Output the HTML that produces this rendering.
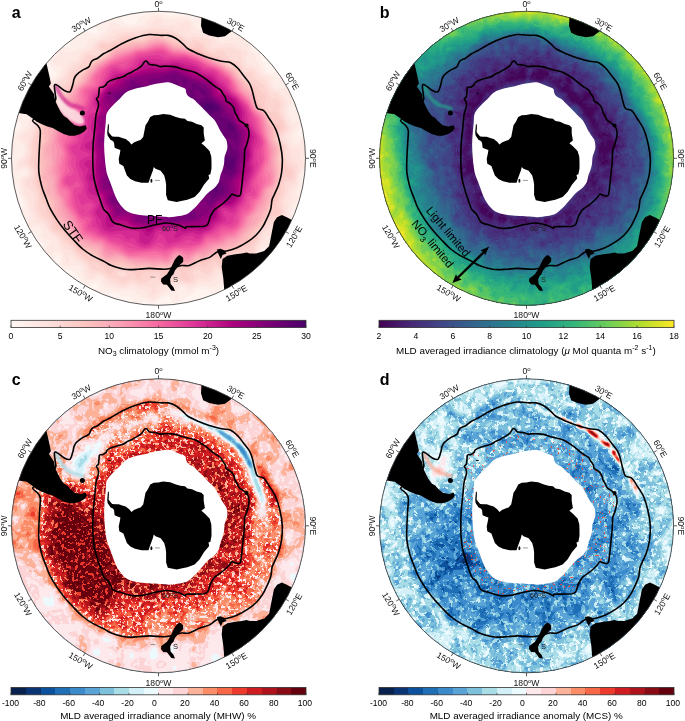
<!DOCTYPE html>
<html><head><meta charset="utf-8"><style>
html,body{margin:0;padding:0;background:#fff;}
svg{display:block;font-family:"Liberation Sans",sans-serif;will-change:transform;}
</style></head><body>
<svg width="685" height="721" viewBox="0 0 685 721">
<defs>
<clipPath id="cc"><circle r="147"/></clipPath>
<clipPath id="cstf"><path d="M-9.5 -123.8C-5.1 -124.2 -0.4 -123.1 2.8 -122.9C6 -122.8 7.5 -123.3 9.8 -122.9C12.1 -122.5 14.5 -121.6 16.8 -120.3C19.1 -119 21.8 -116.8 23.8 -115C25.9 -113.3 26.5 -111.6 29.1 -109.8C31.7 -108.1 36.1 -106.1 39.6 -104.5C43.1 -103 46.2 -101.8 50.1 -100.5C54 -99.3 59.4 -97.8 63 -97C66.6 -96.2 69.2 -96.8 71.8 -95.7C74.4 -94.6 76.5 -92.8 78.8 -90.5C81.1 -88.2 83.8 -84.3 85.8 -81.7C87.9 -79.1 89.8 -77 91.1 -74.7C92.4 -72.4 92.8 -70.6 93.7 -67.7C94.6 -64.8 95.4 -60.2 96.3 -57.2C97.2 -54.2 97.5 -51.4 99 -49.8C100.5 -48.2 103.5 -49.3 105.5 -47.5C107.5 -45.8 109 -42.4 111 -39.3C113 -36.2 115.4 -33.2 117.2 -29.1C119 -25 120.5 -19.4 121.6 -14.5C122.7 -9.6 123.6 -4.8 123.8 0.1C124 5 123.6 10.3 123 14.7C122.4 19.1 121.3 22.7 120.1 26.4C118.9 30 116.8 34 115.7 36.6C114.6 39.1 114.1 39.3 113.5 41.7C112.9 44.1 113 48.1 112.2 51C111.4 53.9 110.2 56.1 108.9 59C107.5 61.9 106 65.6 104.1 68.6C102.2 71.5 100.1 74.3 97.7 76.7C95.3 79.1 92.9 81 89.7 83.1C86.5 85.2 82 87.9 78.4 89.5C74.8 91.1 71.2 92 68 92.7C64.8 93.4 62 92.4 59.2 93.5C56.4 94.6 54 97.6 51.1 99.1C48.1 100.5 44.9 100.8 41.5 102.2C38.1 103.5 33.8 106.4 30.7 107.2C27.6 108 26 106.8 23.1 107.2C20.2 107.6 16.3 109.1 13.5 109.7C10.7 110.3 9.8 110.9 6 111C2.2 111.1 -4.8 110.1 -9.2 110.1C-13.6 110.1 -16.4 110.8 -20.5 111C-24.6 111.2 -29.4 111.6 -33.8 111C-38.2 110.4 -43.8 108.4 -47.1 107.2C-50.4 106 -50.6 105.2 -53.6 103.6C-56.6 102 -61.6 100 -65.3 97.8C-69 95.7 -72.5 93.4 -75.8 90.7C-79.1 88 -82 84.7 -85.1 81.4C-88.2 78.1 -91.8 74.2 -94.5 70.9C-97.2 67.6 -99.2 65.1 -101.5 61.6C-103.8 58.1 -106.6 53.6 -108.5 49.9C-110.4 46.2 -111.3 42.8 -112.7 39.2C-114.1 35.6 -115.7 32.3 -116.8 28.1C-117.9 23.9 -119.1 18.8 -119.6 14.2C-120.1 9.6 -119.7 4.9 -119.6 0.3C-119.5 -4.3 -119.1 -9 -118.9 -13.6C-118.7 -18.2 -117.9 -24.3 -118.2 -27.5C-118.5 -30.7 -119.7 -31.3 -121 -33C-122.3 -34.7 -126.3 -36.4 -125.9 -37.9C-125.5 -39.5 -121.4 -40.2 -118.5 -42.3C-115.6 -44.4 -111.1 -47.6 -108.5 -50.3C-105.9 -53 -103.9 -56.1 -103 -58.3C-102.1 -60.5 -103 -61.1 -103.2 -63.6C-103.4 -66.1 -104.5 -71.6 -104 -73.1C-103.5 -74.6 -101.9 -73.2 -100.3 -72.4C-98.7 -71.6 -96.5 -69 -94.5 -68C-92.5 -67 -90.1 -65.5 -88.6 -66.5C-87.1 -67.5 -86.4 -71.6 -85.7 -73.8C-85 -76 -85 -78 -84.3 -79.7C-83.6 -81.4 -82.8 -82.7 -81.3 -84.1C-79.8 -85.6 -77.4 -87.2 -75.5 -88.4C-73.6 -89.6 -71.2 -89.9 -69.7 -91.4C-68.2 -92.9 -68.2 -95.8 -66.7 -97.2C-65.2 -98.7 -62.8 -98.9 -60.9 -100.1C-59 -101.3 -57.2 -103.2 -55.1 -104.5C-52.9 -105.8 -51.2 -106.3 -48 -108C-44.8 -109.8 -39.8 -113 -35.7 -115C-31.6 -117.1 -27.9 -118.8 -23.5 -120.3C-19.1 -121.8 -13.9 -123.4 -9.5 -123.8Z"/></clipPath>
<clipPath id="cpf"><path d="M-14 -96.6C-13.3 -97.3 -12.8 -97.4 -12.2 -97.2C-11.6 -97 -11 -96 -10.5 -95.5C-10 -95 -10.1 -94.4 -9.3 -94C-8.5 -93.7 -7 -93.6 -5.8 -93.4C-4.6 -93.2 -3.5 -93.4 -2.3 -93.1C-1.1 -92.8 -0.2 -91.9 1.5 -91.7C3.2 -91.6 5.5 -92.3 8.1 -92.2C10.6 -92.2 13.9 -92 16.8 -91.4C19.7 -90.8 22.4 -89.6 25.6 -88.7C28.8 -87.8 32.9 -87.4 36.1 -86.1C39.3 -84.8 42.3 -82.6 44.9 -80.9C47.5 -79.2 49.6 -77.3 51.5 -75.8C53.4 -74.3 54.8 -73.1 56.5 -71.9C58.2 -70.7 60.7 -69.6 62 -68.4C63.3 -67.2 63.3 -66.3 64.1 -65C64.9 -63.7 66.3 -62.1 66.9 -60.8C67.5 -59.5 66.8 -58.3 67.6 -57.3C68.4 -56.3 70.5 -55.8 71.8 -54.6C73.1 -53.5 74.4 -51.9 75.2 -50.4C76 -48.9 76 -47 76.6 -45.6C77.2 -44.2 78 -43.4 78.7 -42.1C79.4 -40.8 79.8 -39.1 80.8 -37.9C81.8 -36.8 83.8 -36.1 84.9 -35.2C86 -34.3 86.9 -33.3 87.7 -32.4C88.5 -31.5 89.3 -31.1 89.8 -29.6C90.3 -28.1 90.7 -25.8 90.5 -23.3C90.3 -20.8 89.2 -17 88.5 -14.5C87.8 -12 86.8 -11.3 86.3 -8.3C85.8 -5.3 86 -0.4 85.7 3.5C85.4 7.4 84.9 11.4 84.5 15.3C84.1 19.2 83.8 23.5 83.3 27.1C82.8 30.7 82.7 35.4 81.6 37.1C80.5 38.8 78.3 37.3 76.9 37.1C75.5 36.9 74.3 35.6 73.3 35.9C72.3 36.2 72.4 37.4 71 38.9C69.6 40.4 67.1 43 65.1 44.7C63.1 46.4 60.5 48 59 49.2C57.5 50.4 56.9 50.3 55.8 51.7C54.7 53.1 53 55.9 52.2 57.6C51.3 59.3 51.2 60.6 50.7 62C50.2 63.4 49.9 65.2 49 66.2C48.1 67.2 47.7 67.5 45.5 67.9C43.3 68.2 38.6 68.2 35.6 68.3C32.6 68.4 29 68.2 27.5 68.5C26 68.8 27.8 70.2 26.8 70C25.8 69.8 24.5 68.3 21.6 67.4C18.7 66.5 13.4 64.8 9.3 64.7C5.2 64.5 0.8 65.8 -3 66.5C-6.8 67.2 -9.7 68.5 -13.5 69.1C-17.3 69.7 -21.6 70.4 -25.7 70C-29.8 69.6 -34.7 67.5 -38 66.5C-41.3 65.5 -43.5 65.7 -45.5 63.9C-47.5 62.1 -48.5 57.8 -50.1 55.7C-51.6 53.5 -53.4 53.3 -54.8 51C-56.2 48.7 -57.3 44.6 -58.3 41.7C-59.3 38.8 -60 37.3 -61 33.7C-62 30 -63.7 24.8 -64.5 19.8C-65.3 14.8 -65.6 9.2 -65.7 3.5C-65.8 -2.2 -65.6 -9.1 -65.3 -14.5C-65 -19.9 -64.3 -24.2 -63.8 -29.1C-63.3 -34 -63 -39.8 -62.4 -43.7C-61.8 -47.6 -60.3 -50.1 -60 -52.3C-59.7 -54.5 -60.4 -55.9 -60.7 -57.1C-61.1 -58.3 -62.2 -58.6 -62.1 -59.4C-62 -60.2 -60.5 -60.5 -60.1 -61.8C-59.7 -63.1 -59.7 -65.5 -59.5 -67C-59.3 -68.5 -59.5 -70.1 -58.9 -70.8C-58.3 -71.5 -57.1 -70.7 -56 -71.1C-54.9 -71.5 -53.3 -72.6 -52.5 -73.4C-51.7 -74.2 -52.2 -75 -51.3 -75.8C-50.4 -76.6 -48.7 -77.5 -47.2 -78.1C-45.7 -78.7 -44 -79.2 -42.5 -79.6C-41 -80 -39.8 -80.4 -38.5 -80.7C-37.2 -81.1 -36.3 -81.1 -35 -81.7C-33.7 -82.3 -32.3 -83.7 -30.9 -84.4C-29.5 -85.1 -28 -85.5 -26.8 -86.1C-25.6 -86.7 -25.1 -87.2 -23.9 -87.9C-22.7 -88.6 -21.1 -89.3 -19.8 -90.2C-18.5 -91.1 -17.3 -92 -16.3 -93.1C-15.3 -94.2 -14.7 -95.9 -14 -96.6Z"/></clipPath>
<filter id="bl1" x="-20%" y="-20%" width="140%" height="140%"><feGaussianBlur stdDeviation="0.9"/></filter>
<filter id="n1" x="-150" y="-150" width="300" height="300" filterUnits="userSpaceOnUse" color-interpolation-filters="sRGB"><feTurbulence type="fractalNoise" baseFrequency="0.22" numOctaves="2" seed="3"/><feColorMatrix type="matrix" values="0 0 0 0 1  0 0 0 0 1  0 0 0 0 1  1 0 0 0 0"/><feComponentTransfer><feFuncA type="discrete" tableValues="0 0 0 0 0 0 0 0 0 0 0 0 0 0 0 0 0 0 0 0 0 0 0 0 0 0 0 0 0 1 1 1 1 1 1 1 1 1 1 1 1 1 1 1 1 1 1 1 1 1"/></feComponentTransfer></filter><mask id="mn1" maskUnits="userSpaceOnUse" x="-150" y="-150" width="300" height="300"><rect x="-150" y="-150" width="300" height="300" fill="#fff" filter="url(#n1)"/></mask><filter id="n2" x="-150" y="-150" width="300" height="300" filterUnits="userSpaceOnUse" color-interpolation-filters="sRGB"><feTurbulence type="fractalNoise" baseFrequency="0.22" numOctaves="2" seed="7"/><feColorMatrix type="matrix" values="0 0 0 0 1  0 0 0 0 1  0 0 0 0 1  1 0 0 0 0"/><feComponentTransfer><feFuncA type="discrete" tableValues="0 0 0 0 0 0 0 0 0 0 0 0 0 0 0 0 0 0 0 0 0 0 0 0 0 0 0 0 0 0 1 1 1 1 1 1 1 1 1 1 1 1 1 1 1 1 1 1 1 1"/></feComponentTransfer></filter><mask id="mn2" maskUnits="userSpaceOnUse" x="-150" y="-150" width="300" height="300"><rect x="-150" y="-150" width="300" height="300" fill="#fff" filter="url(#n2)"/></mask><filter id="n6" x="-150" y="-150" width="300" height="300" filterUnits="userSpaceOnUse" color-interpolation-filters="sRGB"><feTurbulence type="fractalNoise" baseFrequency="0.45" numOctaves="1" seed="23"/><feColorMatrix type="matrix" values="0 0 0 0 1  0 0 0 0 1  0 0 0 0 1  1 0 0 0 0"/><feComponentTransfer><feFuncA type="discrete" tableValues="0 0 0 0 0 0 0 0 0 0 0 0 0 0 0 0 0 0 0 0 0 0 0 0 0 0 0 0 0 0 0 0 0 0 0 1 1 1 1 1 1 1 1 1 1 1 1 1 1 1"/></feComponentTransfer></filter><mask id="mn6" maskUnits="userSpaceOnUse" x="-150" y="-150" width="300" height="300"><rect x="-150" y="-150" width="300" height="300" fill="#fff" filter="url(#n6)"/></mask><filter id="n5" x="-150" y="-150" width="300" height="300" filterUnits="userSpaceOnUse" color-interpolation-filters="sRGB"><feTurbulence type="fractalNoise" baseFrequency="0.3" numOctaves="2" seed="17"/><feColorMatrix type="matrix" values="0 0 0 0 1  0 0 0 0 1  0 0 0 0 1  1 0 0 0 0"/><feComponentTransfer><feFuncA type="discrete" tableValues="0 0 0 0 0 0 0 0 0 0 0 0 0 0 0 0 0 0 0 0 0 0 0 0 0 0 0 0 0 1 1 1 1 1 1 1 1 1 1 1 1 1 1 1 1 1 1 1 1 1"/></feComponentTransfer></filter><mask id="mn5" maskUnits="userSpaceOnUse" x="-150" y="-150" width="300" height="300"><rect x="-150" y="-150" width="300" height="300" fill="#fff" filter="url(#n5)"/></mask><filter id="n3" x="-150" y="-150" width="300" height="300" filterUnits="userSpaceOnUse" color-interpolation-filters="sRGB"><feTurbulence type="fractalNoise" baseFrequency="0.15" numOctaves="2" seed="11"/><feColorMatrix type="matrix" values="0 0 0 0 1  0 0 0 0 1  0 0 0 0 1  1 0 0 0 0"/><feComponentTransfer><feFuncA type="discrete" tableValues="0 0 0 0 0 0 0 0 0 0 0 0 0 0 0 0 0 0 0 0 0 0 0 0 0 0 0 0 0 0 1 1 1 1 1 1 1 1 1 1 1 1 1 1 1 1 1 1 1 1"/></feComponentTransfer></filter><mask id="mn3" maskUnits="userSpaceOnUse" x="-150" y="-150" width="300" height="300"><rect x="-150" y="-150" width="300" height="300" fill="#fff" filter="url(#n3)"/></mask><filter id="n4" x="-150" y="-150" width="300" height="300" filterUnits="userSpaceOnUse" color-interpolation-filters="sRGB"><feTurbulence type="fractalNoise" baseFrequency="0.15" numOctaves="2" seed="13"/><feColorMatrix type="matrix" values="0 0 0 0 1  0 0 0 0 1  0 0 0 0 1  1 0 0 0 0"/><feComponentTransfer><feFuncA type="discrete" tableValues="0 0 0 0 0 0 0 0 0 0 0 0 0 0 0 0 0 0 0 0 0 0 0 0 0 0 0 0 0 0 1 1 1 1 1 1 1 1 1 1 1 1 1 1 1 1 1 1 1 1"/></feComponentTransfer></filter><mask id="mn4" maskUnits="userSpaceOnUse" x="-150" y="-150" width="300" height="300"><rect x="-150" y="-150" width="300" height="300" fill="#fff" filter="url(#n4)"/></mask><path id="va1" d="M-5.3 -146L-1 -146.2L12 -142.1L20 -143.4L28 -142.4L36 -139.8L42 -142L43.9 -141L45 -139L44.7 -137L42.9 -133L44.4 -131L46.8 -130L52 -128.6L54 -128.6L59 -131.7L62 -132.3L64 -131.6L69 -127.2L76 -127L92 -120.9L98 -120.8L102 -122L105 -121.2L107.4 -119L107.7 -117L106.1 -116L103 -115.2L97 -114.1L95.2 -113L94.3 -111L95.5 -108L100.9 -104L102 -102.6L103.2 -98L105.9 -93L107 -87.4L110 -85.5L114 -85.4L117 -86.9L119 -90.2L120 -90.9L122 -90.5L123.7 -88L127 -77.5L134 -72.1L135.6 -69L137.5 -62L138.7 -61L142 -60.6L142.9 -60L144 -57L143.9 -52L141.4 -46L144.2 -34L143 -31.2L139.6 -27L138.8 -24L140 -22.5L145 -21.8L150 -18.5L150 -2.9L149.3 0L150 3.1L150 12.7L146 14.6L144 17.1L143.7 20L144.7 26L142 32L142.4 34L144.5 38L144.4 40L143 42L138.5 46L137 49L135.2 56L135 62.8L133.4 68L133.9 73L133.2 76L131 77.5L124 78.2L121 79.9L119.8 82L117.5 90L116 93.3L109 103.3L104 109L103 109.3L91 107.8L88 108.5L86.3 111L86.2 121L85.3 123L82 123.7L70 123L67 123.9L65.1 126L61.7 132L59.8 139L58 140.3L52 141.5L48 145.3L46 146.4L37 146.3L35 145.2L34.5 144L35 141.7L37 140.2L47 139.8L51 138.5L52.9 137L53.3 135L52 133.4L48.8 132L44 130.9L41 130.8L39 131.5L34 136.9L27 139L21 145L17 146.3L14.1 145L11.4 139L9 137.5L7 137.9L-3 143.7L-6 144.9L-8 144.9L-14 143.5L-21 144.4L-24.8 143L-27.5 139L-29 138.1L-35 138.6L-39.7 136L-44 134.4L-47 134.5L-50 135.9L-56 135L-62 136.3L-64.5 135L-67 132.3L-73 132.5L-73.6 131L-73.3 128L-73.9 126L-84.3 114L-88 111.9L-96 111.1L-98.1 110L-100.1 108L-100.5 107L-98.8 104L-98.1 101L-98.5 99L-100 97.3L-102 97.4L-103.3 99L-103.9 102L-103.5 106L-105 106.7L-109 106L-115 101L-116.7 98L-117.3 95L-117 93L-114.7 88L-114.8 86L-119.4 82L-123 75L-125 74L-130 73.3L-132 71.9L-133.4 70L-135.3 63L-137.9 59L-138.4 57L-138.1 54L-135.7 50L-135.1 48L-135.3 43L-138.6 37L-142 28.3L-144 26.5L-147 27.1L-148 26.9L-148.5 26L-148 24.5L-145.3 22L-144.9 21L-145.4 19L-150 11.4L-150 6.8L-147 4L-146.2 1L-147 -2L-150 -5.2L-150 -17.7L-146.7 -20L-143 -25.6L-138.6 -29L-137.1 -31L-136.9 -34L-137.5 -35L-141 -35.7L-143 -37.2L-143.6 -39L-143 -41.6L-141 -43.6L-133.3 -47L-131.2 -49L-130.6 -51L-131 -53L-132.3 -55L-139.1 -59L-140.1 -61L-140.1 -63L-130 -75.8L-126 -78.9L-114 -82L-106 -80.5L-103 -82.1L-101.9 -84L-102 -85L-107.9 -92L-108.8 -96L-108 -99L-103.8 -105L-102.2 -110L-101 -111.8L-98 -112.9L-92 -110.9L-89 -111.3L-87.9 -113L-87.7 -116L-87 -118L-85 -120.2L-79.7 -123L-79.3 -126L-78 -127.6L-76 -127.6L-64 -123.6L-61.5 -124L-60.5 -125L-60 -127L-62.8 -131L-62.8 -133L-61.1 -135L-55 -138.4L-48 -139.3L-42 -141.6L-40 -141.6L-38 -140.6L-35.9 -137L-33.8 -135L-30 -133.8L-26 -133.9L-21.6 -136L-19 -140.1L-17 -142.2L-15 -143.2L-10 -143.8ZM134 -50.1L133.6 -49L134 -48.4L135 -48.2L135.9 -49L135.5 -50ZM-64 125L-67 125.6L-68.7 127L-68.6 129L-67 131.4L-65 131.6L-61 130.6L-59.5 129L-60.3 126L-62 125.1ZM-98.7 -145L-97 -145.1L-95 -142.7L-91 -141.8L-89.7 -141L-88.6 -139L-88 -136L-88.1 -134L-89 -132.7L-90 -132.4L-92 -133L-95.2 -136L-99 -142L-99.2 -144ZM136 81L137 80.4L139 80.7L142.8 83L143 86.3L142 88.5L141 89.3L139 89.5L136.8 88L135.4 84ZM-150 118L-143.9 124L-142.6 126L-142.6 128L-144 130.9L-146 132.6L-148 133.3L-150 132.7ZM148.9 118L150 117.7L150 131.3L149.2 126L147.4 121L147.7 119ZM-77.2 137L-75 136.3L-74 139L-75 141.2L-82 146L-84 145.8L-85.2 145L-86.2 143L-85.1 141L-80 139.3ZM-36.3 142L-34 141.6L-32 142.8L-31 144L-31.4 146L-34 147L-36.8 146L-37.8 144ZM131.2 148L133 147.4L133.7 148L132 148.7Z"/><path id="va2" d="M-4.7 -143L-2 -143.8L0 -143.5L9 -139.7L12 -139L21 -140.3L31 -139L33.8 -137L37 -130.8L39.3 -129L54 -125.2L56 -125.3L60 -127L61 -126.8L62.4 -125L61.2 -119L62 -117.5L63 -117.1L66.7 -118L72 -121.5L74 -122.1L83 -120.9L86.6 -119L89.4 -116L92.1 -108L97 -102.7L97.9 -97L102 -92.7L104.5 -86L107 -84.2L114.4 -82L115.5 -81L114.1 -76L114.3 -74L115 -72.5L117 -71.1L122 -70.3L125 -69.2L126.2 -71L128 -71.6L130 -71.4L132 -69.8L133 -67L132.5 -61L133.5 -56L130.1 -51L129.8 -47L132.6 -39L134 -36.9L136 -35.7L139 -36.5L140 -36.2L140.5 -35L140.1 -33L136.3 -28L134.3 -24L133.6 -20L133.9 -17L135 -15.1L137 -14.5L139 -15.1L143 -18.1L146 -17.7L150 -15.4L150 -8.6L147 -6.3L145.6 -2L146 1L148.1 7L147.9 9L144 13L142.1 16L141.5 19L141.3 26L136.8 34L137.3 36L140 38.2L140.2 40L135.2 45L133.7 48L132 55L132.3 61L130.5 68L131 72L130.7 74L129 75.4L123 76L120 77.8L117.2 82L114.8 90L113 93.1L110 94.7L108.9 94L106.6 89L105 88.5L103.3 90L102.5 92L102 95L102.7 100L101 102L96 104.4L87 104.3L82.9 106L79 108.6L77 111.1L76.5 115L77 116.4L78 117.2L81 117.4L81.6 118L81 119.4L77 119.1L73 120.2L65 121.1L63.5 122L59 126.8L55 128.8L51 128.7L43 127.2L40 127.4L37 128.9L33 133L31 133.8L28.5 133L25.9 129L24 128.3L22 128.4L19.4 130L17 133.7L13 133L7 134L5 135.1L-1 140.4L-6 142.6L-8.9 142L-17 138.3L-22.9 134L-27 132L-30 131.9L-37 132.9L-46 130.6L-52 130.2L-54 128.5L-57 123L-59 121.2L-68 122.5L-71 122.4L-73 121.6L-74.9 120L-76.1 118L-76.9 115L-77.2 110L-78 108.3L-81 107.3L-91 108L-94.6 107L-95.7 105L-96.3 98L-98 95.4L-101 92.9L-103 92.6L-104 93.3L-107 97.9L-109 99.3L-111 99.2L-113.1 98L-114.4 96L-114.2 93L-108.8 85L-108.4 83L-109.4 82L-115 80.2L-116.6 79L-117.5 76L-116.4 71L-118 69.1L-122 68.4L-129 69.5L-130.1 69L-131.3 67L-131 62.2L-129 58.6L-128.8 57L-131.2 51L-132.7 42L-137.2 34L-139.4 23L-139 20.7L-138 19.1L-133 17.5L-131.1 16L-130.9 13L-132.6 11L-134 10.7L-140 13.3L-142 13.3L-143.1 12L-143.3 10L-142.8 6L-141.7 3L-135.4 -3L-134 -5.3L-133.5 -8L-134.4 -12L-141.7 -19L-141.6 -22L-140.2 -24L-133.7 -29L-130 -34.5L-129 -42L-126 -45.5L-124.7 -49L-125 -51.7L-126.7 -54L-130 -57.4L-136 -61.7L-136.3 -63L-135.8 -65L-132.9 -70L-130 -73.4L-128 -74.9L-125 -75.7L-123 -75.3L-121.5 -74L-120.7 -67L-119 -65.8L-116 -65.4L-113.9 -68L-115 -74L-114 -76.5L-112 -77.6L-107 -77.9L-104 -78.7L-99.6 -82L-97.7 -85L-97.2 -90L-98 -91.4L-99 -91.8L-102 -92L-104 -92.9L-105.7 -95L-106 -97L-105 -99.3L-101.5 -103L-99 -108.1L-97 -108.4L-93 -106.2L-90 -106L-84 -107.3L-79 -109.8L-73.1 -111L-72 -112.1L-71 -117L-70 -119.2L-68 -120.3L-62 -120.4L-58.4 -122L-55 -125.2L-50.9 -128L-49.8 -130L-49.5 -134L-48.8 -135L-47 -135.9L-43 -135.6L-37.9 -133L-34 -131.7L-30 -130.9L-26.8 -131L-18 -133.5L-13.2 -134L-13.3 -137L-12.8 -138ZM-149 -15L-147 -15.5L-145 -14.9L-144 -11L-145.1 -8L-147 -7.8L-150 -9.9L-150 -14.3ZM16.7 136L17 135.1L18 135.3L19.5 138L20 140L19 141.8L18 142L16.4 140L16.2 138Z"/><path id="va3" d="M-2.2 -140L0 -140.2L2.4 -139L3.5 -137L3.9 -134L5 -133.3L7 -132.9L13 -133.9L15 -133.7L18 -130.8L20 -130.1L20.9 -131L18.3 -134L19.4 -135L27 -136.4L30 -136.3L32.3 -134L32.8 -130L31 -126.7L28.6 -125L29 -124.6L34 -125.3L42 -124L47 -124.1L50 -123.5L55.7 -121L58.2 -116L60 -114.2L63 -113.8L72 -115.3L74 -115.2L81 -110.5L86 -109.2L87.9 -108L89.3 -105L86.8 -99L88 -95.4L90 -93.8L97 -91.8L98.9 -90L102 -84.3L110.2 -80L111.6 -74L113 -70.9L115 -69.1L121 -66.5L128 -57L128.5 -55L127 -49L127 -46L129 -38.9L133.3 -31L132.1 -27L128.5 -22L128.5 -20L133 -12.3L135 -10.8L139.4 -10L141 -8.8L141.5 -6L141.1 -1L144.3 5L144.6 7L140.1 16L138.9 26L137.6 28L134.2 31L132.8 34L131.9 40L130 44.4L129.7 49L128.2 56L128.7 62L126.3 71L125 72L121 72.2L117 77.4L114 79.7L112 79.2L109.1 77L108 77.2L105.6 82L100.9 88L99.3 97L97.5 100L94 101.5L86 101.6L80 103.8L76 107.2L72.3 116L70 117.7L66 117.7L60 115.2L59 115.5L55.5 121L52 123.4L49 124.2L41 123.8L32 129.1L30 128.7L25 126.3L19 125.8L16 126.1L10 129.5L4 131.4L-1.3 138L-4 139.8L-6 140.2L-8 139.4L-9 138.4L-10.7 134L-12 132.4L-19 130.7L-25 127.4L-27 127.2L-34 129.6L-39 129.9L-51 125.3L-55.7 119L-58 117.5L-61 117.3L-64 119.3L-66 119.9L-70 119.2L-71.6 118L-72.6 116L-73.2 110L-74.6 107L-77 105.2L-83.4 102L-88 97.1L-90.3 97L-90.2 99L-89 102L-89.2 103L-91 103.9L-92 103.5L-93.5 97L-98 91L-100.4 84L-102.7 80L-109.4 75L-115 66.2L-117 65.2L-122 64.2L-123.7 63L-124.9 56L-128.9 48L-130.1 40L-134.3 34L-136.6 24L-135.6 21L-132 19.1L-129.4 17L-128.6 15L-128.9 13L-130 11L-132 9.2L-134 8.6L-138 9L-139 8.6L-139.8 7L-138.9 4L-133.2 -2L-131.4 -8L-131.6 -11L-133 -16.6L-136 -19.2L-136.9 -21L-136.8 -22L-135.1 -24L-132 -25.4L-131 -26.4L-125.6 -34L-124.9 -36L-124.7 -41L-122.2 -51L-122.4 -56L-124.5 -58L-126.3 -61L-131 -62.7L-132.4 -64L-132.6 -67L-130.1 -71L-127 -72.9L-124.6 -72L-124.1 -70L-125.1 -64L-124.9 -63L-124 -62.3L-119 -60.6L-114 -61L-112 -62.7L-110.7 -65L-111.3 -72L-110.8 -74L-109 -75.2L-102 -77.5L-98.4 -80L-94.8 -84L-92.7 -91L-90 -94.9L-88 -96.6L-83 -97.8L-81 -99L-77.4 -106L-70 -109.1L-68 -111L-64.8 -116L-50 -122.8L-46 -127.5L-44 -128.9L-39 -128.5L-28 -128.7L-19 -130.6L-14 -130.4L-11 -130.9L-8.1 -133L-5.2 -137Z"/><path id="va4" d="M-6.5 -130L-3 -130.7L4 -129.3L12 -129.4L29 -120.4L36 -121.8L43 -120.2L49 -120L51.5 -119L53 -117L52.9 -116L51 -113L51.8 -111L53 -110.2L55 -110L65 -111.4L70 -110.7L74 -110.8L82.7 -106L83.5 -104L83.3 -99L86.7 -91L88 -90.2L93 -90.2L95.6 -89L99.4 -82L107 -77.9L112 -67.7L114 -66.1L118 -65.1L120 -63.8L124.3 -57L125.2 -54L123.9 -48L123.9 -46L130.3 -31L129.5 -28L125.1 -23L124 -20L125 -18.1L128.2 -15L129.8 -12L131 -5.4L133.4 -2L133.2 2L133.9 4L139 6L140.3 8L138.3 16L137 24L135 25.9L130.5 27L129.1 35L125.3 43L126.5 50L124.7 62L124 63.2L122 64.6L113 66.2L110.5 70L104.8 74L103.8 76L102.9 81L98.6 88L97.5 95L96 97.9L94 98.9L87 98.6L79 100.4L77 101.8L74.4 105L71 112.8L69 114.8L66 114.9L60 111.2L58 111L56.8 112L53.6 117L51 119.2L47 120.3L41 119.4L36 124.1L33 126L31 126.3L16 122.6L14 123.2L10 125.9L8 126.6L1 126.3L-1 126.8L-3 129L-2.6 132L-3 134.3L-4 135.7L-5 136.1L-6 135L-7.2 130L-9 128.6L-18 127.4L-26 124.2L-28 124.5L-34 127L-39 127L-50 121.6L-57 115.6L-61 114.7L-67 115.7L-68.8 114L-71.3 108L-73 105.5L-81 100L-88 91.8L-94.1 90L-100.4 79L-108 73L-112.9 65L-119 60L-120.5 58L-124.2 50L-124.6 48L-123.3 39L-123.8 36L-132 28.1L-133.4 25L-133 22.5L-127.1 18L-126.4 16L-126.5 14L-127.2 12L-129 9.4L-134.5 5L-134.4 4L-130.8 -2L-129.8 -5L-129.3 -9L-129.7 -16L-126.4 -26L-122.1 -35L-121.7 -43L-119.3 -53L-118 -55.4L-116 -56.2L-111 -56.9L-109.2 -58L-107.7 -60L-106 -65L-108.2 -71L-107.5 -73L-100 -75.8L-95 -79.8L-92.4 -83L-90 -88.3L-88.1 -91L-79.3 -97L-75 -104.4L-66 -108.2L-64.6 -110L-62.8 -114L-60 -116.4L-56 -118L-48.3 -119L-46 -120.2L-41.4 -124L-37 -125.5L-12 -128.4Z"/><path id="va5" d="M-8.9 -127L-3 -127.1L14 -125.4L21.7 -122L30 -116.3L31 -116.2L36 -118.6L42.6 -117L45.6 -115L48.1 -110L51 -107.1L55 -105.9L62 -108L65 -107.4L68 -103L71.8 -99L75 -97.5L79 -97L81 -95.8L86 -85.8L88 -85.3L92 -86.7L93.4 -86L95.2 -80L101.7 -76L105.3 -73L113 -59.4L114 -59.1L118 -59.7L120 -58L121.1 -56L121.6 -53L120.6 -49L120.8 -46L126.9 -34L127.7 -31L126.5 -28L121.3 -22L120.8 -19L122.3 -17L125.9 -14L127.1 -12L127.3 -9L126 -4L126.6 -1L130.5 6L135.2 9L136.5 11L136 18L135 21.1L133 22.3L128 22.9L126.2 25L126.3 33L122.4 42L121.6 45L124 52L122.5 59L120 61.3L113 62L111 62.9L106.6 69L103 72.5L101.7 75L100.5 81L96.1 88L95 93.7L94.3 95L92 95.6L86 94.7L76 96.9L71.5 99L70 101L70.7 105L70.4 108L69.6 110L68 111.7L65 111.6L60 107.9L57 107L55 108.5L52 114.2L49 116.2L47 116L41 111.8L39 111.5L36.9 112L34.1 114L34 115L35.8 119L35.5 121L33.9 123L31.5 124L28 123.8L22 122.3L20 121L17 117.8L15 118.6L9 123.1L5 123.5L2 122.5L-0.2 121L-1.9 117L-3 116.5L-5 117L-6.2 120L-7.9 122L-12.8 124L-16 124.6L-19 124.4L-26 120.6L-28 120.3L-32 123.6L-35 124.4L-37 123.8L-41 120.9L-47 120.2L-49 119.5L-56 113.6L-64 111.6L-66 110.6L-70.5 105L-79 98.7L-87 88.7L-94 83.3L-98.9 77L-106.2 72L-108.3 69L-110 63.4L-115 59.4L-117 57L-121 48.7L-120.2 40L-120.7 35L-125.9 25L-125.9 23L-124.1 17L-124.2 13L-125.5 10L-129 6L-130 4L-127.2 -2L-126.6 -7L-127.2 -14L-123.1 -27L-119.8 -35L-119.1 -44L-117.8 -49L-116 -52.2L-109 -54.6L-105.8 -57L-102.6 -64L-102.6 -69L-102 -70.6L-97 -71.9L-91.2 -76L-90.6 -77L-89.8 -82L-88 -85.6L-86 -87.5L-80 -91.2L-75.7 -97L-72.8 -102L-70.8 -103L-67 -103.5L-60 -102.3L-57 -104L-56.6 -105L-56.9 -106L-60 -108.3L-60.9 -110L-60.6 -113L-58.7 -115L-56 -116L-50 -115.9L-45.7 -117L-42 -118.6L-37 -122.2L-33 -123.4L-26 -123.7L-20 -122L-18 -122L-14 -125.7ZM-40 112.6L-41 113.6L-41.3 115L-40.6 117L-39 118.7L-34 118.5L-31.5 117L-31.9 115L-33 114L-37 112.4Z"/><path id="va6" d="M-11.3 -124L-8 -124.9L0 -124.8L4.2 -124L10 -121.6L15 -122L17 -121.6L21.8 -119L26.6 -114L31 -111.7L34 -111.9L36 -113.8L38 -114.8L41 -114.4L43.1 -113L47.2 -107L50 -105L55 -103.3L61 -102.3L68 -96.8L72.1 -95L78 -93.7L80 -92.4L81.8 -89L83 -82.8L89.8 -77L97 -73.7L99.4 -71L102.5 -66L107 -62.3L107.6 -60L105.7 -54L106.2 -52L108 -49.3L111 -46.6L113 -46.5L115 -47.3L116 -46.8L122.3 -39L124.6 -34L125.1 -31L123.6 -28L118.9 -23L118.4 -20L120 -16.3L123.8 -13L124.8 -11L124.8 -9L123 -2.5L123.3 1L128 7.6L133 12L133.8 14L133.8 16L133 18L131 18.9L128 19L126 19.7L124.3 22L123 25L121.7 37L118 47L118.5 49L121 52.3L121.1 54L120.4 56L119 57.2L118 57.4L114 56.9L110 59.7L105.3 67L100.1 73L98.5 80L92 89L90 90.2L85 91.1L80 93.2L74 94.7L68 97.6L66.6 99L65.9 101L67 106L67 107L66 108.1L64 107.5L59 104L55 103.3L53 104.2L48 108.6L45 108.9L41 107.8L39 107.8L31.8 111L30 112L28.4 114L28.5 116L30.7 120L30.2 121L29 121.4L25 121.2L23.1 120L22.5 118L22.6 114L20.9 112L18 110.8L15.1 112L10.4 119L7 120.9L4 120L3 118.9L1 114.4L0 113.6L-2 113.2L-14 113.6L-16 115L-18 119.4L-20 120.2L-22.1 119L-25 114L-27 112.2L-38 108.9L-40.2 109L-43 110.2L-44.9 112L-47 115.8L-48 115.9L-57 108.5L-61 103.9L-63 103.2L-67 103.6L-74 99.8L-81 93.8L-86 86.4L-92.1 81L-95.8 76L-102.9 72L-105.1 70L-106 68L-106 63L-107 61L-111.2 57L-112.3 55L-112.7 47L-113.5 46L-116 44.5L-117 43L-118.9 34L-122.3 25L-121.7 11L-124.3 6L-124.8 4L-123.4 -1L-122.6 -7L-123.4 -15L-121 -26L-116 -39.9L-114 -43.8L-112.5 -49L-104.4 -55L-99 -63.5L-95 -67.1L-91.7 -71L-86 -76L-84.9 -80L-86.1 -82L-85 -83.9L-83 -84.5L-81 -84L-79 -85.1L-72 -92L-68 -97.4L-58.4 -101L-52.1 -106L-51.6 -107L-52 -108L-57.4 -111L-57.6 -112L-57 -113L-55 -113.6L-51 -113.1L-49 -113.6L-41 -116.1L-35 -119.6L-31 -120.6L-28 -120.8L-22 -119.4L-17 -119.3L-13.4 -121Z"/><path id="va7" d="M-8.3 -122L-3 -122.8L2 -122.5L10.2 -119L22 -114.9L31 -110.5L35 -109.8L40 -110.6L44.7 -106L48.1 -104L59 -99.4L72 -92L78.1 -90L79.4 -88L79.9 -85L81.7 -82L90 -73.1L94 -71.3L96 -69.4L100.7 -55L112.8 -40L114 -34.8L116 -33.7L119 -34.6L120 -34.4L121.1 -33L121.3 -30L117.4 -25L116.9 -21L118 -17L122.4 -11L122.6 -9L121.3 -3L121.2 1L124.5 11L123 15L121.6 22L118.8 31L118.9 38L118 40.9L114 46L111.7 52L104.3 65L96.4 74L95.2 80L91 85.9L89 87.1L84 88.2L79 91L73 92.8L66 95.8L64.1 97L62 99.8L61 100.3L56 99.3L52.6 100L48 104.1L46 105.1L44 105.2L41 103.9L39 103.9L34 108L26 110.4L19 108.3L15 108.7L11.3 111L8.4 116L7 116.9L5.8 116L4.4 112L3 111L-6 111.4L-14 110.3L-21 111.2L-38 106.7L-42.5 107L-47 108.2L-49 107.9L-56 104.1L-62 99L-68.5 95L-74 95.3L-79 92.9L-81 90.8L-84.5 85L-89.3 80L-93.4 74L-96 72.3L-100 70.8L-102.3 69L-103.9 62L-108.7 54L-109.5 45L-111 42.5L-114.6 40L-116 38L-119.7 26L-120.4 22L-120.3 18L-118.9 11L-119 8.9L-120.9 3L-118.4 -17L-119 -23L-117.1 -30L-111.3 -42L-109.9 -47L-108.7 -49L-102.6 -54L-97.9 -61L-93 -65.7L-89.6 -70L-81.2 -78L-76.8 -84L-67 -94.7L-64.1 -97L-57.7 -100L-51.8 -104L-50 -106L-47 -111.5L-45 -112.6L-40 -113.5L-28 -117.3L-16 -117.8Z"/><path id="va8" d="M-2.4 -121L4 -120.2L16 -114.7L23 -112.9L31 -109.5L40 -107.4L47 -103.5L61 -97L74.8 -89L77 -87.1L80 -82L94 -66.6L96.9 -61L99.2 -54L105 -47.5L108.3 -43L112.2 -34L115.4 -29L115.7 -19L120.7 -10L119.5 1L121.1 10L120 22L118.6 27L116.5 32L116.1 38L115.5 40L112 45.3L109.3 52L103.6 63L100 67.5L91.9 75L90.7 77L88.9 83L84 84.5L78 88.7L53 97.8L47 101.7L45 102.3L40 101.6L38.1 102L34 105.7L31 107.3L25 107.8L17 106.3L9 109.4L2 108.8L-5 109.9L-13 108.4L-22 108.9L-37 104L-45 104.8L-52 103.6L-57 101.1L-63 94.5L-65.5 93L-69 91.8L-76 91.4L-78 90.6L-91.5 73L-95 69.7L-99 67.2L-100 66L-105.9 54L-106.6 46L-107.4 43L-109 40.7L-113.7 37L-114.8 35L-118.5 20L-116 9L-117.9 0L-117.1 -10L-116.3 -13L-114 -17L-113.5 -19L-114.8 -25L-114.6 -29L-112.8 -34L-109.7 -40L-107.8 -46L-106.5 -48L-101.3 -53L-97 -59L-91 -65L-87.1 -70L-78 -78L-73.8 -85L-65.7 -94L-63.2 -96L-57 -99.1L-51 -103L-45 -109.9L-35 -113.3L-25 -116L-15 -116.4L-8 -120.1Z"/><path id="va9" d="M-5.9 -119L-1 -119.7L4 -118.9L8.6 -117L16 -112.8L23 -111.4L32 -108.1L39 -106.6L60 -96.4L75 -87.2L79.1 -81L83.7 -76L86.2 -72L93 -65.2L95.8 -60L98 -52.7L105 -46L107.8 -42L113.7 -28L113.8 -22L114.5 -18L118.7 -11L119.3 -9L117.8 1L119.1 11L119 20L118.3 24L117 27.6L113.7 33L113.2 39L110.3 44L108 50.3L104.4 56L102 62L100.7 64L98 67L90.1 73L87.6 76L85 80.5L77 87L67 90.8L60 92.5L52 96.4L46 100.3L44 100.5L40 99.5L38 99.9L33 104.6L29 106.2L24 106.1L17 104.2L9 107.7L2 107L-5 108.4L-12 106.8L-22 106.9L-38 101.1L-40 101.1L-46 102.3L-51 102.1L-54 101.2L-57 99.1L-60.7 93L-62 91.7L-69 89.5L-74 88.9L-76.6 88L-83 81L-91.8 70L-94.4 66L-99 61.8L-102 57L-103.7 52L-104.2 43L-107 38.3L-112 34L-112.2 31L-110.7 28L-110.5 26L-111.4 24L-114.9 21L-115.6 19L-111.6 5L-112.2 3L-114.7 -1L-115 -10L-114.4 -12L-111.7 -16L-110.5 -19L-110.1 -32L-106.6 -43L-104.3 -47L-95.4 -58L-89 -64.5L-85 -70L-76.6 -77L-72 -85L-64 -93.7L-50 -102.2L-44 -108.5L-24 -114.2L-15 -114.9Z"/><path id="va10" d="M-2.7 -118L1 -118.2L4 -117.6L8.1 -116L15 -111.5L24 -109.9L32 -107.1L39 -105.5L61 -94.7L73.3 -87L81.8 -76L85.1 -70L91 -65L93 -62.4L94.7 -59L96.1 -54L97.5 -51L104 -45.5L106.6 -42L111.8 -28L112.1 -22L113 -18L117.4 -9L117.4 -6L116 1L117.7 15L117.1 24L115 28.3L110.4 33L109.5 40L107 47L105 50.7L100 57L99 62L97.8 64L89 71.4L81.8 80L77 84.1L71 86.1L66 88.6L60 90.1L51 95L46 98.4L44 98.6L40 97.7L38 98L36 99.2L32 103.5L29 104.7L24 104.3L18 101.2L16 101.8L12 104.9L9.5 106L2 105.3L-5 106.6L-11 105.2L-22 104.9L-31 102.3L-39 98.9L-42 98.9L-49 100.5L-52 100.3L-54 99.5L-56.5 97L-58.6 92L-60 89.9L-74 85.8L-77 84.3L-81 80.7L-85 74.6L-89.6 70L-92.1 64L-96.8 59L-100.1 53L-100.8 50L-101 43L-104.6 36L-105.4 33L-106.5 22L-107.5 20L-110 17L-110.7 15L-110.5 12L-108 6.5L-107.5 4L-108.2 1L-112 -5.5L-112.5 -10L-108.6 -17L-106.9 -22L-105.3 -31L-105.6 -37L-105 -41.1L-98.3 -52L-88 -62.7L-83 -70.1L-75 -76.6L-70.8 -84L-62.9 -93L-48.3 -102L-43.1 -107L-23 -112.7L-14 -113.7L-7 -117Z"/><path id="va11" d="M-4.7 -116L0 -116.6L4 -116.3L8 -114.7L15 -110L25 -108.5L39 -104.5L61 -93.6L72.5 -86L80 -76L84 -68.3L90 -63.4L92.1 -61L96.8 -50L103 -44.9L105.4 -42L106.7 -39L109.6 -29L110.9 -20L115.5 -8L114.2 1L116.3 16L115.7 24L114 27.2L109.2 31L108 32.6L107.2 35L106.5 41L105 44.9L101.6 50L94.4 59L93.5 63L92.5 65L80 78.9L77 81.3L71 82.6L65 86.6L57.2 89L46 96L40 95.8L38 96.3L35 98.1L31 102.1L29 103L25 102.4L21 98.6L19 97.6L16.8 98L12 103L10 104.3L8 104.7L2 103.6L-5 104.6L-11 103.4L-20 103.1L-30 101.3L-37 97.9L-41 96.9L-44 97.1L-50 98.6L-53 98L-54.9 96L-57.1 90L-58.6 88L-60.5 87L-66 86L-78 81.1L-80.9 78L-84 72.2L-88 68.4L-89.4 63L-93.1 58L-96.9 50L-98.6 42L-102.6 35L-104 28L-104 20L-107.1 13L-104.9 4L-107.5 -11L-102.4 -30L-103.2 -39L-102.1 -42L-97 -50.9L-89 -58L-85.1 -63L-82.1 -69L-73.5 -76L-69 -84L-60 -93.7L-47.6 -101L-42 -105.4L-22 -111.3L-14 -112.3Z"/><path id="va12" d="M-0.3 -115L3 -115L6 -114.3L15 -108.6L26 -107.2L40 -103L61.7 -92L70 -86.5L72.7 -84L78.9 -75L82.2 -68L91 -59.9L96 -49.3L103 -43.2L105 -40L107.5 -30L108.5 -23L113.2 -8L112.4 8L114.6 17L114 24.2L113 26L108 29.9L106.4 32L103.7 42L96.9 53L91.1 59L87.9 67L78 78.2L75 79.7L70 80.4L64 85L53 88.2L45 93.2L38 94.6L29 100.5L27 100.2L21.3 96L18 95.3L15 96.7L10.7 102L8 103.1L1 101.7L-5 102.4L-11 101.4L-29 100.2L-38 96.1L-43 94.9L-51 95.9L-53 94.2L-55.8 88L-58 85.7L-65 84.3L-71 81.4L-76 80.1L-78 78.8L-80 76L-82.1 70L-84.9 66L-87 60.2L-91 54.8L-94.3 49L-96.7 41L-100.9 34L-102.3 28L-101.8 18L-103.9 12L-102.5 5L-101.2 -7L-103.6 -16L-102.2 -23L-100 -30L-100.8 -39L-95 -49.7L-88.8 -54L-84 -59.4L-80.1 -69L-71.3 -76L-67.8 -83L-60 -92L-42 -103.3L-22 -109.9L-14 -110.9L-6 -114Z"/><path id="va13" d="M-3.4 -113L2 -113.5L5 -113.2L15 -107.3L26 -106.1L39 -102.3L61 -91.2L71 -84L76.7 -76L81 -67.3L90 -58.9L92 -56L95 -48.9L103 -41L104.1 -38L106.7 -24L109.4 -16L111.3 -6L110.7 3L108.6 11L111.9 17L112.2 22L111.7 24L107 28.6L105.3 31L102.5 40L98.3 46L95.7 52L88.6 59L85.5 67L79 74.6L76 77.1L68 79L63 83.3L51 85.9L45 90.2L39 92.4L30 97L28 97L20 93.8L16 94.1L13.4 96L10 100.3L8 101.2L0 99.4L-5 99.9L-12 99.1L-30 98.7L-39 94.2L-50 91.3L-52 89.7L-55.8 85L-58 83.6L-65 82.4L-70 79.7L-76 77.8L-78.4 75L-80.2 68L-85 58.5L-90.1 52L-92.5 48L-95 39L-99 32.9L-100.4 28L-99.5 17L-100.5 9L-96.4 -4L-97 -7.6L-100.7 -17L-100 -22.5L-97.4 -30L-97.9 -37L-97 -38.6L-94 -40.3L-93.6 -45L-92 -48L-83.9 -54L-81.4 -57L-80 -60.2L-79.4 -66L-78.7 -68L-77 -70L-69 -75.7L-66.6 -82L-60 -90L-50 -96.9L-40 -102.1L-28 -106.1L-22 -108.6L-13 -109.9Z"/><path id="va14" d="M2 -112L6 -111.3L12 -107.2L15 -106L27 -104.8L39.4 -101L47 -96.6L60.9 -90L69 -84L72 -81.1L75.2 -76L79.1 -68L90 -56.9L94.4 -48L100.2 -42L102.1 -39L105.1 -25L108.1 -16L109.5 -5L109.2 2L106.4 9L105.8 12L106 15L108.1 21L108.3 23L104 30.3L101.2 39L96.7 45L94.4 51L92.9 53L87.1 58L84.4 65L82.7 68L80 71.3L76 74.6L67 77.1L61 81.9L50 83.8L44 88.5L31 94.3L28 94.3L20 92.3L17 92.4L13.2 94L9 98.3L7 98.8L1 96.8L-2 96.4L-29 97.6L-39 92.3L-50 87.9L-56 82.7L-65 80.3L-69 78L-74.8 76L-76.6 74L-78.6 66L-84 56.7L-89.2 50L-91 46.7L-92.1 41L-91.8 34L-93 32.7L-97 30.6L-98.3 28L-98.6 23L-97 15L-97.1 9L-94.1 -3L-94.4 -6L-97 -15L-97.1 -19L-94.8 -26L-93.7 -32L-89.1 -37L-88.1 -39L-88.5 -46L-85.8 -49L-83 -50.4L-79.7 -51L-77.8 -53L-76.8 -59L-77.1 -66L-76.3 -68L-73 -71L-67 -74L-66 -75.5L-65.8 -79L-64.6 -82L-57.7 -90L-48 -96.6L-38 -101L-28 -104.5L-22 -107.4L-13 -108.6L-4 -111.3Z"/><path id="va15" d="M-2.5 -110L2 -110.5L5 -110.1L12 -105.8L15 -104.8L27 -103.7L38 -100.4L48 -94.6L60 -89.3L70 -81.4L73.2 -77L77.5 -68L89.2 -56L93.9 -47L100.1 -39L102.5 -29L106.8 -16L106.9 -9L107.8 -3L107.6 1L104.7 9L103.3 16L103.1 19L104.1 25L100.1 38L98.8 40L94.8 44L92.3 51L85 57.5L82 66L80 69L77 71.7L74 73.1L66 75L59.8 80L50 81.3L48 82.5L43 87.2L32 91.8L29 92.1L20 90.9L17 91L13.9 92L9 95.2L7 95.9L-3 93.4L-28.8 96L-31.3 95L-38.9 90L-49 86L-55 81.4L-64 78.5L-68 76.1L-73 74.3L-75 72.2L-76.3 65L-80 60.5L-89 46L-89.6 42L-89 36L-89.3 33L-90.7 31L-95.6 28L-97 25L-96.6 20L-93.6 13L-93.5 5L-92.1 -2L-92.4 -5L-94.2 -11L-94.4 -14L-93.3 -17L-91 -20L-91.2 -28L-90.3 -32L-84 -38L-83.8 -40L-85.1 -44L-84.6 -46L-83 -47.2L-77.6 -49L-76 -50.7L-75 -52.9L-73.4 -59L-74.6 -65L-74.3 -67L-72 -69.5L-66 -71.7L-63.9 -73L-62.8 -75L-63.1 -81L-57 -88.2L-48 -95.1L-28 -102.8L-22 -106.1L-19 -106.9L-13 -107.3Z"/><path id="va16" d="M-4.3 -108L1 -108.9L4 -108.8L6.1 -108L11 -104.5L13 -103.7L18 -102.7L26 -102.8L37 -99.4L48 -93.1L59 -88.5L70 -79.5L72.3 -76L75.7 -68L89 -54.4L92.7 -47L98.1 -39L100.5 -30L105.3 -17L105 -8L105.8 1L99 20L98.7 24L100 27L100.2 29L99 36.6L98 38.4L96 40.3L91.8 42L90.8 49L89.2 51L86 52.8L83.7 55L82.6 57L80.7 65L79 67.6L77 69.5L73 71.2L64 72.3L62 73.9L59.9 77L58 78.2L49 78.9L47 80.3L44.6 84L42.2 86L32 89.3L28 89.7L18 89.4L7 93.1L-3 91.1L-10 92.5L-28 93.8L-31 92.8L-38 88L-48 84.6L-54 80.3L-62 77.3L-66 74.5L-71 72.5L-72.7 71L-73.3 69L-72.6 63L-73.3 62L-77 60.4L-79 58.8L-85.8 47L-86.8 42L-87.3 33L-87.9 31L-90 29L-94 26.6L-95.4 24L-95.3 21L-94.5 19L-92 16.1L-89.1 14L-88.7 13L-90.8 6L-90 -3L-92.4 -12L-91.8 -14L-88 -17.3L-86.8 -19L-88.2 -27L-87.5 -31L-85 -33.5L-79.8 -36L-79.1 -38L-80.9 -44L-80.2 -45L-75.4 -48L-72.8 -53L-70.9 -59L-70.8 -66L-69.1 -68L-62.3 -71L-60.2 -73L-59.4 -75L-58.5 -80L-55.2 -87L-53.6 -89L-50 -92.2L-47.1 -94L-36 -96.7L-27 -101.1L-21 -105.1L-12 -106Z"/><path id="va17" d="M-0.1 -107L4 -106.9L8 -103.4L10 -102.5L19 -101.1L27 -101.5L37 -98.1L41.1 -96L47 -91.7L58 -87.7L64 -82L69 -78.5L70.2 -77L72.1 -71L73.8 -68L88.6 -53L96.3 -38L98.3 -30L101.7 -23L104 -16.6L104 -13.8L102.2 -7L103.5 2L101 10.2L94.8 25L94.8 28L97.4 33L97.1 36L95 37.7L91 37.6L89 38.9L87.7 46L82 52.3L79.8 57L79 64L76 67.7L71 69.3L66 68.8L63 69.3L56 75.2L49 76.9L47 77.8L42.5 84L39 85.6L31 86.9L19 87.7L8 90.6L5 90.5L-2 88.5L-10 91L-20 91.1L-31 89.3L-37 85.4L-47 82.6L-53 78.7L-60 76.4L-64 73L-69.6 70L-70.2 69L-70.3 67L-68.4 62L-68.8 60L-71 58.4L-76 58.2L-78.9 56L-81.9 50L-84.5 40L-85 35L-84.6 31L-84 29.8L-80 28.7L-79 28L-78.7 27L-79.1 25L-80 23.9L-82 23.3L-83.5 24L-86 27.1L-89 27.2L-92.8 25L-93.7 22L-92 19L-87 17.2L-85.8 16L-84.9 14L-85.2 11L-87.6 6L-86.7 -1L-89.9 -9L-90.2 -11L-89 -13.5L-85.2 -16L-83.7 -18L-83.7 -20L-85.3 -25L-85.2 -29L-83 -31.4L-78 -32.5L-76.4 -34L-76 -36L-76.4 -43L-72.9 -48L-70 -55L-67.7 -65L-65.8 -67L-60 -69.9L-58.1 -72L-50.6 -89L-48 -91.5L-45 -92.7L-41 -92.7L-36 -91.3L-33 -91.9L-28.6 -97L-20 -103.4L-11 -104.2Z"/><path id="va18" d="M-3.9 -103L1 -103.1L5 -100.7L8 -99.8L14 -100.1L20 -99.6L25 -99.9L28 -99.5L38 -95.9L46 -89.6L55 -87.7L58 -86L62 -80.1L67.9 -76L70 -71L72.9 -67L79.6 -61L87.5 -52L91.4 -43L92.6 -38L95 -33.5L96.6 -29L100.4 -22L101.9 -17L102 -15L98.2 -7L98 0L99.8 4L99.9 6L98.6 11L92.6 25L92.2 28L92.5 32L92 33.1L89 34.8L87.1 37L85.9 43L85.1 45L81.2 49L78 54.9L75 59L75 63L74.1 65L71.9 66L65 66.4L62 67.3L54 73.6L46 76.6L42 81.8L40 83.3L36 83.5L31 81.8L29 81.7L23 84.5L10 88.5L6.7 88L3 84.4L1 84.2L-3 85.6L-9 89.2L-15 89.7L-20 88.7L-27 84.8L-34 83.7L-40 79.8L-47 79.6L-52.1 77L-57 75.5L-59.4 74L-62 70.5L-66.6 68L-66.9 67L-65.6 62L-65.6 60L-70.2 54L-66.4 50L-65.7 47L-67 45.4L-70 44.6L-72.3 45L-76 47.1L-77 46.6L-80.9 38L-81 35.4L-80 34.9L-78 35.4L-77 34.8L-75.6 27L-76.4 24L-79.5 18L-80.1 14L-83.1 7L-81.7 -1L-86 -6.1L-87.6 -10L-86.7 -12L-81 -15L-79.8 -17L-79.8 -19L-81.9 -25L-81.4 -27L-80 -28L-75 -28.6L-73.5 -30L-73.1 -32L-73.8 -39L-73.6 -42L-69.7 -49L-65.5 -63L-64 -65L-59 -68.5L-56.9 -71L-48 -88.1L-46 -89.7L-44 -90.2L-36 -88.5L-33 -88.9L-27.3 -92L-22.9 -98L-19 -101ZM-76.5 52L-75.1 52L-74.2 53L-75 54L-76 53.8L-76.7 53Z"/><path id="va19" d="M-15.7 -99L-12 -99.6L-2 -99.5L7 -97.2L15 -98.2L26 -97.4L37 -93.9L39.9 -92L44 -88.3L46 -87.2L55 -85L57 -83.1L60 -78.4L65 -75L72 -66L79 -60.1L86 -51L88.9 -44L89.4 -37L93 -32.1L98.5 -22L98.8 -17L95.8 -9L94.8 2L95 4.9L96.2 8L96.2 11L94 17.5L90.6 25L89.2 30L85.8 35L83.8 43L79.4 48L77 52.1L75 53.9L72 54.1L67 52.1L65 52.8L65 55.5L67.9 60L68 62.1L67.1 63L59 66.8L53 72.1L45 75.5L40 80.3L39 80.6L37 80L34 77.2L31 77.1L26 78.8L21 82.4L11 85.5L9.5 85L8.5 84L6.4 79L5 77.2L3 75.7L1 75.2L-0.4 76L-1.5 80L-3.9 83L-9 87.1L-11 87.8L-14 88L-17 87.4L-19.8 86L-21.9 84L-25 79.3L-30 80.8L-32 80.7L-33.3 80L-35.4 77L-37 75.8L-40 75.5L-47 76.5L-55 73.9L-57.6 72L-61.8 66L-62.3 65L-62.7 60L-65.6 55L-65.5 53L-62.8 48L-63.1 45L-65 42.9L-70.3 40L-72.6 35L-73.2 32L-73.1 27L-74.8 20L-75 15L-75.8 13L-79 8.5L-79.6 6L-78.6 3L-77 0.9L-68.4 -3L-68.6 -4L-70 -5L-77 -8.3L-78.6 -10L-75.2 -18L-74.4 -22L-71 -26.7L-70.5 -32L-71.1 -39L-70.4 -42L-68 -44.2L-64 -45.2L-63 -45.8L-62.6 -47L-62.7 -49L-65 -52L-65.6 -54L-64.2 -60L-62.5 -63L-55.9 -70L-46 -86.2L-43 -87.5L-37 -86.5L-34 -86.7L-25 -90L-22.6 -92L-19.4 -97Z"/><path id="va20" d="M-12.6 -97L-9 -96.9L1 -94.5L10 -94.7L16 -96.2L19 -96L28 -93.2L35.2 -92L38 -90.5L43.2 -86L53 -82.9L55 -81.2L59.3 -76L64 -72.2L71.1 -65L77 -60.5L79 -58.2L83.7 -51L85.6 -47L86.4 -44L86 -39L86.5 -37L91.4 -31L95.8 -23L96.3 -21L93.8 -11L93.8 -2L92.4 4L93.8 10L93.3 14L85 31.5L82.2 42L75.1 50L73 50.9L66 49.4L63 50L62 52L63.3 60L62.4 62L56.4 66L51.8 71L41 75.8L39 76L35 74.2L32 74.3L23 76.5L19.9 79L18 79.6L16.3 79L15.9 78L17.4 74L17.1 73L16 72.3L14 72.1L9 73.7L0 71.7L-3 73.4L-5.8 80L-9 84L-11 85.5L-13 86L-17 85L-18.8 83L-19.2 81L-18.6 76L-19.5 74L-21 73L-30 71.6L-48 73.1L-53 72L-55.5 70L-56.6 67L-57.4 62L-62.1 56L-62.9 54L-59 46L-58.3 43L-58.9 40L-61 38L-68 35.3L-69.9 33L-70.3 31L-69.9 27L-72.2 20L-71.6 16L-69.7 11L-69.9 10L-73.7 7L-74.2 6L-73.6 4L-72 2.7L-70 2.1L-66 2L-64.9 -1L-64.8 -4L-66 -7.6L-72 -9.6L-73.7 -12L-73 -14L-72 -15.1L-67.3 -17L-66.2 -18L-65.2 -21L-65 -24.5L-67.4 -28L-67.9 -31L-65.9 -40L-63 -42.6L-60.9 -47L-61 -50L-63.1 -56L-61.3 -61L-55 -69.2L-51 -75.5L-44 -83.9L-41 -84.8L-35 -84.7L-24 -88.2L-21 -90L-17 -95Z"/><path id="va21" d="M16.1 -94L19 -93.8L27 -90.5L34 -89L42.1 -84L52 -80.6L55 -78L63 -68.7L76.7 -59L81.6 -51L83.5 -45L83.5 -38L90.1 -30L93.5 -21L91.8 -13L92.3 -2L90.1 5L91.2 11L91 12.9L84 25.8L80.9 40L79.1 43L74 47.6L71 48.3L64 47.5L62 48L61 48.8L60.1 51L60.2 59L59.2 61L54 65L50.3 70L43 72.6L40 72.7L35 71.6L25 73.2L23 72.7L18.9 70L16 69.2L7 69.9L0 69.4L-3.5 71L-8 76.2L-10 77.3L-12 77.6L-13 77.2L-15.8 73L-18.2 71L-25 69.6L-33 66.4L-39 64.9L-41 65.1L-47 69.1L-49 69.4L-50.9 69L-52.4 67L-52.7 62L-52.3 58L-50.8 55L-51 52.7L-54.6 48L-57.4 38L-63.1 33L-64.6 31L-63.7 26L-64 22.8L-68 21.9L-69.3 20L-68.6 17L-65 14.4L-64.7 13L-64.5 5L-63.2 -2L-65.3 -12L-63.6 -24L-64.1 -30L-62.8 -40L-59.4 -47L-59.4 -50L-60.7 -56L-59.7 -60L-57.4 -64L-50 -73.9L-45.1 -78L-42.7 -81L-41 -82L-35 -82.9L-22.6 -87L-19.1 -89L-14 -93L-12 -93.8L-9 -93.7L-3 -92L1 -91.4L11 -92.5Z"/><path id="va22" d="M12.5 -91L16 -91.9L19 -91.7L42 -81.9L51 -78.8L54 -76.5L57 -73L60 -65L62 -63.8L68 -62.8L72.7 -60L76 -57.1L79.1 -52L80.8 -46L81.1 -38L82.2 -36L88.2 -30L89.9 -26L90.3 -22L89.5 -13L90.9 -3L90.2 0L87.8 5L87.5 13L81.3 24L80.6 33L78.9 39L76.5 43L73 45.7L70 46.4L63 46L60 47.4L58.6 50L58.3 56L57.4 59L52 63.5L49 68.4L45 70.1L42 70.1L36 68.7L27 70.5L25 70.2L20 68L17 67.6L12 67L1 67.1L-3 68.1L-8 72.6L-10 73.1L-12 72.3L-16 69L-26 67.5L-28.5 66L-32 62.9L-34 62.1L-42 62.2L-48 63.3L-49.3 61L-48.4 54L-48.9 51L-53.4 45L-55.6 37L-60.7 32L-61.7 29L-61.5 23L-62.5 18L-62.8 8L-61.8 -3L-63.3 -10L-63.4 -14L-62.1 -25L-62.4 -31L-61.9 -38L-61 -41L-58.2 -46L-57.8 -48L-58.8 -56L-57.9 -60L-55.2 -65L-51 -70.4L-48 -72.9L-44 -74.5L-41 -78.3L-39 -79.8L-29 -83.7L-22 -85.6L-14 -88.9L-7 -90L2 -89.3Z"/><path id="va23" d="M15 -90L18 -90.1L20 -89.5L33 -83.5L50.5 -77L53.2 -75L55.5 -72L57 -65L58.4 -63L62 -60.7L68 -59.8L70 -58.9L73 -56.2L77.2 -51L78.4 -47L78.4 -41L79.1 -38L81 -34.9L86.2 -30L87.8 -27L88.1 -24L87.1 -13L89.2 -3L88.8 -1L85.7 5L84.4 14L78.5 23L78.2 25L78.9 30L78 34.6L75.1 41L72 43.9L69 44.7L62 44.6L59 46.2L57.3 49L56.1 56L55 58L49.4 62L46.5 66L45 66.9L37 66.1L27 67.4L12 66L0 65.9L-4 66.8L-9 69.5L-15 67.5L-25 66.1L-31 60.5L-33 59.8L-45 59.8L-46.6 58L-46.9 51L-52.1 44L-53.9 36L-58.3 32L-59.9 29L-59.6 21L-61.1 9L-60.4 -3L-61.8 -11L-62 -18L-60.4 -26L-60.6 -38L-59.6 -41L-56 -47L-56.6 -56L-55.8 -61L-53.6 -65L-50 -69.1L-48 -70.3L-42.3 -72L-37 -77.9L-29 -82.2L-15 -86.3L-5 -87.7L4 -87.8Z"/><path id="va24" d="M12.9 -88L16 -88.6L19 -88.1L33 -81.4L47 -76.7L50 -75.1L52.5 -73L53.8 -71L55 -65L56.8 -62L61 -58.9L66.3 -56L70 -51.2L74.7 -49L75.5 -47L76.2 -41L77.5 -38L81 -32.7L85.2 -28L86 -26L84.9 -11L86.8 -5L86.9 -2L83.8 5L82.2 14L80.4 17L75.9 22L75 24L75.1 26L76.4 30L76.3 32L72.2 40L71 41.4L69 42.4L62 42.9L59 44.3L56 48L53.1 56L50.9 58L42.3 63L29 65.3L19 65.4L0 64.4L-3 64.9L-9 67.1L-16 65.5L-22.5 65L-26 63L-26.9 62L-27.6 59L-30 57.2L-33 56.9L-41 58L-43.9 57L-45.5 50L-50 44.7L-51.3 42L-51.6 39L-51 34.8L-56.6 31L-57.9 29L-57.7 15L-59.2 9L-57.5 3L-57.5 -7L-58 -8.4L-60 -10.5L-60.8 -18L-60 -22.2L-59 -23.6L-56 -25.5L-55.2 -28L-56 -29.6L-59 -30.6L-59.2 -38L-58 -41.2L-54 -43.6L-52.4 -46L-52.3 -50L-53 -52.4L-54.1 -54L-54 -60L-52.4 -64L-49 -67.5L-41 -70.4L-33.2 -78L-28 -81L-15 -84.3L-4 -85.8L5 -86.3Z"/><path id="va25" d="M11.2 -86L15 -86.9L18 -86.6L27 -82.7L32 -79.8L46.2 -75L51 -71.5L52.4 -69L53.4 -64L54.5 -62L64.6 -54L67.9 -48L72 -44.5L83.4 -26L84.1 -21L82.5 -10L84.4 -4L84.3 -2L82.1 4L80.1 14L72.2 24L71.8 27L72.7 32L70.2 37L68 39.4L62 40.9L58 43.4L48 56L43 58.3L38 61.6L30 63.3L16 64.2L4 63.3L-2 62.1L-3 63L-8 64.8L-10 65.1L-21 63.3L-22.2 63L-23.1 62L-23.7 58L-24.7 56L-27 54.6L-32 54.5L-39 55.8L-41.4 55L-42.1 54L-43.3 49L-48 45L-50 41.4L-49.5 39L-45.8 35L-45.7 34L-50 31L-55 29.6L-56 28L-56.3 25L-54.9 20L-53.6 12L-55 0L-54.9 -3L-54 -5.1L-49.5 -10L-48.4 -13L-49 -15.4L-51 -17.2L-52 -17.3L-55 -15.5L-56 -15.6L-58.3 -17L-58.4 -19L-53 -22.5L-49.3 -28L-47 -29.8L-45 -29.8L-41.2 -28L-39 -27.6L-36 -28.9L-35 -31L-36 -35.6L-38 -38.6L-40 -38.8L-45 -37.4L-47 -38L-49.9 -40L-50.4 -41L-49.1 -45L-48.6 -55L-49.2 -57L-51.4 -59L-51.3 -61L-50 -63.8L-48 -65.6L-40.5 -68L-35.6 -71L-32.4 -76L-28 -79.2L-14 -82.3L-3 -84.1L6 -84.9ZM-39 -15.4L-40.9 -14L-41.2 -13L-40.1 -8L-39.7 -3L-39 -1.8L-38 -1.5L-31.7 -4L-30.5 -5L-29.9 -7L-30.9 -9L-34.6 -12L-37 -14.8ZM-25 34.7L-27 36L-28.6 38L-29 39L-28.8 41L-27 42.8L-23.8 44L-22 50.1L-21 51.3L-19 51.3L-17.3 50L-16.9 48L-19 45.1L-22.4 43L-23.1 36L-24 34.8ZM-19 19.8L-20 20L-21 22L-21.1 25L-20.1 28L-18 30.1L-13.5 32L-12.2 37L-11 38.7L-7 42L-4 43.6L0 43.4L4.6 40L6.2 38L8.2 33L12 29L12.4 28L11.4 27L10 26.7L4 26.5L0 27.8L-5 31L-8 31.5L-11 31.3L-11.7 30L-11.3 25L-12.1 23L-15 20.9ZM-6 -58.3L-9 -55.5L-10.8 -52L-11.3 -50L-10.1 -48L-6 -46.3L-4 -46.9L-3.3 -49L-3.8 -57L-4.4 -58ZM-36 26.8L-42.3 34L-40.2 36L-37 37.2L-36 37L-35.2 36L-32.9 28L-34 26.2ZM-4 -4.1L-5.3 -3L-1.9 4L-2.3 14L-1 15.8L0 16L3.1 13L3.9 10L0.8 4L0 -0.4L-2 -4L-3 -4.4Z"/><path id="va26" d="M14.4 -85L18 -84.6L27 -80.7L32 -77.7L38 -76L45 -73.1L48 -71L50 -68.6L51.7 -63L53 -61L63 -53L66.2 -46L77 -34.1L81.4 -24L82.1 -21L80 -10L81.5 -2L78.8 12L77.5 15L75.8 17L73 19.9L68.4 23L67.9 25L69.2 28L69.1 31L67.4 35L65.1 37L59 40.6L53 46.4L51 47.7L50 47.9L48.4 45L47 43.6L45 43.3L40 44.3L38 46.6L36 51L36 53.1L38.7 58L36.7 60L34 61.1L31 61.4L24 60.4L19 62.7L17 63L8 61.1L5 59.3L-0.6 53L-0.7 49L0.6 47L5 43.6L8 42.2L10 42.1L12.7 44L15 49L23 52.1L24 52.4L25 51.9L26 49.9L27.8 43L31.7 39L32 38L31.1 35L26.9 29L26.2 27L30.5 22L31.5 19L30.8 18L29 17.4L27 17.9L25.9 19L24.9 21L23.8 26L22 29L21.4 36L20 38.8L17 39.6L14.1 38L13.1 36L13.5 34L15.1 32L20.2 28L18.8 26L15 24.2L5 23.3L1.9 22L1.9 20L3.7 17L6 14.6L10.9 11L5 5.8L0.7 0L0.3 -1L2.9 -13L1.8 -15L-1 -16.9L-3 -16.6L-4 -15.8L-5.1 -14L-5.8 -11L-7 -9.6L-9 -9.6L-12 -11.6L-14 -12L-16 -11.5L-17.8 -10L-17.6 -6L-15 -0.4L-13 1.7L-8 3.3L-6.6 5L-6.1 8L-7 10.4L-8 11.1L-12 11L-15 13.6L-17 14.1L-19 13.2L-22 10.8L-27.2 9L-29.9 7L-30.6 6L-30.6 3L-26.4 -2L-25.7 -5L-25.8 -10L-26.4 -13L-30 -13.8L-32 -15L-32.9 -17L-32.4 -20L-30.3 -22L-28 -21.5L-26.6 -19L-26 -14.7L-24 -14.3L-21 -15.8L-19.3 -18L-18.8 -21L-19.1 -25L-20 -27.3L-21.7 -29L-25 -30.4L-30 -31.3L-32 -32.8L-33 -35L-33 -38L-29.8 -43L-29.4 -45L-29.7 -46L-32.7 -48L-41.2 -51L-43.5 -55L-45.2 -61L-44.8 -63L-43.7 -64L-31 -70L-29.8 -72L-28.7 -76L-28 -77L-26 -77.8L-24 -77.5L-19.7 -75L-13 -72.4L-9 -68.4L-7 -67.4L-6 -67.5L-5 -68.4L-4.4 -70L-5 -71.2L-8.2 -73L-8.9 -74L-9.2 -77L-8 -79L-6 -79.7L0 -80.1L10.1 -84ZM21 -67.1L15.9 -64L15.1 -60L13.6 -57L14 -55L17 -51.2L18 -51.7L18.9 -53L19.3 -59L24 -64L24.1 -66L23.4 -67ZM36 -13.3L33 -11.6L31.6 -9L32.7 -6L35 -4.5L36 -4.5L38 -5.9L41.1 -10L41.8 -12L41.2 -13L40 -13.5ZM2 -64.1L-5 -63.5L-7 -62.5L-9 -60.1L-13 -53.3L-17.7 -48L-18.6 -46L-18 -44L-17 -43.2L-16 -43L-11 -44.2L-9 -43.5L-7.1 -42L-6.3 -40L-6.8 -34L-5.4 -27L-4 -23.5L-2 -21.8L0 -22.2L1 -23.6L2.1 -30L3.5 -33L5 -33.9L9 -33.3L11 -33.6L12.5 -35L16 -40.7L17 -40.9L18 -40.2L19.5 -38L21.7 -36L25 -35.1L28 -36.2L29.4 -38L30 -40L29.8 -42L28.3 -45L27 -46.6L25 -47.7L23 -47.4L19 -45.6L16 -48.7L11 -46.8L9 -47.4L7.3 -50L6.4 -53L8.5 -56L8.4 -57L5.5 -60L5 -64L4 -64.7ZM17 8L14.3 9L12.2 11L15 11.8L18 11L18.4 9ZM2.8 -57L4 -56.9L4.9 -54L4.3 -53L2 -51.9L1 -52.3L0.5 -54L1 -55.5ZM-44.4 -23L-42 -23.5L-40.8 -23L-40.1 -22L-41 -20.7L-43 -20.2L-44.2 -21ZM-47.5 -7L-46 -7.8L-45 -7.8L-44 -7.1L-42.5 0L-40 4L-38 4.6L-34 4.1L-32.4 5L-32.2 7L-33.8 9L-36 9.6L-41 8.6L-46 9.9L-48 9.1L-50 7.3L-51.7 4L-52.4 -1L-51 -4ZM-48.4 13L-47 12.4L-45 12.8L-42.7 16L-42.4 21L-41 26L-41.9 28L-44 29.4L-47 29.4L-49.1 28L-50.6 26L-51.6 17L-51 15ZM-46 39L-43 38.5L-41 39.7L-37.4 45L-32.3 49L-32.1 51L-34 51.7L-36 51.5L-37.5 50L-39 46.7L-46 43.7L-47.4 42L-47.5 41ZM-13.5 53L-11 53.5L-8.8 56L-8.5 58L-10 60.7L-11 61.4L-16 60.1L-18.2 58L-18.4 57L-17.1 55Z"/><path id="va27" d="M14.9 -82L16 -82.3L18.1 -82L17 -80.6L16 -80.4ZM24.6 -79L26 -79L28 -77.1L28.6 -75L28 -74L26 -73.9L24.5 -75L23.6 -77ZM13.8 -78L16 -78.6L19.9 -75L20.4 -72L18 -69.6L16 -69.1L14 -69.4L11.6 -71L10.1 -73L9.4 -75ZM33.4 -74L35 -74.2L38 -73.1L46 -68L48.3 -65L49.1 -63L48.8 -61L56 -57L61 -52.9L62.4 -51L63.5 -47L62.3 -43L62.9 -41L65 -39.5L68 -40L75 -34.6L77.1 -31L79 -22L79 -19L78 -15.2L76 -18.6L74 -20.1L70 -20.7L68.5 -20L68.2 -19L75 -8.9L78 -6.8L78.8 -3L78.8 0L76.4 13L74 16.6L72 17.5L69 17.1L65 14.1L63 14.4L61.1 16L60 18L60.1 20L63.5 25L66 32L63.9 35L58 38.2L54 41.2L53.1 40L52.6 37L51 35.5L49 35.3L44 36.3L36 35.3L33.1 32L31.5 28L32.5 25L36 21.8L41 21.7L51 18.1L51.6 17L51.2 15L49 12.4L43 8.6L41 9.9L39.2 15L38 16.4L36 16.5L31 14.6L27 14.7L23.7 16L21.8 20L20 21.7L8 20.4L7.2 20L6.9 19L9 17.1L15 16.2L21.4 14L22.3 12L22 8L21 5.8L19 4.5L17 4.3L11 5.8L8 5.1L3 0.2L0.9 -1L3.4 -5L7.5 -14L7.8 -16L7.2 -21L8 -25L9 -26.6L13.8 -29L17 -33L18 -33.5L25.3 -32L31 -29.7L32.1 -30L34 -40L33.7 -42L29.2 -50L25 -54.7L24.1 -57L24.6 -59L29 -67L31 -68.8L33.7 -70ZM35 -69.2L34.4 -69L35.5 -65L37.1 -61L38.6 -59L42 -58.8L47 -61L46.7 -62L41 -67.6L38 -68.9ZM63 -21L61 -20.5L60 -19.6L53.5 -11L54.8 -6L56 -4.3L59 -5.6L60.9 -8L62.3 -14L65.1 -19L64.9 -20ZM40 -25L39 -24.3L37.5 -19L36 -17.1L29 -11.7L24.2 -9L23.9 -8L28 -5.4L33 -0.8L38 1.2L40 0.5L42.3 -5L48.4 -10L49.4 -12L45.7 -18L44 -23L42 -24.7ZM-24.1 -72L-22 -72.5L-18 -71.7L-15 -70L-13 -67.8L-11.3 -65L-10.9 -63L-11.5 -60L-13 -56.8L-17 -52.6L-22 -50.6L-26 -51.6L-32 -51.3L-36.5 -53L-40.8 -58L-41.4 -60L-40.9 -62L-38.1 -64L-34 -65.2L-31 -65.3L-27 -64.5L-26.4 -69L-25.3 -71ZM-25 -43L-24 -43.4L-22 -42.7L-17.3 -38L-16.4 -36L-17 -34L-19 -32.9L-22 -32.7L-28 -33.6L-30 -35L-30.4 -36L-30 -38.1L-28 -40.6ZM-14.3 -29L-13 -29.8L-12 -29.5L-10.3 -27L-9.7 -23L-10 -21.8L-11 -21L-13 -21.2L-14.5 -23L-15 -26ZM-48.6 -1L-48 -1.7L-47 -1.7L-46 -0.2L-45.4 3L-46 4.4L-47 4.5L-48.6 3L-49.1 1ZM30.7 45L32 44.2L33.5 45L33.5 47L32 49.2L31 49.3L30.1 48ZM4.9 47L7 46.2L8 46.3L9.3 48L8.3 51L6 52.4L4 52L3 50.1L3.8 48Z"/><path id="va28" d="M-21.2 -69L-19 -69.2L-17 -68.1L-15 -66.1L-13.9 -64L-13.6 -62L-14 -59.7L-15 -57.8L-17 -56.2L-19 -56.1L-20.1 -57L-21.1 -59L-22 -67ZM31.8 -62L33.1 -61L33.3 -58L32 -56L30 -55.9L28.6 -57L28.6 -59L30 -61.1ZM43.2 -56L48 -56.8L55 -55.6L58.9 -53L61 -50L61 -48.9L59.4 -47L54 -45L52.1 -43L52.3 -41L54.2 -37L54 -32L55.5 -22L55 -18.7L53 -16.6L51 -16.6L49.5 -18L48.8 -20L49.2 -24L48.8 -25L45.4 -28L44.1 -30L44.8 -32L47.6 -35L48.3 -39L47.5 -43L39.3 -51L39 -52L39.8 -54ZM-25.4 -38L-24 -38.3L-23.5 -37L-25.6 -37ZM69.7 -35L71 -35.5L72 -35L74.9 -32L75.5 -29L75 -26.5L72 -27L69.5 -29L68.5 -32L69 -34ZM19 -29L21 -29.8L23.7 -29L25.2 -27L27 -23.3L28 -23L32 -23.6L33.9 -23L34.5 -21L33.7 -19L30 -15.9L27 -14.3L20 -13.1L18 -13.2L16 -16L15.1 -23L15.9 -25ZM66 -12L67 -12.4L68 -12.2L68.8 -11L69 -10L68 -8L67 -7.8L65.7 -9L65.5 -11ZM16.7 -4L19 -3.7L26 -1L32.8 3L36 6L36.4 8L35.7 10L33 11.4L29 11.6L27 11.2L25.7 10L23.7 4L22 1.6L18 0.9L10 2.4L8.8 2L7 0L8 -1.4L13 -2.3ZM63 -1L67 -1.9L72 -1.8L74 -1.5L76 -0.3L76 5.7L75 8.8L73 11.4L71 11.1L66 7L62.8 1ZM52.9 24L56 23.4L59 25.2L60 27L60.6 30L60.2 32L59.2 33L58 33.4L56 33.1L53.4 31L51.3 26ZM45.4 26L47.4 26L47.5 27L46 28.6L45 28.6L44.6 28L44.6 27Z"/><path id="va29" d="M47.2 -54L51 -54.1L54 -53.2L55.7 -52L56.3 -50L55 -48.9L52 -48.1L48 -48.5L46 -50L44.9 -52L45.3 -53Z"/><path id="vb1" d="M-150 -150L150 -150L150 150L-150 150ZM-57 -39.4L-58.8 -37L-58 -34L-57 -32.9L-56.5 -37ZM-51 -64.6L-52.2 -63L-53 -58.7L-54.9 -54L-55 -48.2L-54 -48.5L-46.1 -57L-44.3 -60L-43.1 -64L-44 -64.7ZM-39 -72L-40.3 -70L-40.5 -67L-40 -66.8L-35.1 -69L-33 -71L-33.7 -72L-36 -72.5ZM-27 59L-28.2 60L-26 61.4L-23 61L-22.4 60L-24 58.7ZM-6 -85.6L-9 -83.9L-13 -84.4L-14 -84L-16 -81.2L-21.1 -79L-22.2 -77L-21 -76.5L-19 -76.6L-12 -79L-0.7 -81L-0.5 -82L-3 -85.4L-5 -86ZM14 -88L11.8 -87L5.5 -82L5.2 -81L8 -79.5L12 -78.8L16 -79L18 -79.9L19.8 -84L19.9 -86L19 -87.1L17.1 -88ZM41 -74.3L38 -71.6L34 -72.4L32 -72L34 -68.9L40 -65.2L45 -57.5L51 -54.3L56.5 -50L60 -43.4L64.5 -39L65 -36L66.4 -33L70 -29.8L70 -36L69 -37.3L64.8 -40L64.6 -41L67.5 -47L67.9 -49L67.3 -50L66 -50.6L60.8 -51L59.6 -52L59.3 -53L60 -56.8L63 -57.8L64.2 -59L64.8 -61L64.2 -63L62 -65L59 -65.1L58 -64L57 -59.7L54 -59.8L49 -64.2L43.7 -67ZM81 -18.6L80.2 -18L80.6 -14L80 -12.6L79 -12.2L77 -13L75 -15.5L72.9 -10L73.4 2L75 5L77 5.9L79.2 5L80.1 3L78.5 -1L78.8 -3L82 -6.9L86.3 -10L87.8 -13L87 -16L86 -17.2L83 -18.7ZM-58 -29.5L-60 -25L-60.2 -23L-59.3 -21L-58 -19.8L-55.1 -24L-54.7 -26L-57 -30ZM68 21.9L67 22.9L66.2 25L66.4 26L67 26.3L68.1 25ZM-58 1L-60.1 10L-59.1 13L-56 16.8L-52 11.6L-47 13.3L-45 13.1L-43.6 12L-44 10L-48 5.2L-50 4.8L-53 5.6L-54 5.2ZM-46 43.9L-47 45.4L-47.1 47L-45 50.8L-42 53.7L-40 54.4L-38.6 54L-38.4 53L-40.1 50L-43.5 46Z"/><path id="vb2" d="M-150 -150L150 -150L150 150L-150 150ZM-39 -74.1L-41 -72.9L-43.6 -69L-45 -68L-51 -68.8L-53 -68.3L-54 -67.4L-54.5 -66L-54.7 -60L-57.5 -56L-57.6 -52L-59.4 -44L-61.5 -39L-61.1 -35L-59.5 -30L-62 -23L-60.1 -18L-60.1 -16L-61 -12.9L-63.6 -9L-64 -7L-63.5 -5L-60.7 -1L-62.2 11L-61.1 14L-55.9 21L-54 25.7L-53 26.9L-49 25.7L-47.4 23L-45.8 18L-43 15.2L-40 14.6L-35 16.8L-32 17.2L-29 15.5L-28.2 13L-28.7 10L-31 8.1L-33 7.8L-37 9.4L-39 9.6L-42 8.2L-44.8 5L-45.9 3L-46 1.6L-45.7 1L-40 -1.9L-39 -2.9L-39 -5L-40 -5.9L-42 -6.4L-45 -5.8L-47.1 -4L-49 -0.5L-51 0.9L-53 0.7L-56 -1.1L-57 -2L-57.7 -4L-56.8 -19L-54 -23.1L-52.1 -24L-51.5 -25L-52 -26.9L-54 -28.1L-55.8 -32L-55.1 -42L-54 -46L-52 -49.5L-45.4 -56L-40 -65L-32.2 -69L-30.9 -71L-30.7 -72L-31.2 -73L-37 -74.3ZM-27 -5.7L-27.4 -5L-27 -3.8L-26 -3.3L-25 -3.8L-25 -5L-26 -5.8ZM-5 -92.3L-6 -92L-8 -88.6L-10 -87.6L-17 -88.9L-18 -88.7L-18.6 -88L-18.4 -84L-18.8 -83L-20.3 -82L-25.2 -81L-25.9 -80L-25.8 -77L-26.6 -75L-26 -74.6L-18 -75.5L-13 -77.4L2 -80.4L9 -78L15 -77.6L20.3 -79L20.9 -81L23.6 -85L22.6 -87L20 -89L14 -90.9L11 -89.6L5.6 -84L4 -83.1L2.2 -83L-2.3 -88L-4 -91.5ZM39 -80.2L37 -76.7L36 -76.2L33 -78.2L31 -78.8L24.4 -77L29.6 -73L33 -67.8L39 -64.2L43.9 -57L51.1 -53L56 -48.5L59 -42.7L62.3 -39L64.9 -32L69.6 -26L72.2 -20L73 -15L71.7 -11L72.1 -5L71.5 0L72.8 7L77 8.1L81 7.6L83 6.3L84.2 4L83.7 2L81.6 -1L82 -3L85.4 -6L89.8 -12L88.7 -18L81 -23.3L75 -26.5L72.8 -29L72.3 -31L72.8 -35L72.4 -37L68 -40.9L67.5 -42L69.9 -48L70.1 -50L69 -52.1L65.3 -54L65.2 -55L67.5 -60L67.2 -62L65.9 -64L63 -66.3L59 -67.4L57 -66.3L55 -63.1L53 -62.8L45.4 -69L44.6 -72L45.4 -78L45 -79.2L42 -80.8L40 -80.8ZM77 -43.4L77 -41.5L79 -38.1L79.5 -39L78.7 -43L78 -43.6ZM-49 34.8L-50 35L-50.8 37L-49.2 41L-50.3 45L-50.1 47L-47.4 51L-43 55.6L-37 60.6L-32 61.5L-28 63.4L-25 63.1L-19 61L-22 57L-24 56.7L-31 57.2L-34 56.5L-35.4 55L-38.5 49L-46 41L-46.6 39L-46 36L-46.3 35L-47 34.5ZM-43 30L-43.5 32L-42.6 33L-40 33.3L-39 32.5L-39 30.1L-40 29.2L-41 29ZM-30 19.4L-31.4 21L-31 22.6L-29 22.2L-28.1 21L-28.3 20ZM-20 -2.3L-21 -2L-21.7 0L-15 1.5L-13.4 3L-12 6L-10 8.3L-8 9L-7 8.3L-5.2 0L-13 -2.2ZM-5 60.8L-7 61.5L-13.4 62L-9 63.5L-6 62.9L-2 63.1L0.8 62L0.4 61L-1 60.5ZM20 60.9L16.4 62L19 64.6L20.9 64L22 62L21 61ZM44 50.9L40 53.1L37.6 56L38 56.6L41 57.6L42 56.8L44.7 53ZM58 35.9L56.3 38L57 39.1L58 39.2L59.4 38L59.7 36L59 35.5ZM67 17.6L65.2 19L62.5 24L64.1 29L65 29.7L69 29.1L70.2 28L70.3 18L70 17.2ZM-30 44.6L-31 45.4L-31.1 47L-30 48.2L-28 48L-27 47L-26.7 45L-28 44.3ZM-18 17.8L-20.4 19L-20.8 20L-20 21L-18.8 21L-17 19.5L-17 18.1ZM-8 25L-8.5 26L-8 27.7L-7 28L-6 27.5L-5.5 26L-6 24.8L-7 24.4ZM-52.1 16L-51 15.6L-49.8 18L-50.2 20L-52 20.7L-53 20.5L-53.4 19Z"/><path id="vb3" d="M-150 -150L150 -150L150 150L-150 150ZM10 -98.3L4 -95.6L-2 -95.9L-6 -95L-7.6 -94L-9.6 -91L-11 -90L-13 -90.1L-17 -91.4L-20 -91.2L-21.3 -90L-22.3 -85L-27 -84.1L-28.4 -83L-28.9 -81L-28.6 -77L-29.7 -75L-32 -74.6L-37 -76.6L-41 -75.2L-46 -71.7L-50 -73.1L-52 -72.6L-57.6 -68L-56.5 -63L-57 -60.8L-59 -59.4L-64 -58.7L-65.9 -57L-66 -56L-65.2 -55L-61 -53.9L-59.9 -52L-63.4 -40L-62.8 -34L-61.3 -30L-61.6 -28L-63.6 -23L-62.1 -17L-63 -15.1L-65.9 -12L-66.4 -9L-66 -6L-63.6 -1L-63.5 2L-65 7.4L-66 8.4L-68.5 9L-68.5 11L-65 16L-58 22.2L-55.2 28L-51.2 31L-52 33.7L-54.5 36L-54.8 37L-53 41L-52.2 47L-49.5 52L-42.2 61L-38 63.2L-32 64.4L-28 66.4L-23 64L-20 63.5L-8 67.5L-5 67.6L5 62.7L8 64.9L14 64.3L19 67.3L20 67.4L26 64.2L30 66.2L33 66.5L37 62.9L38 63.2L42 66.9L43.4 67L44.2 66L46.5 58L51.1 53L51.7 47L53.1 44L54 43.3L58 43L64 37.2L71 35.8L73 34.6L73.9 30L71.7 25L71.4 23L72 20.2L73.5 18L72 14L73 11L75 10.2L77.7 11L78.1 12L77.8 13L74.2 17L74.2 18L77.2 20L84 22.6L86 22.8L88.7 21L89.8 19L86.1 16L88.5 3L86.5 0L86 -2L89 -7.4L93.4 -12L92.3 -16L95 -19.6L95.7 -22L95 -23.4L94 -23.7L90 -21.5L88 -21.3L86 -22.1L84.3 -24L83.1 -28L83.5 -33L84.7 -37L85 -40L82.5 -45L81 -46.3L78 -47L73 -46.2L72.2 -52L69.7 -62L68.2 -64L64 -67.6L57 -70.8L56 -70.3L54 -66L53 -65.6L51 -66.4L47.6 -69L46.7 -71L46.7 -73L49.2 -79L48.5 -81L47.4 -82L38 -84.6L33 -81.9L30 -81.5L28 -81.9L27 -83L27 -86L26 -88.2L23 -90.3L18 -92.5L12 -97.7ZM1.6 -91L5 -90.9L6.8 -90L6.4 -88L5 -86.4L3 -86L1.9 -87L0.6 -90ZM1.3 -79L13 -76.3L19 -77.5L22 -76.8L28.7 -72L32 -67L37.2 -64L40.1 -59L41.9 -57L50 -52.4L53 -50L55.7 -47L58.6 -41L61 -37.8L64 -30.4L68.5 -23L70.9 -15L70.2 -11L71 -5L69.6 0L70.6 11L69.9 13L62 18.3L60 16.8L57.3 13L56 12.2L49.6 13L48.5 14L52 16.4L53.4 18L55.5 25L57.6 27L59.3 30L59.3 31L55.2 36L52.3 41L46 47.4L38 52L35 55.6L33 56.9L25 59.1L15 60.7L10 60.5L5 61.6L-2 58.6L-9 60L-16 59.8L-18 59L-21 55.4L-22 54.8L-27 55.2L-32 53.8L-32.8 53L-33.3 51L-30 51.7L-28 51.2L-24.4 47L-23.5 45L-23.2 43L-24 42L-30 42L-32.1 41L-35.5 35L-37.2 28L-39 26.7L-44 26.3L-45 24L-44.7 21L-43.4 18L-42 16.8L-40 16.5L-35.9 19L-35 20.2L-33.9 24L-32 25.3L-30 25.1L-26 23.3L-24 23.3L-20.3 25L-18 27.2L-17 27.2L-15.3 23L-14 21.8L-12 21.2L-10.7 22L-11.7 27L-10.9 29L-8 30.9L-4 30.8L-3 30.1L-2.6 29L-3.2 23L-3.9 21L-6.8 18L-7.2 15L-4 10L-3.4 4L-0.3 0L-5 -1.4L-12 -4.5L-19 -5.2L-27 -11.4L-29.1 -11L-30.6 -7L-30.4 -4L-23 3.3L-17 3.5L-15 5L-10.7 12L-11 14L-12 14.8L-14 15L-19 12.8L-22 13.8L-24 13.5L-27 8L-33 5L-36 4.4L-39 5.9L-41.4 5L-42.2 4L-42 2.5L-37.7 0L-36.2 -2L-35.5 -4L-37 -6.8L-41.2 -10L-41.7 -11L-42 -16L-44 -17.9L-46 -18.5L-48 -18.3L-52.4 -13L-52.3 -12L-49.9 -8L-50.4 -6L-52 -3.9L-54 -2.7L-54.7 -3L-55.8 -4L-56.3 -6L-56.1 -9L-54.8 -13L-55.7 -17L-55.4 -19L-54 -20.9L-49.9 -22L-49 -23L-48.1 -26L-48.7 -28L-53.2 -30L-54.5 -32L-53.7 -43L-51.7 -48L-46 -53.4L-38 -64.7L-31 -67.8L-27 -71.8L-22 -73.6ZM9 16.8L8.3 18L10.3 19L10.8 18L10 16.9ZM13 22.7L12.3 24L12.3 26L13 26.9L14 26.9L15.2 26L15.8 24L14.8 23ZM16 0L15 3.8L15 7L16 8.8L18 9.1L21.7 7L22.6 5L19.4 2L18 -0.6ZM19 -16.6L17.8 -15L18 -13.9L19 -12.9L20 -13.1L20.8 -15L20 -16.6ZM41 -4L38.1 -2L37.8 -1L38.3 0L42 1.6L44 1.9L46.7 0L47.9 -3L47.5 -4L44 -4.6ZM50 -7.1L48.8 -6L48.2 -4L51.3 0L54 0.9L54.9 0L54.8 -1L53.5 -6L52 -7.1ZM60 -17.3L58.8 -16L59.4 -13L61 -12.2L63.2 -13L64.1 -14L64 -16.1L62 -17.5ZM40 25.8L39.2 27L39.5 28L40.7 29L42 29L42.5 28L42.2 27ZM75.1 -32L76 -33L77 -32.8L78 -32L78.3 -30L77 -29.2L76 -29.6L75 -30.9ZM-42.2 37L-39 37.5L-36.9 40L-36.5 43L-38 45.8L-41 43.9L-43.2 41L-43.4 38Z"/><path id="vb4" d="M-150 -150L150 -150L150 150L-150 150ZM-75 -22.8L-75.8 -21L-75.6 -20L-75 -19.2L-73.8 -19L-72.7 -20L-72.7 -21L-74 -23ZM-72 -31.5L-73.9 -29L-73.8 -27L-73 -26.4L-70.1 -28L-68.6 -30L-68.7 -31L-70 -31.9ZM10 -101.4L5 -98.6L-1 -99.8L-9.7 -95L-12 -93.1L-13 -93.3L-15 -94.9L-25 -92.4L-26.2 -95L-27.8 -96L-30 -96.3L-33 -96L-33.9 -95L-33.8 -90L-35 -87.8L-41 -85.7L-47 -85.3L-52 -79.1L-56 -73L-59 -71.7L-63 -72.5L-64 -71.8L-64.5 -70L-64 -67.7L-60.2 -63L-67 -59.6L-68.8 -57L-68.5 -54L-67 -53L-63.2 -52L-62.2 -51L-62.2 -50L-63 -48L-65 -46.3L-69 -47.9L-70 -47.3L-70.6 -46L-70.2 -43L-67.1 -40L-66 -38L-65.1 -33L-63.5 -29L-65.3 -23L-64.4 -17L-65 -16L-68.3 -14L-69.4 -8L-69.1 -5L-66.3 -1L-66.2 1L-67.9 4L-71 7L-71.2 9L-67 17.9L-63.3 21L-61.9 23L-62.9 28L-62 29.9L-59.6 32L-58.6 34L-58.5 39L-61.1 43L-61.4 45L-61 46.1L-60 46.8L-57 45.9L-55 46.5L-53.5 50L-53.8 55L-50 57.7L-45 64.6L-39 65.2L-34 66.2L-32.2 67L-31.2 69L-32.8 74L-32.5 75L-32 75.2L-23 72L-22.1 71L-23.1 67L-22 65.9L-20 66.5L-18 68.8L-12 68.5L-10.9 69L-9 71.6L-7 72.1L-2 71.5L2 67.1L3.2 67L6 68.7L8 69L10.7 67L13 66.3L15.5 67L18 69.9L19 70.2L24 68.3L28 69.7L37 68L38 68.1L42 70.3L45 70.4L47 69L47.4 68L47.4 63L49 59L57 51L59 50.8L60.3 52L60.6 53L59.5 58L60 59.6L62 60L63.5 59L64.2 56L63.4 52L65.3 48L65 46.9L61.6 44L62 42L63 40.7L64 40.1L66 39.9L70 42L72 42.3L76 40.5L80.7 40L81.5 39L80.6 37L77 33L75.9 28L73.3 24L73.7 22L75 21.7L83 24.3L86 24.7L94.5 21L95.5 20L94 17.4L90 15L89.1 13L89.2 11L90 7.5L93.3 4L94.3 2L93.8 0L91.6 -2L91.2 -5L92.2 -7L96.1 -10L97.6 -12L97.8 -14L97.2 -17L98 -23L97 -26L93 -31.7L89 -33.6L87.6 -35L87 -37L87.1 -43L85.3 -48L83 -49.5L77.7 -50L76 -50.8L73 -57.6L71 -64.4L59.4 -73L58.8 -75L60 -79.3L59 -80.1L55 -79.5L53 -80.4L49.9 -86L48 -88.1L47 -88.1L43 -86.2L38 -86.9L31 -84.8L28.3 -91L27.8 -95L27 -96.2L25 -97.2L24 -97L21 -95.2L19 -95.2L12 -100.9ZM-3.4 -77L2 -77.8L13 -75.4L19 -76.2L21 -75.8L24 -72.8L28 -70.3L31.3 -66L36.2 -63L39 -56.7L48.4 -52L55 -46L58 -39.2L60.6 -35L63.5 -28L65.9 -24L66.7 -20L66 -19L59 -21.1L57.9 -22L58 -25L57.1 -27L53 -30L51 -30.3L50 -30L49.4 -28L51.4 -24L51.4 -23L50.5 -22L45 -19.1L44.6 -18L45.5 -16L47 -15L49 -15.2L53 -16.8L55 -16.3L58 -9.1L62 -9.5L68 -12.1L69.7 -6L69.2 -4L66.2 1L66.7 10L66.1 12L64.4 14L63 14.9L62 14.1L56.7 6L58.1 1L56.6 -8L49 -10.2L38.1 -5L32 0.5L30 1.5L27.8 1L23 -5L20 -7.1L19 -7.1L14.2 -3L12.1 0L12.7 7L11.6 11L10 11.7L7 11.5L5.2 12L3 17L0 18.7L-2 18.3L-3.8 17L-4.3 15L-1.6 10L-1.2 5L0 3L4 1.9L5.4 1L6 -0.2L4 -1.5L0 -0.3L-8 -4.9L-17.6 -8L-25 -14.8L-30 -14.9L-34 -11.1L-35 -10.5L-36 -10.9L-40.2 -18L-44.9 -22L-44.4 -24L-42.3 -26L-42.1 -27L-43 -29L-46 -30.7L-53 -32.4L-53.4 -35L-52 -44.4L-50.8 -47L-48 -49.5L-47 -49L-46.8 -47L-51 -40L-51.2 -39L-50.3 -38L-47 -38.6L-42 -42.2L-40 -42.5L-35 -41.9L-34 -42.6L-34.5 -44L-38 -45.1L-40 -46.4L-41.8 -49L-42.9 -52L-43 -55L-42.1 -57L-37 -63.4L-35 -64.8L-30 -66.5L-26 -69.7L-21 -72.2L-13 -73.8L-9 -73.6ZM10 -22.5L9.3 -22L9.3 -21L11 -19L11.6 -20L11.4 -21L11 -22ZM19 -19.1L15.8 -18L15.2 -17L16.8 -12L19 -10L20 -10.2L22 -12.6L22.8 -17L22 -19.1ZM36 -55.4L35 -54.8L34 -53L34 -51.9L35 -50.8L36 -51L37.7 -53L37.4 -55ZM65 0L63.2 1L62.9 2L64 3.1L65.3 2L65.6 1ZM-32 -33.4L-33 -33L-33.5 -32L-33.2 -29L-36 -24L-35 -20.8L-34 -19.5L-32 -18.6L-28 -20.6L-24 -17.4L-22 -17.8L-19.7 -21L-19.3 -23L-19.8 -24L-22 -24.3L-27 -23.1L-28 -23.7ZM-29 -64.2L-31.8 -61L-27 -60.4L-24 -56.5L-19 -56.9L-17.4 -58L-18 -60.3L-22.5 -64L-25 -64.6ZM-9 -72.4L-10.3 -71L-10.1 -70L-9 -69.5L-7 -69.9L-6.4 -71L-6.7 -72L-8 -72.6ZM49.9 -72L51 -72.6L51.5 -72L51.5 -70L51 -69.8L50 -70.5ZM88.5 -26L89.3 -26L89.5 -25L89 -24.6L87.9 -25ZM-32.3 0L-31 -0.4L-29 0.8L-28 2L-28 3.2L-29 3.8L-31.4 3L-32.9 1ZM36.8 4L38 4.2L38.7 5L41.1 9L40 12.6L38 10.9L36 6.7L35.8 5ZM49.3 5L52 4.5L54.2 6L54.3 7L52 9.1L50 9.4L48 9L46.9 8L47.2 7ZM24.6 9L26 8.6L28 9.6L30.3 15L35.5 19L36.2 21L35.6 25L36.1 29L35.8 30L35 30.2L29 29.3L25 31.7L23.8 33L23 35L23 39.9L24 40.6L25 40.5L30 36.9L32 37.2L36 38.7L39 38.6L40.8 37L39.3 33L40 32.7L43.1 33L47 35.1L51 33.6L51.7 34L49.5 40L43.6 47L36.3 51L32.6 54L30 54.7L29.1 54L30.1 52L29.8 50L27 46.6L26 46.1L22 49.2L17 48.6L15.3 50L15.2 52L20.2 57L19.7 58L14 59.6L5 60L2.3 59L1.2 58L0.2 53L2.1 49L2.1 48L-3 41.4L-4 41.3L-5.2 43L-4.6 47L-5 48.6L-10 48.6L-12.3 50L-12.1 52L-7.4 57L-7.6 58L-12 58.4L-16 58.1L-17.8 57L-20 52.9L-23.2 52L-24 51.2L-17 38.8L-12 36.7L-8 35.7L-6 35.4L-3 35.9L-1 35.1L0 33L0.2 26L1 24.8L4 24.5L7 22.9L8 22.9L9 24L9.2 27L10 28.9L12 31.1L13 31.3L17 27.7L21.1 25L21.8 24L21.2 22L20 20.8L16 19.4L15.1 18L14.7 15L15 14.1L16 13.8L19 15.1L20 14.9L22.1 11ZM12 34.3L8 38.9L8 40L9 41.2L12 41L14.4 39L14 35.6L13 34.1ZM41.2 17L42 16.5L47 17.2L49.4 18L51 19.4L51.7 22L51.2 26L50.3 28L49 29.3L47 29.5L45.1 26L41.1 22L40.5 20ZM-41.1 19L-39.7 19L-38.1 21L-38.7 23L-40 23.5L-42 23.3L-42.5 22L-42.1 20ZM-28.1 26L-25 25.6L-23.3 27L-23.2 28L-25.5 32L-24.5 36L-24.7 38L-26 39.2L-28 40L-30 39.5L-31 38.3L-33.6 33L-34.1 30L-33.1 28Z"/><path id="vb5" d="M-150 -150L150 -150L150 150L-150 150ZM-4 -105.5L-5 -104L-5.6 -100L-8 -98.4L-9.7 -99L-11.3 -102L-13 -102.6L-16.2 -101L-19 -97.3L-21 -96.7L-31 -98.6L-35 -100.9L-43 -99L-45 -97L-46 -93L-49 -90.8L-51.4 -86L-55.2 -84L-58 -80L-61 -82.5L-62 -82.7L-63.8 -82L-65 -80.4L-67.6 -73L-69.2 -63L-71.6 -56L-71.4 -50L-73 -45.8L-74 -44.3L-79 -44.1L-80.1 -43L-80.6 -41L-79.7 -39L-76.7 -36L-75.6 -34L-78.5 -27L-78 -19L-76 -16.5L-72.2 -15L-71.4 -13L-71.5 -10L-72.9 -4L-71.6 2L-73.6 6L-73.6 7L-68.6 19L-66.7 22L-66 24.8L-65.5 32L-66.4 33L-70 34.6L-71 36L-70.9 37L-70 38.1L-67 39L-64.8 39L-63 38L-64.6 44L-63.9 47L-56 57.7L-49.3 64L-48.8 66L-50 69L-49.8 70L-49 70.1L-47 68.8L-44 67.9L-41 67.7L-39 68.2L-37.9 69L-37.8 70L-39.2 72L-39.4 74L-35 78.3L-32 78.8L-23 76.1L-19 76.8L-14 75.4L-10 76.1L-5 74.8L-3.3 76L-2 79.7L-0.7 80L1 79.3L2 78.1L2.5 74L4 72L10 71.9L13 69.6L14 69.8L15.6 72L18 73.7L22 73.1L23 73.4L28 79L30 79.3L31.5 78L31 74L32 72.5L34 71.8L37 71.6L42 73.6L44 73.5L49.2 70L53 64.7L59 63.7L62 64.4L65 66.6L67 66.8L68.7 66L70.3 64L70.6 61L66.9 52L69 47.3L70.7 47L72 48L74 52.7L75 53L75.7 51L74.1 47L74.2 46L75.8 44L79 42.9L83 43.5L85 43.3L89.4 41L89.5 40L88.8 39L85 37.7L83 36L80 31.6L79.6 29L80 27.6L81 26.8L88 26.8L98 22.3L99.1 21L98.4 19L92 13.4L91.3 12L92 9.4L94 8.2L95 8.2L97 10L99 10.5L101 9.7L102.3 8L102.2 7L101 5.8L97.3 5L97.7 0L94.3 -4L94.6 -6L98.5 -10L100 -14L99.5 -18L99.6 -24L97.3 -32L97.4 -37L97 -38.1L96 -38.3L92 -36L90 -36.2L89 -38L89.4 -43L88.7 -50L87.7 -51L83 -52.6L80 -55.4L76 -56.8L74.6 -59L73.9 -64L75.6 -69L74.6 -71L72 -72.9L68 -72.1L62.7 -74L62.2 -75L62.4 -76L64.7 -79L64.2 -81L62 -82.7L55 -83.3L49 -92.3L48 -93L47 -92.8L44.6 -90L43 -89L38 -89.5L33 -88.3L31.3 -90L31 -93L32 -94.5L34.8 -96L35 -97L34 -98.1L29 -98.8L27 -99.7L24 -104.9L23 -105.5L20 -104.9L17 -102.1L16 -102L11 -104.8L9 -104.3L5 -101.7ZM-2.4 -76L2 -76.7L12 -74.3L20 -74.3L23 -71L27 -68.5L30.6 -65L34.1 -63L35.7 -61L36 -58.8L33.2 -56L31.9 -53L31.9 -50L33 -48.2L35 -47.9L37 -48.9L41 -53.2L42 -53.3L47 -51.4L54.1 -45L57 -38L59.9 -33L60.6 -30L60 -29.7L58 -30L53 -32.5L49 -33.1L47 -32.8L46.2 -32L45 -28.8L39 -28.7L38 -27L37.7 -21L37 -20L33 -19.2L32.7 -18L33.1 -17L34.5 -16L39 -16.2L41 -15.6L42.7 -14L43.4 -12L41 -9L31 -2.5L29 -3L27 -5.2L23.8 -7L22.4 -9L25.2 -18L29.6 -22L29 -24L27 -24.9L24 -24.7L20 -22L18 -21.8L16 -22.2L13 -25.7L11 -26.5L4 -25L0 -22.4L-1 -22.3L-5 -25.4L-7 -25.3L-8 -24L-7.8 -23L-6 -21.4L-2.8 -20L-2.2 -19L-1.7 -15L0.6 -13L1.1 -11L0 -9.7L-6 -6.3L-12 -8.2L-14 -10L-15 -13.3L-17.7 -16L-18.3 -18L-16.8 -22L-13.8 -26L-13.6 -30L-11 -33L-11.1 -35L-12 -36.8L-14 -38.2L-21 -36.7L-21.5 -36L-20.8 -32L-21 -29L-22 -28L-24 -28.1L-26.9 -31L-27.4 -33L-26.5 -35L-23.5 -37L-23.4 -38L-25 -39.4L-28.6 -41L-29.6 -44L-31 -45.8L-36.5 -48L-38.1 -50L-39 -54L-38 -56.6L-30 -56.5L-29 -56.2L-26 -53.3L-23 -52.2L-19 -53.4L-13.9 -56L-12.5 -58L-13.5 -61L-13 -62L-11.5 -61L-9 -57.7L-7 -57.4L-3 -59L-1.9 -60L-2.2 -61L-5.7 -65L-5.9 -66L-3.6 -71L-5.1 -74ZM2 -60.2L0.1 -59L0.8 -57L3 -55.1L5 -54.9L6.1 -56L7.9 -60L6 -60.8ZM12 -46.1L11.8 -45L13 -44.4L13.4 -45L13 -45.8ZM25 -40.2L23 -38.3L21.5 -34L20 -32.2L18 -32.5L15 -36.2L14 -36.1L13 -35.1L12.5 -33L13 -30.7L17 -26.8L19 -26.5L19.8 -27L21.9 -31L27 -34.3L28.4 -36L28.8 -38L28 -39.9L27 -40.4ZM-8 -51.1L-11 -47.3L-14 -47.1L-20 -48.8L-21.1 -48L-21.2 -47L-13 -42.2L-9 -44L-2 -45.8L-0.3 -47L-0.3 -49L-2 -50.5L-6 -51.5ZM-19.3 -71L-17.5 -71L-20 -69.4L-21.6 -70ZM-42.7 -39L-40 -39.7L-37.5 -39L-36.4 -38L-36.6 -36L-39 -31.8L-40 -31.3L-42 -31.7L-46.3 -34L-46.4 -35ZM45.6 -25L46 -25.8L47 -25.2L47.1 -24L46 -23.8ZM9.7 -14L13.2 -14L14.7 -12L15.7 -9L15 -7.3L10 -2.5L9 -2.2L7 -3L5.1 -5L7.4 -12ZM65.6 -7L67 -7.5L67.6 -7L67.8 -6L67 -4.6L65.2 -5L64 -6ZM4.5 4L7 3.2L9 3.6L10 5L9.9 7L8 8.3L2.3 8L1.7 7L1.9 6ZM-0.4 13L0 12.6L0.8 13L1.3 14L1.1 15L0 16L-1.5 15ZM3.5 29L6 28.7L7.5 30L8.2 32L7.1 34L5 34.5L3 33.1L2.6 31ZM-30.1 30L-29 29.4L-28.3 30L-29 33.6L-30 33.2L-30.5 32ZM17.9 30L20 29.5L21.2 30L21.5 31L20.2 36L19 37.1L18 36.7L16.8 34L16.7 32ZM-11.5 40L-9.9 40L-9 41L-8.9 42L-9.4 44L-11 44.7L-13 44.1L-13.5 43L-13 41ZM1.5 41L2 40.4L3 40.5L4 41.2L4.8 43L4.2 44L3 44.1L2 43.4ZM43.8 41L44.1 41L43.7 43L42 46L38.9 48L36 49L34 48L31.8 46L30.1 43L30.7 42L32 41.7ZM12.6 44L14.9 44L15.4 45L14 46.5L12 46.5L11.6 45ZM6.1 52L10 52.4L11.3 54L11.7 56L7 58.5L4.7 58L4.6 54L5 52.8Z"/><path id="vb6" d="M-150 -150L150 -150L150 150L-150 150ZM-15 -116.5L-15.8 -115L-15 -113.7L-14 -113.1L-13 -114L-13.1 -115L-14 -116.3ZM-4 -112L-8 -107.8L-12 -106.8L-15 -104.6L-23 -100.4L-27 -99.9L-30 -100.2L-32 -101.8L-34 -104.6L-35 -105.2L-36 -105L-39 -102.2L-45.7 -100L-51.2 -96L-52.4 -91L-54 -88.6L-59 -86.3L-66 -84.5L-68 -83.2L-68.6 -78L-69.6 -75L-71 -72L-74.2 -68L-74.3 -67L-73 -65.1L-72.6 -63L-73.3 -59L-74 -57.9L-76 -57.4L-77.1 -58L-80 -61.5L-81 -61.1L-82.6 -56L-82.1 -53L-81 -51.8L-79 -50.9L-75 -51.5L-74 -50.3L-74 -48.9L-75.4 -47L-79 -46.4L-80 -45.6L-81.8 -43L-82.1 -40L-79.7 -35L-80.6 -32L-82 -30.5L-87 -28.5L-88.6 -26L-88.4 -25L-87 -23.9L-83 -23.6L-81.7 -23L-79 -16.6L-74.7 -12L-74.8 -10L-76.7 -4L-81 0.9L-81.2 4L-80.9 6L-80 7.2L-76 8.7L-74 10.6L-71.2 16L-70.8 19L-71.5 23L-69 26.2L-68.2 29L-68.9 31L-72.4 34L-73 37.5L-72.1 39L-67.8 42L-66.7 46L-63.9 53L-58 58.3L-53.1 65L-53.7 69L-51 73.6L-49 73.9L-46 72.3L-44 72.1L-41 75.8L-37 79L-35 80.2L-29.1 82L-26 86.6L-24 87.3L-21.9 86L-20.8 81L-16 78.7L-14 78.5L-11 79.2L-7 79.1L-6.2 80L-5 83.5L-4 83.9L4 80L7 76.4L12 74.7L14 74.7L18 76.9L22.2 78L22.1 79L18.2 82L13.1 84L12.4 85L13.8 87L15.6 88L17 88.1L23 85.3L34 81.9L39 78.1L41 78.4L44 80.1L46 80L47.3 79L47.7 75L48.9 73L54.6 70L58 66.8L60 66.9L64 68.9L67 68.7L69 67.8L75.4 62L76 58L79 53L79.3 49L80 47.5L84 49.5L86.8 45L91.8 43L92.9 42L92.8 40L90.3 36L90.3 35L94.1 30L96 26L101 23.2L101.8 22L101.7 20L98.2 16L97.8 14L104.6 10L106.2 8L106.9 6L106.9 3L104.7 -1L103 -2.2L99 -3.4L97.5 -5L97.7 -6L102 -11.8L105 -13.7L105.6 -15L104.8 -16L103 -16.8L101.7 -19L101.8 -25L99.1 -33L99.6 -38L99.1 -40L97 -40.7L93 -41L92.2 -42L91.3 -46L91.4 -51L90.7 -53L89 -53.9L85 -54.2L82 -57.9L77.5 -60L76.9 -62L79 -66L78.4 -69L74 -74.7L69.9 -78L66 -83L63 -84.9L57 -86.4L53 -90.1L50.7 -94L49 -95.6L47 -95.8L45.3 -95L43 -92.7L42 -92.3L41 -92.7L38.6 -97L36 -99.8L34 -100.8L30 -101.2L28.3 -102L26.7 -106L25 -107.7L22 -107.7L16 -105.6L9 -108.3L3 -106.7L0.2 -108L-0.8 -111L-1.7 -112ZM60 75.8L59.2 76L58.8 77L61 77.7L62 77.4L62.3 77L61.4 76ZM85 51.3L83.6 53L82.7 56L82.6 59L83 60L84 60.4L88 59.5L89.4 58L90.1 56L90 54L89 52.6L88 51.8ZM-1.3 -75L1 -75.5L4.3 -75L5.3 -72L8.6 -67L8.2 -65L6 -63.6L4 -63.2L2 -63.5L-0.3 -65L-1.5 -67L-0.7 -71L-1.8 -74ZM16.9 -73L18.7 -73L20.2 -72L20.4 -69L21.6 -65L26 -59.4L30 -63.2L32 -62.8L34 -61L34 -59.7L30.4 -56L29.9 -52L30 -49L31 -45.7L32 -45L36.2 -45L37.2 -44L36.5 -39L34.4 -34L34.3 -28L33 -26.2L27 -27.2L25.6 -28L25.2 -29L26.3 -31L30 -34L31.2 -36L31.2 -38L30 -42L28 -42.6L23 -41.4L19 -38.1L18 -39.1L17.9 -41L18.6 -44L17.7 -49L19.8 -52L20.3 -60L15.1 -65L13.7 -67L14.5 -70ZM10 -56L11 -56.1L11.6 -55L11 -53.2L10 -52.9L9.2 -54ZM-33.3 -53L-31 -53.6L-29.4 -53L-26.8 -50L-27 -48.3L-29 -48L-33.1 -50L-33.9 -52ZM42.9 -51L44 -51.2L46.5 -50L49.7 -46L53.7 -43L55.2 -39L54 -36.6L52 -35.7L50 -36.1L48.5 -38L47.9 -42L47 -43.4L39.5 -46L39.3 -47L40 -48ZM3.4 -50L4 -50.5L5.2 -50L6.4 -47L11.4 -39L9.6 -31L8 -29.1L6.9 -29L5.5 -30L4 -36L1 -39.5L-0.2 -42L0 -43L2.4 -45L3.7 -47ZM-14.1 -20L-13 -20.5L-10.2 -20L-6.4 -18L-5.9 -17L-6.5 -14L-6.1 -11L-7.9 -9L-10 -9.2L-11.8 -11L-12 -12L-11.2 -15L-12 -16.8L-14.3 -19ZM26.9 -15L28 -15.6L28.6 -15L28.7 -13L28 -10.9L27 -10L26 -10L25.9 -12ZM37.2 45L38 44.7L39.4 45L38 45.7Z"/><path id="vb7" d="M-150 -150L150 -150L150 150L-150 150ZM-93 -44.3L-94.6 -42L-95 -40L-93.3 -37L-91 -35.8L-89.1 -37L-88.7 -40L-91 -43.9ZM-15 -119.1L-17 -118.1L-18.1 -116L-17.8 -114L-15.1 -109L-16.5 -107L-20 -106.5L-25 -107.4L-25.9 -106L-26.5 -103L-28 -102L-29 -102.1L-30.5 -103L-34 -107.8L-36 -108.2L-41 -103.5L-54.1 -99L-55.3 -98L-56.3 -96L-56 -91L-61 -87.8L-69 -86.1L-70.9 -85L-72.3 -83L-70.8 -78L-72.2 -74L-75 -71.5L-80 -70.6L-84.2 -64L-84.7 -55L-81.2 -48L-83.9 -41L-82.7 -35L-84 -32.7L-88.6 -30L-92 -26.6L-96 -24.1L-97 -22.1L-97.2 -20L-96.6 -18L-94 -17L-93 -17.2L-90 -21.1L-84 -20.8L-82.9 -20L-81.4 -16L-79.1 -12L-78.8 -10L-79.4 -6L-81 -4.5L-83 -4.3L-84 -3.6L-84.5 2L-83.6 7L-81.2 11L-82 15L-81.8 17L-80 18.3L-79 18L-76 13.2L-74 14.2L-73.1 16L-73.2 18L-76.6 22L-77.1 24L-76 27.1L-74 28L-73.2 29L-75.2 32L-74.9 39L-74 40.4L-70 43L-68.3 48L-68.2 51L-70.3 56L-70.6 59L-70 60.1L-66 60.7L-64 62L-64 65L-63 67.4L-61 68.9L-57 69.4L-55 70.6L-52 76.4L-50 76.8L-46 75L-44 75.5L-36 81.6L-30.4 84L-27 88.7L-26 89.3L-24 89.3L-21.1 88L-16 82L-14 81.2L-11 81.6L-8.8 83L-8.4 86L-9.7 90L-8 90.6L-6 89.9L0 83.9L4 82.3L6 82.3L7 83L7.8 87L9 88L16 89.8L24 88L30 89.9L31.9 89L34 86.5L39 83.6L45 84.2L49 83L56 79.8L64 80.9L65.3 80L66.1 78L65.9 76L64.6 73L64.8 72L74 66.5L87 64L89 62.7L91 60.3L92.6 56L92.8 54L89.7 48L89.7 47L94 45L96.5 41L96.2 39L93.9 36L94 34.3L95 32.7L98 29.4L99 28.9L100.4 34L102 35.4L105 34.2L107 31.6L107.3 29L104.5 26L105.1 21L102.7 16L103 15.1L107 13.5L113 14.7L114 14.3L114.7 13L114.6 6L113.8 2L112 -1.6L106.4 -9L111.4 -21L111.2 -23L108 -28.3L107 -28.9L104 -28.9L103 -29.5L101.2 -32L100.6 -35L102.5 -40L102 -41.9L100 -42.8L96 -42.8L94.2 -44L93.1 -47L93.1 -53L92.1 -55L89 -57.7L83.8 -61L80.7 -69L67 -85.5L65 -86.5L58.7 -88L50 -97.2L47 -97.8L42 -96.9L37.5 -101L30.7 -104L28.9 -108L27 -109.6L22.9 -110L16 -107.7L13.4 -109L10 -112.7L9 -112.9L6 -111.2L4 -110.9L-1 -114.3L-3 -114.8L-5 -114.3L-8 -111.2L-9 -110.9L-9.9 -112L-10.5 -115L-11.6 -117L-13 -118.4ZM-94 1.8L-95.7 3L-96 5L-94.4 7L-92 7.7L-90.6 6L-91 4L-92.7 2ZM23.9 -50L26 -51L27 -50.6L27.7 -49L28 -46L26 -44.1L23 -43.8L21.7 -45L21.9 -48Z"/><path id="vb8" d="M-150 -150L150 -150L150 150L-150 150ZM-93 -66.3L-95 -64.3L-97.5 -59L-97.2 -57L-95 -54.7L-94 -54.7L-93 -56.6L-90.7 -64L-91.5 -66ZM-17 -120.1L-18.5 -119L-20.6 -116L-20.5 -114L-19.2 -111L-19.7 -110L-21 -109.8L-22.9 -111L-23.3 -112L-23.4 -115L-25 -116.3L-28.2 -116L-31.2 -114L-29 -111.9L-28 -110L-29 -107.2L-30 -107L-31.9 -109L-33.2 -113L-34.4 -114L-38 -114.5L-40 -114L-42 -112.5L-42.9 -111L-40.8 -109L-40.9 -107L-41.8 -106L-46 -104.7L-56.3 -100L-58.6 -98L-61.7 -94L-61.4 -92L-62.6 -90L-64.5 -89L-71 -87.2L-75.9 -83L-75.8 -81L-73.4 -78L-74 -75.5L-76 -73.9L-79 -74.2L-81 -73.6L-86.9 -65L-87.2 -57L-83.9 -49L-84.1 -46L-86 -43.7L-87 -43.8L-94 -50.6L-95.8 -49L-96.9 -47L-98.2 -41L-98 -40L-91.8 -32L-93 -29.3L-97 -26.5L-98.2 -25L-98.9 -22L-99.1 -17L-98 -15.5L-93.9 -14L-91 -11.8L-87.6 -1L-88 0.7L-89 0.9L-93 -1.3L-95 -0.6L-97 0.8L-97.7 2L-97.8 5L-96 7.7L-93 9.6L-90 10.3L-87 8.5L-85 9.6L-84.1 11L-84.2 13L-86 16.7L-87 18.3L-89 18.8L-90 19.9L-90 21.3L-89 22.9L-88 23.4L-87 23L-86 20.2L-85 20.3L-83 22.4L-82.4 25L-84.4 28L-84.2 31L-83 32.5L-78.6 35L-77.7 37L-77.8 41L-77.3 42L-72.7 45L-71 48L-71 51L-73 59L-72.3 62L-70 65.1L-63 70.5L-58 71.1L-55.8 72L-55 73L-54.5 75L-55.8 80L-55 81.1L-52.6 81L-49 79.7L-46.5 78L-45 77.8L-36 83.9L-31 86L-28.6 90L-27 91.3L-16 88.6L-13 92.7L-6 93.5L-5 94.1L-3.1 97L-1 97.8L0.7 97L0.9 96L-2 93L-2.2 91L0.3 86L3 84.5L4.3 85L5.7 88L7 89.3L15 91.2L18 91.1L23 90L29 91.6L32 91.8L33.8 91L36.5 88L38 87.4L40 87.4L41.8 89L43.1 92L44 92.9L45 92.8L47.8 87L54 82.2L58 81.4L63 83.1L66 82.2L67.7 79L68.1 73L69.7 71L73 68.8L76 68L82 68.5L89 67.6L92.7 62L94.6 57L95 54L94.1 50L95 48.1L97 47L99.5 50L101 50.6L102.5 50L104.1 48L104.9 46L104.1 42L104.6 40L108.9 34L110.3 30L110.3 28L109.1 24L110.3 19L111.3 18L115 16.7L116 15.9L116.8 14L116.7 7L115.6 -1L113.3 -6L109.6 -10L110 -12L114.6 -20L114.9 -23L111.3 -27L109.4 -32L107.5 -35L106.8 -39L103.8 -43L101 -45.4L97 -44.9L95.6 -46L95 -53L92.8 -58L93.6 -63L93 -63.9L91 -64.3L87 -62.8L85 -63.9L82.7 -70L78 -74L75 -79.5L72.8 -82L71.5 -85L69.6 -87L67 -88.2L62 -88.7L60 -89.5L57 -94.7L51 -99L45 -100.3L42 -101.9L35.1 -104L32.8 -106L30 -110.2L27 -112.2L22 -112L18 -110.6L16 -110.5L15 -111.1L12 -115.3L9 -117.3L7 -117.3L5 -115L3 -114.5L-1 -117.3L-8 -117.5L-11.6 -120L-14 -120.8ZM-14.1 85L-13 84.5L-12 85L-12.3 86L-14 87.2L-14.6 86Z"/><path id="vb9" d="M-150 -150L150 -150L150 150L-150 150ZM-16 -121.1L-20 -120L-21 -119.2L-24 -119.1L-34 -115.8L-41 -114.6L-45 -111L-49 -109.1L-51.1 -107L-51.5 -105L-52.8 -104L-63 -97.8L-65 -95.7L-68.1 -91L-78.3 -84L-79.6 -82L-80.2 -79L-87 -70.6L-89 -69.6L-93 -69.1L-95 -68L-100.5 -58L-100 -56L-98.1 -53L-98.2 -51L-102 -48.1L-102.6 -46L-102 -39L-97 -35L-95.5 -32L-96.5 -30L-99.7 -28L-100.3 -27L-101.2 -19L-104.4 -14L-104.7 -11L-99.4 -4L-99.7 2L-98.8 6L-97 8.4L-92.4 12L-91.2 14L-91.3 16L-92.9 20L-91.4 26L-87.3 31L-81.9 43L-77.2 46L-74 51.3L-73.4 54L-74.7 60L-74.1 62L-71 66.7L-64 72.6L-63 73L-58 72.9L-57 73.5L-56.5 75L-56.7 76L-58.7 80L-58.1 82L-57 83.2L-55 84.3L-53 84.4L-47 83.4L-44 82.3L-42 82.3L-40 83.4L-37 86.3L-32.5 88L-29.9 92L-28 93.7L-26 93.7L-22.6 92L-20 91.6L-18 92.7L-16.4 96L-15 97.3L-9 95.8L-4 99.4L-1 100.4L2 99.7L3.8 98L3.7 95L1.5 91L2 89.4L3 89.2L7 91.4L13 92.5L26 92.4L35 95.2L36 94.8L38 92.4L39 92L43 95.5L45 96.2L46.6 95L49.3 90L52.9 85L55 83.3L58 83L63 85.2L65 85.1L67 84.1L68.7 81L70.6 73L73 70.6L76 70L80 72.4L82 73L87 71.3L92 73.2L93.7 73L95.1 72L95.1 70L93.5 67L93.7 65L96.8 59L98 55L99 54.1L102 53.8L103 53.1L109.3 44L112.7 29L111.9 24L112.2 22L113.3 20L117 17.3L118.4 15L118.7 12L118.2 2L119 0.7L122 -1.7L122.1 -5L121 -5.7L117.9 -6L116.1 -10L113.9 -11L113.4 -12L116 -15.9L118 -20.2L118.3 -23L117 -26.3L114 -27.5L112.7 -29L111 -39L110 -40.6L105 -43.9L98 -52.3L95.5 -58L96.9 -63L96 -64.8L94 -66.4L88 -66.3L86.7 -67L85 -71.6L84 -73L80 -74.5L78.4 -76L77.4 -79L77.2 -85L75.2 -87L69 -90.5L62 -91L61.2 -92L60.9 -95L60.2 -96L52.8 -101L47 -104L44 -104.8L39 -104.5L36.9 -105L30.8 -112L27 -114.2L24 -114.9L19 -113.4L17 -113.4L9 -119.9L2 -121.6ZM-98.2 -11L-97 -11.9L-96 -11.9L-93.2 -10L-92.5 -7L-94 -4.9L-96 -4.1L-97.4 -5Z"/><path id="vb10" d="M-150 -150L150 -150L150 150L-150 150ZM-12 -122L-17 -121.5L-35 -116.4L-40.5 -116L-45 -112.4L-49 -110.9L-55 -104.4L-63 -99.7L-66 -97.2L-73.8 -89L-81.8 -84L-84.5 -81L-86.5 -77L-90.5 -73L-96.2 -69L-99 -63.1L-102 -60.4L-102.8 -59L-103.3 -53L-105.3 -47L-104.8 -31L-103.2 -22L-104 -19L-106.5 -14L-106.3 -10L-103.4 -5L-101.9 1L-99.7 7L-98 9.2L-94.4 12L-93.2 14L-93.3 16L-94.9 20L-94.3 27L-90.5 30L-89 32L-87.3 38L-82 49.7L-77 52.4L-75.6 54L-76.4 60L-73 66.7L-67.9 71L-65 74.9L-61.7 77L-61.2 81L-58.1 86L-58.3 89L-57.3 90L-55.9 90L-53.3 88L-49 86.1L-43 85.6L-42 86L-39 88.4L-34 90.5L-29 97L-27.4 98L-22 99.7L-20 101.3L-18 104.2L-17 104.5L-13 100.7L-10 99.2L-8 99.7L-2 103L3 102.2L7 104.1L10.9 104L12.9 103L13.5 102L13.2 97L13.4 96L15 95.1L17 95.3L18 95.9L18.9 99L20 99.6L23 98.5L25.7 95L28.8 95L30.6 97L30.3 100L30.7 101L32 101.7L36 98.3L39 96.6L41 96.8L44 98.4L46 98.8L47.2 98L50 93.2L53 90.7L54.3 87L56 85L57.2 85L62 87.1L68 86.8L69.4 85L72 77.4L74 74.7L82 75.3L87 74.3L93 75.4L96 74.1L97.9 72L97.9 70L96.4 67L96.7 64L99 60.9L103 57.5L107 50.2L111.8 46L114.7 32L118 28.8L119.5 26L119 24L116.5 23L116 22L120.3 15L120.8 11L120.1 4L120.9 2L122 0.9L123 -3L122.6 -6L119.4 -14L119.5 -20L118.8 -24L117.4 -27L114.5 -31L110.7 -41L108 -44L105 -45.9L103.6 -48L102 -53L99.5 -57L96.8 -65L94 -68.2L89.4 -70L87 -74L85 -75.9L80.3 -77L79.6 -79L80 -84L79.1 -86L77 -88.2L63.6 -97L47 -105.4L42 -107L39 -107.4L37.5 -109L27 -115L22 -116.1L18 -115.7L12.8 -119L2 -122.4Z"/><path id="vb11" d="M-150 -150L150 -150L150 150L-150 150ZM-3 -123L-16 -122.4L-34 -117.4L-40 -117.2L-42 -116.5L-46 -113.3L-50 -112L-54.3 -106L-58.8 -103L-64.9 -100L-75 -89.9L-83 -85.4L-92.7 -74L-97.2 -70L-100 -64.2L-103 -61.9L-104.3 -60L-105.4 -53L-107.4 -47L-107.4 -33L-108 -31L-109.4 -29L-107.4 -23L-108 -12L-107.3 -8L-100.7 8L-99 10.5L-95.2 14L-95.4 16L-96.9 19L-97.7 28L-97 29.1L-93 30.7L-91 32.7L-89.6 38L-86.8 43L-86 49L-85 51.6L-83 54.4L-79.4 56L-79.5 59L-76 64L-74 68L-68.6 73L-67.6 77L-64 80.5L-61.4 85L-61.2 90L-59 91.7L-56 92.5L-53 92.4L-49 90.2L-45 91.9L-41 92.2L-38.7 93L-37.7 94L-37.1 96L-37.5 97L-39 98.1L-39.9 100L-39 102L-38 102.6L-36 102L-35 99.2L-34 98.7L-25 101.1L-22 102.8L-19.4 107L-18 108.1L-16 107.3L-12 103.4L-10 102.7L-7.5 104L-3 108.9L0.2 106L2 105.1L15 106.6L17 106.4L22 102L25 100.9L27 101.4L31 104.5L33 105L34 104.5L36.9 100L39 98.8L41 98.9L45 101.2L47 101.2L48.6 100L51 96.2L52 95.7L57 97.4L59.5 97L60.3 96L59 91L59.6 90L61 89.5L64.3 90L65.3 91L66.5 94L69.5 94L71 93L72.1 91L71.8 87L72.8 84L79 78.2L87 77L92 78.2L93 78L97 74.7L99.5 72L100.3 70L99.4 66L99.7 65L101 64.1L104 63.2L105 62.2L107.4 53L109 51.1L112 50.2L114 46L116.3 36L119.1 31L120.6 26L120.9 19L122.4 14L122.4 3L123.8 -3L123.3 -6L120.8 -14L119.7 -24L118.4 -27L115.1 -32L112.3 -40L111 -42L106.2 -47L103.6 -53L100.2 -59L97.8 -65L88.5 -76L86 -81L75 -90.6L65 -97.3L48 -106L41 -108.3L33 -112.3L28 -115.6L18 -117.5L10 -120.7L2 -123.2Z"/><path id="vb12" d="M-150 -150L150 -150L150 150L-150 150ZM-2 -124.1L-17 -122.9L-26 -120.9L-34 -118.4L-41 -118.1L-46 -114.8L-51 -112.7L-54.6 -107L-58.8 -104L-62 -102.7L-67 -103L-68 -102.6L-69 -101.2L-69.7 -98L-74 -92.9L-76 -91.4L-80 -90.6L-82 -89.1L-88 -82.3L-92.1 -79L-96.7 -73L-100.7 -70L-100.4 -67L-101 -65.5L-102 -64.8L-103.6 -65L-103.6 -67L-102.4 -70L-103 -70.9L-104 -71.2L-105.6 -70L-106.2 -68L-105.2 -65L-105.1 -63L-107 -53.2L-109.4 -48L-109.2 -42L-110 -40.2L-111 -39.3L-115 -39.8L-116.5 -38L-117 -35L-116.1 -29L-112 -25L-111 -23L-109.5 -15L-109.3 -8L-106.6 0L-103.7 5L-99.2 15L-100.4 20L-99.2 24L-99.7 30L-98.7 31L-95 32.4L-94 33.5L-93.9 37L-91.6 41L-91.1 44L-87.3 53L-87.3 55L-88.2 58L-87.6 60L-85 61.6L-80 62.4L-77.9 64L-76.9 66L-76.7 69L-71.6 73L-71.2 74L-71.9 78L-71 79.2L-67 80.8L-65 82.6L-63.8 85L-63.3 90L-61.3 92L-51 95.4L-46 95.1L-44 95.6L-43 97L-42 101.7L-39 105.1L-35.1 105L-30 102.4L-26 102.6L-23 104.5L-20.5 109L-19 110.6L-17 110.7L-13 107.2L-11 106.3L-9 107L-6.8 111L-4 111.8L0 111L1.9 108L3 107.4L17 108.6L19 107.6L23 103.6L25 103L27 103.6L31 106.5L33 106.9L36 105.3L37.5 102L39 100.9L41 101L44 102.7L46 102.9L49 101.8L53 98.9L60 98.6L64 96L70 96.1L71.6 95L72.9 93L73.7 91L74.1 87L75 85.5L78 84.3L82 85.7L84 85.1L87 81.9L92 80.1L94 78.6L100.7 72L103 67.5L106.8 62L109.2 56L113.9 49L117.7 36L120 31L121.7 25L121.9 19L123.2 13L123.3 3L124.6 -3L124.3 -6L122 -12L121.3 -16L121.4 -21L120 -26L116.1 -32L112.9 -41L107 -47.5L101.2 -59L98.8 -65L89.7 -76L88 -81.6L87 -83.1L82 -85.5L75 -91.8L65 -98.8L60 -100.7L48 -107.3L43 -108.6L38 -111.5L33.7 -113L28 -116.7L19 -118L2 -124.1ZM-82 69.8L-82.8 71L-82 72.1L-80 72.6L-78.7 72L-78.3 71L-79 70.2Z"/><path id="vb13" d="M-150 -150L150 -150L150 150L-150 150ZM-1 -125.1L-18 -123.6L-34 -119.6L-41 -119.5L-47 -115.6L-52 -113.2L-55.3 -108L-59 -105L-62 -104.1L-67 -105.1L-70.1 -104L-71.7 -102L-73.4 -98L-77 -96.8L-79 -95.5L-89 -84.1L-91 -83.3L-94 -84.2L-96 -83.5L-96.9 -78L-98.8 -75L-100 -74.7L-105 -76.1L-107 -75.8L-107.9 -75L-108.5 -70L-107.2 -61L-107.6 -56L-111.3 -49L-112 -43.2L-114 -42.4L-116.8 -40L-118 -37L-118.2 -27L-113.6 -22L-111 -13L-111.3 -7L-109.5 -3L-108.6 1L-105 6.2L-102.8 14L-102.9 17L-104.2 21L-101.3 25L-101.9 32L-99 34.6L-98.3 36L-97.3 40L-97.9 44L-97.4 45L-92.8 47L-90.3 51L-89.8 54L-91 60L-90.5 61L-85.9 65L-87.3 69L-86.3 72L-82.8 75L-76 76.9L-72 81.1L-67 83.7L-65.9 86L-65.2 90L-63.7 92L-55 95.2L-51 97.5L-46 98.6L-40 106.7L-38 107.2L-35.9 107L-33 106.4L-29 104.7L-27 104.7L-24 106.6L-21.3 111L-18 112.7L-16 112.5L-12 109.9L-8 112.2L-4 113L1 112.2L5 109.4L13 110.4L17 110.1L20 109.1L23 105.9L25 104.9L27 105.5L32 108.6L34 108.7L36 107.7L40 103.5L45 104.7L47 104.6L50 103.3L54 100.5L62 100L71 97.5L74 95L75.3 91L77 87.9L79 88.1L83 87.1L88 83.3L94 80.6L102 72.4L104.2 68L107.7 63L110.3 57L114.4 51L118.3 37L121.2 31L122.7 25L123 19L124.2 14L124.2 3L125.4 -2L125.2 -6L122.5 -14L122.7 -21L120.6 -27L117 -32.8L113.6 -42L107.9 -48L99.1 -66L90.5 -77L89.5 -82L88 -84.4L82.3 -87L66 -99.9L61 -101.6L49 -108.2L44 -109.5L39 -112.5L34 -114L28 -117.7L19 -119L3 -124.8Z"/><path id="vb14" d="M-150 -150L150 -150L150 150L-150 150ZM0 -126L-11 -125.5L-19 -124.5L-34 -121.1L-39 -121.3L-42 -120.6L-47 -116.9L-52.6 -114L-57.3 -108L-60 -106L-62 -105.6L-68 -106.4L-71.3 -105L-75 -101L-79 -98.6L-88 -88.3L-90 -87.5L-92 -88.1L-94 -87.9L-97.3 -86L-98.9 -84L-99.9 -80L-101 -78.7L-110 -77.6L-110.7 -77L-110.9 -74L-111.9 -71L-110 -66.6L-108.9 -60L-108.9 -56L-112 -50.5L-114 -44.5L-118.9 -40L-119.6 -38L-119 -33L-119.8 -24L-118.6 -19L-119.6 -16L-119.4 -14L-114.8 -12L-114 -8L-111.6 -3L-110.8 2L-106.6 7L-104.8 15L-104.9 17L-107 21L-107 22L-103.9 25L-103.1 27L-104.4 30L-107.7 33L-107.5 34L-103 35.4L-100.6 38L-100.1 41L-101.2 45L-100.5 47L-99 47.7L-95 47.8L-92.5 50L-91.8 54L-94.3 60L-94.5 62L-88 73.4L-86.6 75L-83 77.1L-76 79.7L-73 83L-68.6 86L-66.4 91L-65 92.8L-55 96.3L-45 103.2L-41 108L-39 108.5L-34 108.6L-30 109.8L-26 109.1L-19 114.2L-17 115.1L-12 112.7L-7 113.9L0 114.1L2 113.8L6 111.6L12 112.3L18 111.6L20 111.1L25 107.4L26 107.3L28.1 108L32 111.4L34 111.6L38.9 109L41 107.2L46 107L52.6 106L54.7 103L56.1 102L59 101.7L65 102.3L76 96.7L82 95.5L83.2 94L83.7 90L86 87L89 84.4L95 81.6L98.8 77L103 73.6L105.7 68L108.8 64L112 58.5L115 55L119.6 37L122.4 31L125.8 14L125.2 4L126.3 -3L125.8 -7L123.7 -13L124.3 -19L123.7 -22L121.1 -28L118.3 -33L115 -42L108 -49.8L100.1 -66L91.7 -78L90.5 -83L89.3 -85L88 -86.2L83 -88.6L67 -101L61 -103.1L49 -109.7L44 -110.9L39 -113.9L34 -115.4L28 -118.7L15 -121.2L4 -125.6Z"/><path id="vb15" d="M-150 -150L150 -150L150 150L-150 150ZM-14 -126.1L-21 -125.4L-30 -123.3L-33 -123L-38 -123.4L-41 -122.5L-58.3 -111L-61 -107.8L-63 -107.3L-68 -107.7L-72 -106.2L-79.1 -101L-83 -96.1L-88 -91.7L-94.2 -90L-98.7 -87L-100.5 -85L-102 -81L-103 -80.2L-108 -79.5L-110 -80.1L-113 -82.3L-114 -81.4L-114.3 -80L-113.2 -75L-116 -71.5L-116.4 -70L-115.8 -68L-112.2 -64L-111.1 -56L-113.4 -52L-115 -45.8L-116.4 -44L-120 -41L-121.2 -38L-120.2 -33L-121.2 -26L-120.7 -12L-120 -9.3L-117 -7.8L-114.3 -4L-113.6 -2L-114 0L-115 0.9L-118.5 2L-118.6 3L-116 6.2L-112 5.5L-110 6.3L-108.5 8L-106.9 16L-107.9 18L-109.8 20L-109.9 21L-109 23L-105.5 27L-106.3 29L-110.5 32L-111 35L-110 36.4L-105 37.3L-103 38.8L-102.7 40L-103.7 44L-102.8 49L-102 50.4L-96 49.6L-94.1 51L-93.8 54L-96.2 58L-96.7 60L-96.8 64L-96 66.6L-92 70.9L-88.6 76L-78 82L-75 85.5L-70 87.5L-66 93.9L-63 95.3L-55.8 97L-53.4 99L-49 104.5L-45 105.7L-41 109L-35 109.9L-30 111.7L-25 111.8L-18 116.9L-15.9 117L-11 114.7L-2 115.2L4 116.8L7 114.9L10 115.5L17 114.1L21.7 114L26 110.2L28 111.4L31 115.5L35 118L37 118.4L38.9 117L41.3 113L45 110L49 109.6L53.9 112L55 111.6L56 109.7L57.1 105L58 103.9L60 103.7L64 105.2L67 105.3L73 100.5L80 99.1L83 97.7L85.3 95L87.8 88L90 86L96 82.5L100 77.8L104.5 75L107 68.6L116 57.5L117.2 55L118.9 45L121.2 40L121.5 37L128.1 15L126.3 8L126.3 4L127.3 -1L126.7 -7L125.1 -13L125.8 -19L115.8 -43L108.6 -51L106.1 -57L100.5 -67L97.7 -71L96 -75.2L92.9 -79L90.8 -85L83 -91.6L77 -94.6L67.9 -102L61 -104.7L55 -109.2L50 -111L44 -112.3L39 -115.3L28 -119.7L14 -122.8L9 -125.2L4 -126.8ZM6 117.8L6 120L7 121.3L8 121.5L8.8 120L8.5 119L7 117.7Z"/><path id="vb16" d="M-150 -150L150 -150L150 150L-150 150ZM-139 -97.5L-138 -95.7L-137 -95.3L-136 -96L-136 -97.3L-138 -97.9ZM2 -128L-18 -127L-29 -124.6L-32 -124.5L-36 -125.4L-39 -124.9L-44 -122.1L-50 -117.4L-56 -114.3L-60.5 -113L-63 -109.4L-70 -108.9L-72 -108L-76 -104.8L-80 -102.7L-84 -97.6L-89 -93.7L-97 -90.6L-103.1 -86L-104 -85L-104.1 -83L-105 -81.9L-108.1 -82L-108.5 -83L-106.7 -86L-107.9 -87L-112 -88.1L-115.5 -87L-116.9 -85L-117.3 -83L-115.1 -76L-118.1 -71L-116.4 -64L-115.5 -55L-117.1 -46L-121.8 -41L-122.6 -39L-121.5 -32L-122.8 -26L-121.6 -19L-121.7 -11L-119.9 -4L-120.8 2L-119.2 8L-119 15L-118 18.1L-113 20.9L-108.8 27L-109.3 28L-112.4 30L-113.5 32L-114 35L-113.1 39L-111 43.3L-107 44.6L-105.4 46L-104.9 48L-105.3 52L-104.4 54L-103 54.6L-100 54.5L-99 55L-99 65L-97.3 68L-90.7 76L-83.8 81L-77 88.8L-72 88.9L-71 89.4L-68.4 94L-67 95.3L-63 96.9L-58 97.3L-56 98.2L-54.4 100L-53.8 103L-51.5 106L-50 109.4L-49 109.3L-47 107.6L-45 107.7L-41 110.5L-36 111.1L-32 113.5L-25 114.2L-20 118L-18 118.7L-15 118.6L-10 116.3L-2 116.6L2 119.3L6 123.6L8 124.2L10.4 123L13 118.2L15 117.5L19 117.6L25 119L30 118.5L36 120.4L38 120.2L47 112.8L49 112.8L54 114.7L56 114.3L57.2 113L59 108L60 106.9L62 106.9L67 108.2L68.8 108L74 103.2L80 102.4L83 100.7L89.3 93L91.3 89L93.8 86L99 82.3L101 80.2L105 79.2L106 78.3L108.5 70L117.3 59L120 50L121 48.3L125 44.5L126 42.7L126.1 40L124.4 37L124.3 34L125.6 27L129.6 20L130.3 15L129.9 13L127.7 9L127.4 7L128.4 0L126.7 -12L127.5 -17L127.2 -19L121.1 -32L119.5 -38L117 -43L109.3 -52L106.9 -58L99.1 -71L97.4 -77L94.2 -80L92.7 -84L91 -86.6L84 -93.4L77 -96.1L69 -102.7L61.8 -106L58 -110L56 -111.4L45 -113.4L39 -117.1L32 -119.1L20 -123.7L14 -124.5L6 -128.1Z"/><path id="vb17" d="M-150 -150L150 -150L150 150L-150 150L-150 -100.4L-146.8 -103L-149.1 -108L-146.3 -112L-145.8 -114L-147 -118.7L-150 -120ZM-141 -102.1L-142.8 -101L-143 -100L-141 -95.2L-138 -91.8L-136 -91.3L-130.8 -98L-130.9 -100L-133 -101.5L-137 -101.1ZM2 -129.2L-17 -128.6L-28 -125.8L-31 -125.8L-35 -126.9L-38 -126.6L-44.6 -123L-51 -117.9L-56 -115.7L-60.5 -115L-62 -114.3L-65 -110.8L-71 -110.7L-73 -109.6L-77 -105.9L-81 -104.9L-84 -103.2L-89 -103L-92 -102.1L-92.9 -101L-92.6 -100L-90 -98.3L-89.5 -97L-90.7 -95L-92.2 -94L-95 -93.3L-97 -94L-97.2 -96L-96.4 -99L-97 -100L-100 -101L-101.6 -100L-102.5 -98L-101.6 -91L-103 -89.4L-105 -89.2L-111 -90L-115 -89.7L-117 -89.2L-120 -87.2L-121 -87.2L-126 -88.7L-126.8 -88L-126.9 -87L-125.9 -79L-125 -77.1L-123 -75.9L-120 -80.3L-119 -80.2L-118 -79.2L-117.3 -77L-118 -75.2L-120.1 -73L-120.2 -72L-118.5 -65L-118.3 -57L-119.2 -52L-119 -47L-120 -45L-123 -41.5L-124 -39L-124.2 -37L-123.1 -32L-124.5 -27L-122.7 -19L-122.9 -11L-121.5 -4L-121.9 1L-120.1 9L-119.6 17L-118 20.6L-115 22L-112.8 25L-113 26.3L-115.1 29L-115.3 31L-114.7 36L-113.2 41L-110 45.8L-107.5 47L-107.1 48L-107.2 52L-106.4 54L-104 57.4L-101.5 59L-101 62L-98.4 68L-91.2 77L-85 81.8L-78 89.4L-72 92.5L-69 95.6L-63 99.1L-61 99.9L-58 99L-57 99.5L-53.6 109L-51.2 112L-49 112.2L-45 110.5L-44 110.8L-38 113.5L-34 116.9L-26 117.6L-21 119.7L-18 120.3L-14 120.5L-9 117.9L-4 118.4L2 121.8L5 125.6L7 126.5L10.6 125L15 121.2L17 120.5L20 120.2L25 121.4L31 121.2L37 122.1L39 121.4L43 118.4L48 115.9L56 116.4L58.2 115L61 109.7L63 109.3L68 110.8L70 110.3L76 105.7L81 104.4L83 103.3L90 96.5L94 97.1L96 96.5L96.8 95L95.8 91L96 87.8L97 86.7L98 86.6L100 89.5L101 89.9L102 89.6L103 88.2L104.5 84L108.8 80L110 74.4L115 64.7L116 63.6L119 62.9L120 62.1L119.5 58L120.3 53L122 50.3L126 47.2L127.9 43L127.8 40L126.1 36L126 33L127.2 27L131.3 22L132 18L131.4 13L129 8.2L128.6 6L129.6 1L128.6 -5L128.2 -12L128.9 -18L122.1 -32L120.6 -39L117 -44.7L110.2 -53L108.1 -59L105 -63.3L100.7 -71L100.3 -76L99.6 -78L95.7 -81L92.9 -86L88 -91L86 -94L84.4 -95L77.8 -97L70.8 -103L64 -106.3L59.2 -111L56 -112.8L45.9 -115L41 -118.3L32 -120.2L19 -126L14 -126.3L6 -129.6Z"/><path id="vb18" d="M-149.2 -150L150 -150L150 150L-150 150L-150 -96.8L-147 -98.3L-145 -98.1L-144.1 -97L-142 -93L-136 -85L-135.2 -82L-134 -81.6L-131 -82.3L-130 -82L-126 -72.8L-122 -70L-120.4 -67L-121.4 -62L-121.2 -58L-123.3 -55L-123.7 -53L-121.4 -47L-125.4 -39L-125.7 -37L-124.9 -32L-126.4 -27L-123.7 -18L-124.2 -10L-123 -4.1L-123 1L-120.9 9L-120.6 18L-116.3 25L-116.5 29L-115.7 36L-113.7 42L-109 49L-106.6 56L-103 60.3L-99.3 69L-94.7 75L-91.8 78L-86 82.1L-78 91L-74 93L-71 96.1L-65.7 99L-63 102.2L-59 103.2L-54 112.2L-52 114L-44 113.3L-33 120.4L-27 120.8L-22 122.4L-17 122.5L-15 123.3L-11 126L-7 124.7L1 124.2L2 125L2.7 129L4 130.7L6 130.1L12 126.3L16 125.7L18.3 123L20 122.3L27 123.5L37 123.6L39 123.1L43 120.7L45 120.6L46 121.5L46.5 123L46.6 130L48 131.1L50 130.8L53.5 125L53 123.1L50 120L50.6 119L55 118.8L58 118L60 116.6L63 113L68 113.9L71.7 113L76.6 110L78.6 108L83 105.5L89 100.8L98.5 98L99.7 97L104 90.8L106.6 85L111.7 82L112.6 80L113 76L116 67.8L117 66.6L121 65.9L122.5 64L122.6 62L120.9 57L121.7 53L123 51.6L127 50.1L128.1 49L129.6 42L127.8 36L127.7 33L129 28L132.1 24L133.5 20L132.6 13L130.1 6L131 1L129.5 -6L130.2 -18L123.1 -32L122.4 -38L121.6 -40L112 -53L111 -55.1L109.7 -61L103.5 -69L102 -76.8L101 -79L96.6 -83L89.7 -91L87 -95.2L78.8 -98L73 -103.4L65 -107.4L60 -112L47.7 -117L43 -119.7L32 -121.5L24 -125L19 -127.8L13 -128.2L6 -131L0 -129.9L-10 -129.7L-17 -130.2L-28 -127L-36 -128.3L-41 -126.6L-48.1 -122L-51.6 -119L-54 -117.8L-57 -116.8L-63 -116L-67 -113.1L-71 -114L-73 -113.5L-74 -112.9L-75.9 -109L-77 -108L-79 -107.7L-83 -108.5L-87 -106L-96 -102.9L-101 -103.6L-102 -103L-104.7 -99L-106 -92.9L-113 -92.3L-120 -94.2L-123 -95.7L-124 -95.5L-127.1 -92L-130 -91.2L-131 -91.4L-131.2 -94L-128.3 -98L-128.5 -100L-130 -102.1L-132 -103.5L-136 -104L-137.5 -105L-139 -112.7L-140 -113.5L-142 -113.8L-143.5 -116L-143.4 -123L-148 -126L-150 -128.3L-150 -146.1L-148.3 -147L-147.8 -148L-147.9 -149ZM18 127.8L17 128.1L16.3 131L17 132.6L18 132.7L19.3 132L20 130ZM-143.7 -110L-143 -110.5L-142 -110.2L-141.4 -109L-142.4 -107L-144 -106.4L-144.9 -107L-145 -108Z"/><path id="vb19" d="M-146 -150L150 -150L150 150L-150 150L-150 -93.6L-147 -93.9L-146 -93.5L-142 -88.7L-138 -80L-136 -78.9L-131 -77.8L-129.6 -75L-130 -69.2L-128.6 -65L-128.2 -59L-124.2 -46L-127.1 -38L-127 -32L-128.2 -27L-125.7 -22L-124.7 -18L-125.6 -9L-124.2 1L-121.8 9L-122 19L-118 24.6L-116.1 38L-114 43.5L-110.6 49L-107.4 58L-104 62L-100.2 71L-96.4 76L-86.7 83L-79 92.5L-75.4 95L-73 97.7L-67.9 100L-67.1 101L-66 105L-64 106L-61 106.3L-59 107.5L-57 110L-54.7 115L-53 116.5L-45 115.4L-43 116.2L-40 118.9L-32 123.8L-27 124.1L-23 125.4L-17 125.2L-15 127L-14 130.3L-12 131.4L-9.6 131L-7.3 128L-6 127.2L-3 127.2L-1.5 128L0.7 132L4 134.8L6 134.4L10 130.2L12 129.5L12.7 130L13.2 133L14 134.2L16 135.2L19 135L21 133.8L22.6 132L23 130L21.8 126L23 125L29 125.7L37 125.3L42 123.7L43 123.7L44.1 125L44.3 127L43.4 131L43.9 132L48 133.3L51 133.1L53.8 128L57 124.2L59 123.3L63 123.4L65 122.4L65.6 119L67 117.3L72 116.3L76 114.6L80.9 114L82.3 109L84.1 107L92.9 102L100.4 99L102.3 97L108 87.3L112 85.3L115.4 81L117.1 78L118.7 71L122 68.5L124.1 65L124.3 62L122.3 56L122.9 54L125 52.7L128 52.7L129 52.2L130 50.7L131.4 43L129.3 36L129.3 34L133.7 25L134.7 20L132.3 7L132.6 1L130.6 -5L131.5 -18L124.2 -32L123.7 -38L123 -40L115.4 -50L112.4 -58L111 -65.4L107 -68.8L106 -70.3L103 -78.1L101.3 -81L91.3 -91L88.7 -96L87 -97.2L82.3 -98L80.1 -99L78.1 -101L75 -105.6L67 -108L62 -112.3L44 -121.6L32 -123L25 -125.9L19 -129.3L13 -129.6L6 -132.1L0 -131.2L-4 -131.8L-10 -130.9L-17 -131.6L-28 -128.5L-35 -129.6L-40 -128.6L-46 -124.9L-51.9 -122L-55.2 -119L-58 -118.2L-65 -118.2L-74 -115.9L-79 -112.7L-84 -111.5L-88.4 -108L-93 -106L-96 -105.7L-99 -106.8L-102 -106.4L-106 -102.1L-111 -101.4L-112.9 -100L-114.9 -97L-118 -96.9L-119.3 -98L-120.7 -101L-127 -102.8L-131 -107.8L-135.1 -111L-135.4 -114L-134 -115.6L-130 -117.1L-127 -116.3L-125.4 -118L-125.8 -119L-129 -120.5L-130 -122L-131 -127L-131.7 -128L-133 -128.7L-135 -128.8L-140 -126.8L-142 -126.7L-145 -128.1L-148 -131.4L-150 -132.3L-150 -144L-148 -144.1L-146.7 -145L-145.6 -148Z"/><path id="vb20" d="M-143.9 -150L150 -150L150 150L-150 150L-150 -80.6L-146 -83.6L-143 -83.4L-138.2 -78L-133 -76L-132.2 -75L-131.8 -69L-130.2 -64L-129.7 -56L-126.9 -45L-127.2 -42L-128.7 -37L-128.9 -32L-129.8 -27L-129.1 -25L-127 -21.9L-125.8 -18L-125.9 -15L-127.4 -9L-125.9 -1L-122.8 9L-123.5 20L-122.7 22L-119.5 26L-117.4 37L-111 53.1L-109.6 59L-105.7 64L-102.7 74L-99 78L-94 79.9L-87.9 84L-82.2 91L-80 95L-76.1 98L-74 102L-69.3 107L-66 108.4L-62 108.4L-60.2 109L-58.4 111L-56.4 116L-54.8 118L-53 118.8L-48 117.4L-45 117.7L-41 121.3L-36 123.8L-32 128.1L-26 127.5L-21 128.3L-19.5 129L-17 132.7L-14 133.8L-7 134.3L-3 132.3L-1 133.2L3 136.8L5 137.8L10 135.1L15 137.1L20 137L24.2 134L27 128.5L34 127.4L40 127.7L40.5 128L40 129.4L35 132.7L35 134.6L36 135.2L45 134.8L51 135.9L53.1 135L54 130.6L56 127.8L58 126.7L63 126.4L66 125.1L67.3 124L69 120.5L70 119.5L74 118.7L79 119.1L83.8 117L85.2 115L85 111L86 109L88 108.4L91 109.4L92 108.6L95 103.7L102 99.9L103.6 98L107 91.6L109 90.1L112.3 89L115.1 84L119.4 79L121.1 74L125.8 65L125.1 56L129 54.8L130.6 53L131.4 51L133.3 42L131 37L130.9 35L134.6 28L135.9 21L134.3 10L134.6 3L131.9 -5L132.8 -18L129.9 -23L128.1 -28L125.5 -32L124.4 -40L116.7 -50L116.1 -55L113.8 -60L113.1 -68L112 -69.5L106.2 -74L103.5 -80L100 -85.5L96 -88.1L93 -91L90 -97.9L88 -99L84 -99.1L81.7 -100L76 -107.9L70 -109L68 -109.9L65 -113.2L59 -115.2L51 -120.5L45.8 -123L41 -127.7L40 -127.8L36 -125.8L33 -125.5L26 -126.9L19 -130.6L13 -130.9L6 -133.2L0 -132.7L-4 -133.9L-10 -132.2L-16 -132.9L-25 -132.9L-29 -130.8L-41 -130.1L-48 -125.5L-55 -124.7L-58.4 -121L-65 -120.8L-70 -118.7L-84 -114.3L-86.8 -113L-91 -109.1L-93 -108.3L-95 -108.5L-98 -109.9L-103 -108.6L-108 -104.1L-112 -103.8L-117 -107L-118.5 -109L-117.7 -112L-114 -117L-114.3 -118L-120 -120L-123 -121.8L-127 -123.2L-128 -124.5L-129 -128.1L-131 -130.7L-133 -131.7L-137 -132.3L-138 -134L-138.8 -139L-142 -139.4L-143.9 -141L-144.3 -143ZM-117 -135.1L-118 -134.7L-118.2 -133L-116 -130.5L-115 -130.3L-114.5 -131L-114.5 -133L-115 -134ZM-150 -141L-150 -141.9L-148.6 -141L-147.3 -138L-147.8 -136L-150 -134.6Z"/><path id="vb21" d="M-141.1 -150L150 -150L150 149.8L-150 150L-150 -78L-147 -79.8L-145 -80.5L-143 -80L-135 -73.7L-134 -72.4L-131.9 -65L-132 -56L-130.3 -47L-128.9 -43L-131.4 -27L-130.6 -24L-128 -20.7L-127.1 -18L-127.3 -15L-129.1 -11L-129.2 -9L-127.2 -1L-124 8L-125 20L-124 23.3L-119.9 31L-118.9 36L-116.1 43L-114.4 50L-112.6 54L-111.6 60L-107.6 65L-105.2 74L-104 76.3L-100.9 80L-99 80.8L-94 81.7L-91 84L-88.7 89L-84 92.3L-82 96L-78.3 99L-76 104L-72 108.9L-69.6 110L-61 111.7L-57.3 118L-55 120.1L-53 120.7L-48 119.6L-46 120L-42 124.3L-37 126.8L-33 132.2L-32 132.6L-28 130.4L-25 130.3L-23 131.6L-21.4 135L-20 136L-17 136.4L-11 136L-6 137.2L-2 135.3L-0.4 136L2.2 139L4 140.1L8 140.4L10 138.8L11 138.8L16 141L16.2 143L15 144.4L13.1 144L11 142.6L9 142.3L6.6 146L6.5 147L7.8 148L14 148.8L21 144.9L23.2 143L24.2 138L27 135.1L29 133.9L30 134.2L33 139L38 142.9L39.3 142L40.9 139L43 137.5L46 137.2L52 137.9L55 137.3L56.7 135L56.1 132L57 130.2L58 130.6L58.6 134L59.5 135L63 136.7L66 136.5L71.3 133L71.7 132L71 131L67.5 130L66.5 129L67.6 127L72 122.8L79 122.2L86 119.1L89 119.1L93 120.2L93.8 120L94 119L92.7 114L94.2 110L97 106.3L102 102.9L104 101L106.4 95L108 92.7L110 91.8L113 91.7L114.4 91L116.1 85L122.4 79L123.6 74L127.1 66L128 60L132.1 53L133.4 47L134.8 44L135 42L132.7 37L132.6 35L136.2 29L137.4 21L135.6 12L136.4 4L133.8 -4L133.9 -6L135.1 -9L134.1 -13L134.1 -18L130.8 -24L129.6 -29L126.8 -33L126.3 -38L125.3 -41L118.4 -50L117.9 -55L115.4 -61L115.4 -67L114.9 -69L113.2 -71L107 -75.7L102 -87.1L101 -88L97 -89.5L95 -91.1L93.9 -93L92.8 -97L91 -100.1L89 -101.5L83.6 -102L81 -104.6L78.8 -108L77 -109.5L70 -111.7L65 -116.4L59.7 -117L55.9 -121L47 -124.5L41.9 -130L40 -130.4L34 -128.7L27 -128.3L19 -131.9L13 -132.2L6 -134.4L0 -134.1L-4 -135.6L-11 -133.7L-20 -134.2L-25 -135.3L-26.5 -135L-30 -132.7L-32 -132.1L-37 -131.6L-42 -132.3L-43 -132L-46 -128.4L-48 -127.2L-50 -126.7L-55 -127.1L-57 -126.8L-60 -124.6L-65 -123.7L-71 -119.8L-83 -117.2L-88 -115.5L-93 -112L-95.4 -114L-97 -114.3L-104 -112L-104.5 -113L-104 -114L-100.7 -118L-100.7 -121L-102 -122.1L-108 -121.7L-114.6 -123L-115 -124L-113 -126.5L-112.1 -130L-112.6 -133L-114 -135.2L-116 -136.7L-118 -137.1L-120.9 -136L-121 -134L-118.4 -129L-118 -126L-118.4 -125L-120 -124.6L-125 -125.5L-126 -126.6L-130 -134.7L-134.4 -138L-136 -143.4L-137 -144.5L-140.5 -145ZM-2 143L-2.9 145L-2 146.5L0 147.6L2.4 147L1 142.7L0 142.2ZM-113.5 -114L-112 -114.7L-110 -114.7L-107.5 -113L-106.7 -110L-108 -107.1L-109 -106.2L-111 -105.9L-115.7 -109L-115.9 -111Z"/><path id="vb22" d="M-129.1 -149L-128 -148.6L-127 -146L-126 -145.6L-122.9 -150L150 -150L150 120L147.8 122L146.7 124L146.9 125L148 125.6L150 125.3L150 147.9L146 148.7L144.4 150L136.2 150L136.3 146L134.2 141L132 139.4L129 139.1L128.4 140L128.9 141L131.4 144L131.1 146L127.8 150L120.9 150L117.1 144L116.8 139L116 138.3L115 138.3L112.8 140L108.5 147L108.2 148L110.4 150L106.2 150L106.6 149L104 146L101.2 141L100.8 136L99.2 134L97 133.2L95 133.7L94 134.9L93.4 140L91 142.6L88 143.8L82 143.7L79.9 146L81 146.5L86 146L90 148.4L96.6 150L74.9 150L73 148.5L70 148.1L68 148.4L66.2 150L57 150L56.2 148L55 147.6L52.9 148L50.9 150L16.5 150L20 147.7L25 145.9L27 146.4L31 149L33 149.4L40 145.4L44 141.6L47 140L52 139.7L57 141.3L61 139.3L67 138.2L75 134.6L78.9 132L85 130.5L85.3 129L83.2 125L83.3 124L84 122.9L86 121.8L89.1 122L94 125.2L100 126.4L99 121L96.4 118L94.7 115L95 112L98 108.9L101 108.1L105 110.7L106 114.4L108 115.1L108 112L108.8 111L112 109.2L113.8 107L114.4 104L114 103.3L112 102.8L108.9 101L107.7 99L107.8 96L109 94.2L110 93.8L112 94L115 95.6L116 95.8L117.2 95L117.7 93L117 88L117.3 86L118.7 84L123.2 81L124.7 79L125.7 74L129.9 61L133.7 53L134.6 48L136.7 44L136.3 41L134.4 36L135 34L137.8 30L138.2 26L139.3 22L137 15L137 12L138.1 5L135.7 -3L136 -5L138.3 -9L138.3 -11L132.7 -23L132.1 -29L128.9 -34L126.8 -41L121.3 -50L117.8 -60L117 -68L116.3 -70L109 -76L105.5 -83L103.8 -89L102 -90.5L97.4 -93L91.2 -103L84 -106.6L78.7 -111L71 -113.5L66.4 -118L64 -122.2L62 -124.1L60 -124.6L56 -124.4L49 -125.6L47 -126.7L44.3 -130L42 -131.5L39 -131.8L34 -130.6L27 -130.1L19 -133.2L13 -133.6L7 -135.5L1 -135.1L-4 -137L-12 -135.1L-26 -136.5L-28 -135.9L-32 -133.5L-36 -132.7L-43 -134.1L-49 -128.9L-51 -128.6L-58 -129.1L-65 -127.3L-66.7 -126L-69.8 -122L-72 -120.9L-78 -119.4L-84 -119.2L-90 -117.6L-96.9 -118L-100 -124.1L-102 -124.6L-107 -124.2L-109.1 -125L-109.7 -126L-110.4 -131L-111.5 -134L-113 -136L-116 -138.4L-124 -140.5L-128 -137.7L-131.6 -139L-132.8 -141L-133 -145L-132 -146.8ZM114 128.9L113.4 129L113 130L114.5 132L116 132.8L118 132.2L118.3 131L117.6 130ZM-124.8 -132L-124 -132.2L-123 -131.3L-122 -130L-122 -128.8L-123 -128.6L-124 -129.4ZM-113.1 -111L-112 -111.5L-111.4 -111L-111.5 -110L-112.8 -110ZM-146.1 -78L-143 -77.6L-139.7 -75L-135.8 -70L-133.9 -65L-133.6 -63L-134.5 -59L-134.5 -56L-133 -52L-132.6 -47L-130.9 -42L-133.4 -31L-133.1 -24L-132.3 -22L-129.2 -19L-128.6 -17L-131.2 -10L-128 1L-125.5 7L-125.3 10L-126.5 17L-126.4 20L-124 28L-121.5 32L-120.4 36L-117.4 42L-116.7 45L-116.7 50L-114.4 54L-113.5 60L-109 66.2L-106.8 74L-105 77.6L-101 81.7L-95.4 83L-93.7 84L-90.7 90L-85 94.7L-80.4 100L-78 104.6L-73 110.6L-65.1 114L-60 118.3L-57 121.7L-54 122.4L-48 122.1L-46 123.4L-43.5 127L-38 129.4L-36 132L-33.2 139L-32 140.3L-30 140.4L-26 138.2L-19 139.7L-16 139.6L-12 138.4L-10 138.7L-7.1 141L-5.4 147L-4 148.9L-2.2 150L-150 150L-150 -75.6Z"/><path id="vb23" d="M-118 -150L-113.5 -150L-113.7 -148L-118 -144.6L-120 -143.9L-121 -145L-120.8 -146ZM-110.3 -149L-109.8 -150L150 -150L150 113.1L148 114.7L146.9 118L145 120.6L143 121.3L139 120.4L137.5 119L136.6 116L135 113.8L133 113.1L130.2 114L129.3 115L129.1 117L131 119.5L135.3 122L135.8 124L135.3 126L129 128.4L126 131.9L124 132.7L123 132L122.5 130L122.9 129L125.2 127L124.5 125L123 124.2L122 124.4L120 126.6L118 127.2L115 126.1L113.6 124L114.1 122L117 119.5L117.7 118L117.3 116L114.6 113L113.9 111L117 105.3L119 103.6L123 105.5L125 105.5L127.2 104L127.8 103L122 98L120 93L118.9 87L119.8 85L124.3 82L126 80L131 63.6L135 56.8L137.3 54L137 49.5L139.1 46L139 44L136.7 36L139.2 32L139.8 26L142 22L141.4 20L139 17L138.3 14L139.8 7L137.4 -3L139.8 -8L140 -11L138.6 -15L134.2 -23L134 -25L135 -29L131.7 -34L128.6 -45L120.7 -57L117.6 -71L111 -77.5L107.5 -84L105 -90.4L96 -98.4L92.8 -104L85 -108.3L80 -112.8L71 -115.4L68 -118.2L64.5 -124L60 -127L55 -126.7L49 -127.4L44 -131.8L41 -133L28 -132L20 -134.3L13 -135.1L7 -136.9L1 -136.3L-4 -138.1L-12 -136.4L-27 -137.5L-33 -134.5L-36 -133.8L-38 -134.2L-41 -135.7L-43 -135.8L-50 -131.8L-60.7 -131L-66 -129.9L-68 -128.6L-71 -123.2L-73.3 -122L-79 -120.8L-85 -121.2L-90 -119.6L-95 -119.4L-96.7 -121L-99 -127.1L-101 -128.2L-104 -128.2L-106 -129.2L-108 -131.3L-113.1 -139L-113.1 -140L-111 -143L-111.2 -147ZM129 91.8L127.6 93L129 99L129 103L130 102.9L132 101.3L134.1 98L133 95L131 92.8ZM137 89.9L136.4 91L138 94L140 95.7L141 95.3L141.4 94L141 92.8L139 90.7ZM-147 -75L-144 -75.5L-141 -73.2L-139.8 -71L-139 -67L-137.2 -64L-137.2 -56L-134.6 -51L-134.7 -45L-133.4 -40L-133.8 -37L-136.2 -33L-136.5 -30L-134.9 -22L-130.7 -17L-133 -10L-130.6 -4L-129.5 2L-127.2 7L-127.8 20L-125 30.7L-122.5 36L-118.5 42L-118.1 45L-119 50L-116 54.4L-115.2 60L-110.4 67L-107.9 75L-106.4 78L-104.9 80L-102 82.5L-96 84.8L-95 85.7L-92.9 90L-86 96.3L-82.2 101L-80 106L-76.5 111L-69.5 114L-67 115.8L-62.8 121L-61 126.1L-59 126.5L-56 124.9L-54 124.4L-49.4 125L-48.5 126L-47 132.9L-45 135L-44 134.7L-42 131L-40 130.8L-38 132.4L-35.2 139L-33 142.1L-31 142.7L-26 141.3L-21 143.9L-18 143.5L-11 144.1L-8.6 147L-8.2 150L-150 150L-150 -66.9L-148 -66.5L-146.8 -67L-146.7 -69L-148.6 -72L-148.1 -74ZM97.5 112L99 111.3L101 112L102.2 114L102.1 117L102.6 118L106 119L108.5 121L108.5 123L107 125.1L105 125.5L103 124L102.1 122L101.8 119L101 118.1L98 116.9L96.7 115L96.7 113ZM149.1 129L150 128.7L150 139.8L149 139.6L148 140.2L147.4 143L146.3 145L141 147.5L137.6 142L136.1 137L140 133.4L143 133.3L146.9 130ZM81.2 135L83 134.1L84.7 135L84.8 136L83 137L81.4 136ZM71 140L73 139.2L75 139.4L76 140L76.5 142L74.1 144L70 145.3L64 145.4L62.2 144L62.5 142L64 141.1ZM106.6 140L107.2 140L107.6 141L107 141.8L105.8 141ZM121.7 140L124 140.8L127 144L127.2 146L125 148.2L124 148.2L122 147L120 144L120 142ZM48.5 142L50 141.5L52 141.7L53.6 143L53.9 144L53.5 145L49 148L48 150L36.6 150ZM22.7 149L25 148.9L28 150L19.5 150Z"/><path id="vb24" d="M-107.4 -150L150 -150L150 74.4L148 73.9L146 68.8L145 68.3L144 68.8L140 74.6L135 75.2L133 76L131.1 80L129.8 86L128.4 88L124 90.8L123 90.9L122 90.3L121.3 88L121.6 86L126.3 82L128.7 79L131.5 73L131.2 69L132 65.8L134 63.4L138 61L140.5 54L141.4 45L139 37.9L140.7 33L141.1 27L143.5 23L143.9 21L140.1 15L141.8 7L139 -2L141.2 -8L141.3 -11L139.6 -17L136.6 -21L135.8 -23L137.4 -29L134.5 -33L133.7 -35L134 -40L133.4 -43L123.1 -57L121.9 -62L120.2 -66L118.9 -72L114.2 -79L110.3 -83L106 -91.7L96.6 -100L94 -105L86 -109.3L80 -115.3L78 -116.1L73 -116.5L70 -117.9L66 -124.1L60 -129.1L54 -128.4L51 -128.6L49 -129.3L45 -132.5L41 -134L34 -133.5L28 -134.2L18 -136.4L12 -137L7 -138.6L2 -137.4L-4 -139.3L-12 -137.6L-27 -138.5L-29.4 -138L-34 -135.5L-36 -135.1L-41 -137.3L-43 -137.3L-55 -133.2L-62 -132.8L-69 -131L-70.9 -129L-72.5 -125L-76.8 -123L-80 -122.6L-86 -123.2L-91.8 -121L-94 -120.9L-95.2 -122L-95.9 -124L-95.3 -130L-100 -132.4L-101.6 -135L-100.9 -137L-96.5 -139L-97 -143.2L-99 -145.3L-100 -145.2L-104 -142.7L-107 -143.6L-108.3 -146ZM-93 -132.6L-95 -130L-93.5 -129L-92 -128.9L-91 -129.7L-90.8 -131L-92 -132.7ZM-150 -63L-150 -63.7L-146 -63.2L-140 -60.9L-139.4 -59L-139.8 -55L-136.4 -50L-137 -47.2L-140.8 -43L-141 -41L-140 -39.6L-137.3 -38L-138.5 -32L-138.1 -28L-136.3 -21L-132.9 -17L-133 -15L-134.7 -12L-135.2 -10L-131.6 -3L-131.7 3L-129.9 7L-130.2 11L-129.7 20L-128 24L-126.7 31L-125 35.7L-120 42L-119.8 44L-121.1 48L-121 50.1L-117.5 55L-116.6 60L-112.1 67L-109.4 75L-107.5 79L-104.7 82L-98.7 86L-97 90L-92 92.7L-85 100L-83.4 103L-80 114.2L-79 115.7L-74 114.7L-71 116L-63 127.3L-61 129.2L-59 129.3L-54 126.7L-52 127.3L-51 128.7L-48.2 136L-45 139.5L-43 140L-39 138L-37 139.6L-33 145.2L-32 145.4L-27 143.9L-25.6 145L-24 148.4L-18 147.4L-16 148.2L-14.1 150L-150 150ZM143.2 76L146 76.2L149.8 84L149.9 89L149 90.9L148 91.6L144.5 89L143.3 87L143.4 85L144.8 80L144.5 79L142.8 77ZM147.5 94L148 93.6L149 94.1L150 95.4L150 106.5L147 104.2L144 103.8L144.1 111L142 116.6L141 116.5L136.7 112L134 110.7L128 111.3L123 115.7L121 114.9L117 111.2L117.2 109L119 107.6L125 109.8L127 109.7L132.7 106L135.4 102L137 100.7L139 100.9L143 102.8L145 97ZM140 139L141 138.3L143 138.4L144.3 140L144 142.1L143 142.8L141 142.4L139.9 141ZM43.9 147L46.1 147L45 150L39.9 150Z"/><path id="vb25" d="M-96.4 -150L150 -150L150 54.4L148 54.1L144 54.7L143 53.5L142.3 51L143.1 45L141.7 39L142.3 35L142.1 29L142.5 27L144.9 23L145.2 21L142.2 14L143 11.1L145.8 7L145.7 6L143 2.7L141.2 -1L141.1 -3L142.5 -8L142.4 -12L141.2 -18L138 -21.7L137.5 -23L137.9 -25L139.6 -28L139.5 -29L136.2 -33L135.3 -35L135 -43L126.2 -56L124.6 -61L121.5 -66L120 -73.8L117 -79.2L111.6 -84L106.9 -93L97.6 -101L95.8 -105L94.2 -107L86 -111L84 -113L81 -117.7L79 -119.2L77 -119.5L73 -118.5L71 -119.1L66.9 -125L62 -130L60 -131.3L58 -131.3L54 -130L52 -130.1L46.8 -133L42 -134.9L40 -135.2L34 -134.8L27 -136.4L22 -138.3L18 -139.1L13 -138.8L8 -140.5L2 -138.8L-3 -140.5L-12 -138.7L-28 -139.6L-36 -136.7L-40 -138.9L-42 -139L-55 -135.5L-60 -136L-67 -133.7L-71 -133.2L-79.6 -125L-82 -124.7L-87 -125.5L-88 -127L-89.3 -138L-90.5 -140L-93 -141.7L-94 -143ZM-150 -59L-150 -59.6L-149 -56.7L-148 -56.3L-146 -57.3L-145 -57.1L-142 -54.1L-139.3 -50L-139.6 -48L-143.3 -44L-143.6 -41L-143 -38.7L-140.4 -34L-139.8 -28L-138 -21L-134.9 -16L-137.9 -10L-136.8 -8L-134 -5.2L-133 -3L-132.9 -1L-134.2 3L-132.3 7L-132.4 12L-131.6 16L-131.9 21L-129 25.8L-126.5 37L-122.7 42L-123.2 47L-122.7 50L-119 55.8L-118 60L-114.2 66L-112 73L-109 79L-107 81.9L-102.1 86L-101.6 87L-102.1 90L-101 92L-93 93.9L-86.4 101L-85 104L-81.6 118L-80.5 120L-78 120.5L-75 118.8L-74 118.9L-72.2 123L-67 125.2L-63 129.7L-61 131.2L-59 131.5L-55 129.7L-53.6 130L-52.8 131L-50.9 137L-47.4 141L-43 143.1L-39 142.5L-37.8 143L-37.3 144L-38.9 150L-150 150ZM143.4 56L144 55.2L145 55.2L147 56.1L150 55.5L150 69.4L146.9 65L142.5 61L142.1 58ZM136.7 64L138 63.3L141 63.8L141.8 65L141.7 67L141 68.4L139 70.2L137 71.2L135 71.2L134 70.6L133.5 68L134.4 66Z"/><path id="vb26" d="M-85.1 -150L150 -150L150 37L146 45L145 42L145.7 37L144 32.9L143.5 29L146.3 22L146.3 20L144.6 15L144.7 13L147.7 9L148.4 7L143.5 -3L143.9 -10L143.2 -17L142.6 -19L139.8 -23L140.2 -25L142.7 -28L142.5 -29L137 -34L136.4 -36L136.5 -42L136 -44L132.9 -49L131.7 -52L128.1 -56L126.2 -62L123 -66L122.3 -68L122 -74L118 -80.7L112.1 -86L108 -94L99 -101.4L96 -108.5L89 -111L86 -112.8L82.7 -119L79 -123.9L77 -124.3L76 -123.9L74 -121.6L72 -121.2L69.6 -125L65.5 -128L62.2 -133L61 -133.6L56 -134.1L54 -133L52 -132.9L41 -136.2L34 -136.1L27 -138.3L20 -141.8L13 -141.2L9 -142.3L2 -140.4L-3 -141.9L-11 -139.8L-18 -140.7L-22 -140.4L-27 -140.9L-35 -139.6L-37.9 -142L-39 -142L-46 -139.5L-52 -138.5L-55 -138.7L-58 -140.1L-60 -140L-66 -136.3L-68 -135.7L-70.1 -136L-71 -138.7L-72 -139.5L-73 -139.3L-74.2 -138L-75 -136L-75.2 -133L-75.9 -132L-81 -127.5L-84 -126.8L-85.1 -127L-86 -129L-86.2 -139L-88.5 -145ZM-144.4 -51L-143 -51.1L-142.7 -50L-142.8 -49L-144 -47.7L-144.8 -49ZM-150 -45L-150 -45.9L-146 -43.9L-145 -38.4L-142.5 -32L-139.4 -19L-138 -16L-140 -11L-139.8 -9L-134.9 -3L-135 -1.4L-135.9 0L-138.8 2L-138.4 3L-136 4.6L-134.2 7L-134.5 12L-133.6 16L-134.2 22L-133.2 24L-130.4 27L-129.5 30L-129.2 36L-130 42L-126.2 46L-123.9 51L-120.6 56L-119.4 60L-115.4 67L-114.3 73L-108.9 82L-105.3 86L-105.1 90L-104.5 92L-103 93.4L-97.6 96L-97.1 97L-97 100L-96 101.1L-95 101.2L-92 99.7L-89 101L-87.3 103L-86.6 105L-86.3 110L-82 121.4L-80 122.8L-76 124L-73 126.3L-68 126.9L-66 128.4L-62 133L-56.9 135L-55.7 140L-53.7 143L-56 145.3L-56.8 147L-56.5 150L-150 150ZM145.4 46L146 45L148.9 48L149.4 49L149 50.4L146.7 51L144.6 50L144.5 48ZM147.6 60L149.4 60L150 61.1L149 61.7L148 61.3ZM-53.2 144L-49 143.9L-43 146.5L-41.6 148L-41.6 150L-49.8 150L-49.6 148L-50.4 146L-52 144.2Z"/><path id="vb27" d="M-82 -150L150 -150L150 5.6L145.4 -4L144.8 -17L142.6 -23L142.9 -24L145 -26.4L145.3 -29L144 -30.7L139.5 -33L137.8 -35L137.4 -37L137.7 -43L134.8 -49L134.7 -53L131 -55.2L129.2 -57L127.8 -63L124.5 -67L124 -69L124.9 -73L124.4 -75L121 -78.7L118 -83.5L113 -87.7L109 -95L100 -102.7L99.4 -105L99.6 -108L98.8 -110L95.6 -112L89 -113.3L87 -114.3L85.9 -116L84.7 -121L79 -127.9L75 -129.6L72 -129.5L69 -128.5L67.1 -129L65.6 -131L64.8 -135L60 -136.1L56 -138L54 -138.1L51 -136.4L49 -135.9L41 -137.4L35 -137.1L28 -139.5L22.2 -143L20 -143.5L14 -143.2L8 -143.8L2 -142.1L-4 -143.5L-9 -141.3L-12 -140.9L-18 -142.2L-26 -142.6L-32 -142.1L-37 -144.6L-39.9 -144L-46 -141.3L-52 -140.4L-55 -140.9L-59 -142.9L-63 -143.1L-65.8 -145L-67 -145.2L-72 -143.9L-77 -144.1L-77.1 -139L-78.6 -137L-80 -136.7L-82 -138.4L-83.9 -143L-83.4 -145L-81.7 -147ZM71 -147.3L71 -145.8L72.3 -146L72.2 -147ZM-150 -42L-150 -42.5L-147.1 -38L-146 -32L-141.6 -23L-141.8 -19L-141 -15L-141.8 -10L-139 -4L-139.1 -3L-142 1L-142.4 3L-141.3 5L-137 6.6L-136.1 8L-137.6 14L-136.4 18L-135.8 23L-135 25.5L-131.4 29L-130.9 31L-131 33L-133.1 37L-132.2 43L-122.8 55L-120.6 61L-117.4 66L-116.4 73L-112 79.5L-109.9 84L-109.7 90L-105.8 94L-101.4 97L-99.5 102L-97 105.2L-93.6 108L-89 115L-86 117.5L-82.8 123L-81 124.3L-77 125.7L-73 128.3L-68 129.2L-66.2 131L-64 134.5L-59.4 138L-57.4 142L-59.3 150L-150 150ZM149.7 10L150 9.6L150 31.9L148 33.8L146 32L145.3 29L147.5 21L146.8 14ZM-91.1 104L-90 104.2L-89.7 105L-90 106L-91 106.3L-91.6 105Z"/><path id="vb28" d="M-78.4 -150L-59.5 -150L-59.1 -147L-61 -146.2L-66 -147.6L-72 -146.6L-74 -147.2ZM-52.9 -149L-51.5 -150L68.3 -150L67.5 -147L67.6 -144L69 -142.7L72 -142.3L75.6 -143L77 -144L76.2 -147L73.7 -150L99 -150L101 -148.8L102 -148.9L103.2 -150L129.8 -150L129 -148L129.2 -147L132 -145L134 -144.7L135 -146L133.9 -150L147 -150L146.3 -148L146.9 -147L150 -146L150 2.1L147 -5L147 -14L145.2 -22L147 -26.8L146.9 -30L145.5 -32L141 -33.7L139 -35.6L138.6 -38L140 -44L137.7 -49L137.6 -54L136.9 -55L132 -56.5L130.4 -58L129.9 -60L130.7 -65L129 -68L126.8 -75L122 -80L119.8 -84L113 -90.9L110 -96L102.9 -103L102.4 -104L101.8 -109L100.8 -111L98 -113.1L90.2 -116L89 -116.9L88.2 -122L83.6 -126L79 -133.4L71 -133.5L66 -137.4L60 -137.9L55 -140L53 -139.8L48 -137.9L41 -138.9L35 -138.5L28 -141.1L23 -144.1L20 -144.8L9 -145L2 -144L-4 -145.4L-6 -145L-10 -142.7L-12 -142.5L-17 -143.9L-22 -144.4L-25 -145.4L-31 -143.9L-35 -146L-37 -146.4L-46 -143.3L-53 -142.2L-55 -143L-56.4 -146ZM79 -143.2L79 -142L81 -140.1L82.6 -141L82.9 -142L82 -143.4ZM95 -131.1L93.7 -130L94.1 -129L96 -128.3L97 -128.9L97.1 -130L96.3 -131ZM103 -139.4L102.8 -138L104 -137.8L104.2 -139ZM112 -131.2L111.2 -130L111 -128L112.1 -126L114 -125.2L115 -125.7L115.6 -127L115.2 -129L114 -131L113 -131.5ZM-150 -30L-150 -30.7L-149 -30.9L-144.4 -25L-143.5 -23L-143.4 -10L-141.8 -4L-143.9 2L-144 4L-143 6.3L-140.2 9L-141.7 13L-141.7 15L-138.1 20L-136.3 27L-133.2 30L-132.8 31L-133 32.2L-134.8 35L-135.1 37L-133.9 43L-131 48L-130.6 50L-133.1 54L-133 55.8L-132 55.9L-130 53.4L-128 52.6L-126 53.5L-125 54.7L-124.1 57L-123.5 61L-120 64.8L-118.8 67L-117.9 74L-112.8 82L-112.2 85L-112.7 89L-112 91L-104.3 98L-102.3 102L-96 110.4L-91 118.6L-87 120.1L-84 124.3L-82 125.9L-78 127.1L-73 130L-69 131.5L-65.1 137L-60 140.5L-59.5 142L-59.6 144L-61.3 150L-150 150ZM-83 134L-84 134.3L-84.3 135L-84 137.2L-83 136.6ZM149.9 15L150 28.4L149 29.3L148.4 28L148.3 25Z"/><path id="vb29" d="M-46.4 -150L-39.5 -150L-39.5 -148L-40.3 -147L-44.4 -146L-45.4 -147ZM-34.4 -149L-33.8 -150L52.7 -150L54 -149L55.4 -150L65.3 -150L64.8 -148L63.2 -145L63.4 -140L62 -139.6L53 -141.9L48 -140.3L40 -141.3L35 -140.3L28 -142.7L23 -145.5L20 -145.9L3 -146L-5 -147.3L-12 -145.5L-20 -146L-26 -147.8L-31 -146L-34.5 -148ZM80.8 -150L81 -150L85 -150L84 -148.8L82 -148.2L80.6 -149ZM89.2 -149L91 -150L94 -150L96.6 -148L97.1 -146L95.9 -141L97 -137L95 -135.2L90 -133L88.5 -130L88.5 -126L87 -126L84.8 -128L84 -134L85 -135.8L86.9 -137L87.4 -138L87.1 -142ZM136.5 -150L143.9 -150L143.4 -148L144 -146L146 -144.9L150 -144.3L150 -1.9L148.8 -5L148.9 -13L147.2 -21L148.4 -27L148.4 -32L147 -34L144 -35.6L142 -35.9L141.1 -37L142 -37.6L144 -37.7L145 -39.2L145.3 -42L144.3 -45L140.8 -50L138.4 -56L137 -57L133.1 -58L132.1 -59L132 -60.2L133.8 -63L134.2 -65L131.3 -69L128.1 -76L123.8 -81L122.5 -84L114 -92.9L107.8 -102L105 -105.2L102 -112.3L99 -114.7L94 -116.8L92.3 -118L89.2 -125L90 -125.7L92 -125.8L99 -123.9L101 -123.9L102.4 -126L103 -131L105 -132.4L107 -133L108.3 -127L109.5 -125L113 -122.3L115 -122.7L118.3 -126L118.8 -128L114 -134.6L112 -135.6L109 -135.4L108.5 -140L104.3 -144L104.6 -146L107 -148.1L109 -148.4L113 -145.7L124 -146.2L129 -143.5L134 -142L136.7 -143L138 -145ZM70.8 -139L72.1 -139L73.1 -138L72.2 -137L71 -137L70.3 -138ZM-150 -27L-150 -28L-149 -27.6L-145.9 -24L-145.2 -22L-145.2 -10L-143.7 -4L-145.6 4L-144.4 10L-144.5 15L-143.9 17L-139.4 21L-138.7 23L-138.4 28L-136 31L-137.1 36L-135.7 43L-133 49L-135.5 54L-135 57.8L-133 60.6L-130 62.9L-126 64.9L-122.1 66L-121 67L-120.2 69L-119.2 81L-116 83.2L-114.7 89L-113.3 92L-107 98L-102.7 105L-101.1 109L-98 111.7L-96.6 114L-95.9 116L-96 119L-98 119.5L-100 121.8L-100.7 125L-100 126.8L-97.7 127L-93 125L-91 122.7L-89 122.6L-87 123.8L-85 127L-87.5 132L-88.2 135L-88.2 137L-86.6 142L-86.9 143L-91.3 147L-92 150L-96.5 150L-99 147.3L-102 146.7L-104.4 147L-102 150L-108.3 150L-107.1 148L-107.3 147L-109 146.8L-112 147.6L-112.9 150L-147 150L-150 149.6ZM-123 140.9L-124.3 142L-124.7 143L-124.2 145L-123 145.9L-120.4 142L-120.6 141ZM-81 130L-79 129.2L-76 130.1L-71.4 133L-68.9 136L-68.4 137L-69 138L-72.9 140L-74.1 142L-74.3 145L-73 146.3L-71 146.8L-69 146.2L-66.3 142L-65 141L-63 140.9L-62 141.6L-61.3 143L-61.5 145L-64 150L-82.3 150L-83.4 145L-81.4 141L-80.2 136L-80 133Z"/><path id="vb30" d="M-29.5 -150L49.2 -150L49.3 -148L50.9 -145L49 -143.4L46 -142.9L42 -144.4L38 -145.2L34 -147.4L32.5 -147L30.7 -145L29 -144.6L24 -146.6L15 -147.7L8 -147.3L-6 -148.9L-19 -147.7L-26 -149.7ZM91.8 -145L93 -145.3L93 -143.8L92 -142L91 -141.9L90.7 -143ZM117.8 -144L122 -144.1L124.7 -143L126.4 -141L126.9 -135L128 -134.1L130 -133.7L132.5 -135L134 -139L140 -142.9L142 -143.3L150 -142.8L150 -131.3L147 -131.1L145.4 -130L145.9 -125L145.6 -121L144.7 -119L142.8 -117L141.9 -114L142.9 -111L145 -109.6L147 -109.9L150 -111.7L150 -51.2L148.5 -49L148.7 -48L150 -46.6L150 -37.6L148 -36.9L146.4 -46L141.9 -52L139.4 -57L135.8 -60L136 -66L132.9 -70L131.5 -74L127 -80L124.9 -85L120.7 -88L117.7 -93L114.7 -96L112.1 -102L106 -106.7L103.9 -112L104 -114L104.8 -115L114 -117.7L118.4 -123L120 -123.9L123 -124.5L124.6 -126L125 -128L124 -131.2L123 -132.2L120 -132.5L118 -133.5L115.2 -137L113.6 -140L114 -142.4ZM93.4 -121L94 -121.9L96 -121.3L97.1 -120L97 -118.3L94.9 -119ZM149.8 -27L150 -27.6L150 -16.1L148.8 -21ZM-150 -25L-150 -25.5L-148.2 -24L-147.1 -22L-146.6 -15L-147.2 -10L-145.3 -4L-148.1 8L-146.9 12L-146 18.2L-145 19.3L-141.8 21L-140.3 23L-140.4 25L-143.4 29L-143.7 31L-139 36.8L-138 40L-138.4 44L-135.6 48L-135.6 50L-137 54.2L-136.5 58L-134.9 61L-132 64.1L-127 67.7L-122.9 69L-122.2 72L-123.6 80L-122.6 83L-117 88.9L-113.8 94L-109 98.3L-104.4 106L-103.5 111L-100 113.2L-98.7 115L-98.8 117L-101.4 120L-103.9 125L-103.6 127L-100 133.8L-97.4 131L-95 130L-93 130.4L-92.2 132L-94 135.6L-95.4 137L-98 137L-100 135.5L-104 138.7L-106 139.3L-109 139.2L-111 141L-112 140.7L-116.6 136L-112.9 134L-105.8 126L-107 122.9L-108 122L-109 122.1L-111.7 124L-115 128.3L-119.4 130L-120 131L-119.7 132L-117.5 135L-117.5 136L-125 139.2L-131 143L-131.8 145L-131.5 148L-131 149.4L-129.6 150L-143.6 150L-146 148.6L-150 147.8ZM-149 121.8L-149 122.3L-147.8 123L-145.6 123L-145.4 122L-147 121ZM-77.5 133L-77 132.2L-76 132.4L-74 134L-74.7 136L-77 138.2L-78 137Z"/><path id="vb31" d="M-21.8 -150L-21 -150L-8.9 -150L-18 -149.3ZM5.6 -150L6 -150L11.8 -150L9 -149ZM16.2 -150L17 -150L31 -150L30 -148.7L28 -147.7L19 -148.4ZM36.2 -150L37 -150L46.3 -150L43.3 -147L41 -146.8L37.3 -148L36.3 -149ZM119.5 -141L121 -141.7L123.2 -141L124 -139L123 -136.8L121 -136.4L119.6 -137L118.8 -139ZM140.9 -141L150 -141L150 -134L144 -133.7L140 -131.5L134.6 -131L132 -128.5L131 -128.3L130.3 -129L130.6 -130L134 -132L136.2 -138L138.6 -140ZM133.6 -118L136 -118.7L138.1 -118L140.8 -111L144 -107.7L148.3 -105L147.9 -100L149 -98.4L150 -98.3L150 -84L147.9 -84L145.7 -83L145.2 -82L144.6 -76L140.1 -70L140.8 -69L142 -68.7L145 -68.8L147.3 -74L150 -77.9L150 -56.2L147 -54.1L144 -53L143 -53.5L138.1 -61L137.6 -67L134.9 -71L133.8 -75L129.4 -80L127.4 -85L122 -90L121.4 -92L122 -93.3L126 -92.6L134 -96.6L137 -96.6L137.6 -97L137.4 -98L134 -97.5L130.7 -103L129 -104.5L128 -104.6L127 -104.1L126.3 -103L125.8 -99L125 -97.6L123 -96.8L119 -96.3L117 -97.9L116.5 -99L117.5 -104L117 -105.9L116 -107.2L114 -107.6L111 -105.7L110 -105.7L107 -107.9L106 -110L106.6 -112L108 -113.1L129 -116.1ZM135 -85.5L133.3 -84L133 -83L134 -80.6L136 -80.5L140.4 -83L140.7 -84L139 -85.4L137 -85.9ZM-150 -21L-150 -21.9L-149.1 -15L-149.3 -11L-146.9 -4L-147.7 0L-150 5.9ZM-150 9L-148.4 13L-147.4 19L-146 21L-143.3 23L-143 24L-146 29L-146.4 31L-146 33.8L-144.5 37L-141.5 39L-140.9 40L-142 42.2L-146 43.5L-148 43.6L-148.6 45L-148.3 46L-146 48.8L-141 48.7L-138.7 50L-138.2 57L-136 62.3L-127.3 73L-128.6 77L-128 80.5L-126 83L-118.4 90L-115 95.5L-110.2 100L-106.6 106L-106.7 109L-109 109.7L-116 107.7L-119 105L-121 104.1L-124 104.2L-125.4 106L-125.2 109L-121 113.7L-119 114.4L-115 112.6L-113 112.3L-111 113.3L-109.7 115L-109.6 117L-110.6 119L-115.4 126L-117 127L-118.5 127L-119.9 126L-121 121.6L-122 120.9L-124 122L-129 127.4L-131 128.6L-133 128.2L-136.7 126L-138 125L-138.2 124L-136.8 121L-136.7 119L-137.6 115L-139 113.9L-141 114.5L-142.2 117L-143 117.5L-148 117.3L-150 117.8ZM-133 101.7L-134 102.8L-134.1 104L-133 106.4L-132 106.9L-130 105.3L-128.7 103L-130 101.6ZM-104.4 115L-103 114.8L-102 115.4L-102 116.5L-103 117.7L-104 118L-105.2 117L-105.4 116ZM-150 127L-147.8 127L-145 131L-142 131.5L-140.5 133L-140.1 135L-143 138L-143.1 140L-142.1 142L-140 143.9L-136 144.4L-135.6 146L-137 147.9L-139 148.2L-145 147L-149.3 145L-150 142.4ZM-107.2 131L-106 130.5L-105 130.9L-104.6 132L-105 134L-106 134.7L-108 133.9L-108.1 132ZM-130.1 133L-124 133L-122.7 134L-122.5 135L-124 136.5L-128 138.1L-135 139L-134.9 138L-132.8 135Z"/><path id="vc1" d="M-150 -150L150 -150L150 150L-150 150Z"/><path id="vc2" d="M-150 -150L150 -150L150 150L-150 150Z"/><path id="vc3" d="M-150 -150L150 -150L150 150L-150 150Z"/><path id="vc4" d="M-150 -150L150 -150L150 150L-150 150Z"/><path id="vc5" d="M-150 -150L150 -150L150 150L-150 150ZM70 -88.8L69.6 -88L72 -86.7L71.3 -88ZM80 -80.8L79.1 -80L80 -78L87.2 -69L90 -62.2L91 -60.9L92 -60.8L91.7 -63L88.4 -68L86 -75L83 -78.6Z"/><path id="vc6" d="M-150 -150L150 -150L150 150L-150 150ZM61 -94.5L60.3 -94L62.1 -92L70.3 -86L76 -82.6L81 -75.2L85.3 -70L90 -60.5L92 -58.4L93 -58.5L93.2 -61L92.2 -64L89.3 -69L87 -74.7L84 -78.6L81 -81.4L76 -84.6L71.9 -89L64 -93.7Z"/><path id="vc7" d="M-150 -150L150 -150L150 150L-150 150ZM58 -96.2L57.2 -96L57.6 -95L59.6 -93L76 -81.2L84.6 -70L90 -59.3L93 -55.8L93.9 -56L94.1 -60L93.4 -63L89.6 -70L88 -74.2L85 -78.3L82 -81.4L71.6 -90L63.3 -95Z"/><path id="vc8" d="M-150 -150L150 -150L150 150L-150 150ZM-74 -70.3L-77.1 -68L-80.1 -64L-80.6 -61L-79 -57.6L-71.5 -67L-71.4 -70L-72 -70.6ZM44 -102.1L47.8 -99L55 -95.6L74 -82.1L76.3 -80L83.9 -70L88.3 -61L92.6 -54L99 -35.4L101 -31.7L103 -29.9L102.1 -37L99.3 -43L97.1 -51L95.3 -55L94 -63L88.2 -75L86 -78L82 -82.2L73 -89.7L65 -94.8L55 -98.4L47.6 -102L45 -102.5Z"/><path id="vc9" d="M-150 -150L150 -150L150 150L-150 150ZM-67 -77.2L-76 -71.4L-81.3 -67L-82.9 -65L-83.7 -62L-83.6 -59L-81.4 -54L-80 -52.7L-77 -53L-74.9 -55L-74.1 -60L-69.7 -66L-68 -72.4L-65.3 -75L-65.2 -76L-65.7 -77ZM25 -110.3L24.9 -109L25.7 -108L28 -106.5L31.3 -106L33.2 -107L29.4 -110L27 -110.6ZM40 -104.3L39.5 -104L42.9 -101L55 -94.6L74 -81.3L76.4 -79L83.9 -69L91.6 -54L96 -40.4L101.5 -28L103 -23.4L104 -22.9L105 -24.2L105.4 -27L103 -36.9L96.2 -55L94.6 -63L87.5 -77L83 -82.1L74 -89.6L65 -95.5L55 -99.3L47 -103.2L43 -104.2Z"/><path id="vc10" d="M-150 -150L-103.5 -150L-103 -149.6L-101.9 -150L150 -150L150 -71.9L148 -72.3L147 -71.9L146.6 -71L147 -69.3L148 -68.3L150 -68L150 57.8L149 57.4L148 58L146.4 61L146.8 63L148 64.1L149 64.3L150 63.6L150 150L-100.5 150L-103 142.8L-104 141.9L-107 141.3L-108.5 142L-108.7 143L-105.4 150L-150 150L-150 87.9L-148 88.1L-147.1 87L-148 85.5L-150 85.2ZM-123 104.8L-124 106L-124 107L-123 109L-120 110.5L-118 109.6L-117.2 108L-118.1 106L-121 104.6ZM-108 66L-108.7 67L-106.5 71L-108.2 72L-110 72.2L-114 70.6L-115 71.6L-115.7 74L-115.4 76L-114 78.6L-112.3 80L-110 80.7L-107 80.7L-105 80L-103.9 78L-104.3 74L-105.9 71L-107 67.1ZM-99 -126.3L-98 -124.8L-96.2 -125L-96.5 -126L-98 -126.9ZM-92 -109.5L-92.1 -107L-91 -106.6L-91 -108.8ZM-67 -148.2L-67.7 -147L-67.2 -146L-64 -142L-61.9 -141L-61 -141.8L-60.8 -143L-61.8 -145L-65 -148ZM-59 -85.1L-65 -80.7L-71 -80.8L-73 -80.2L-73.6 -77L-74.7 -75L-85.1 -67L-87.4 -60L-87.5 -58L-82 -50.2L-80 -49.7L-78 -50.2L-73.6 -53L-72.3 -55L-70.7 -61L-68.1 -65L-66 -69.5L-65 -70.5L-60 -72.6L-58.7 -74L-57 -79.8L-56.8 -83L-57.2 -85L-58 -85.5ZM-55 111.9L-56.2 113L-56.1 114L-54 116.3L-50 116.7L-47.1 116L-48.3 114L-51 112ZM-29 127.9L-29.5 130L-28.4 132L-27 132.5L-25 131.7L-24.3 130L-25 128.4L-27 127.3ZM-6 121.9L-8.4 126L-9.3 129L-8 132.1L-7 133.1L-5 133.8L-1.6 132L-0.9 131L-0.7 129L-1.7 125L-3 122.3L-4 121.7ZM9 145L8.8 145L7 146L8 146.5L9.4 146L9.7 145ZM13 120.7L12.2 122L12.3 125L13 126.2L15 126.6L16 125.7L16.6 124L16.4 121L15 120.2ZM15 -114.1L14.8 -113L20 -111.7L24.5 -107L27 -105.4L37 -103.5L47 -97.6L55 -93.7L75.7 -79L83.3 -69L90.8 -54L94 -43L100.6 -28L101.8 -22L102 -15.4L102.7 -14L103.4 -14L104 -14.6L104.6 -19L106.5 -25L106.1 -29L103.3 -38L96.5 -56L94.8 -64L91.3 -70L89 -76L85 -81.3L74 -90.5L64 -96.9L56 -99.7L46 -104.3L37 -106.8L29 -111.2L25 -112.2L20 -112.4L17.1 -114ZM79 -117.1L79 -115.8L80 -115.6L80.8 -116L80.1 -117ZM113 101.2L111.8 103L112 104.4L113 105L114.9 104L115.3 103L115 101.9L114 101.2ZM133 36.5L131.2 38L131 39L132 39.6L134 39.1L135 38L135 37L134 36.3ZM-75 142.9L-78.4 145L-79 147L-78.1 148L-75 148.7L-73 147.2L-72.3 144L-73 143ZM-63 122.7L-65.3 124L-65.8 126L-64.2 130L-62 130.6L-58.6 129L-57.9 127L-58.4 125L-59.8 123ZM-49 127.8L-48.9 129L-47 129.5L-45.9 129L-47 127.6ZM16 139.5L14.7 141L13.9 143L15 143.8L17 143.7L18 142.8L17.5 140L17 139.4ZM56 127.8L53.7 129L52.6 131L54 134.9L55 136.3L56 136.4L61 134.5L61.6 133L60.3 130L59 128.4ZM64 108.7L63 110L64 111.5L65.3 111L65.6 110L65 108.9ZM80 147.7L81 148.9L81.9 148L81 147.6ZM90 105.9L87.5 107L86.8 108L87.4 109L96 111.6L98 110.9L99.8 109L99.3 107L98 105.9L95 105.5ZM133 47.6L131.2 50L131.5 52L134 55L137 55.3L139 53L138.5 50L136 47.8ZM54 138.2L51.9 140L51 142L52 143.5L54 144.1L56 143.1L56.2 142L55 138.1ZM88 127.9L87 128.1L86.2 129L86.1 130L88 133.8L89 133.9L89.9 132L89.9 130L89 128.4Z"/><path id="vc11" d="M-150 -150L-138 -150L-134 -148.7L-132.8 -149L-131.9 -150L-107 -150L-104 -145.5L-101 -144.3L-99 -146L-98.1 -148L-98.1 -150L-86 -150L-85.6 -148L-84 -146.9L-82.7 -147L-79 -149.3L-77 -149.1L-73 -145.6L-69 -143.2L-65.5 -139L-64.4 -136L-65.7 -130L-64 -129.1L-58.8 -131L-56.6 -133L-55.5 -135L-56.8 -141L-56.8 -146L-57.3 -147L-61.2 -150L0.6 -150L2 -148.3L3 -147.9L5 -148.5L7.1 -150L81.3 -150L86 -148L90.1 -150L150 -150L150 -82.1L148 -81.3L146 -79.6L142.5 -75L141.6 -72L142.7 -69L144.2 -67L147 -64.7L150 -63.5L150 -20.1L148 -20.1L147.3 -19L149.4 -13L148.3 -5L149 -3.3L150 -2.6L150 40.8L148.8 41L147.7 43L148.2 46L150 48.2L150 50.7L148 52.2L143.4 61L143.6 63L146 68L146 72L146.4 73L148 74.3L150 74.5L150 82.1L147.3 85L145.9 89L147 90.3L150 90.5L150 120.5L149.3 123L150 125.3L150 138.7L149.6 140L150 142L150 150L98.2 150L96.8 148L94.8 147L80 143.8L78 144.2L76.2 146L75.9 148L76.4 150L29.8 150L30.9 146L30.9 144L28.6 137L31.6 131L30 126L31.4 119L31 117.7L29 116.9L26 117.5L23.7 119L22.3 125L22 125.6L21 125.9L20.2 120L16 117.1L13 117.8L11 119.3L9.9 121L8.7 127L7 128.2L5 128.6L2 127.9L0.6 126L-1 121.8L-3 119.6L-5 118.8L-7 119.7L-12 125L-19 127.1L-21 126.9L-27 123.2L-30 122.9L-33 123.6L-34.7 125L-35.4 127L-32.6 135L-32.6 137L-33.5 140L-35.3 143L-38 145.5L-43 145.9L-43.5 147L-42.7 148L-40 148L-36 149.4L-29.1 150L-60.6 150L-63 147.5L-67.2 146L-66.9 141L-68 139L-69 138.3L-71 138.5L-79 141.7L-81 141.7L-82 141L-82.6 138L-81.6 133L-83 132L-85 131.8L-87.3 133L-89.1 138L-88.9 140L-85.5 144L-85.2 145L-85.5 147L-87.2 150L-97.4 150L-99.4 146L-100.2 141L-101 139.4L-107 137L-110 132.4L-112 130.6L-118 128.9L-121 126.7L-122.3 124L-124 115.8L-123 114.8L-118 114.9L-116.4 114L-114 111.5L-112 111.2L-111 112.2L-108.8 117L-106 120.1L-103 121.2L-98 121.2L-94 124.4L-92 124.2L-89.1 121L-85 120.3L-83 119.2L-82 116L-83 112.6L-85 111.1L-89.7 109L-90.3 108L-89.9 107L-87.3 106L-80 105.3L-78 104.4L-75 102L-75.4 100L-77.3 98L-81 96.8L-85 98.3L-90 98.5L-95 97.5L-100 98.9L-106 97L-107 97.9L-109 102.3L-110 103.3L-112 104.1L-115 103.5L-121 100.1L-128 100.1L-129.1 101L-129.8 106L-132 110L-131.9 120L-133 122.5L-135 123.9L-138 123.8L-141 122.1L-143.6 115L-147 109.7L-148 109.7L-149 110.9L-150 115.2L-150 90.8L-145.8 92L-141.8 96L-135 100.5L-134 100.1L-133.7 99L-135.1 94L-135 90.4L-134 88.2L-131 87L-132 85.9L-135 87.5L-141 86.9L-147 82.7L-150 81.8L-150 73.6L-148.2 69L-145.8 65L-147.5 61L-148.3 56L-150 53.6L-150 -69L-149.3 -71L-150 -72.6ZM-147 -122.2L-148.4 -121L-148.7 -120L-148 -118.9L-145 -118.2L-144.4 -120L-145 -122.8ZM-139 -100.3L-139.2 -98L-138 -97.6L-137 -98.9L-137 -100L-138 -101ZM-130 68L-131.7 70L-131.6 72L-130 73.6L-127.8 74L-127 73.5L-126.6 72L-127 67.9L-128 67.1ZM-127 -131.2L-128.6 -130L-128.9 -128L-127.3 -121L-126 -120.3L-123 -121.7L-120.2 -124L-118.8 -126L-118.8 -127L-124.8 -131ZM-109 -138.6L-110 -137.6L-112.1 -133L-112.5 -131L-112.2 -130L-105.6 -127L-101.9 -123L-96.7 -120L-95.6 -118L-97 -115.5L-100 -113.7L-105 -115.7L-108 -114.1L-110.1 -110L-110 -107L-108.8 -103L-108 -102L-107 -102.1L-104.7 -108L-102 -110.9L-100 -111.8L-99 -111.4L-97 -109.1L-94.6 -103L-93 -101.5L-86 -101.4L-84.1 -102L-84.1 -103L-87.3 -109L-89.5 -116L-88.5 -123L-89.2 -125L-92 -127.9L-99 -133.2L-103 -133.5L-105 -134.2L-107.3 -138L-108 -138.6ZM-52 -117.1L-52.9 -116L-51 -115.2L-49.5 -116L-49 -117L-50 -117.8ZM-45 -100.2L-45.9 -99L-45.5 -98L-44 -97L-42 -97L-40.7 -98L-40.6 -99L-41.3 -100L-43 -100.6ZM-13 -142.3L-14.8 -141L-17 -137.5L-27 -135.8L-28.8 -134L-28.8 -132L-28 -130.9L-24 -130.1L-19 -128.1L-15.3 -129L-14.5 -131L-14.6 -135L-11.9 -138L-11 -140L-11.9 -142ZM-9 -109.4L-12 -107.3L-12.4 -107L-12 -106.5L-4 -103.6L-1 -103.3L-1 -107.9L-6 -109.7ZM4 -144.6L2.8 -143L3.7 -141L7 -138.5L9 -138.6L9.7 -141L8.8 -143L6 -144.9ZM12 -116L11.1 -115L11.1 -114L12 -112L13.3 -111L19.9 -109L26 -104.1L34 -103.2L39 -101.4L47 -96.7L55 -92.9L75 -78.9L82.6 -69L84 -66.3L90 -53.7L93.3 -42L99.4 -29L100.7 -23L99.9 -15L100.3 -12L102 -10.5L104 -10.2L105 -10.6L106.1 -13L106.2 -19L107.4 -25L107 -29L97.2 -56L95.5 -64L91.4 -71L89.5 -77L85 -83.4L79 -87L74 -91.7L64 -98.2L57 -100L48 -104.3L38 -107.5L29 -112.2L16 -116.2ZM26 -141L25 -140.8L24 -139.4L20.5 -132L25 -133.2L27 -135L27.2 -139ZM38 -137.2L35.1 -136L33.4 -134L33 -132L33.5 -130L36 -127.3L41.2 -124L41.9 -122L41.7 -118L44.9 -116L47 -116.1L48.1 -117L48.9 -119L47.7 -124L43.4 -129L41.6 -136L40.3 -137ZM46 -144L45.4 -142L46 -140.9L47.1 -142L47 -143.1ZM76 -120.2L74.9 -118L75.5 -115L77 -113.6L80 -112.3L83.2 -113L87.2 -116L88.6 -118L87.3 -119L83 -119.2L78 -120.6ZM87 -143L85 -141.2L84.4 -139L85.6 -137L88 -136.6L90.2 -138L90.7 -140L89 -142.4ZM103 -137.2L100 -134.2L98.9 -131L100 -128.4L102 -126.9L103 -127.4L107.1 -136L107 -137.3L106 -137.8ZM111 -148.1L109.6 -147L110 -145.5L112 -145.8L112.7 -147L112.2 -148ZM115 -113.1L114.1 -113L114.1 -112L118.8 -106L116.7 -101L117 -98L118 -97.1L120 -97L121.9 -99L122.1 -102L121.5 -105L121.9 -106L125.8 -109L126.9 -111L125.9 -112L123 -112.8ZM119 -125.1L117 -124L116.4 -123L118 -122.6L119.4 -123L120.4 -124L120.1 -125ZM130 5.8L128 7.9L127.7 10L129 14.5L130 15.1L132 14.2L133.3 11L132.9 9ZM132 -121.1L132.2 -120L133.5 -120L133.6 -121ZM139 -91.3L138.5 -89L139.7 -87L142 -85.4L144 -85.1L144.6 -87L143.7 -89L141 -91.2ZM148 -33.2L146 -32L147 -30.6L148 -30.6L149 -31.8ZM-139 64.7L-139 66L-138 67L-137 66.5L-138 64.3ZM-128 52.9L-129 53.1L-129.7 54L-129 56L-127 57.5L-122 59.5L-120.2 61L-120 62L-119 71L-120 75.5L-123 79L-123 82L-122 84L-119 85.9L-114 87L-108 84.4L-102 84L-98 82.7L-95.6 84L-93 88.1L-91 88.5L-91 86.9L-94.1 81L-95 80L-99 77.9L-101 75.3L-104.3 66L-105.5 64L-108 62.7L-111 62.2L-113 62.7L-117 61.4L-118.9 60L-120 57L-121 56.1L-126 53.4ZM-49 -92.1L-58 -90.3L-61.5 -86L-65 -83.5L-72 -83.7L-76.1 -83L-78 -81L-77.2 -77L-78.3 -75L-82 -73.1L-84 -73.6L-85 -74.6L-86 -74.2L-89.7 -68L-90.2 -63L-91.7 -58L-91 -52.6L-87 -51.1L-83 -48.2L-81 -47.7L-77 -48.8L-73 -51.2L-70.7 -54L-68.8 -60L-67 -63L-64 -67L-59 -70.6L-57 -73L-53 -84.8L-48.4 -89L-48.1 -91ZM89 -91.3L87.5 -90L87.7 -88L89 -86.8L91 -86.8L92.1 -89L92 -90.8L91 -91.4ZM116 -50.2L115.8 -48L118 -44.6L119 -43.9L121 -44.4L121.6 -46L119.8 -49L118 -50.3ZM126 -72.1L125.2 -70L126 -68.2L127.9 -69L128.6 -71L128 -72.4L127 -72.6ZM132 33L128 35.4L125 36.4L122 39L121.3 41L122.2 44L123 44.6L126 44.8L127 45.7L126.3 50L127.6 52L133 57.5L135 58.2L137 58L139.8 56L141.4 52L140.5 49L136.4 44L136.8 42L140 38L140.5 36L138.6 34L136 32.5L134 32.3ZM133 -47.3L132.1 -46L133 -45.3L134 -45.7L134.5 -47L134 -47.5ZM-69 105.7L-70.1 108L-70.3 110L-69 113L-67 113.7L-61 112.9L-60 113.7L-59 116L-59 117L-60 118.4L-66.6 120L-68 121.1L-69 124L-69.4 128L-69 132L-68 134.5L-67 135.3L-61 135.9L-60 139L-59.2 140L-56 140.5L-52.7 139L-49.9 134L-44 133.7L-41.3 132L-40.7 130L-40.9 129L-44 125.6L-48 122.7L-49 122.3L-52 123.2L-52.6 123L-52.9 122L-48 121.1L-45 118.9L-43.4 117L-44.5 114L-46.9 111L-49 109.6L-52 109L-58 110.7L-60 110.7L-65 106L-67 105.3ZM120 49.7L114.5 56L114.3 58L116 59.7L120 59.6L121.1 59L122.4 57L122.6 52L121.2 50ZM124 83.8L121 87.5L116 87.7L113.7 89L112.7 91L112.1 95L111.3 97L108 102.6L106 104.4L104 103.9L100 100L96 98.8L94 97.6L90.5 94L89.2 91L88 90.6L86 92.1L84.2 95L85.3 101L85.2 103L82 109.8L80 111.6L74 111.3L71.4 110L70.6 108L70.8 106L74.6 101L74.4 100L73 99L71 98.4L69 99.2L66 103.3L64 104.1L60 104.7L59 105.3L57 108.3L53 109.6L51.4 111L50.4 114L50 121.7L46.7 123L46.4 124L47.1 128L46 132.3L45 133.7L42.3 135L41.8 136L41.5 142L42 143.9L46 144L50.4 148L62 147.6L64 146.4L66.1 144L71 141.3L71.9 140L73.4 135L78 130.3L80 129.1L82 129.5L84 131.8L85.9 140L87 141.4L89 141.2L91 139.4L93.1 135L93 131L91.9 127L91 125.8L89 124.7L82 125.5L80.3 125L77 122.6L75 122.9L73.1 124L72.5 125L71.1 130L70 131.5L67 132.1L64 131L62 128L61.5 125L63.6 122L64 117.6L65 116.5L67 115.6L69 115.7L71 117.3L75 118.8L78 121L80 121.1L85 119.1L85.7 118L86.4 114L88 112.6L90 112.5L95 114.9L100 114.6L101 115.3L103 119L106 121L112 122.6L118 125.3L121 124.5L122.3 123L121.8 121L119 118.5L110 113L108.8 112L107.9 110L109 109L114 109.5L116 108.3L118 105.9L119.3 103L119.2 101L116 98L114.8 96L115.6 94L120 89.5L121 88.9L122 89.3L125 91.7L127 92.3L129 92.2L131 91L131.7 89L131 87L129 85.6ZM133 77.9L131 79L130.3 81L131.5 84L134 85.2L136.5 84L137.8 81L137.5 80L136 78.6ZM122 76.9L121.4 77L121 78L122 79.3L123 79.4L123.3 78ZM102 128.3L100.7 130L100.9 132L104.5 136L106.3 140L109 142.8L113 144.4L117 144L121 144.8L122.8 144L122.8 143L122 142.2L118 141.2L117 140.5L114 135.3L108 134L105.3 129L104 128.3ZM124 109L122.3 110L122 111L124.6 118L124.2 122L125.4 126L125.6 131L131 138.6L133 139.5L134.7 138L135.8 135L135.5 129L131.9 123L130.7 120L129.5 116L128.6 110L127 108.8ZM136 100.6L133.7 103L133.4 106L136 107.2L139 106.7L140.6 105L140.1 103L138 101ZM-100.5 110L-99 109.3L-98 109.4L-97.3 110L-97.4 111L-98 112L-99 112.1L-100.3 111ZM-150 127L-146 127.1L-140.3 133L-139.7 134L-139.9 136L-142 138.8L-144 139.4L-150 137.6ZM-131.7 130L-130 129.6L-128 129.9L-126 130.8L-124.9 132L-124.4 134L-125 138L-124.1 142L-125.2 144L-129 147L-131 147.8L-134 147L-134.7 145L-132.6 139L-133.5 133L-132.7 131ZM-19.1 131L-13 133L-10.4 135L-8.2 138L-7 143.4L-3 146.1L-1 150L-26.9 150L-21.9 149L-19.5 147L-19.3 145L-20 143.5L-26 141.5L-27.5 140L-27.9 138L-20 131.3ZM0.6 135L4 134.8L7 135.9L8.1 137L8 139L6 141L3 142.7L1 143.1L-1 142.5L-2.6 140L-2.6 138L-1.1 136ZM-150 144L-146.5 147L-144.5 150L-150 150ZM-116.7 144L-115 143.7L-113 144.3L-110 147.2L-108.1 150L-122.6 150L-120 145.2ZM16.4 148L20 148.3L23 150L10.9 150Z"/><path id="vc12" d="M-119.4 -149L-118.9 -150L-109.6 -150L-108.5 -147L-108.7 -145L-111.6 -141L-114 -135.5L-117.5 -132L-120 -131.9L-123.7 -134L-126 -134.6L-129 -134.4L-133 -133.2L-138 -133.7L-141 -134.9L-144.7 -138L-143.9 -141L-142 -143.4L-140 -144.7L-125 -145.1L-122 -146.3ZM-34.3 -149L-32 -149.3L-20 -148.8L-16.5 -150L-2.8 -150L-2.6 -149L-2.9 -147L-3.7 -146L-6 -144.8L-8 -144.9L-13 -147.4L-16 -146.8L-17 -146L-20 -140.9L-22 -140L-28 -139L-31 -137.1L-32.8 -134L-33.3 -127L-33.1 -125L-31 -124.2L-27 -124.3L-21.8 -126L-15 -127.3L-9 -129.6L-5.9 -130L-4.1 -132L-3 -136L-1 -136.8L1 -136.3L2.3 -135L3.3 -129L8 -125.8L10 -125.2L12 -125.3L24 -128.4L30 -127.4L33.4 -125L34.1 -123L33.2 -121L36 -117.4L38 -116.1L45 -113.6L49 -114.1L51.4 -116L52.1 -118L51.7 -124L54 -126.8L55 -126.8L59.8 -123L63 -121.9L65 -122.2L68 -125.8L70 -125.9L72 -125L72.4 -114L74 -112.5L81 -109.3L83 -109.8L87 -112.5L93 -114.9L97 -119.5L105 -121.4L107 -121.4L108 -120.2L108.6 -118L108.8 -112L112.8 -107L113.7 -105L114.2 -96L117 -94.3L126 -93.8L129.2 -90L136 -86.7L140.6 -83L141.8 -81L141.5 -79L140 -76.9L138 -75.6L136 -75.4L134 -76.3L127 -82.6L124 -82.9L122.2 -81L121.4 -78L119.7 -75L121 -71L120.2 -68L114 -61.4L112 -60.8L109 -61.5L108.7 -60L109.8 -58L113.7 -55L113.7 -50L114.4 -47L122 -35.8L124 -35.5L128 -38.1L130 -38.2L132.3 -36L134 -31L139.5 -28L139.9 -27L139.1 -25L137 -23.6L135 -25L133 -28.2L126 -26.1L125 -23L125.5 -19L128 -15.7L133 -16.5L139 -18.5L143 -17.6L145.9 -15L147 -11L145.6 -3L147.2 2L148 3.2L150 4.1L150 13.6L147 13.6L144 14.8L142 21.1L141 21.9L137 23L135 24.4L130.6 30L128.1 32L123 34.8L119 35.9L118 36.9L117.6 39L118.8 45L118.2 47L114 52.5L110 55L108 55.6L103.5 60L103.6 62L105 64L104.9 69L101.6 74L100.5 78L95 85.6L94 86.1L89 85L87 85.3L85 87L82.4 93L79 97L76 97.5L70 95.7L68 96.8L66 99.5L64 101L61 100.4L56.1 95L53.8 95L52.7 96L52.9 100L52.1 103L46.1 116L44.8 117L40 117.6L37.6 119L36.6 124L35 125.7L34 125.5L33.5 124L35.6 119L35.4 117L34.3 116L31 114.3L29 113.9L22 115.8L17 112.7L14 113.5L10 117L7.6 121L7 124.1L5 125.7L2.7 125L-3 114.8L-5 113.6L-7 114.5L-12 120.7L-17.7 123L-19.3 123L-21.1 121L-23 120.2L-32 119.2L-35.1 120L-39 123.6L-41 123.6L-42.2 122L-40.2 118L-41 115L-43 111.2L-46 108.4L-49 107L-52 106.4L-57 108.5L-59 108.7L-61 107.6L-65 103.4L-70 101.5L-73.5 98L-77 95.9L-80 94.8L-84 94.5L-87 95L-88 94.4L-88 93.1L-86.7 92L-87.1 88L-91.2 79L-93 77L-97 76.1L-99 74.8L-101.9 67L-104.2 63L-106 61.3L-111 59.8L-113.3 58L-117 50.1L-119 50.6L-120.2 50L-123 46.8L-129 45.6L-131 41L-134.9 35L-141 31.6L-141.7 27L-147 24.5L-150 22.4L-150 -64L-148 -64.5L-146.1 -66L-142.6 -72L-142.6 -74L-146.5 -78L-147.2 -81L-146.5 -83L-143 -87L-142.5 -90L-136.8 -93L-132 -98.4L-127.7 -101L-127 -102L-126.6 -105L-125 -106.4L-123.3 -106L-122.8 -105L-123.1 -104L-125.6 -101L-125.5 -100L-124 -97L-122 -95.7L-118 -96.3L-114 -99L-104 -92.7L-100.6 -93L-94 -95.6L-92 -95.5L-91 -94.7L-90.4 -93L-91.2 -88L-92 -86.8L-96 -85.3L-97.7 -84L-100 -79.6L-104.1 -76L-104.8 -74L-104.7 -72L-104 -71.8L-101 -72.4L-98.3 -74L-96.9 -79L-91 -86.2L-88.6 -86L-86.6 -84L-86.5 -82L-88.4 -79L-89.6 -75L-93.7 -67L-95.3 -48L-94 -47.5L-87 -47.7L-81 -46.1L-78 -46.8L-73 -48.9L-69.2 -53L-66 -60.8L-61 -65.2L-56.5 -71L-51 -83.4L-45.3 -88L-43.9 -92L-42.1 -94L-35 -98.6L-33 -98.6L-28 -97.2L-21 -100.5L-12 -103L-9 -103L-4 -101.3L-1 -101.3L0 -107L-0.8 -110L-5 -112.3L-9 -112.9L-12 -111.4L-16 -107.4L-19 -105.4L-23 -104.8L-31 -104.6L-36 -101.6L-43 -103.1L-47 -102.2L-50.2 -100L-50.6 -95L-53 -94L-58 -94L-60 -93.2L-65 -87.3L-78 -85.1L-81.4 -84L-81.1 -86L-81.7 -92L-81.1 -94L-79.3 -96L-71.3 -101L-70.1 -103L-69.6 -105L-70 -105.4L-80 -105.1L-82 -106L-83.8 -108L-84.6 -110L-84.7 -114L-85.7 -117L-85.5 -119L-84 -120.7L-80 -121.3L-79 -122.3L-75.3 -128L-75.1 -130L-76 -131.4L-77 -131.8L-82 -129.4L-86 -129.2L-87.7 -131L-87.1 -133L-82 -138.1L-74 -140.5L-71 -140.5L-69 -139L-67.8 -136L-70 -130L-69.6 -128L-67 -126L-64 -126.3L-57 -129L-54.5 -131L-52.4 -135L-52.4 -137L-53.7 -141L-53.2 -144L-51 -145.8L-47 -145.9L-45 -145.3L-43.5 -144L-42 -139L-42.8 -137L-46.1 -133L-46.7 -130L-45 -127.7L-42 -126.4L-41 -127.3L-38.2 -134L-37.8 -138L-36.3 -142L-36.5 -147L-36 -148ZM12 -118L9.3 -117L8.3 -116L8.1 -115L9 -113L12 -109.5L19.1 -107L20.4 -105L20.8 -103L24 -102L34 -102.1L37.7 -101L47 -95.6L55 -92L75 -78L83 -66.8L89 -53.5L92.2 -42L95 -37.2L99.1 -28L99.9 -23L98.2 -14L98.5 -11L100 -9.2L103 -8.1L105 -7.9L107 -9L108.4 -13L107.4 -18L108.3 -25L108.1 -28L97.8 -56L96.5 -64L92 -71L91.1 -76L88.7 -82L89.1 -83L92.8 -85L95 -88L102 -91.5L104.3 -94L104.4 -95L103.6 -97L96 -106.2L94 -107.7L93 -107.6L92 -106.9L89 -101.9L88 -101.2L81 -102.4L77.6 -100L77.1 -99L77.5 -97L79 -95.5L83 -94.8L85 -95.3L86.1 -95L85 -93.5L85.1 -91L84.3 -88L83 -87.1L82 -87.1L79 -88.5L76 -92.1L70.6 -95L65 -100.1L57 -101.1L46 -106.4L37 -108.9L31 -112.6L17 -117.3ZM105 -85.1L102 -82.4L100.6 -79L101.3 -76L103 -73.1L107 -73.3L112.9 -75L114.6 -76L109 -83.9L107 -85.1ZM130 1.9L127.4 4L126.1 6L125.8 11L129 19.2L133 20.4L135.3 19L136.9 14L137.8 13L142.5 11L143 8L141 6.3L135 5.4ZM-139 -10.2L-143 -9.3L-148 -9.3L-149.5 -8L-149.8 -6L-142 -2.9L-140.6 -4L-139.1 -7L-138.6 -9ZM-137 -22.2L-138.2 -21L-138.1 -19L-137 -15.7L-136 -15.2L-134 -17.3L-133.4 -20L-134.7 -22ZM-129 -91.1L-129.8 -90L-129.7 -89L-128.6 -87L-123 -84L-122 -83.6L-120.7 -84L-120.4 -86L-122 -87.9L-126.6 -91ZM-117 -69.5L-118 -68.7L-118.7 -67L-117.9 -65L-116 -63.8L-110 -64.5L-107.3 -66L-107.3 -68L-108 -68.5L-115 -69.9ZM-115 -78.1L-116.5 -77L-116.3 -76L-114 -76L-112.8 -77L-112.5 -78L-113 -78.4ZM-109 -86L-110.5 -85L-111.3 -83L-111 -80.4L-110 -80.1L-108 -80.9L-106.9 -83L-107.3 -85ZM-33 -90.3L-34.1 -89L-34.4 -87L-34 -85.3L-33 -84.5L-32 -85.6L-30.5 -90L-31 -90.9ZM-78 -120.4L-79 -120L-80.6 -118L-82.1 -115L-82 -114L-80.9 -113L-77.9 -112L-75 -112L-73 -112.9L-71.2 -116L-71.7 -119L-74 -120.5ZM-53 -123.2L-56 -117.7L-59.8 -114L-59.8 -113L-59 -112.5L-52 -112L-48.2 -113L-43.7 -117L-40.1 -122L-41 -122.9L-42 -123L-47 -120.9L-49 -121.6L-51 -123.3L-52 -123.6ZM32 91.5L31.5 93L31.7 94L32 94.5L33 94.3L34 92L33 91.2ZM62 87.7L62.5 89L64.2 89L64 87.8L63 87.3ZM-129 28.8L-129.3 30L-122.6 39L-121.3 45L-119 47.3L-118.2 47L-116 44.1L-115.7 42L-116.2 40L-118.9 36L-120.1 31L-122 29.3L-125 28.2ZM11.4 -149L13.1 -150L19.6 -150L20.5 -149L20.8 -147L20.2 -139L19 -136.3L17 -134.7L15 -134.4L13.2 -136L12.6 -141L10.2 -147ZM32.4 -150L39.9 -150L41 -149.9L41.9 -149L40 -144.5L39 -143.6L37 -146.5L34 -147.8ZM51.6 -149L52.2 -150L75.4 -150L76.3 -149L81 -146.4L81.9 -145L81.8 -143L80 -139.8L75 -138.7L74.2 -138L72.1 -134L70 -132.5L67 -132.1L64 -134.6L62 -135.2L58.7 -134L54 -130.1L48 -130.2L46 -131.1L45.3 -133L46.2 -135L50 -136.6L51 -137.9L50.7 -146ZM115.7 -150L125.8 -150L122.5 -148L120.6 -146L119.8 -141L119 -140.1L115 -139.2L113.9 -141L116.9 -147ZM133.5 -150L150 -150L150 -146.5L143 -148.3L135 -148.7ZM130.7 -145L132 -145.1L135 -142.1L137 -141.2L140 -140.8L144 -141.3L150 -139.5L150 -132.9L145 -136L143 -136.4L140.3 -135L138.9 -133L138.9 -130L140 -127.5L142 -126.2L146.7 -125L146.9 -124L145 -121.6L142 -119L141 -119.4L139.3 -123L138 -124.1L131 -126.2L127 -126.6L123.8 -129L121 -129.9L119 -129.4L111 -124L109 -123.5L108 -123.9L107 -126L107.1 -129L108 -131.1L110 -133.5L114 -136L118 -135.3L121 -139.7L126 -141ZM-150 -137L-150 -137.6L-148.3 -137L-148.1 -136L-150 -134.5ZM92.8 -133L94 -133.7L95.1 -130L97.7 -125L97.5 -122L96 -120.7L92 -122.8L89.6 -126L89.6 -128L90.3 -130ZM82 -129L85 -129.3L86.7 -127L86.7 -124L84 -121.8L82 -121.8L79.5 -123L77.4 -126L79 -127.8ZM-115 -124L-112 -125L-110.3 -124L-109.7 -123L-110.1 -119L-111.2 -117L-113 -115.4L-114 -115.2L-119.4 -117L-119.5 -118L-118.3 -120ZM119.3 -119L123 -119.4L123.9 -119L124.3 -118L123 -116.7L119 -116.2L117.6 -117L117.7 -118ZM143.3 -118L146 -118L150 -116.5L150 -105L148 -107.9L144 -109.7L142.8 -111L142.1 -116L142.2 -117ZM-150 -116L-147 -114L-144.4 -109L-143.4 -105L-142.8 -97L-143.1 -90L-150 -85.6ZM130.3 -107L133 -107.7L136 -106.7L137.9 -104L137.5 -102L134 -100.1L132 -99.7L129.9 -100L128.7 -102L128.5 -104L129.3 -106ZM-101 -106L-100 -106L-98.7 -104L-99 -102.4L-100 -101.8L-101 -102L-102 -103.4L-101.9 -105ZM150 -102L150 -87.8L149 -87.7L147 -88.7L142.6 -93L141.4 -95L141.4 -96L143 -97.8L147.9 -100ZM134.5 -71L136 -71.1L138 -69.8L142 -64L146.5 -60L150 -51.4L150 -45.9L147.5 -43L146.3 -39L145 -38.1L142.9 -39L139.4 -43L139 -45L139.6 -49L139 -50.7L138 -51.5L134 -51.9L127 -50.1L124 -51L122.4 -53L122.5 -54L125 -58L126.2 -63L131 -66.5ZM-150 29L-148.3 32L-147.5 36L-148.1 37L-150 37.4ZM-146.5 38L-146 37.5L-144.8 38L-144.3 40L-145 40.8L-146 39.9ZM-143.3 54L-142 53.6L-140 54L-139 55L-138.9 56L-141 57.5L-143 57.4L-144 56ZM126.9 58L128 58.2L131.8 61L138 62.7L141 65.1L142 67L141.7 72L142.3 76L145.2 80L145 81.5L144 83.1L143 83.5L142.6 83L141.7 78L133.5 74L127.9 68L125.7 62L126 59.2ZM-144 70L-142 70.2L-141 71.3L-140.6 73L-142 75.1L-144 76.8L-145 75.8L-145.4 73L-145 71ZM103 85L104 84.3L106 84.3L109 85.6L110.3 87L110.2 91L109.2 95L108 97.3L106 99.2L104 98.8L100 94.8L95 93.7L93.5 92L93.7 90L95 87.8L96 87.1L100 86.7ZM-125.3 88L-124 87.1L-123 87.2L-119 89L-117.9 91L-119 94.2L-122 95.6L-125 94.6L-126.4 92ZM-150 95L-150 94.1L-149 94L-146 97.6L-142 99.3L-140 101L-139.2 103L-138.6 109L-139 112.1L-140 112.1L-141 111.2L-143.6 106L-150 98.1ZM-114.6 96L-113 95.8L-111.6 97L-111.4 99L-112 100.1L-114 100.5L-115.8 99L-115.8 97ZM141.7 98L142 97.5L143 97.6L146.4 102L146.8 103L146 104L142 99.2ZM78.4 103L80 103.2L80.5 104L80.4 106L79 107.7L77 108L75.6 107L75.5 106L76.9 104ZM-78.6 110L-77 109.6L-75 110.3L-71.6 120L-71.6 124L-72.8 126L-74 126.6L-77 125.9L-78 125L-78.9 123L-79.5 119L-79.3 111ZM135.6 110L141 110.1L142 111L143 114.3L146.1 117L144.1 124L144.6 126L146.7 130L147 132L146 133.2L144 134.2L142 134L140 132.1L138.5 126L134 120.9L132.3 117L131.7 114L132 112L133 110.8ZM-139.1 115L-138 114.1L-135.8 116L-135 118L-136 120.3L-138 120.6L-139 119.8L-139.6 118ZM95.8 120L97.1 120L97.9 122L97.2 124L96 124.8L94.7 124L93.8 122L94.3 121ZM-118.2 121L-116 120.4L-111 120.3L-106 122.9L-100 124L-92.2 130L-90.9 133L-91.8 139L-91.6 141L-89.9 145L-90.8 147L-93 148.1L-96 147.1L-97.3 145L-96.9 139L-98 136.2L-100 135.1L-104 134.5L-107.4 130L-111 126.9L-118 125.1L-119.2 123ZM66.7 126L68 126.3L68.4 127L68 128.4L67 129L65.4 128L65.4 127ZM79.7 133L81 132.8L82 133.5L82.7 136L82 139.7L80 140.6L78 140.3L76.9 139L78 135.1ZM-77.6 136L-76 135.7L-75.8 137L-77 138L-78 138.1L-78.4 137ZM34.5 136L36 136.2L37 137L38.2 140L37 144.5L35 146.6L34 144.7L32.8 139L33.3 137ZM-40.3 137L-39 137L-37.8 138L-37.5 139L-38 140.4L-40 141.3L-41.9 141L-43.5 140L-43.4 139L-42.5 138ZM96.9 137L99 137.1L100.4 139L100.7 142L99.8 143L96 143.4L94.8 143L94 142L95 139ZM140.4 138L143 137.1L145 138.3L149.2 147L148.9 149L147 149.7L143 149.9L139 149.5L137 148.5L136 146L136.3 144L138.5 140ZM-57.5 145L-54 144.4L-52.6 145L-52.5 146L-54 147.5L-56 147.9L-57.6 147L-58 146ZM69.2 147L71 146.2L72 146.4L72.8 150L65.4 150ZM-115.7 149L-114 148.7L-111.5 150L-116.9 150ZM-8.8 150L-7 149.1L-4.6 150L-5 150Z"/><path id="vc13" d="M55.4 -147L61 -147.5L63.2 -147L64.2 -140L63.8 -139L58 -136.3L56 -136.1L55 -136.8L54.1 -139L53.7 -144L54.3 -146ZM-115.1 -145L-114.8 -144L-115.6 -140L-117 -138L-118.5 -138L-121 -138.9L-125.4 -139L-124.7 -140L-121 -140.1ZM131.5 -137L133 -137.6L135.1 -137L135.4 -136L134 -131.1L133 -131.6L132.1 -133L131.2 -136ZM-11.3 -127L-2 -127.7L1 -127.3L9.7 -122L10.5 -121L10.6 -120L7 -118.8L0 -118.1L-1 -112.9L-6.7 -115L-11 -114.5L-13.4 -113L-18 -108.8L-22 -107L-28 -107.4L-29.7 -108L-33 -111L-35 -110.9L-36.1 -110L-37 -106L-39 -105.3L-44 -105.2L-50 -103.1L-53.4 -101L-56 -97.9L-60 -96.1L-65 -92.4L-70 -91.5L-74 -88.3L-76 -87.7L-77 -88L-74.2 -96L-68 -100.1L-64.1 -106L-61.8 -108L-58 -109.6L-52 -109.8L-47 -111.5L-41.8 -115L-38 -120.2L-36 -121.6L-34 -121.9L-29 -121.4L-26 -121.6L-19 -125ZM-60.8 -125L-59 -125.2L-58 -124.8L-57.5 -123L-58.6 -121L-62 -120.1L-65.5 -121L-64 -123ZM16 -124L19 -124.5L21.2 -124L24 -121.4L30 -119.3L31.2 -118L31.6 -116L30 -115.2L28 -115.3L25.8 -116L22 -118.5L15.9 -120L14.5 -121L14.2 -122ZM56.1 -119L57 -119.8L58 -119.8L67.8 -117L67.5 -115L63.2 -111L62 -109L62.8 -106L62.4 -104L60 -102.5L57 -102.7L54 -104L48.4 -107L46.3 -109L46.2 -110L47.3 -111L53 -113.4L55 -114.9ZM98.7 -114L102 -114.7L102.3 -110L103 -108L105 -104.8L109 -102L109.5 -101L109 -99.6L108 -99.3L106.3 -100L99 -106.8L97.3 -111L97.8 -113ZM-150 -112L-150 -112.9L-148.8 -111L-149 -109.2L-150 -109.4ZM38.8 -111L40 -111.7L41.7 -111L40 -110.4ZM5.1 -110L6 -110.6L7 -110.2L13 -106L17 -101.4L19 -100.1L22 -99.8L33 -100.8L37 -100L46 -94.4L54.6 -91L59.1 -88L64 -83.6L74 -77.9L82 -66.8L89 -49.3L90.7 -42L94.1 -37L98.3 -28L99 -23L96.6 -13L97 -9.4L99 -7.1L103.5 -5L109 -0.9L110 -1L110.3 -2L109.5 -8L112 -14L109 -18L109.2 -26L108.7 -29L98.4 -56L97.7 -59L97.7 -62L99 -63.6L102 -63.7L104 -63L108 -57L111 -53.9L113.2 -46L121 -34.8L123 -32.5L124 -32L127 -33L128 -32.8L128.4 -32L128.3 -31L127.3 -30L125 -29.3L123.6 -26L122.6 -17L123 -14.7L129 -12.2L132 -11.9L133.4 -10L134.5 -5L140 -3.8L141 -2.5L141.1 0L140 1.5L137 2L134.8 0L133.7 -4L130 -5.1L129 -4.4L124.6 3L124 6L124.1 12L127.2 21L128 26L127.6 28L126.3 30L124 31.8L122 32.3L117 32L115 33.2L114.1 36L116 40.8L116.5 44L115.4 47L112 51L106 49.9L100 55.3L98.7 58L98.2 61L101.5 68L98.4 73L96 79L93 81.8L85 81.3L83 82.3L81.9 84L82 86L81 90.2L78 94.2L75 94.6L71.8 93L70.5 92L67.6 86L61 82.5L59 82.3L57.9 84L57.7 89L57 90.6L55 91.5L49 91.4L48.6 92L50 101L47 106.5L45 107.4L40 105.9L37 106.1L36.2 107L36.8 111L36.1 112L29 110.3L23 111.1L18 108.6L12 109L8.3 115L5 119.5L4 120.1L3 119.7L2 118.3L-0.5 111L1 106.5L4 107L7.2 106L7.5 105L7 103L6 101.7L4 101.2L1.4 103L0 105.9L-5 102.3L-7 102.3L-8 103.2L-9.4 106L-9.9 112L-13 114.5L-20 114.6L-26 117L-35 116.7L-37 115.7L-40 110.2L-43.3 106L-52 104.1L-54 104.4L-57 106.2L-59 106.5L-61 105L-65.4 100L-71 96.4L-82 91L-83.9 87L-88 81.7L-90.7 77L-93 75.2L-97 73.6L-98 72L-99 68L-104 61L-110.1 57L-110.8 55L-110.4 51L-113.1 41L-116.2 35L-118 30L-120 27.9L-127 25L-130.8 22L-130.5 17L-131.3 15L-133 12.8L-135 11.5L-137 11.3L-138.3 12L-139.5 14L-139.6 16L-138.8 18L-134.4 22L-135.6 23L-140 23.3L-144 22.6L-147 21L-148.7 19L-150 16.2L-150 -0.6L-148 -0.6L-146.7 0L-143.5 5L-142.1 6L-140 5.9L-138.6 5L-137.9 4L-137.4 -1L-135.5 -5L-134.2 -11L-130.8 -18L-129.9 -22L-130.4 -24L-132 -25.3L-140 -24.6L-141 -23.9L-141.6 -22L-141 -16L-142 -14.2L-144 -13.2L-147 -14.1L-150 -17.4L-150 -60.2L-143.3 -62L-139 -72.6L-137 -75.2L-134 -76.7L-129 -76.9L-128 -76.3L-124.6 -71L-124.5 -66L-120 -63L-116.1 -59L-117.2 -56L-118.2 -55L-121 -53.8L-122.6 -52L-122.9 -49L-122.2 -47L-121 -45.8L-118 -45.5L-116.9 -46L-114.3 -59L-112.5 -61L-110 -62L-108 -61.2L-104 -57.3L-99 -58.3L-98 -58L-96.9 -56L-97.1 -53L-100.5 -48L-102 -44.1L-106 -43L-106.9 -42L-106.7 -41L-106 -40.5L-105 -40.4L-103.6 -41L-102 -43.9L-97 -43.7L-90 -46L-87 -46.1L-81 -44.7L-74 -45.9L-71 -45.5L-70 -46.1L-68.5 -50L-65.4 -54L-64.9 -57L-64 -58.7L-62 -59.6L-59 -59L-57 -60L-56.3 -62L-56.7 -67L-52.6 -76L-49 -82.3L-43.9 -86L-40 -91.8L-37.7 -92L-37.5 -84L-36 -80.2L-34 -79.1L-31 -79.5L-28.9 -81L-28.4 -87L-25.8 -94L-24.3 -96L-22 -97.4L-16 -98.8L-11 -101L-9 -100.9L-5 -99.3L-1 -99.7L0 -102.7L5.1 -107ZM31 87.6L29.2 89L27.9 91L28.4 97L28 99.7L27 100.8L22 101L19.4 102L18.6 104L19 105.5L20 106.5L26 104.8L34 104.6L35 103L35.2 97L38 92.6L40 91.6L48.5 91L47.5 88L46 87.1L39 88.9L33 87.4ZM65 71L63.9 73L64 73.6L65 74L65.9 73ZM99 -0.4L97.7 2L97.3 8L98 10.9L99 11.7L100 11.8L104.1 9L105.2 7L105.3 5L104.6 3L102 0.2L101 -0.5ZM115 10L114.2 11L115 11.8L115.6 11ZM-148 -53.1L-147 -50.2L-145 -47.1L-141 -48.5L-139.7 -50L-140 -52L-141 -52.5ZM-138 -45.1L-140 -44.4L-141.1 -43L-140.7 -41L-138.7 -39L-135 -36.8L-133 -36L-131 -36.4L-130.6 -37L-130.9 -38L-134 -42.8L-136 -44.5ZM-133 -65L-135.5 -64L-137.1 -62L-137.2 -60L-135 -58L-133 -57.9L-131 -58.7L-129.1 -62L-129.2 -64L-130 -64.8ZM-122 -30.1L-123.1 -29L-123.1 -26L-122 -24.4L-121 -24.2L-120.3 -26L-120.4 -28L-121 -29.5ZM5 89L4 90.4L4 92L5 93L7 92.8L8.4 91L8.1 89L7 88.5ZM103 34.7L102.3 36L102.5 38L104 39.5L105 39.4L106.8 37L106.6 35L105 34ZM-146 -45.1L-149.3 -43L-150 -42L-149.8 -41L-148 -40.8L-146 -42L-144.9 -44ZM69.6 -108L73 -109L75 -108.1L75.8 -107L75.7 -104L73.8 -101L73.6 -98L73 -97L72 -97L70.8 -98L68.4 -103L68.3 -106ZM-150 -98L-150 -99L-148 -98.8L-146.9 -98L-146.3 -96L-147.5 -92L-150 -89.8ZM147.9 -97L150 -97.5L150 -91.3L147 -91.9L145.1 -94L145 -95L145.7 -96ZM-117.6 -93L-115 -93L-112.7 -92L-111.8 -91L-112.2 -89L-114 -87L-115 -86.6L-116 -86.9L-119.3 -91L-119.3 -92ZM-98.4 -91L-96 -91.2L-95.6 -90L-100 -86.4L-102.3 -86L-103.2 -87L-102.9 -89ZM108.6 -91L111 -91.9L115 -90.3L119 -91.1L121.9 -91L123.6 -90L124.4 -88L123.9 -87L118 -82.9L116 -82.3L114.8 -83L113 -86L108.5 -89L108.1 -90ZM-138 -88L-136 -88.8L-134.4 -88L-133.5 -86L-134.1 -83L-135 -81.6L-137 -80.2L-140 -79.6L-142 -79.8L-142.5 -81ZM96 -85L98 -85.8L98.8 -85L98 -82.8L96 -81L100 -72L99.6 -70L97 -68.1L95 -68.6L93 -71L91.8 -80L93 -82L95 -82.6ZM109.3 -70L111.5 -70L113.1 -69L113.4 -67L112 -64.9L110 -64.6L107.7 -66L107.2 -68L108 -69.4ZM130 -61L132 -61.4L137 -61L138.1 -59L137.6 -57L136.6 -56L135 -55.5L131.2 -56L129.8 -59ZM142.4 -12L143 -12.6L143.5 -12L143.7 -11L143 -10ZM104.8 90L106 89.6L107 89.9L107.5 91L107.2 93L106 94.4L105 94.4L103.9 93L104 91ZM61.2 94L63 93.2L65.5 94L65.8 95L65 97.1L64 98L62 97.8L60.7 96ZM141.8 143L143 142.3L144 142.9L144 144.7L143 145.1L142 144.6Z"/><path id="vc14" d="M-13.3 -125L-8 -125.8L-4 -125.3L-1 -124.6L0 -123.5L4.1 -121L0 -120.5L-1 -115.8L-9 -116.8L-11.6 -116L-17 -113.1L-19 -112.6L-19.8 -113L-21 -117.1L-22 -118.4L-24 -119L-23 -119.1L-18 -123.8ZM-36 -118L-34 -118.9L-27.4 -118L-31.8 -115L-38 -113.7L-38.5 -114ZM50.9 -110L53 -110.6L55.3 -110L57.7 -108L58.2 -106L56 -105.6L52.2 -107L50.9 -108L50.5 -109ZM-48.3 -109L-46 -109.9L-45.6 -109L-47.7 -107L-59 -101L-65 -95.3L-68 -94.4L-69 -94.4L-69.5 -95L-68 -97L-60 -102.6L-57.3 -106ZM6.5 -105L9 -105.3L11 -104.5L15 -99.2L18 -97.7L21 -97.4L29 -98.5L33.7 -98L35.1 -97L37 -93.4L43 -92.5L54 -88.8L58 -86.1L61.4 -81L66 -77.5L68 -76.5L70 -76.9L71 -77.7L72 -77.6L75.1 -75L80 -67L80.9 -64L84 -57.6L84.8 -55L85.1 -51L88 -46.8L89.2 -41L94 -35L97.5 -28L98.2 -25L97.9 -22L94.7 -11L95.9 -4L95.1 0L95.1 10L96.3 17L95 18.9L92.1 21L91.4 23L93 28.3L97 33L97 35L95.9 38L91.6 45L86.1 50L85 52L85.2 53L86 53.6L88 53.9L95 51.6L95.6 51L96.4 46L98 43.7L100 43.8L101.7 45L102.4 46L102.6 48L101 50.4L96.6 53L94.6 62L95.4 67L93.1 71L94 76L93 77.7L91.6 77L90 73.2L89 72.5L86 72.4L80 73.8L76 71.5L71 71.7L70 71.4L68.5 69L67 63.3L65.7 62L64 61.9L63.3 63L62.4 69L60 74.4L58 76.9L55 78.3L51 78.3L43.6 84L40 85.8L37 85.9L33 83.7L31 83.8L24.4 91L23.9 93L24.4 96L23.7 97L18 98.6L14 102.3L13 102.7L11 102L7.8 98L8.1 96L11.4 92L11.4 89L10 86.8L8 86L6 86.1L4 86.8L1.2 89L-1.8 93L-7 93L-10 95.2L-12 98.5L-13.4 108L-14 110L-15 111.3L-21 111.5L-26 113.1L-29 112.6L-34 113.2L-35.5 112L-37 109.6L-38.8 105L-42 102.1L-47 102.2L-52 101L-54 101.5L-57 103.1L-59 103.1L-69 93.8L-72.9 92L-73.7 89L-75 87.3L-85 82.2L-87 80.3L-90.8 75L-95.3 72L-96.5 67L-101 63L-105.4 56L-106.3 53L-109.4 47L-111.4 39L-116.6 29L-119 26L-123.7 24L-125.2 22L-125.5 17L-122.2 10L-123.1 7L-122.9 5L-119.3 -2L-119.3 -4L-121 -5.8L-131 -6.2L-132 -7.3L-132.2 -10L-129 -16.4L-126 -19.2L-124 -18.6L-120 -13.5L-118 -13.4L-117 -14L-116 -15.8L-117.9 -23L-116.4 -33L-117.1 -34L-120 -35.2L-122.3 -37L-123.6 -40L-123.7 -41L-123 -41.5L-121 -42.2L-119 -41.6L-114 -36.1L-112 -35.6L-103 -37.4L-93 -43.4L-89 -44.8L-86 -44.7L-80 -43L-76 -43L-70.6 -40L-67 -39.9L-66.2 -42L-65.6 -48L-64 -49.5L-58 -52.3L-54.3 -58L-53.5 -61L-54.3 -66L-54.1 -68L-51.3 -75L-46.8 -81L-44 -82.6L-41 -82.4L-39.6 -81L-37 -75.5L-36 -75L-28.2 -78L-26.4 -80L-26.3 -86L-25.8 -88L-22 -94L-20 -95.1L-14 -95.9L-10.5 -98L-6 -96.8L-1 -98.1L0 -99.8ZM94.7 -74L96 -74.4L97 -73.2L97.1 -72L96.3 -71L95 -71.3L94.6 -72ZM-134.6 -72L-132 -71.8L-131.1 -71L-131.2 -70L-134 -68.4L-136 -68.5L-136.4 -70ZM98.8 -61L101 -61.6L104 -59.9L109.8 -52L112.7 -44L118 -37L121.8 -31L122.2 -29L120.6 -19L120 -16.5L119 -16L116 -15.7L111.6 -18L110.1 -20L109.7 -29L103 -45.7L101.1 -52L99 -56.4L98.5 -59ZM-133.2 -52L-131 -52.6L-129 -51.3L-126.6 -45L-126.6 -43L-129.2 -43L-133 -47.2L-134.1 -50ZM-110.1 -51L-108 -51.5L-106.4 -50L-106.5 -48L-109 -46.2L-111 -46.5L-112 -48L-111.2 -50ZM-146.4 -38L-143 -38.8L-137.9 -36L-133.8 -32L-133.3 -30L-133.9 -29L-136 -27.8L-142 -27.6L-147 -23.1L-150 -23.4L-150 -29.4L-148.7 -32L-148.1 -36ZM114.7 -12L117 -12.5L123 -8.8L125.3 -8L124 -5.8L122 -0.1L118 2.9L117 3L115.5 2L111.6 -7L112.3 -10ZM-132.3 6L-131 5.5L-129 7.1L-128.2 9L-129 11.2L-131 10.9L-132.8 9L-133 7ZM105.8 13L109 12.5L116 16.8L118 16.4L122 13.1L125.4 22L125.8 26L125 28.3L123 29.6L121 29.5L119 28.6L117 26.7L116 26.5L115 27.1L112 31L110 32L103 29.4L102.4 28L104.4 24L104.7 22L103.3 16L104.5 14ZM-145.2 14L-144 13.7L-143 15L-142.7 18L-143.8 19L-145 18.7L-146.3 17L-146.1 15ZM109.7 40L111 39L112 39.3L114 41.9L114.3 44L113 46.1L111 46.5L109.3 45L108.9 42ZM65.2 80L66 79.2L66.9 80L66 80.6ZM39.4 95L43 94.5L45.5 96L47 101L45.8 103L44 103.7L42 103.5L40 102.7L38.3 101L37.5 98L38.3 96Z"/><path id="vc15" d="M-9.5 -124L-6 -123.6L-1 -122L-1 -119.4L-10 -118.3L-15 -116.3L-17 -116.5L-18 -117.5L-19.4 -120L-17.8 -122L-15 -123.3ZM6 -102L8 -102.9L9.8 -102L11.9 -97L14 -95.6L26 -94.6L26.6 -94L25.4 -91L25.6 -90L27 -88.8L34 -87.9L39 -89.5L42 -89.6L48 -86.5L54 -84.3L57.5 -79L64 -72.8L67 -68.6L68 -68L72 -68.4L74 -68L81.3 -58L81.8 -55L80.2 -51L81.7 -49L86 -45.6L87.6 -40L93 -34.1L96.5 -28L97.2 -25L97 -22.9L92.6 -10L92.7 0L93.5 5L93.1 15L92 16.7L88.4 20L87.2 23L87.8 25L92.4 33L92.7 36L87.9 45L79.4 53L80.4 55L83 56.7L91 57.2L91.5 58L91.2 60L89.7 63L86 67.1L84 68.6L82 69L77 66.5L72 66.7L67 59.4L65 58L63 57.6L62 58.3L60.8 61L60.5 68L58 71.8L57 72.2L56 71.7L54 69.8L51.5 70L50 71.4L47 76.4L41 81.8L39 82.8L37 82.3L33 79.6L29 80L27.6 81L25.2 86L21 89.8L19 90.8L17 90.8L15.1 89L14.9 78L12.5 74L11 73.2L10 73.5L9.3 75L9.5 76L12.7 80L13 82L10 83.2L2 83.5L0 84.5L-2 86.4L-11.4 90L-15.5 97L-15.6 104L-16.5 106L-18 107.1L-25 105.9L-26.6 105L-26.8 104L-25.4 100L-25 94L-19.4 90L-19.4 88L-21 87.1L-23.6 88L-27 92L-31 92.4L-31.4 93L-30.6 98L-30.8 102L-32 104L-33 104.4L-35 104.3L-37 103.3L-43.3 97L-41.2 92L-41 91L-42 89.7L-45 90.7L-46.6 93L-46.8 94L-45.2 97L-45.9 98L-48 98.2L-51 96.6L-56 99L-58 99.1L-74.7 84L-78 80.4L-80 79.7L-85 79.5L-92.1 72L-93 70.7L-93.4 67L-93.9 66L-98.7 63L-100.4 61L-101.1 59L-101.3 54L-102.6 52L-107 47.6L-107.9 45L-108.4 40L-117 25.1L-118.8 23L-122 21.4L-122.8 20L-122.8 18L-122 16.4L-118 13.8L-117 12L-118.6 5L-118.4 3L-116.1 -2L-117.5 -9L-114.3 -14L-113.8 -16L-115.9 -22L-115.9 -26L-114 -29L-107 -33.2L-102 -35.1L-92 -42.3L-89 -43.6L-87 -43.6L-84 -42.9L-79.9 -41L-75 -37.9L-64 -35.7L-63.3 -37L-63.9 -43L-63.4 -46L-61.4 -48L-57 -49.4L-55 -51.4L-51.8 -59L-51.3 -67L-49.3 -70L-48.7 -74L-46 -78L-44.8 -79L-43 -79.5L-41.2 -78L-40.7 -76L-42 -73.1L-45.6 -70L-42 -68.8L-37 -69.4L-35 -70.8L-32 -74.2L-27 -76L-25 -77.3L-24 -79L-23.6 -84L-23 -85.5L-22 -85.7L-17 -82.8L-15 -83.1L-9.2 -88L-6.8 -93L-1 -96.3ZM10 -74.1L9.4 -73L10 -72.2L11.3 -72L11.7 -73L11 -73.9ZM72 50.8L72.2 52L73 52.4L75.3 52L74 50.6ZM-37 -18.3L-37.7 -16L-37.3 -14L-36 -12.8L-34 -13L-32.2 -15L-32.4 -17L-35 -18.5ZM2 76.9L-0.2 79L-0.6 81L0 82.7L1 82.5L3.1 79L3 77ZM99.5 -59L100 -59.7L101 -59.7L103 -58.4L108.1 -51L111.4 -43L117 -36.2L119.5 -32L120.1 -28L119.1 -20L118 -19L116 -18.5L114 -18.9L112.1 -20L111.5 -21L110.5 -30L104 -45.7L102.1 -52L100 -56.1ZM-144.7 -35L-143 -35.9L-141 -35.4L-139.2 -34L-138.2 -32L-139 -31L-140 -30.9L-144 -31.5L-145 -33ZM-126.7 -14L-125 -14.3L-124 -13.6L-123 -12L-123.4 -10L-126 -9.4L-127.9 -10L-128 -12ZM114.3 -9L116 -9.5L118 -8L118.5 -6L117.4 -4L116 -3.9L114 -5.9L113.7 -8ZM108 18L109 17.3L110 17.4L111 18L112.2 20L111.2 26L110 27.4L109 27.6L107.8 27L107.5 26ZM120.9 19L122 19.8L123 23L123 25L122 26L120 25.5L119.1 23L119.2 21Z"/><path id="vc16" d="M-12.7 -122L-9.8 -122L-8.5 -121L-14 -118.9L-15.4 -119L-16.5 -120L-16 -121.2ZM4.9 -97L6 -97L7 -96.2L9.5 -93L15.7 -91L18.2 -87L21 -85L24 -84.4L30 -84.8L33 -84.4L40 -86.8L43 -86L47.3 -83L49.2 -81L50.7 -77L52 -75.5L62.6 -70L63.6 -68L64.4 -63L67 -63L71 -64.1L73 -63L77.1 -57L75.1 -54L75.1 -52L76 -50L84 -44.1L85.8 -38L95 -27.9L95.7 -26L95.6 -24L90.5 -11L89.5 -3L91.3 4L91 13.4L90 15.4L84.4 20L83.3 22L83.8 25L86.7 31L87.5 37L86.5 41L84.9 44L80 47.4L77 47.6L71 46.6L67 47.5L63 47.3L62 47.8L59.8 54L58 65.4L57 66.3L53 66.3L50 67.5L45 73.8L43 75.1L40 75.9L38.8 75L42.5 68L43 65L42 63.2L40 63.3L30 67.2L28 67.3L24 66.3L22.8 67L21.9 73L20 75.2L18 75.1L12 69.4L10 69.1L6 72.3L0 74.3L-6 80.3L-8 80.6L-10 78.9L-12 78.7L-14.2 80L-15 81.8L-16 82.3L-17 81.3L-17.1 78L-18.6 76L-20 75.4L-23 75.7L-29 78.2L-32.2 79L-36 81.2L-48 86L-51.5 91L-55 93.9L-57 94.6L-66 88.9L-73 83L-75.6 79L-77 78L-80 77.3L-84 77.2L-86.9 75L-89.4 71L-89.9 68L-91 66L-98 61L-98.7 59L-98.2 55L-98.8 52L-100.2 50L-104 47.3L-104.9 46L-105.1 40L-114.3 27L-115.4 24L-115.3 21L-111.9 16L-112.2 14L-115.5 8L-116.2 5L-115.8 3L-113.7 -1L-114.7 -9L-112.5 -13L-111.7 -16L-112 -18L-114 -22.4L-114 -25L-112 -27.1L-100 -32.3L-94 -37.6L-91.2 -41L-88 -42.4L-86 -42.3L-83 -40.9L-77 -34.2L-75 -33.8L-70 -34.9L-64 -32.5L-62 -32.2L-61 -32.9L-60.7 -35L-62.1 -42L-62 -44L-61 -45.6L-60 -46.1L-58 -46.4L-54 -45.6L-53.6 -46L-50.1 -58L-49.3 -63L-48 -64.9L-45 -65.5L-39 -65.2L-34 -66.3L-32.7 -67L-29.9 -72L-22 -74.9L-21 -74.7L-17 -70.3L-15 -70.7L-13.2 -73L-12.8 -80L-11 -82.4L-8 -84.2L-6 -84.3L-1 -82.4L5 -82.3L6 -82.8L6.3 -86L5 -89.1L3 -89.9L-2 -90.1L-3 -91L-2.1 -93L0.6 -95ZM8 -79.2L7 -78.9L5.6 -76L5.4 -73L6 -71L7 -69.8L9 -68.8L12 -68.4L14.4 -69L15.3 -70L15.6 -72L14.8 -75L12 -77.4ZM32 0L30.2 1L29.7 2L30 4L31 5.5L34 6.6L37 5.5L38.6 3L38.7 0L37 -0.8ZM42 20.8L40.3 22L39.5 24L40 25.3L42 26.1L44 25.5L45.5 23L45.2 22L44.1 21ZM54 -32.4L52.5 -31L52.4 -29L53 -28L56 -26.7L57.8 -27L59 -27.9L59.4 -29L58.6 -31L56 -32.4ZM68 26.8L66.1 28L66.4 29L69 31.2L72 31.3L74.9 30L74.7 29L71 27.1ZM71 -43.2L69 -42L69 -39.9L71 -37.7L73 -37.2L74 -37.5L75.2 -39L75 -41L73.1 -43ZM-75 -27.5L-75.1 -25L-74 -21L-73 -20L-71.8 -20L-70.5 -21L-70.2 -22L-71 -24.6L-73 -27.5L-74 -28ZM-52 -44.4L-52.9 -44L-52.1 -42L-50 -40L-49 -40L-48.6 -41L-49 -42.3ZM-39 -61.1L-40 -60.4L-41.3 -58L-41.9 -52L-41 -48.9L-40 -47.9L-38 -47.5L-33.7 -50L-32.8 -51L-32.3 -53L-34 -61ZM-17 -59.3L-18.7 -57L-18.6 -51L-19.2 -49L-20 -48L-24 -48.1L-26 -47.7L-26.7 -46L-26 -43.6L-25 -42.3L-24 -42L-23 -42.5L-20 -46.7L-19 -47.1L-17 -46L-13 -39.7L-10 -38.9L-3.2 -39L-2.8 -40L-3.2 -41L-7.9 -45L-9 -46.8L-9.2 -52L-11 -57.1L-12 -58.4L-14 -59.5ZM3 -58.6L1.8 -57L1.7 -55L3 -54L4 -54.1L5.2 -55L5.4 -57L4 -58.6ZM-37 -35.3L-41 -34L-42.2 -33L-44.8 -24L-44.7 -22L-41 -18.3L-39.6 -12L-38 -10.4L-35 -10L-25.8 -12L-23.5 -14L-25 -26L-26 -26.6L-27 -26.5L-29.7 -23L-31.2 -22L-33 -21.6L-35 -22.2L-36 -23.2L-36.7 -25L-36 -30L-35 -31L-30 -30.6L-29 -30.9L-28.6 -32L-29.9 -34L-31.8 -35L-35 -35.8ZM-6 -25.2L-8 -24.2L-10.5 -21L-11 -19L-10 -18L-4 -18.6L0 -16.4L2.8 -17L3.1 -18L2.6 -19L-1 -21.7L-3 -24.3L-4 -25ZM103.9 -51L104 -51.7L106 -50.3L109.8 -42L116 -35.1L117.7 -32L118.3 -29L118 -23.9L116 -21.3L114 -21.4L113 -22.7L112.4 -28L109.2 -39L107.6 -43L105 -47.1ZM69.9 57L72 56.3L74.4 57L76.5 59L76.8 61L74 62.5L72.1 62L70 59ZM-28.5 82L-27 81.5L-25.9 82L-25.3 83L-25.6 84L-27 85.2L-28 85.3L-29 84.6L-29.2 83ZM-38.2 96L-37 95.2L-35 96L-33.9 99L-35 100.6L-37 100.2L-38 99L-38.5 97Z"/><path id="vc17" d="M11.6 -85L12 -85.6L13 -85L14 -83L13.7 -82L13 -81.9L12 -83ZM39.2 -83L40 -83.5L42 -83.2L44 -82L45.5 -80L44.4 -76L43 -74.4L41 -73.4L38 -74.4L36.9 -76L37.1 -78ZM-8.6 -79L-7.3 -79L-7.3 -78L-8 -77.3L-9 -78ZM41 -70L43 -69.9L44.8 -68L41.6 -56L41.5 -54L42.2 -52L44 -51.3L45.4 -52L47 -56L50.7 -61L51.3 -63L49.8 -68L50.6 -69L53 -69.3L57.7 -67L58.3 -66L57.4 -61L58.1 -59L60 -56.6L62 -56.4L67 -58.1L69 -58.1L71 -56.3L72 -54.3L73 -49L72.7 -47L68 -44.8L66.5 -43L66.5 -40L68 -37.4L71 -34.6L74 -33.1L79 -36.5L81 -36L83 -33L83 -31L81.9 -27L82.9 -25L85 -24.1L90 -24.1L91 -23.7L92 -22.4L92.2 -20L91.3 -17L87.7 -12L86 -7.9L84 -6.4L80 -5.3L78.7 -4L79 -2L86 0.5L88 2.9L88.2 5L86.9 8L88.2 12L87.8 14L85.7 16L78.5 20L77.4 23L76.2 24L74.8 24L71 22.2L59 25.5L58 26.7L56.8 30L53.7 34L54 35.1L56 35.7L58.7 35L62 33.2L64 33.3L68 37.1L69 37.5L74 34.7L78 34.4L79.3 35L80.4 37L80.2 39L78.4 43L77 44.2L75 44.6L68 42.9L61 43.6L57.6 45L55 48.5L44 48.8L38 50.3L36 51.5L34.9 53L35.5 55L38 58L38.2 60L36 62.2L31 64.2L28 64.1L24 62.6L19 62.5L16 58.8L15 58.1L14 58.3L5 69.2L3 69.7L1.3 69L0.6 66L0 65.7L-1.7 71L-4 73L-8 72.2L-12 73.9L-14 74.2L-19 72.2L-25 72.7L-28 72.2L-28.9 71L-28.8 67L-29.5 66L-35 61.6L-38 61.5L-39.9 64L-43.1 73L-42.9 78L-49 81.9L-51.1 84L-53.2 88L-56 89.9L-61 89L-65 87.1L-71.2 82L-72.9 78L-74 76.7L-82 74.6L-84 73.5L-87.2 67L-96 60L-96.4 58L-95.9 48L-96.9 45L-100.5 40L-106.2 35L-112 27.9L-113.4 25L-113 22.2L-109.8 18L-109.3 16L-112.8 6L-112 4.6L-109 3.8L-107.7 3L-107.3 2L-110.2 -1L-112.1 -7L-109.6 -13L-109 -16L-109 -18L-110.5 -22L-110 -23.7L-103 -27.2L-94 -30L-92.5 -32L-91.7 -36L-90.4 -39L-89 -40.4L-87 -40.9L-84.6 -40L-82.9 -37L-83.4 -34L-85.4 -30L-84.5 -29L-82 -28.8L-80 -27.9L-78 -24.8L-76.4 -19L-74 -16.6L-72 -16.6L-70 -17.5L-64 -21.8L-62 -21.6L-58.7 -19L-58.5 -17L-59.9 -14L-60.1 -12L-59.1 -11L-58 -10.9L-55.8 -12L-50 -17L-47 -18.3L-45 -18.2L-43.1 -16L-43 -10L-40.5 -8L-37 -7.2L-30 -8.7L-21 -7.9L-1 -0.7L-0.2 -1L-1.9 -5L-1.8 -10L-0.4 -12L3 -12.7L4.7 -12L5.2 -8L7 -4.6L9 -3.5L10 -3.6L12.5 -6L13 -8L12 -10.2L7.9 -14L4.4 -26L5 -27.6L8.8 -30L9.7 -32L9.3 -34L5.2 -39L4.6 -41L6.3 -48L8.9 -53L9.4 -55L9.1 -58L7.4 -62L7.2 -64L8 -65.3L10 -65.9L14.1 -65L19.8 -56L19.8 -53L18.6 -49L14.1 -41L13.7 -39L14.2 -37L17.3 -33L19 -28.7L20 -27.9L21 -29.3L23.1 -37L24.3 -57L26 -64.1L27 -65.1L28 -65.2L31 -64.1L33 -64.2ZM48 -2.2L47.5 -2L47.6 0L49 4.2L50 2.8L50.1 0ZM52 -35.8L50.3 -34L49.2 -31L49.2 -29L50.3 -27L52 -25.6L55 -24.6L59 -24.4L61.1 -25L62.8 -28L62.3 -31L60 -33L57 -34.5L54 -35.8ZM58 -51.1L56.5 -50L56.1 -49L57 -47.8L58.9 -48L60.2 -49L60 -50.7ZM74 -30.7L72.2 -28L71.6 -25L72 -23.8L74 -23L77 -24.5L78 -26L78 -27L76 -29.8ZM-34 41.8L-35.3 44L-35 45.4L-34 46.8L-32 47.4L-29 46L-28.8 44L-30 42.4L-32 41.5ZM-27 10.9L-33 12L-33.8 14L-33.3 16L-31.2 19L-28 21.9L-23 25.1L-21 25L-20.7 23L-22.1 19L-20.8 12L-22 10.7L-24 10ZM-8 20.7L-11.6 23L-12.3 26L-11.5 29L-10.2 31L-9 31.8L-7 32L-2 30L-0.9 28L-0.8 24L-1.7 22L-3 21.1L-6 20.4ZM3 4.7L2.9 6L4 7.3L6 8L7.2 7L7.4 6L6.8 5L4 4.1ZM11 0.7L10 1.5L9.5 3L10 4.4L13 5.1L16 4.7L16.5 4L16 2.9L13 1.1ZM20 27.6L13.3 31L10.1 35L10.5 37L13 40L15 40L16.9 39L19.7 36L20.3 33L22.6 30L22.6 29L22 27.7ZM39 -4.3L35 -2.9L29 -2.3L27 -1.1L26.3 0L26.2 2L26.9 4L29 7.2L31 9.1L33 9.6L37 9.3L39 8.7L39.5 8L44 -3L42 -4.3ZM75 0.6L73 2.5L71.8 5L71.4 7L72 9.3L73 10.3L75 10.6L79 10.1L81.6 9L82.3 8L82.1 7L79 1.6L78 0.4L77 0.1ZM5 34.1L4 35L4.4 36L6 36.5L7.5 36L7.7 35ZM27 31.9L26.2 33L26.2 34L27 34.9L28 34.9L29.1 34L29.3 32ZM41 14.9L40 15.6L36.1 25L36 26.5L37 27.5L42.6 30L45 34.6L46 35.8L47 36L48.7 34L47.7 30L47.8 28L49.2 26L53.2 23L52.9 22L50.6 20ZM-25.7 -69L-24 -69.9L-22.7 -69L-20.7 -62L-21.7 -58L-21.8 -53L-23 -51.5L-25 -51L-27.9 -52L-28.8 -55L-26.2 -60L-25.3 -63L-25.3 -65L-26.1 -68ZM-13.8 -67L-12 -67.7L-10 -67.7L-2 -65L-0.7 -63L-0.4 -61L-1.2 -58L-2.6 -56L-5 -54.9L-7 -55.6L-10.4 -60L-15 -63L-15.7 -64L-15.7 -65ZM-46.2 -61L-45.5 -61L-45 -60L-45.9 -57L-45.9 -52L-47 -48.6L-48 -48.1L-48.5 -50L-46.6 -57ZM-34.2 -46L-32 -47L-30 -45.9L-28.3 -41L-29 -38.8L-31.6 -39L-34.1 -41L-35.2 -44ZM-45.2 -45L-44 -45.1L-42.6 -44L-42.1 -43L-43 -41.3L-44 -41.5L-45 -43ZM77.8 -44L79 -44.4L80 -43.7L81 -42L81 -40.9L80 -40.6L79 -41.3ZM-59.1 -42L-58 -42.5L-57 -42.1L-50.1 -36L-49.3 -34L-49.1 -31L-47.6 -29L-48 -26.8L-50 -26.9L-50.8 -29L-51.8 -30L-54 -30.5L-57 -32.6L-58.6 -36ZM-20.7 -40L-19 -40.7L-18 -40.4L-12.3 -34L-12.4 -33L-14.4 -31L-17 -30.3L-20 -30.7L-22 -31.7L-23.2 -33L-24 -35L-24 -37ZM112.8 -35L115 -33L116 -30L116 -27.8L115 -28.6L113.3 -32ZM-10 -34L-8 -34.4L-6.6 -34L-5.2 -32L-5.6 -31L-7 -30.6L-8.2 -31L-10.2 -33ZM-70.4 -32L-67.8 -32L-64 -29L-62.9 -26L-64 -23.7L-67 -24.4L-68.5 -26L-70.8 -30L-70.9 -31ZM-17.2 -23L-15 -23.1L-14.7 -22L-16 -19.1L-17 -18.6L-18 -19L-18.7 -21ZM-12.2 -14L-10 -14.3L-7 -13.7L-6.2 -13L-6.1 -12L-7 -10.2L-9 -9.3L-11 -10.3L-12.9 -13ZM54.7 53L55 52.4L55.7 54L54.8 60L54 61.4L53.5 61L53.9 55Z"/><path id="vc18" d="M-7.5 -63L-6 -63L-3.9 -62L-3.5 -61L-4 -59L-5 -58.6L-6 -58.9L-7 -59.9L-8 -62ZM32.8 -60L35.7 -60L36.7 -59L36.2 -54L35.6 -53L33.7 -52L29 -51.3L28 -52.3L27.5 -54L27.9 -58L30 -59.7ZM13 -58L14 -58.2L15.4 -56L15 -49L13 -45.4L11 -44L10 -44.1L9.4 -47L12.6 -53ZM52.7 -57L54 -57.4L54.5 -57L54.9 -56L54.3 -55L52.6 -55L52.3 -56ZM66 -54L68 -54.2L69.4 -53L70 -50L69 -48.6L67 -48.6L66 -49.6L65.1 -52ZM60.8 -43L62 -43.1L63 -42.1L65.6 -36L65.7 -34L64 -34L61 -35.1L57.1 -38L57.4 -40ZM32.6 -41L35 -40.9L38 -38.7L39 -38.9L42 -41.3L45 -41.8L46.5 -41L47.7 -39L48 -37L47.2 -34L43.7 -26L40.8 -22L40.8 -20L41.5 -19L44 -19L47.1 -22L49 -23L64 -20.7L66 -19.7L66.9 -18L66.9 -17L64.1 -13L64.2 -11L65 -10.5L68 -11.7L71 -11.9L73.6 -11L73.8 -9L72.9 -7L68.6 -4L68 -3L68.1 1L67 2.9L66 3L65.1 1L64.9 -4L64 -5.3L63 -5.7L57 -4.3L54 -4.4L50 -7L46 -11.7L42 -12.2L39 -14.9L33 -15L27 -18.5L24.7 -18L23.7 -17L22.9 -15L23.1 -12L25.5 -7L25 -5L21 -1.8L19.2 -2L18.8 -3L19.3 -6L18.9 -8L17.5 -10L12 -15.1L10.4 -19L10.6 -22L12 -23.5L17 -21.6L22 -24.1L23.9 -27L25 -33.1L27 -38.1L29.3 -40ZM-93 -27L-91 -27.6L-86 -24.2L-81 -22.7L-78.6 -17L-73 -11.8L-72 -11.4L-71 -12L-69.8 -14L-68 -15.4L-66 -15.7L-65 -15.1L-64.2 -11L-62 -8.1L-59 -6.3L-56 -6.6L-55.2 -6L-55.2 -4L-54 -1.5L-49 0.5L-44 6.4L-40.5 9L-40 10L-43 12.8L-44.6 18L-46 18.6L-50 17.7L-51.1 19L-50.9 21L-46.5 30L-45.6 36L-44.8 37L-43 37.9L-39 37.3L-34 33.5L-31 32.3L-28 32.2L-22 33.6L-17 31.5L-16 31.6L-10.5 38L-9.2 44L-7 47.4L-5 48.2L-1 48.3L5 51.6L10 53L10.9 55L9.7 58L8 59.2L4 59.3L2 59.9L-6 63.7L-8.2 63L-9.4 59L-10 58.3L-20 54.5L-21 54.6L-22 55.8L-23.2 60L-26 61.8L-28 61.8L-29.6 61L-33 57.2L-38 58.6L-41.1 61L-44 68.9L-48.8 77L-53 81.3L-55 81.9L-58 81.5L-58.7 82L-58.3 84L-60 85L-62 85.2L-64 84.7L-67.3 82L-68.6 80L-68.9 76L-70 74.8L-72 74.2L-77 74L-80 72.7L-84.2 67L-93.6 60L-94.2 57L-92.3 49L-92.7 46L-99 37.1L-109.5 28L-111.4 25L-111 23L-107.2 18L-107.3 15L-109 10L-108.7 8L-104.8 4L-103.4 1L-103.8 -1L-107.4 -5L-106.5 -11L-105 -14.5L-104 -15.1L-101 -15.3L-99.8 -16L-99.4 -17L-100 -18.3L-104 -19.8L-104.3 -22L-102.2 -24L-100.1 -25ZM-34 38.8L-36 39.5L-37 40.5L-38.4 43L-38.7 45L-37 48.3L-33 52.5L-32 52.2L-27 48.3L-26.1 47L-25.8 45L-26.5 43L-29 40.6L-32 39.1ZM78.6 -21L88 -21.2L89 -20.6L89.5 -19L88 -16.5L82 -15.6L79 -13.2L76 -12.7L74 -14.3L72.8 -17L74.3 -19ZM-52.3 -10L-51 -10.6L-50.6 -10L-51 -8.9L-53 -7.5L-53.6 -8ZM-31.4 -6L-29 -6.4L-19 -5.4L-7 -0.7L-0.2 0L-1 1.9L-3.9 4L-4.3 5L7 16.2L9 16.5L12 15.4L16 11L23 6.2L25 6.9L27 9.1L28.2 12L28 15L23.4 19L20.3 23L17 25.5L9 29.6L5 29.3L2.6 27L2.3 20L1.9 19L0 17.6L-6 16.9L-15 20L-17 19.7L-17.9 19L-18.4 18L-18.2 16L-13.6 11L-12.9 9L-13.5 8L-15 7.6L-20 7.7L-27 4.6L-31 7L-34.5 6L-34.9 5L-34.3 -2L-33.6 -4ZM1.9 -4L3 -4.4L3.5 -3L3 -1.9L1 -0.8ZM52.2 9L54 8.4L55 8.7L58 13.1L59 13.3L65 9.3L66 9.2L68 11.1L69.6 14L69.9 16L69.3 18L66 20.9L62 21.7L60 21.2L56 17.5L51 16.5L49 15L48.5 13L49.7 11ZM31.1 18L33 17.6L34 17.9L35.3 20L34 22.9L31 24.5L29.6 24L29 22L29.5 20ZM-38.3 21L-36 20.3L-33.7 21L-30 25L-29.7 27L-31 27.5L-35 27.5L-38 26.8L-39.1 26L-40.1 24L-39.5 22ZM36.3 31L39 30.9L41.2 33L42 36L42.5 43L40 45.4L34 45.5L26.5 51L25.3 53L27 58L26.7 59L21 59L19.9 58L19.8 57L21.6 52L21.3 50L19 48.7L13.9 48L12.8 47L12.5 45L14.7 43L21 39.5L23 39.6L29 41.1L32 41L32.6 40L34 33.7L35 32Z"/><path id="vc19" d="M34.6 -32L39.4 -32L40.4 -31L40.4 -30L36.2 -19L34 -17.9L31 -19.3L27.1 -23L26.9 -24L27.5 -26L28.9 -28ZM-93.2 -24L-91 -24.2L-86.3 -21L-84.7 -19L-83 -15.2L-78 -12.7L-73 -7L-71 -6.4L-66 -7.4L-64 -5.8L-63.1 -4L-63.1 2L-62 7.9L-60.2 9L-55.2 10L-53.1 12L-54.2 20L-49.4 29L-48.8 32L-49.4 34L-52 36.7L-52.5 38L-51.8 44L-51 45.4L-50 45.9L-46 45.1L-45 45.4L-40 49.1L-37.5 52L-37.4 55L-42.3 59L-45.7 68L-49.1 72L-51.3 76L-54 77.9L-57 78L-62 76.6L-67 73L-69 72.1L-76 72.3L-78 71.6L-82.5 66L-89.9 61L-91.8 59L-92 57L-89.4 49L-89.8 46L-94.1 40L-102.3 26L-106.8 10L-106.1 8L-102 3L-100.9 0L-101.3 -2L-104 -6L-103.9 -9L-102.7 -11L-96.8 -15L-95.9 -17L-96.1 -22ZM-85 -7.4L-85.8 -7L-86 -5.7L-85 -4.4L-84 -4.6L-83.7 -6ZM55 -16L56 -16.7L57 -16.6L58 -15.1L58.3 -13L57.9 -10L57 -8.9L55 -8.3L52.8 -9L51.6 -11L52.3 -13ZM-28.6 -3L-21 -3.8L-17 -3.2L-10.9 0L-10.7 3L-11.4 4L-13 4.6L-18 5L-20 4.6L-24.1 1L-28.7 -2ZM-50.1 10L-49 9.3L-48 9.7L-48.1 12L-49 12.6L-50.5 12ZM-8.5 10L-7 9.4L-5.5 10L-4.9 11L-5.4 12L-8 13.4L-9 13.6L-9.9 13ZM20.9 12L23 11.5L24 11.9L24.2 13L18 21.9L16 23.3L8.5 26L7 26.2L6 25.6L5.6 23L7 20.8ZM63.8 15L65 15.1L65.3 16L64 17.3L62.9 17L62.9 16ZM-27.1 38L-26 37.4L-23 37.8L-21.5 39L-19.9 43L-18 43.4L-15 43L-13 44.1L-10.7 49L-10.5 51L-11.2 53L-13 54L-15 53.8L-20.4 50L-21.7 48L-22.1 44ZM19.6 43L22 42.9L22.7 44L21.8 45L19.2 45L18.7 44ZM-1.4 54L0 53.6L1.4 54L2.1 55L1.6 56L0 57.2L-2 57.5L-2.7 56Z"/><path id="vd1" d="M-150 -150L150 -150L150 150L-150 150Z"/><path id="vd2" d="M-150 -150L150 -150L150 150L-150 150ZM-60 29.8L-62.3 31L-65.5 35L-66.5 37L-65.8 38L-60 39.4L-58 38.7L-56.4 37L-55.6 34L-56 31.5L-57.3 30Z"/><path id="vd3" d="M-150 -150L150 -150L150 150L-150 150ZM-89 47.6L-91 48.9L-91.6 50L-91.8 52L-91 52.7L-88 52.5L-85.7 50L-86.2 48L-87 47.5ZM-81 35.8L-84 37.4L-84.6 40L-84 42L-83 43.2L-80 44.1L-78 43.3L-77 42.1L-76 39L-76.8 37L-78 36ZM-64 27.9L-66 29L-71.2 37L-71.5 39L-70.7 40L-69 40.7L-59 42.3L-57 41.8L-52.7 37L-52.7 34L-54 30L-55 28.6L-57 27.2L-59 27ZM-2 47.8L-3.5 49L-3.8 50L-2.3 53L-1 54.1L1 54.7L3.6 54L4.4 52L3 49.4L1 48.1Z"/><path id="vd4" d="M-150 -150L150 -150L150 150L-150 150ZM-96 -12.5L-97.6 -11L-97.9 -9L-97 -7L-96 -6.4L-93 -6.4L-90 -9L-90.1 -11L-91.4 -12L-94 -12.7ZM-79 1.9L-81 2.6L-82.5 4L-82.3 6L-81 7L-80 7L-79 6.2L-78 4.2L-78 2.4ZM-70 -15.5L-71 -11L-75.2 -5L-75.2 -3L-74 -1.3L-72 -1.5L-70 -2.6L-67.4 -5L-66.3 -7L-66.8 -10L-69 -14.5ZM-54 -14.3L-55 -13.9L-57.1 -7L-56.3 -5L-55.3 -4L-53 -3.5L-52 -4.2L-51.4 -6L-52.5 -10L-52.6 -13ZM-29 20L-30.2 21L-30 22.4L-28.4 22L-27.6 21L-27.9 20ZM-26 51L-29 53.9L-33 56.4L-33.8 59L-33.2 60L-30 60.8L-27 59.5L-23 53L-23 52L-23.9 51ZM-23 66.9L-30 68.3L-32.4 70L-32.8 72L-30 79.2L-29 80.3L-28 80.2L-27 79.3L-18.5 70L-18.2 69L-19 67.5L-21 66.7ZM-13 30L-14 33L-13.5 36L-11 39.9L-7.2 43L-7 43.9L-7.4 45L-10.2 48L-9.3 51L-1 56.6L4 57L7 56.3L8.4 54L7.8 52L4.7 48L-0.5 44L-2.3 42L-3.5 35L-5 33.6L-9 32L-12 29.6ZM-6 18.8L-8 21L-8.5 23L-7.8 24L-6 24.5L-3.3 23L-2.8 21L-4 18.9ZM7 -12.3L5.9 -11L5.8 -9L8 -5.1L10 -3.9L14 -3.6L14.4 -4L11 -11.1L9 -12.9ZM15 -3.1L16 -1.2L17 -0.5L18 -2.2L17.2 -3ZM16 -65L15.6 -63L16 -62.5L17 -62.7L17 -64.4ZM20 7.6L19 8.9L18.9 10L19.5 13L22 13.9L25 13L25.7 11L25 8.6L23 7.3ZM27 27L22 29.5L19.5 32L19.4 35L22 37.8L24 38.3L26 37.9L33 35.5L34 34L34 32L31 27L30 26.5ZM30 -33.3L28.2 -31L27.9 -28L29 -25.3L30 -24.5L31 -24.5L33.3 -27L33.9 -31L32.7 -33L31 -33.6ZM38 53.8L33.6 56L31.5 60L27.2 64L26.8 67L28.5 69L41 75.1L42 74.9L42.3 74L38.7 64L39.3 62L43 59.1L46.2 61L50.2 61L55.7 59L59.7 56L59 55.2L58 55.1L54 56.8L48 55.9L44 57.7L41 54.5ZM45 -14.1L44 -11.7L43.3 -5L41.6 -2L42.4 -1L44 -0.7L45.5 -1L46.6 -5L50.2 -11L49.6 -13L48 -14.3L46 -14.6ZM52 -60L49.7 -58L48.9 -56L49.1 -55L51 -54L53 -54.1L54.3 -56L54 -59L53 -60ZM62 -39.3L60.1 -38L59.5 -36L60 -34.4L62 -33.5L65 -34.8L66.1 -36L66.7 -38L66.1 -39L65 -39.4ZM70 11.9L67.2 13L66.3 14L66.3 15L67.2 16L71 16.4L73.2 15L73.7 14L73.4 13L72 12ZM84 49.9L83 50.2L81.8 52L82.8 58L82.1 63L83 66.8L85 67.9L86.5 67L87.7 64L87.3 58L88 54L87.5 52L86 50.7ZM86 -60.2L85.2 -58L85 -55L86 -52L88 -51.2L91.1 -52L92.2 -53L92.5 -54L91 -58.1L88 -60.4ZM-81 10.6L-90 13.3L-92 14.7L-93.1 17L-93.2 22L-93.8 24L-95 25.1L-101.6 28L-103 29.3L-103.4 31L-102.7 32L-101 32.8L-97 32.1L-95 30.9L-92 26.9L-86 22.5L-84 21.6L-78 20.5L-77 21.2L-74.6 26L-71.8 29L-71.7 31L-73 32.6L-74 32.9L-79 30.7L-82 30.3L-84 30.9L-87.5 33L-88.4 35L-87.5 41L-87.7 43L-92 46.1L-93.6 48L-97 56.4L-102.6 60L-103 62L-101 64L-99 64.1L-97.1 63L-94.8 61L-91.8 57L-86 53.6L-82 49.4L-77 47.8L-72.3 44L-66 43.4L-63 44L-61.3 45L-60.4 46L-60.1 48L-61 49.6L-63 50.1L-64.2 51L-64.4 52L-63 52.7L-60 51L-56 50.8L-53.9 50L-52.5 48L-53.1 43L-52 41.3L-50 40L-48 39.9L-46 40.5L-41 43.4L-39 43L-39 41.9L-40.5 40L-49 33.6L-52.7 28L-55 25.6L-58 24L-61 24.5L-63 24L-64.9 21L-67.3 12L-68 11.6L-70 11.8L-75 13.7L-76 13.6L-79 10.9ZM8 62.9L6 64.1L3.6 68L2 69.2L-4 69L-5 69.5L-6.1 72L-6 74.2L-4 75L4 73.9L8 71.6L10 69.3L10.7 66L10 63.7ZM19 73L17.6 74L17.2 76L20.1 84L20.1 86L19 87.2L16 88.3L14.9 90L17 96.6L18 97.2L22 94.3L23.1 92L22.6 89L23.3 84L23.4 74L22 72.6ZM33 21L32.2 23L33 24.1L34 23.7L35.2 22L35 20.8L34 20.5ZM52 78.9L50 80.2L46.5 84L45.9 86L47.2 88L49 88.4L51 87.6L56.2 82L56.1 80L55 79.1ZM46 22.7L46 23.6L47.2 24L47.4 23ZM65 -10.1L64.2 -7L63 -5.1L58 -2.3L54 1.9L47.6 2L47.5 5L48.7 7L50 7.5L51.3 7L55 2.6L62 0.7L67 0.1L68 -0.8L67.8 -5L68.5 -10L67 -10.8ZM-78 59L-84.5 63L-85.3 64L-85 66.4L-84 67L-81 66.1L-76 67.4L-70 67.4L-68 69L-66 72.7L-65 73.5L-64.4 73L-64 72L-64.9 67L-69 61L-75 58.3ZM-48 58.6L-50 60L-50.7 63L-50 65.5L-48 67.4L-45.4 67L-42 63.8L-38.3 62L-37.5 61L-38.3 60L-40.9 59ZM-3 108.8L-4.3 110L-4.3 111L-3 112.4L-1 112.4L-0.1 111L-0.2 110L-1 108.8ZM54 26.9L52.2 28L51.8 30L52.5 32L54 32.7L57 31.5L58.2 29L57.4 27ZM-77 85.7L-78.1 87L-78 90L-76 92.7L-74 92.9L-73 92.3L-72.4 91L-72.4 88L-74.5 86ZM-46 83L-47.8 84L-46.5 89L-46.9 91L-51.2 97L-51 98.4L-50 99.8L-44 99L-41.1 98L-38.9 96L-38.1 94L-39.6 87L-40.6 85L-43 83.6Z"/><path id="vd5" d="M-150 -150L150 -150L150 150L-150 150ZM-123 -26L-124.4 -24L-124.5 -22L-123.9 -21L-117 -20.6L-115.7 -21L-114.9 -22L-114.7 -24L-116.5 -26L-120 -26.8ZM-82 -33.6L-82 -32.8L-81 -32.4L-81 -33.7ZM-59 -90.2L-59 -88.4L-58.3 -87L-57 -86.4L-55.6 -87L-55.1 -88L-56 -89.8L-58 -90.8ZM-44 -112.1L-45 -110.8L-43 -110.8L-41.6 -112ZM-36 -111.3L-37.7 -110L-38.1 -109L-35.6 -108L-33 -107.8L-31.5 -108L-30.5 -109L-32 -111L-34 -111.7ZM-32 -124L-33 -123.3L-33.6 -122L-33 -120.6L-32 -120.8L-31 -122L-31 -123.2ZM-26 -89.6L-26.7 -89L-26.6 -87L-25 -83.2L-23 -82.4L-21 -83L-20.5 -85L-22 -88.2L-24 -89.6ZM-12 -60.3L-16.4 -58L-17.4 -56L-14.7 -52L-13 -47.3L-12 -47.3L-10 -48.8L-8 -52L-10 -59.5L-11 -60.3ZM-9 -89.4L-11 -87.4L-11.1 -86L-9 -84.7L-6 -81.7L-2 -80.5L0 -80.9L1.4 -82L1.9 -85L1 -88.8ZM7 -76.6L5.4 -75L5.4 -72L7 -69.5L10.5 -67L11.2 -65L11 -63.3L10 -60.5L9 -59.7L5 -59.2L2.7 -58L2 -57L2 -55.3L3 -54.8L6 -55.6L8.1 -57L10 -59.3L18 -57.5L22 -58.3L23 -57.9L24.1 -51L23.9 -49L22 -47.2L16 -46.2L13 -44.1L8 -44L7.4 -42L8 -39.7L9 -38.2L11 -38L14 -42.1L15 -42.8L17 -42.7L26.3 -37L27 -35L24.3 -21L25.1 -12L23.9 -10L19 -7.6L16 -8L14 -11L12 -18L11 -19.1L9 -20L6 -19.4L4.3 -18L3.8 -15L2.2 -12L2.2 -10L7 -2.9L12.5 1L15.6 10L15.7 12L15 13.5L10.7 17L12.3 25L8 33.9L7.4 36L7.6 38L12.5 42L15 45.5L19 44.5L20 44.9L21.1 47L22 51.9L23 51.8L26 50.6L27.8 49L29.3 43L30 42.1L34.2 41L35.8 40L37.9 29L39 27.5L40 27.1L45 27.5L48 29L49 31L49.2 33L48 39L48.6 41L50 42.4L52 42.2L53.9 37L58.7 34L61 30.7L63 28.9L70 29.2L72 29.7L73.3 31L73.4 35L75 35.9L77 35.6L77.4 35L77.2 33L74.3 29L72.3 22L73.6 20L77 17.5L80 17L82 17.4L84.5 20L85.4 23L85.4 25L83 31L81 33.6L78.2 36L76.8 47L76.8 54L78.5 62L80.7 69L88 74.7L89 75.1L90 74.8L91.2 71L91.6 64L90.8 58L91.2 56L94 52.1L102 45.2L102.8 42L102 40.9L98 44.2L92 45.7L90 45.8L89.3 45L89.2 43L90.5 38L89.5 32L89.5 29L91.5 23L91.5 21L90.6 19L86.2 15L85.2 12L89.3 7L92 2.3L94 2L98 2.5L98.9 2L99.9 -4L103.7 -10L105 -11.1L110 -12.4L111.8 -14L112.3 -16L112 -19.2L107.9 -22L103 -26.4L101 -27L98 -26.2L96 -24L95.8 -22L97 -20.3L100.7 -18L101.6 -16L101.9 -13L101.3 -12L96 -8.5L88 -7L86 -7.9L81.1 -13L80.4 -17L79.6 -18L78.8 -18L76 -15L74 -13.9L61 -15.5L58.3 -15L54 -13.3L47 -17L44 -17.3L42.2 -16L41.6 -9L40.4 -6L35 -2.8L32 -2.3L31 -3.5L30.8 -5L31.2 -9L31 -15L31.9 -17L34.4 -20L34.5 -24L36.2 -36L37.1 -39L36 -41.8L32.3 -47L33.1 -49L39.9 -57L40.1 -58L38.5 -60L36 -60.8L32 -60.5L28 -61.9L26 -61.5L24 -60.2L23 -60.5L22.6 -64L24.4 -68L20 -68.6L14 -70.3L10 -75.9ZM39 -101.2L38 -100.5L36.6 -97L36.1 -94L37 -92.2L38 -92.3L42 -95L44 -97.8L41 -100.9ZM41 -113.3L39.5 -112L39.9 -110L40.8 -109L43 -108.8L44.8 -110L44.8 -112L44 -113.1L43 -113.6ZM54 -75.1L52.9 -74L51.4 -65L48.5 -61L43.6 -56L43.2 -50L44 -48L45 -47.1L46 -47.1L49 -48.5L51 -48.6L56 -46.2L58 -45.7L62.4 -50L63.1 -52L59.8 -55L57.3 -61L57.1 -64L58.4 -69L58.1 -71L56.3 -74ZM62 -84.4L62 -81.3L63 -79.6L64 -79.2L64.9 -80L64.7 -82L63 -84.3ZM73 -73L71.2 -71L71.1 -68L77.1 -60L77.3 -59L75.2 -56L75.8 -55L80 -53L81.7 -51L82.2 -49L80.8 -45L81.9 -43L83 -42.7L84 -43.1L85.4 -47L94.7 -50L95.1 -52L94.2 -55L92 -59.6L86 -64.8L83 -65.6L78 -65.3L77 -65.9L75.9 -68L75.4 -72L74.4 -73ZM-42 -12.3L-43.5 -11L-43 -9.5L-40.9 -11L-40.6 -12ZM-31 -66.3L-32.9 -64L-33.2 -59L-34 -57.2L-38 -54.8L-39.7 -53L-39 -50.8L-37 -48.1L-36 -47.6L-34.3 -49L-33 -53.5L-32 -55L-28 -57.2L-26.1 -60L-26 -63L-27 -65.7L-29 -66.7ZM-13 -38.1L-13.7 -38L-13.8 -37L-13 -36.4L-12 -37ZM2 -30.4L1 -28.8L2 -28.2L4 -29L4 -30.3ZM73 84.8L71.1 86L71.3 88L72.2 89L75 89.6L77 89.2L78.2 88L78 86.3L77 85.5ZM104 12L100.7 15L99.5 18L100.7 21L102 22.2L104 23L105 22L108 16.6L108.8 14L108.3 12L107 11.2ZM39 -85.6L38.7 -84L39 -83.2L40 -82.7L40.7 -84L40 -85.3ZM59 -42.3L56.5 -38L55 -36.6L51.5 -35L50.8 -34L51 -33L54 -29.1L64 -26.1L65.1 -27L65.7 -31L69.2 -37L69.4 -41L69 -42.1L68 -42.6ZM76 -27.9L76 -26.5L77 -26.8L77 -27.9ZM-39 -37.1L-39.5 -31L-41.5 -26L-41.8 -24L-41 -22.6L-37.6 -20L-37.3 -18L-37.7 -14L-34 -13L-28 -13L-26.5 -12L-25.7 -10L-25.4 -6L-26 -4L-32 0.3L-34 0.5L-38 -0.7L-40.5 -2L-44 -5.1L-46 -5.5L-47 -6.3L-48 -9L-47.7 -12L-48.2 -14L-49.8 -16L-52 -17.2L-55 -17.9L-58 -17.2L-58.9 -16L-60 -11.5L-61 -10.8L-62 -11.2L-63 -13.1L-63.6 -18L-69 -25.4L-73 -22.9L-74.6 -21L-75.2 -19L-74.2 -12L-75.2 -10L-77 -8.9L-79 -9.1L-80.4 -10L-81.7 -15L-83 -16L-87 -13.7L-97 -15.6L-99 -15.2L-100.3 -14L-101.2 -12L-101.3 -9L-100.5 -6L-99 -4.5L-95 -3.2L-93 -3.5L-87 -8.4L-85 -9.4L-83.4 -9L-82.3 -8L-80.9 -5L-80.6 -3L-81.3 -1L-83 0.7L-88.7 4L-89.1 8L-89.7 9L-93.9 12L-95.4 14L-97.1 17L-97.5 22L-99.6 24L-103 25.5L-105 25L-105 22L-102.5 17L-103 14.9L-104 13.3L-105 12.7L-107 12.7L-109 13.3L-110.5 18L-112.8 22L-112.5 25L-110.4 28L-109.2 31L-107.3 33L-102 36.3L-94.7 36L-93.2 37L-92.1 39L-92.2 41L-95.9 46L-98.5 53L-100.3 55L-104 57.4L-105.1 59L-105.8 62L-105 64.3L-103 65.9L-100 66.4L-94 64.4L-91 64.5L-88.7 67L-86 74.9L-84 76.4L-80 78L-78.9 77L-78.6 72L-77.9 71L-72 69.9L-70.1 71L-69.5 73L-69.3 78L-70.3 81L-73 82.2L-79 80.2L-80 81.5L-80.6 84L-79 92L-76 95L-73 96L-70.9 95L-67 87.2L-63 80.9L-60.1 78L-59.8 77L-61.5 69L-62.6 66L-65.6 61L-65.9 58L-64 56.6L-60 55.4L-53 54.4L-51.5 55L-53 62L-52.6 65L-51.7 67L-49 69.5L-43 71.1L-37.8 76L-36.7 78L-38.9 80L-41 80.6L-50 79.7L-57 77.9L-58.8 79L-58.8 81L-58 83.1L-57 84L-52 84.8L-50.7 86L-49.8 88L-50.3 91L-54 93.5L-54.8 95L-53.1 107L-52 108.9L-51 109.2L-49 107.9L-47 103.2L-46 102L-40 99.6L-34 95L-32 95.2L-27.4 101L-24 103.1L-23 103L-22 100L-22.1 98L-23.6 94L-23.7 93L-23 91.9L-20 92.3L-15 97L-13 97.3L-12 96.4L-9.3 91L-12.2 87L-12.8 84L-10.2 80L-8 78.7L-5 78.6L-3 79.2L-2 80.4L-1 84L-1.2 85L-6.4 89L-7.1 90L-6.9 91L-1.3 95L1 97.7L3 98.2L4.2 97L4.4 94L0.8 86L2.4 85L6.6 85L11 90.8L12.7 94L13.9 101L16 102.3L19 101.6L26 95.6L30 93.3L31 93.7L35 97.5L36 97.6L36.8 97L37.2 95L36.7 94L35 92.9L30 92.5L27.7 89L28 87.1L29 85.9L35 83.8L38 84.5L44 90.4L50 92.4L53 92.6L55 87L59.4 82L60.2 80L59.6 79L54.6 75L54.2 73L55 71.5L56 71.1L61.4 71L62.7 70L62.8 68L60.1 63L59.9 61L61.2 59L64.5 56L64.9 54L63.9 53L62 52.5L56 52.4L51 51.2L45 52.5L40 50.8L31.9 54L28 57.8L26 58.7L24 58.5L21 56.2L17 58.6L15 58.8L14 58.3L13.4 57L13.8 53L13.5 51L12.5 50L8 48.3L3.5 44L2.1 42L0.4 35L-4.8 29L-4.5 28L-0.7 24L0.2 22L-0.5 19L-2 16.6L-4 14.7L-6 14.1L-7 14.5L-10 18.6L-12 19.8L-19 20.3L-20 19.8L-21 18L-19.9 16L-14 9.2L-10 9.1L-8 8.6L-2.5 5L-1.3 3L-1.8 1L-7 -1L-10 -1.5L-11.7 0L-13.5 3L-15 8.4L-18 7.9L-18.8 7L-18.4 3L-20.8 -2L-21 -4L-19.7 -6L-18 -7.3L-13 -7.5L-12 -8.1L-11.3 -11L-12.3 -15L-14 -17.1L-18 -17.6L-20 -18.5L-23 -23L-25 -24.5L-28 -24.2L-32 -21.4L-34 -21.5L-35 -23.9L-34.9 -31L-35.5 -34L-37 -37.1L-38 -37.9ZM106 24.9L105 25.6L104.9 27L105.8 29L109 30.3L110.3 30L112 27.1L112 25.7ZM39 -78.4L37.4 -77L37.1 -75L38.9 -72L41 -71.3L41.8 -73L41.5 -75L40 -77.9ZM-100 7L-102 7.4L-103.7 9L-104.1 11L-103 12L-99 11.3L-97.4 10L-97.8 8ZM-112 38.6L-113 39.2L-113.8 41L-113.3 46L-112 49.1L-111 50L-109 50.5L-108 50.1L-107.6 49L-106.8 42L-107.1 41L-109 39.2ZM-99 139L-100.1 140L-99.9 141L-99 141.3L-98.2 140ZM-22 104.9L-23 105.4L-24 107.1L-24.6 110L-23.6 111L-22 111.5L-19 111L-18.2 110L-18 108L-20 105.8ZM-3 106.7L-6 108.4L-6.8 110L-6.7 111L-1.7 118L-0.3 119L1 119.1L2 118.1L2.2 117L2 114L2.9 110L2.6 108L1.8 107L0 106.2ZM52.1 -9L54 -9.9L55 -9.6L56.9 -7L56.4 -5L55.1 -3L52 -1L50 -1.7L49.2 -4L50 -6.4ZM72.5 -7L74 -7.4L75 -6.7L80 -1.9L80.6 0L80.3 4L80.9 9L80.2 10L79 10.2L72 8.6L66 9.6L61 9.4L60.1 11L60.1 14L61.4 17L64.4 21L64.7 22L64 22.5L62 23.1L58 23.2L54 22.7L50.1 20L44 17.6L41 11.8L39 10.5L37 10.3L34.7 11L32 15.9L28.7 18L27.5 21L26 23L23 24.5L21 24.5L20.3 24L19.9 21L21 17.9L23 17.1L27 17L28 16.5L28.7 7L30 5.6L38 2.7L42 2.6L44 3.9L47.2 9L49 9.9L51 9.8L56 6.3L60 5.2L63 3.5L69 2.8L70.8 2L71.8 0L71.2 -5ZM-62.9 -5L-61 -5.5L-60 -5L-55 0.2L-54 0.4L-52 -0.2L-47 -3.5L-45 -1.9L-43.1 1L-42.6 3L-43 5L-48 9.8L-52 10.9L-56 9.6L-57 8.3L-58.1 5L-61 3.7L-66 4.8L-71 7.3L-73 7.3L-73 5.6L-69.5 1ZM-35.2 4L-33 3.4L-30 4.2L-26.9 6L-26 8L-29 15L-35 20L-37.2 25L-36.8 27L-33 31.2L-30 32.3L-28.1 31L-27 27L-25.4 25L-21 23.1L-19 23.4L-18 24.1L-16.2 27L-16.1 35L-14.1 41L-14.6 43L-16.9 47L-16.9 49L-13.1 52L-11.5 56L-7 56.2L-2 58.6L2.7 60L3.5 61L3 63.4L1 65.8L-1 66.1L-4 65.2L-6 65.2L-9 66.9L-10 72L-11 73.1L-14 74.4L-16.3 82L-19 83.6L-23 83.4L-24.1 82L-24.1 80L-22 76.7L-19 74.4L-16 73L-14.3 71L-13.6 69L-13.5 65L-11.6 60L-12 56.5L-18.2 59L-20.3 61L-19.1 50L-22 48.6L-30 47.9L-32 47.1L-36.8 40L-46.7 31L-52.9 24L-53.9 22L-53.4 18L-51 14.8L-49 14.5L-43 17.2L-40 16.7L-39.4 15L-39.5 10L-39 7.4L-38 5.8ZM-39.5 50L-38.4 50L-38 51L-39 52.1L-40 52.1L-40.3 51ZM-72 51L-71 50.4L-69.7 51L-69.2 54L-70 55.4L-72 55.5L-73.5 54L-73 52ZM-83.1 54L-81 53.1L-80 53.5L-79.3 55L-79.6 56L-82 58.1L-86 58.6L-86.7 58L-86.3 57ZM16.5 63L20 62.8L22 63.5L22.9 67L22 69L17 70.8L14.5 70L13.7 68L13.9 66L15 63.9ZM48.7 64L52.8 64L54.6 65L55.2 68L54 70.9L50 72.1L47 71.5L44.5 70L43.5 68L44 65.5L46 64.4ZM27.3 75L30 74.1L34 75L37 77L37.1 79L35 80.6L28 81.9L27 81.1L26 79L26.2 77ZM9 77L11 76.2L13 77L14.3 80L14.2 82L13.5 83L10 83.9L8 83.4L7.6 80ZM-34 86L-33 85.5L-32 85.7L-30.7 87L-30.8 88L-33 90L-34.2 89Z"/><path id="vd6" d="M-150 -150L76.6 -150L76.4 -149L77.5 -147L80 -145.4L82 -145L84 -145.5L85.3 -147L85.1 -149L84.5 -150L150 -150L150 150L83.7 150L80 149L77 150L-103.7 150L-101 148.3L-98 148.5L-97 148.1L-94.1 140L-94.5 138L-97 135.1L-99 133.5L-101 133.1L-103 134L-105 141.3L-109 145L-111.4 150L-150 150ZM-146 17.9L-147 19L-146.3 21L-145 21.9L-143 21.3L-142.2 20L-142.2 19L-143 18ZM-136 131.6L-138 132.8L-139.8 135L-140.2 137L-139.6 138L-137 139.7L-135 140.1L-131 138.8L-128.8 136L-129.1 133L-130 132L-132 131.3ZM-130 -50.1L-130.6 -48L-129.4 -45L-128 -43.6L-126 -43.8L-124.7 -46L-125.6 -49L-128 -50.4ZM-82 -81L-83.3 -80L-83.2 -79L-82.1 -78L-81 -78.1L-80.2 -79L-80.4 -80ZM-77 -114.1L-77 -110.7L-75 -108.1L-71 -107.3L-68.4 -108L-68.9 -109L-73 -111.5L-76 -114.7ZM-32 -128.1L-34.4 -126L-38 -120.5L-44 -118.8L-49 -114.2L-50.9 -111L-50.9 -109L-50.4 -108L-44 -105.5L-41 -105L-36 -105.7L-29 -105.9L-25 -108L-24.9 -109L-25.9 -110L-31.6 -113L-33.1 -115L-32 -116.9L-29.1 -119L-28.3 -122L-28.5 -128L-30 -128.8ZM-7 -124.3L-7.6 -124L-6 -122.3L-4.2 -118L-4.4 -117L-9.4 -115L-9.7 -114L-9 -112L-7 -109.2L-5 -108.1L1 -108.5L5 -107.4L7 -106.1L7.6 -105L7.6 -99L6.8 -97L-2 -93.8L-3 -93.9L-7 -96.8L-10 -97.1L-11 -96.4L-14 -91.3L-17 -89.5L-19 -90.7L-23 -96.3L-24 -96.9L-39 -94L-33.6 -87L-30 -84.9L-26 -80.1L-22.2 -78L-19.4 -73L-13.5 -73L-13 -78L-12 -79.3L-11 -79.5L1.1 -77L2.5 -75L3.8 -70L7.5 -66L7.9 -64L7.2 -63L2 -60.6L-2 -56.9L-4 -56.3L-5.5 -57L-6.4 -59L-5.8 -66L-7 -67.4L-10 -68.4L-14.9 -62L-19 -59.8L-22 -59L-23 -62L-22.5 -68L-23 -69.6L-29 -70.2L-35 -69.4L-36.5 -70L-36.7 -72L-35 -77L-34.8 -84L-36 -85.9L-40 -87.5L-45.6 -88L-47 -88.7L-47.6 -90L-47.4 -93L-48.2 -94L-53 -93.2L-58.2 -95L-61.5 -95L-63.4 -94L-64 -93L-62.7 -87L-61.6 -85L-60 -84L-57 -83.6L-54.5 -84L-50 -85.9L-48 -85.4L-41.7 -79L-40.6 -76L-40 -71.4L-38.6 -68L-37.9 -61L-39.2 -58L-41 -56.7L-43 -56.4L-49 -58.2L-51 -57.4L-51.8 -56L-52 -54L-51 -52L-49 -51.2L-45 -51.6L-43 -51.2L-40.7 -49L-39.4 -46L-39.5 -44L-40.7 -42L-47.6 -36L-43.6 -33L-42.6 -31L-43.3 -28L-47 -22.4L-48.5 -21L-50 -20.5L-54 -20.9L-59 -20.6L-61 -21.2L-63.7 -24L-64.1 -27L-63.2 -31L-64.7 -33L-67 -34L-69 -34L-75 -31.5L-80 -37.4L-82 -38.5L-84 -37.3L-85 -35.2L-85.6 -32L-85 -30L-81 -28.1L-76 -28.3L-75 -27.5L-75.1 -26L-79 -21L-83 -20L-88 -16.5L-92 -16.8L-94.6 -18L-96.5 -20L-96.8 -22L-95.1 -26L-95.9 -28L-100 -32L-106.7 -35L-106 -41L-108 -42.8L-110 -42L-110.5 -41L-110.3 -37L-108.9 -34L-111 -29.3L-113 -28.3L-119 -28.5L-123 -28L-124.6 -27L-126 -25L-126.9 -21L-126 -13.2L-125 -12.1L-124 -12L-122.9 -13L-122.1 -16L-121 -17.1L-119 -17.3L-115 -16.3L-111.8 -17L-111.2 -22L-110 -24.6L-107 -25.2L-103.3 -24L-101.7 -22L-102.2 -19L-104 -17.5L-110 -16L-108.3 -2L-107.5 -1L-106 -0.5L-101 -1.7L-98 -1.5L-95.1 0L-94.1 2L-94.1 4L-95 5.2L-102 4.8L-108 7.6L-116 9.7L-117.6 12L-117.3 15L-115.5 17L-116.5 21L-114.9 27L-116.7 33L-115.5 36L-116 47L-115.2 49L-113 51.6L-107.3 54L-106.4 55L-107.8 62L-106.5 66L-104 68.1L-102 68.8L-94 66.6L-92 66.9L-91 67.6L-89.6 71L-90.2 77L-89.1 78L-86 78.8L-84.2 80L-80.4 92L-78.2 95L-75 97.8L-71 99.1L-66.4 98L-65.6 97L-65.9 93L-64.4 91L-63 90.8L-57.2 98L-54.7 109L-53 111.3L-51 111.7L-49 110.9L-44 103.7L-39 101.5L-35 98.7L-33 98.4L-32 98.9L-28 104L-27.7 106L-29 107L-33 105.2L-35 105.3L-37 107L-37.3 109L-34.4 113L-34.8 118L-34 121.4L-32 123.5L-29 124.7L-28 124.6L-27.1 123L-26 115L-24.3 114L-18 113.2L-16.4 112L-15.1 110L-14.9 107L-17.8 103L-18 101.8L-17 100.9L-13 101.8L-11 101.2L-8.2 96L-7 95.2L-5 95.6L-3.3 97L-0.6 102L-1.8 104L-8 107.1L-8.9 108L-9.1 110L-3.3 120L0 121.5L3 120.9L4.7 119L6 115.5L10.2 114L11 112.1L10.9 107L11.5 105L13 104.3L18 104.1L21 103.3L29 97.9L31.8 99L32.8 101L32 102.1L28 102.9L27 103.8L27.2 107L29.5 113L31 114.3L33 114.4L34 113.3L38.5 104L39.6 101L40.6 95L42 93.4L44 93.3L46.3 94L50 97.4L57 97.3L59.4 98L61 99.6L61.9 102L61.7 104L59.2 109L59.9 110L66 110.7L68 110.1L70.2 107L69.9 104L66 98.1L60 95.3L59 94.1L57 90L57.5 87L61 84L66 82.7L67 83.8L68.6 89L70.4 92L72 92.6L78 93.1L80 92.4L81 91L82.3 86L81.6 83L80 80.9L78 80.6L73 81.4L68 80.8L67.8 79L69.3 74L69.4 72L66.7 69L62.9 62L63.7 60L68 57L69.8 55L70 50.2L71 49.8L71.7 51L71.4 56L74.4 61L78.2 70L83.6 74L87 77.6L90 78.7L92 78.6L93.2 77L96.2 66L96.1 64L94.3 59L94.8 56L98 52.7L101 51.6L103 51.9L108 54.7L109.8 54L110.4 52L110.3 49L107.9 42L108.7 39L110.3 37L113 35.3L121 35.8L123 35L123.3 34L122.6 32L120 29.1L117.8 28L117.5 27L118 26.3L120 26.6L126.4 23L127.2 22L126.6 20L123.6 15L125.3 13L126.1 11L125.8 9L124 6.5L123 6.7L121.2 9L121.2 11L122.7 15L120.4 17L117 17.8L114 17.7L113 17.1L111 9.6L109 7.5L107 6.8L104 6.8L100.1 12L95 15.8L92 15.3L89.8 13L90.7 10L94 6.2L96 5.7L103 6L103.8 5L102 0L102 -3.1L104 -5.4L109 -7.6L113 -10.8L114 -13.1L114 -16L113 -22.3L110 -24L106 -28.1L100.6 -31L99.7 -33L99 -38.8L98 -40L93 -39.8L91.6 -41L91 -43L92 -44.9L97 -46.5L97.4 -48L96.9 -51L95.2 -56L93 -59.7L84.3 -69L81 -75.6L76 -77.1L70 -77.8L65.3 -86L61 -90.8L56 -92L51.4 -96L41.1 -102L35 -103.2L34.2 -102L33.7 -97L32 -94.3L30 -94.1L26 -95.7L23.9 -96L22 -95.3L20 -93.2L17 -92.2L15.3 -91L13.7 -81L15 -80.5L20 -80.9L21 -80.3L22.3 -75L21.9 -73L20 -71.5L18 -71.3L15.8 -72L13.9 -74L12.6 -79L7.7 -81L7 -82L6.4 -85L6.9 -88L9.2 -92L9.3 -96L9.8 -97L13 -99.3L14.1 -101L14.2 -104L12.8 -107L14.2 -110L9 -113.3L7 -116L6 -115.8L5 -114.2L4 -113.7L2 -113.6L0 -114.4L-1.9 -116L-1.7 -118L-3.4 -120L-4.2 -122ZM18 -110L15.8 -109L19 -106.9L21 -107.8L20.8 -109ZM41 -116L38 -114.5L36.7 -113L37.5 -111L40.6 -108L46 -106.9L49 -105.7L50.1 -106L52.2 -108L52.8 -110L49 -112.9L46 -116.2L44 -116.7ZM46 -146.1L43.9 -145L43.1 -143L43.9 -141L45 -140.6L47 -141.2L48.7 -144L48.3 -146ZM56 -131.4L54.2 -130L53.4 -128L53.8 -125L55 -123.5L56 -123.6L57 -125.1L59.1 -130L59.1 -131L58 -131.7ZM80 -96.1L79 -95.6L78.2 -94L79 -91.9L80.2 -92L81.4 -94L81 -95.5ZM90 -120.1L88 -119.4L86.6 -118L86.8 -116L89 -114.5L91 -114.7L93 -116L94.4 -119L93.8 -120ZM103 -97.2L99 -95.1L93 -95.5L90.9 -94L90.8 -92L92 -90.5L94 -89.2L96 -89.2L100 -90.5L104 -87.7L106 -88L107.7 -90L107.7 -93L106 -97L105 -97.7ZM117 -59L115 -58.4L114 -57.3L113.5 -55L114 -54L116 -54.2L119 -57L119 -58.1ZM128 -84.2L126.7 -83L127.2 -81L129 -79.6L131 -79.8L131.3 -81L131 -82L130 -83.2ZM132 -122L130 -120.9L129.3 -119L129.4 -118L130.8 -117L132 -117.2L133.2 -119L133.3 -121ZM134 88L132.7 89L132.9 90L135.9 92L140 93L142.2 92L141.8 91L138 88.5L136 87.9ZM136 43.5L135.2 44L134.8 45L135.1 46L136 46.4L137.1 46L137.8 45L137.5 44ZM140 -71.1L137.5 -68L137.8 -65L141 -62.5L144 -62.5L145 -63.1L145.9 -65L145 -69.2L143 -71.2ZM-130 35.8L-130.8 37L-131 38.7L-130 39.7L-129 39.6L-127.7 38L-127.4 36L-128 35.1ZM-53 -41.2L-54 -39.9L-56 -35L-60.2 -31L-55 -25.4L-53 -24.6L-51 -26.2L-47.6 -35L-51.5 -41L-52 -41.5ZM-121 -3.2L-123 -2L-123.4 0L-122 2.7L-120 4.3L-117.7 3L-116.7 0L-118.1 -2ZM-107 96.9L-108.4 98L-109.2 100L-108 103.1L-106 101.9L-104.5 99L-105 97.6ZM-100 86.4L-101 88L-100.4 91L-99 92.4L-97 92.5L-95.5 91L-95.9 88L-98 86.4ZM-91 97.7L-92 99L-91.7 100L-90 100.9L-89 100L-89 99L-90 97.8ZM-82 142.8L-82.6 144L-82.3 146L-81 147.9L-80 148.4L-79 147.3L-79.5 144L-81 142.6ZM-69 115.5L-70 117L-69.7 118L-69 119.1L-68 119.3L-67 118.3L-66.9 117L-68 115.6ZM-65 141L-64.9 142L-64 142.4L-63.1 142ZM-40 113.6L-42 114.9L-42.5 116L-42.6 118L-42 119L-41 119.3L-39.3 119L-37.5 117L-38 114.6L-39 113.7ZM-32 133L-32.9 135L-31 139.1L-27 141.6L-24.3 141L-23.6 138L-25 135.3L-30 132.8ZM-15 125.6L-16 126.3L-16.7 128L-16 129.5L-15 129.9L-13 129.2L-12.1 127L-13 125.7ZM12 136L11.9 137L12.5 138L15 138.8L21 139.1L22.9 138L23.2 137L22 136.1L18 136.5L14 135.1ZM104 63.7L101.8 66L101 69L103 72.4L105 73.1L108.1 71L109.1 69L109.4 67L109 65.3L107.8 64L106 63.3ZM120 86.9L119 87.4L118.1 89L118.2 91L119 91.5L121 91.2L121.7 90L121.3 88ZM90 -80.2L88.8 -79L91 -76.9L92 -76.8L92.6 -78L92.3 -79L91.2 -80ZM130 111L129.8 113L130.7 114L132 114.4L133.1 114L133.7 113L133 111.6L132 110.9ZM-122 80.6L-124 81.9L-124.6 83L-124.6 85L-124 85.7L-122 84.8L-120.2 82L-120.1 81L-121 80.4ZM-69 129.2L-69.9 130L-70 131L-69 132.9L-68 133.4L-67 132.7L-66.7 131L-67.1 130ZM106 113L104.3 114L104.1 115L105 115.7L106.5 114ZM107 131L106 131.5L105.1 133L105.1 134L106 135.2L107 135.2L108.3 134L108.3 132ZM45 -94L47 -94.7L49 -94.4L56 -88.9L58.9 -84L60.5 -76L60 -75.4L59 -75.8L53 -78.9L51 -78.5L49.9 -72L46.5 -64L45 -62.4L43 -62.1L34 -64.2L31 -66L29.7 -69L30.1 -75L29.7 -77L27.8 -79L21.2 -82L20.3 -86L21 -88L23 -89.3L30 -90.3L32 -89.7L33.4 -88L34 -86L34.6 -81L34.2 -76L34.9 -74L38 -70.1L40 -68.5L42 -67.8L43.9 -68L44.8 -69L44.9 -70L43.1 -78L44.8 -83L41.5 -90L42.3 -92ZM65.6 -66L67 -65.9L68 -65L68.4 -63L67 -61.6L64 -61.1L62.7 -62L62.6 -63L63.8 -65ZM-25 -56L-23 -56.8L-22 -56.2L-18 -51.9L-16.9 -50L-16.6 -43L-18.1 -37L-17.4 -35L-14.8 -32L-14.4 -30L-16.8 -24L-18 -22.7L-20 -23.3L-25 -27.2L-30 -27.5L-31 -28.3L-34.8 -40L-34.9 -43L-31.1 -48L-29.7 -52L-28 -54ZM74.7 -48L76 -48.8L76.6 -46L78.7 -41L78.6 -38L76.5 -34L71 -28.4L70 -27.9L69 -29.2L68.9 -31L71.3 -36L72.2 -42ZM-4.4 -47L-2 -46.7L3 -42.7L5 -40L6.9 -35L6.9 -34L-3.1 -32L-4.5 -30L-5.6 -25L-4.7 -19L-2.4 -15L-2.4 -10L3.6 -5L4.9 -1L4.7 0L4 0.4L-2 -0.8L-7 -4.6L-8.2 -7L-10 -20L-9.6 -25L-11.3 -30L-9.8 -32L-4.6 -34L-4.3 -36L-5 -39.5L-8.3 -43L-7.4 -45ZM50.6 -45L53 -44.5L55.1 -42L54.9 -40L54.2 -39L52 -37.9L49 -38.4L47.4 -41L48 -43.2ZM16 -37L17 -37.4L19 -36.8L22 -34.7L23.1 -33L21.1 -26L22 -18L21.8 -14L21 -12.4L19 -11.3L17.5 -12L15.5 -19L14 -20.9L10 -22.4L5 -22.8L3.7 -24L4 -25L6.6 -28L7.3 -30L7.3 -33L8 -33.9L12.2 -35ZM81.3 -37L84 -37.8L87 -37L94.9 -30L95.2 -28L93.6 -24L93.5 -21L94.2 -19L96.6 -16L96.9 -14L96 -12L95 -11.2L93 -10.8L88 -11.9L86 -13L85.3 -14L84.3 -19L80.8 -24L80.9 -29L79.6 -34L80.3 -36ZM41.6 -35L43 -35.4L45 -35L48.3 -32L49.9 -29L49.7 -24L51 -21.6L53 -21.9L56 -24.5L58 -25L60 -24.5L62.6 -23L63.4 -22L63.4 -20L60.2 -18L54 -16.4L52 -16.8L47 -19.5L38.7 -21L37.5 -22L36.6 -24L36.8 -29L38.8 -33ZM35 -13L37 -13.8L39 -12.6L39.3 -10L38 -7.6L36 -7.3L35 -8.2L34.5 -11ZM-34.8 -11L-30 -11L-28 -9.3L-28.2 -6L-29 -4.6L-31 -3.1L-35 -2.6L-37 -3.3L-38.9 -5L-39.2 -7L-38.3 -9L-37 -10.2ZM-88.3 -5L-86 -5.9L-84.2 -5L-83.5 -3L-84.5 -1L-87 0L-89.3 -1L-89.8 -3ZM6.5 2L9 1.9L11 3.5L13 8.5L13.1 11L12.4 12L11 12.7L7 12.7L6 13.1L3 16.8L-1 13L-2.1 11L-2.1 10L-1 8.8L4 8.1L5 7.2ZM-48.7 3L-48 2.4L-47.2 3L-48 4.5L-49 4ZM38.7 6L41 5.9L41.8 7L41 7.8L40 7.6L38.6 7ZM-35.3 7L-32 6.7L-30 7.9L-29.6 9L-29.8 11L-31 13.6L-32 14.6L-34 15.4L-36 14.9L-37.5 12L-37.2 9ZM51.2 12L55 11.1L56 11.9L56.4 15L55.8 17L53 17.8L49 17.1L46.6 16L45.2 14L45.1 13L46 12ZM-48.8 20L-46 20L-41.8 22L-41.2 25L-41.4 28L-42 28.8L-44 28.2L-49 23.1L-49.6 21ZM77.1 21L79 20.1L81.3 21L82.2 23L81 26L79 26.7L77 25.2L76.4 23ZM95.2 25L97 24L99 24.7L100 25.6L103.2 33L103.1 34L102 35.5L98 37.8L96 38L95 37.6L93.6 34L93.2 29ZM-23.3 28L-21 27.1L-19 28L-18.3 30L-18.1 36L-16.8 40L-17 42L-18.3 44L-20 45.5L-22 46.1L-25 45.8L-27.2 45L-37.5 36L-39.9 32L-39.7 31L-38 30.9L-32 34.8L-28 34.9L-25.5 33ZM0.7 28L2 27L3 27.3L4.1 29L3.7 30L3 30.4L1.7 30L0.7 29ZM40.9 30L43 29.4L45 29.8L46.8 32L46.7 34L44.8 41L47.7 47L47.4 48L46 49.1L43 48.7L40.7 46L40.7 43L38.8 37L39.5 32ZM56.8 43L58 42.8L61 44.9L62.8 47L63 49L61.7 50L59 50.4L57 50.1L55.4 49L54.7 48L54.6 46ZM32 45L34 44.2L36.9 45L37.9 46L37.6 48L35 50.4L32 50.7L30.9 49L31.1 47ZM-103.4 46L-102 45.2L-101 45.4L-99.8 48L-100.9 51L-103 52.3L-104 51.9L-104.4 50L-104 47ZM-62.1 59L-60 58.5L-58.5 59L-58.1 60L-59 62L-60 62.5L-62 61.7L-62.7 60ZM-53.4 71L-47.3 73L-45.2 75L-45 76.2L-45.9 77L-48 77.1L-51.4 76L-54.1 73L-54.2 72ZM-8.2 83L-7 82.5L-6.3 83L-6.9 85L-8 85.4L-8.7 85L-8.8 84Z"/><path id="vd7" d="M-150 -150L-113.7 -150L-114.9 -146L-114.1 -145L-112 -144.6L-107 -145.8L-102 -149.3L-96.1 -150L-80.7 -150L-78 -149.1L-76.4 -150L24.7 -150L24.9 -146L23.5 -144L19 -142.2L14 -143.1L13.8 -142L17 -140.4L20 -136.1L21 -135.4L26 -134.7L27.1 -135L28 -137L27.1 -146L29.1 -150L46.7 -150L42 -147.6L39.9 -144L40.4 -137L38.4 -131L39.1 -129L42 -127.7L43.6 -128L44.8 -129L44.3 -134L45 -135.7L50 -139.1L53.2 -143L53.7 -145L52.9 -150L73.6 -150L73.8 -148L77 -144.8L81 -142.4L87 -140.4L89 -141.3L89.6 -143L87.2 -150L150 -150L150 -146.1L146 -145.5L141 -146.3L140 -145.4L138.8 -138L139.9 -135L144.5 -132L145.7 -130L143.6 -125L143.8 -123L145 -121.5L147 -120.3L149 -120.4L150 -121L150 -104L146 -107.6L144 -108.2L141 -106.6L135.8 -102L135.4 -101L136.4 -99L138 -98.1L144 -96.6L148 -96.4L150 -95.1L150 -7.2L148.7 -5L150 -2.9L150 42.4L148.1 44L147.9 45L148.5 47L150 48.3L150 82.5L147 83.1L143 85.2L131 85.6L127 88.1L126 88.2L122 84.1L119 83.9L117 85.9L114 91.5L106 95.4L104 94L100.6 90L102.6 86L103 79.9L106 77.9L107 76.5L110.3 71L112 66L114.9 62L115.1 59L113 54L114 49.3L116 47.2L119 45.7L120.3 44L120 42.7L113.7 42L112.5 41L112.3 40L113 38.8L115 38.2L119 38.9L121 40.1L123 39.8L126 38.5L129 34.8L132 33.2L133 32L134.2 29L134.3 26L132.1 21L129 17.6L128.6 15L130 11.8L135 10.5L137.6 8L139.9 2L143.5 -3L143.6 -5L143 -6L142 -7L140 -7.8L130.9 -8L130.2 -7L130.4 -6L134 -2L134.5 0L130 7.3L129 6.9L127.2 3L127.1 -2L126.5 -5L127.4 -8L126.1 -15L125 -16.5L122 -17.1L121 -15.9L120.2 -13L121.3 -10L123.5 -7L123.8 -5L122 -4.4L121 -5L119.1 1L119.9 3L120 5.2L118 8L116.6 13L115 13.4L113.4 6L114.6 1L114 0.1L112 -0.6L108 0.6L106 0.4L104.8 -1L104.8 -2L106 -3.1L110 -3.1L111 -3.6L115.5 -11L115.8 -13L115 -17L115 -22.1L117.1 -23L119 -25.3L122.5 -25L123.8 -26L121.9 -28L119 -28.8L117 -26.4L114 -25.5L110 -27.5L104 -33L102.9 -35L102.4 -41L99.1 -48L99 -49.7L100.2 -50L99 -50.4L98 -51.7L96.2 -57L90.1 -63L84.9 -70L84.3 -71L83.8 -75L80.9 -77L77 -78.3L73 -81.2L69 -84.3L61 -92.1L55 -94.7L47 -100L44 -100.7L41 -102.5L32 -105.5L31.3 -104L30.8 -99L30 -97.8L27 -97.9L23 -99.4L21.7 -101L21.9 -102L24.6 -107L23.9 -109L22 -111.2L21 -112.3L17 -111.7L11 -113.7L6 -118.7L5 -119.3L3 -119L2 -119.7L-4.4 -127L-7 -128.3L-10.3 -129L-8.9 -135L-9 -136L-10 -136.9L-12 -136.9L-13 -136.4L-16 -133.6L-23 -134.2L-26 -132.5L-30 -131.7L-32 -130.7L-36 -127.2L-39 -122.6L-40 -122L-45 -121.3L-50 -117.6L-57 -106.5L-71 -113.4L-73.1 -116L-78.6 -125L-80 -126.3L-81.5 -126L-84 -123L-87 -121.1L-87.6 -120L-87 -119.1L-83 -118.8L-82 -118.3L-80.1 -115L-78.7 -108L-77 -105.9L-75 -104.6L-70 -104L-64 -102.1L-61 -102.8L-57 -105.9L-50.8 -104L-50.5 -103L-55.7 -98L-58 -97.6L-66 -97.8L-72.9 -96L-74 -95L-74.2 -94L-73.4 -93L-68.8 -90L-67.8 -88L-67.3 -84L-65 -81.1L-63 -80.6L-51 -81.7L-48 -80.7L-45 -78.5L-44.2 -77L-43.8 -72L-41.7 -64L-41.7 -61L-43 -59.5L-51 -61.1L-57 -60.3L-60 -59.4L-65 -59.4L-67 -58.8L-69 -56.1L-72 -48.9L-73 -48.1L-77 -48.2L-79 -47.6L-85.4 -42L-86.1 -41L-88 -33.5L-89 -32.2L-91 -31.4L-93.5 -32L-101.8 -37L-101.8 -43L-106.1 -48L-105.8 -50L-101.9 -56L-101.3 -59L-102 -61.1L-104 -61.1L-109 -57.3L-111 -56.6L-116 -61L-118 -62.1L-122.6 -59L-125 -55.4L-133 -53.9L-134.5 -53L-135.3 -51L-134.7 -49L-130 -41.1L-128 -38.9L-126 -39.4L-121.6 -44L-121.3 -47L-122.5 -53L-122 -54L-118 -54.4L-113 -53.6L-111 -52L-110.2 -50L-111.2 -48L-115.4 -44L-113.7 -38L-114.2 -35L-115.5 -32L-118 -30.6L-124 -29.5L-127.4 -26L-128.5 -23L-129.5 -13L-129 -11L-125.4 -6L-126.4 -1L-126.2 4L-122.8 9L-122.9 11L-124.6 15L-124.3 20L-123.2 21L-120 22.3L-118.4 24L-117.6 26L-118.1 29L-122.6 34L-119 36.9L-118 39L-118 44L-119.4 49L-115 53.2L-110 56.6L-109.5 64L-107 72L-106.1 73L-102 73.8L-97.4 70L-95 69.1L-93 69.3L-92.1 71L-92.3 72L-94.5 77L-94.8 80L-94 81.2L-88 82L-86 83.4L-83.3 88L-81.4 93L-76 99.2L-74 100.5L-71 101.6L-62 101.2L-60 101.7L-58 104.5L-55.9 111L-54 113.7L-53 114.2L-49 113.5L-46.4 112L-44 109.6L-43.3 110L-45.2 115L-45.1 120L-44 121.1L-39 122.4L-37 124.3L-35.4 129L-36.5 135L-33.3 141L-27 143.7L-24 144L-22 142.7L-19 138.2L-13 133.7L-9.4 132L-8.9 131L-8.7 125L-9 124L-11 122.6L-14 122.2L-16 122.6L-22 127.9L-23 127L-23.2 126L-24 121L-23 117.7L-21 116.4L-16 115.5L-13 112.2L-12 111.9L-9.9 113L-7.8 116L-6.1 121L-3 122.9L1 123.9L3 123.6L8 118.6L10 117.9L13 117.9L14 118.2L15.7 120L16 123L17.3 125L19.2 126L22 126.2L24 125.4L25.3 124L25.9 122L25.5 121L23 119.6L20 119.5L16 117.5L15 116.5L13.3 111L13.2 109L14 107L17 106.1L21.7 107L23.7 110L24.3 113L26 115L32 118.7L34 119.1L36 118.3L37 117L40.5 108L42 106L48 105.1L53 100.7L55 99.8L58 100.3L59 101.7L59.1 103L54.6 109L54.8 112L56 113.1L58 113.8L73 114.3L73.9 118L72.8 124L73.4 127L77 129.7L79 130L81 129.5L85.3 126L86.2 124L85.9 123L80 115.3L75.1 112L74.7 111L76.2 108L76.3 106L72.1 102L71.6 99L73 97.8L82 98.7L84.5 97L85.8 95L86.3 93L84.6 88L84.6 82L85 81L87 80.6L91 81.5L93 82.6L96 85L99.4 89L99.8 90L97.5 93L97.1 95L98.1 98L99 99.1L101 100L107 99.2L111 100.1L113 99.8L118 95.4L128 92.7L132.8 94L137 98L139 98.4L147 93.3L150 92.1L150 150L102.9 150L103.9 148L103.3 145L102 143L100 142.4L98 143.2L97.2 145L97.8 148L99.7 150L86.8 150L84 147.4L82 146.7L76.3 148L73.5 150L53.6 150L54.4 146L57.1 141L58.1 138L57.4 136L52 128.8L51 128.9L47.4 134L40 139.4L33 143.5L26 146.1L24.3 148L23.8 150L-2.5 150L0 146.5L1 145.9L5 148.2L7.4 148L8.8 146L9 143L10 142.5L19 142.1L23 141L25.3 139L26.3 136L25.6 134L24 133.3L19 133.7L13 132.3L7 134.3L2 132L-1 131.8L-5 132.1L-6.7 133L-2.6 141L-2.3 143L-3.7 145L-7.6 148L-8.5 150L-37 150L-38 148.4L-39 148.4L-39.8 150L-74.6 150L-76.1 146L-75.3 141L-76.3 139L-86 134.8L-91 135.2L-93 134.8L-96 130.8L-102.5 128L-103.1 127L-103.6 124L-105 123L-106 123.5L-107.2 127L-110.5 131L-110.2 133L-107.8 137L-108 139L-114.7 150L-123.1 150L-125.6 147L-126.1 146L-125 139.1L-124.9 134L-127 130.5L-130 128.5L-136 129L-138 129.6L-143 133.5L-146.6 135L-150 138.9L-150 93.2L-149 93L-143.6 87L-142.9 85L-146 82.5L-148 81.7L-150 81.8L-150 49.1L-148 48L-146 44.5L-140.4 40L-139.1 38L-139.8 36L-144 30.9L-145 30.2L-146 30.3L-147 32L-147.6 38L-148.5 40L-150 41.4L-150 19.2L-146 24.3L-144 24.9L-140.7 22L-139.4 19L-140.1 17L-141.2 16L-143 15.5L-147 16L-150 17.9L-150 -2.4L-148 -2.4L-142 -4.4L-140.7 -6L-140.5 -8L-141 -10.1L-142 -11.7L-143 -12.1L-150 -7.9L-150 -97.1L-147 -95.1L-146 -95.1L-144.9 -97L-144.6 -99L-146 -101L-150 -101.6L-150 -129.9L-142 -126.8L-135 -125.9L-133.9 -126L-133.9 -127L-136 -128.4L-144.6 -137L-148 -141.3L-150 -142.7ZM-127 -108L-128.2 -107L-129.3 -105L-129 -103.2L-128 -102.5L-122 -102.6L-120.6 -103L-120 -103.8L-120.1 -106L-121.8 -108L-124 -108.7ZM-123 -127.2L-125 -126.2L-125.5 -125L-124.3 -123L-122 -121.6L-115 -119L-112.9 -119L-112.6 -121L-114 -122.9L-121 -126.9ZM-107 -102.4L-107.4 -101L-107.1 -100L-105.2 -100L-104.8 -101L-105.4 -102ZM-100 -141.3L-102 -139.9L-106.9 -133L-106.6 -132L-105.1 -131L-103 -130.5L-102 -130.8L-100 -132L-98.3 -134L-97.2 -138L-97.3 -140L-98.1 -141ZM-96 -118.4L-97.8 -116L-97.9 -113L-96 -110.9L-94 -110.1L-93 -110.3L-91.9 -112L-91.1 -117L-93 -118.5ZM-56 -124.2L-56.7 -124L-57 -123L-56 -121.9L-55 -123ZM10 -123.2L7.5 -122L7 -121L8 -120L11 -119.5L13.5 -120L14.2 -121L12.1 -123ZM66 -148.1L63.1 -146L61.7 -144L62.2 -139L61.3 -136L60 -134.9L53.1 -132L50.3 -128L50.3 -126L51.9 -121L55 -115.8L54 -115.4L52 -115.8L48.4 -119L45 -119.9L34 -115.6L32 -115.8L27 -119.5L24 -120.3L17 -118.9L16.4 -118L16.6 -117L17.6 -116L20 -115L25 -115.9L28 -115.4L33 -113.5L40 -107.8L46 -105.6L48 -104.4L54.2 -105L59 -110.1L61.9 -112L63.5 -115L63.3 -116L61 -118.3L59.5 -121L59.2 -124L60.1 -127L62 -129.3L66.1 -131L67.8 -135L71.7 -139L71.4 -141L69 -146.9L68 -148ZM90 -133.4L89.1 -132L90 -130.3L92 -129.8L94 -131L94 -132L93.1 -133ZM98 -128L94 -124.8L85 -121.5L83 -121.5L80 -123.7L77.8 -124L76.5 -123L75.5 -121L74.6 -118L75 -117.1L77 -116.2L83 -115.3L88 -111.4L95.2 -113L98.1 -117L104.4 -122L106.5 -125L105.7 -127L103 -128.4L100 -128.9ZM128 -132.2L127 -131.7L127 -130.1L128 -128.7L129 -128.5L129.2 -131ZM131 63.8L129.6 65L128.9 67L130 70.7L131 71.6L133 70.4L134.5 67L134 65L133.1 64ZM135 39.8L132.8 41L131.8 44L132.5 49L133 50L134 50.5L137 49.2L140 47L142.5 43L142 41L141 40.5ZM118 -9L117.6 -8L119 -6.7L119.4 -8ZM-83 -84.2L-85 -82.9L-86.3 -81L-86.4 -79L-86 -78L-83 -75.9L-79 -76.1L-77.5 -78L-78.3 -82L-80 -84.3ZM-66 -75.2L-71.6 -72L-71.8 -65L-71 -63.1L-69 -63.1L-65 -65.4L-62.9 -67L-60.8 -70L-60.2 -73L-61 -74.4L-63 -75.5ZM-134 6.8L-135.3 8L-135.3 9L-134 10L-132 9.7L-130.5 8L-130.4 7L-131 6.4ZM-119 72.8L-122.3 77L-126 79.1L-127 80.4L-127.6 86L-126.8 92L-130.1 96L-130.2 97L-129.3 98L-126 98.3L-124.1 97L-124.4 92L-120.7 87L-116.1 82L-114 74L-116 72.7ZM-102 79.5L-105 81.4L-111 82.6L-112.9 84L-112.9 86L-109.9 91L-109.8 92L-112 95.3L-116.1 97L-118 99L-117 101.9L-114 104.1L-110 108.4L-108 108.5L-106 107.6L-98 99.6L-96 100.3L-93.4 103L-91 103.8L-88 103L-86.6 101L-86.5 99L-87.2 97L-91.6 92L-95 84.3L-99 80.3L-101 79.3ZM-71 112.7L-72.4 114L-72.9 116L-72 122L-74.5 125L-75.1 127L-71.8 135L-71.7 137L-72.7 140L-70.9 142L-65 146L-62 147L-59 145L-57.9 143L-58 142L-64.2 136L-64 130L-66.6 125L-64.6 119L-64.6 116L-65.8 114L-67 113.1L-69 112.4ZM-55 120.2L-56.1 123L-55 126L-53 129.2L-50 130.5L-49 129L-49 123.7L-50 122.4L-53 120.5ZM-45 133.7L-45.9 134L-46.4 135L-45.9 137L-44 138.4L-42 137.7L-40.7 136L-40.7 135L-42 134ZM45 109L43.4 110L43 111L43.5 112L46 112.8L48 112.2L48.7 111L48 109.4L47 108.8ZM106 108.8L101.9 110L100.3 111L99.9 116L98.8 118L97 119.3L91.6 121L90.3 122L89.1 124L89.9 127L91.7 128L95 127.6L101 125.7L103.9 126L104.3 127L102.4 132L102.1 135L103 137.4L105 138.5L107 138.3L109.5 137L110.8 135L111.2 133L110 128.5L105.6 125L105.5 122L106.6 119L110 115.9L115.4 115L118 114L118.9 112L117 109L115 108.1ZM127 106.8L125.8 108L125 110L124.3 116L122 117.3L121 118.5L119.3 123L119.2 125L119.7 127L122 128.7L124 127.9L127.5 123L129 119.3L135.6 117L138 115.3L138.8 114L138.5 111L134 106.9L131 106.2ZM-147 96.6L-147 98.7L-142.8 107L-140 109L-133.5 109L-132.8 115L-129 118.2L-127 118.6L-123 114.7L-118 114.2L-115.9 113L-116 111L-117 110.4L-123 110.1L-132 107.6L-135 102.4L-141 100.3ZM-143 52.6L-144.5 54L-148.7 64L-147.7 67L-146 68.4L-144 69L-142 67.7L-140 65.1L-138.4 61L-139.5 57L-139.2 54L-140.2 53ZM-141 -87.3L-141.1 -81L-140 -78.9L-138 -80L-134.2 -84L-133.9 -85L-134.6 -86L-137 -87.5L-140 -88ZM-115 -82.1L-116.3 -81L-117.2 -79L-117 -78L-113.4 -75L-113.1 -74L-113.7 -72L-115 -70.4L-120 -70.9L-121.1 -70L-120.4 -67L-118 -64.4L-114 -67.8L-111 -68L-108.4 -69L-107 -70.3L-106 -72.7L-106.9 -76L-111 -81.9L-113 -82.9ZM-95 -89.1L-98 -88.1L-100.1 -86L-100 -84L-98 -82.2L-95 -82.2L-93.4 -84L-93.2 -87L-94 -88.7ZM68 -103.1L65.5 -101L66 -99.7L68 -98.9L70.3 -100L71.1 -102L70 -103.3ZM81 -105.2L78 -104.1L76.7 -103L75.4 -96L75.4 -94L76.2 -92L79 -89L81 -88.8L86 -90.6L88 -89.8L93 -85.9L99 -85.7L103 -83.8L106 -84.7L109.2 -88L110.1 -90L110.2 -92L109.1 -96L108.8 -100L108 -101.7L107 -102.1L105 -101.8L99 -98.4L93 -98.3L88 -96.8L86.3 -98L85.7 -103L85 -104.5L83 -105.3ZM129 -126.4L127 -122L125 -115.2L120 -116.2L118 -115.4L116.7 -114L114.7 -105L115.5 -103L117 -102.5L118.8 -103L119.9 -107L123.8 -111L125 -113.8L126 -114.6L133 -113.6L134.8 -114L135.9 -115L137.6 -122L137.2 -124L134 -126.1L130 -126.9ZM-132 25.7L-133.8 27L-134.1 28L-132.3 32L-135 38L-134.3 40L-131.3 45L-134.8 53L-132.8 58L-131.7 59L-130 59.4L-127 58.1L-125.9 56L-124.5 48L-126.4 44L-126.5 42L-123.1 34L-127.3 30L-129 25.4ZM113 144L112.3 146L113.1 147L115 147.2L116.7 146L117.1 145L116.5 144L115 143.5ZM128 134.9L127 135.2L123.5 140L122.8 142L123.1 143L125 143.9L130 143.2L135 144.1L137.6 143L137.9 142L137.4 141L131 138.2ZM89 -83.4L87 -81.7L86.6 -79L90.2 -76L91.7 -74L92.8 -71L96 -67.4L96.4 -68L95.1 -71L96 -72.6L99.3 -75L98.8 -78L93 -83.5L91 -83.9ZM124 -96.8L123 -95.1L122.6 -91L123.5 -84L124.6 -81L128 -77.6L135 -75.8L136.1 -75L136.6 -73L135 -69.6L131 -64.3L116 -63L113.1 -62L107.8 -53L107.3 -51L107.7 -49L113 -44L115.3 -39L115.6 -38L114.3 -34L117 -32.7L117.3 -37L120 -41.1L124.1 -38L129 -36.3L131 -36.8L131.6 -39L130.2 -42L126.5 -45L124 -45.9L121 -45.9L117 -47.7L116.2 -49L117.2 -51L121 -54L128.4 -58L132 -62.6L135 -62.5L140 -60.4L143 -60L147 -61.7L148.3 -64L147 -71L145.5 -73L141.2 -76L140.3 -81L139 -82L135 -82.4L133 -83.8L129.4 -88L128 -92L126 -95.5L125 -96.6ZM133 -30.3L130.6 -28L126.9 -26L126.2 -25L126.7 -23L129 -20.6L134.9 -22L137.1 -24L136.9 -26L135.1 -30L134 -30.7ZM134 -46.9L133.1 -46L134 -44.2L136 -43.6L137.2 -44L136.5 -46L135 -47ZM145 -51.2L145.5 -50L147 -50.2L147.2 -51L146 -51.9ZM146 -27.4L144 -26L143.6 -25L144 -23L146 -21.3L147.1 -22L148.1 -25L147.4 -27ZM-24 -127L-23 -127L-22 -126.1L-21.1 -124L-22.1 -122L-24 -120.9L-25 -121.1L-25.8 -123L-25 -126ZM-13.4 -120L-8 -120.7L-6.9 -119L-8 -117.6L-15 -115.5L-17 -115.7L-18.4 -117L-17 -118.6ZM-29.2 -116L-27 -116.3L-26.1 -115L-26.4 -114L-28 -113.5L-29.8 -114L-30.1 -115ZM-18.6 -113L-16 -113.7L-13 -112.1L-12 -109L-13 -106.8L-16 -105.7L-18 -106.1L-18.9 -107L-19.9 -111ZM-34.2 -104L-28.9 -103L-26.8 -102L-27.2 -101L-30 -98.6L-33 -97.5L-36 -97.9L-40.6 -100L-40.8 -101L-39.6 -102L-37 -103.4ZM2.6 -103L3.5 -103L4.1 -102L4 -100.7L3 -99.7L1.9 -101ZM-18.5 -98L-18 -98.7L-17 -98.8L-15 -97.3L-15 -95.2L-16 -94.2L-17 -94.1L-18.1 -95ZM44.9 -90L46 -90.9L48 -90.1L49.1 -88L49 -87L48 -86.7L46 -87.6L45 -89ZM26.5 -87L29 -87.2L30.7 -86L31.1 -84L30 -82.1L27.9 -82L25 -84L25 -86ZM-31.7 -80L-31 -80.7L-30 -80.1L-28 -77.2L-25.7 -76L-25.2 -75L-26 -74.1L-28.7 -75L-31 -77.4ZM17 -76L18 -76.5L18.8 -76L19 -74.9L18 -74.4L17 -75ZM-6.2 -75L-4 -75.7L-1.3 -75L-0.1 -73L-0.8 -71L-3 -70.6L-5.9 -72L-6.8 -74ZM33.3 -70L34 -70.3L35 -69.8L36.3 -68L36 -67.2L35 -67.1L33.6 -68L33.1 -69ZM-18.2 -68L-17 -68.3L-15.7 -67L-16.1 -65L-18 -63.8L-19 -64.1L-19.3 -65L-19 -67ZM0.3 -66L1 -66.7L2 -66.8L3.3 -66L3.9 -65L3 -64L1 -63.7L0 -64ZM-58.1 -55L-56 -54.3L-55.2 -52L-56 -43L-58 -38.1L-59 -37.3L-61 -37.1L-63.5 -38L-64.3 -39L-63.5 -45L-63.7 -50L-63.2 -52L-62 -53.5L-61 -54.3ZM-25.1 -50L-23 -50.9L-20 -49.1L-18.9 -46L-18.8 -42L-20.5 -38L-24 -33L-26 -31.4L-28 -31.2L-29.3 -32L-30.7 -34L-33 -40L-33.1 -42L-32 -44.1L-27.4 -47ZM-47.1 -49L-44 -49L-42.2 -47L-42.1 -45L-44 -42.9L-46 -42.5L-47 -42.9L-48.7 -45L-49 -47ZM-73.7 -44L-72 -43.9L-71 -43.3L-68.3 -40L-68.1 -39L-70.1 -37L-74 -35.2L-76 -35.8L-77 -37L-77.7 -40L-76 -42.7ZM0.6 -39L2 -39L3 -38L3.2 -37L2.7 -36L1 -35.7L0 -36.6L-0.2 -38ZM12.7 -32L15 -31.4L16.5 -29L16.3 -27L15.6 -26L13 -24.9L10 -25.8L9.4 -27L10 -30.2L11 -31.4ZM40.4 -31L43 -32L45 -31.1L45.7 -30L45.5 -28L44 -25L42 -23.6L39.4 -24L38.3 -26L38.8 -29ZM86 -29L87 -29.6L89 -29.6L91.2 -28L90.7 -22L90 -20L89 -19.4L87 -20.4L84.3 -24L84 -26ZM-89.2 -24L-87 -24.5L-85.9 -24L-85.6 -23L-87 -20.2L-89 -19.1L-91 -19.7L-91.8 -21L-91 -22.7ZM-118.8 -9L-116 -9.5L-113.9 -8L-112.2 -5L-112.2 -3L-113 -1.7L-119.4 -6L-119.9 -7ZM-34.3 -9L-31 -8.8L-30.4 -8L-30.9 -6L-33 -4.9L-34.3 -5L-35.9 -6L-35.8 -8ZM-112.9 3L-112 2.4L-111.4 3L-112 4ZM95.3 9L97.4 9L97.8 10L97.1 11L96 11.5L94.6 11L94.5 10ZM-34.4 10L-34 9.8L-33 10.5L-33 11.2L-34 12.2L-35.1 11ZM125.7 28L127 27.5L127.5 28L128.3 30L128 31.3L127 31.5L126 30.8L125.4 29ZM96.9 30L98 29.7L99 31L99 33L98 33.6L97 33.1L96.6 32ZM41.9 33L43 32.4L44 33L43.7 35L43 36L42 36.3L41.5 35ZM99.7 56L101 55.4L103 55.7L104.6 57L104.8 59L103 60.2L100 59.9L98.8 58ZM67.2 62L69 61.3L70 61.6L71.1 63L70.7 65L69 65.4L68 64.7L67 63ZM74 74L75 73.4L77 73.5L79.1 75L79.3 76L75.7 78L73 78.1L72.3 77L72.5 76ZM60.8 87L63 86.3L65 87.3L66.7 91L66 93.4L63 93.7L60.7 92L59.7 89ZM-148.2 139L-146 138L-143 138.7L-138.1 142L-135 146.3L-131 146.1L-128.2 147L-128 150L-150 150L-150 142.4ZM-90.1 141L-88 141L-86.5 142L-82.8 150L-93.7 150L-93.1 144L-92 142.2ZM42 143L45 142.2L47.9 143L50.4 145L50.8 147L47.4 150L30.4 150L32 147.9L34 146.4L39 145.4Z"/><path id="vd8" d="M-150 -150L-130.5 -150L-127.9 -145L-127.4 -139L-124 -135.6L-122 -132.4L-121 -132.3L-120 -133.3L-116 -140L-114 -141.6L-106 -142.9L-104.6 -142L-104.6 -141L-106 -138.5L-111 -135L-116 -128.4L-118 -128.5L-121 -131.5L-122 -131.8L-124.8 -130L-127 -129.5L-131 -132.2L-136 -132.7L-143 -137.8L-145.3 -141L-147.6 -147ZM-93 -149L-92.7 -150L-83.7 -150L-82.9 -146L-82 -145.3L-77 -145.6L-70 -144.4L-68.7 -145L-68.2 -147L-71.3 -150L-61 -150L-60.3 -145L-59.5 -143L-56 -137.7L-55 -137.5L-51.9 -141L-50.7 -144L-52 -147L-54.8 -150L-42 -150L-40 -146.6L-37 -143.8L-34 -145.5L-32.9 -147L-34.2 -150L-11.9 -150L-10 -147.6L-7 -147.2L-4 -147.5L-0.8 -150L21.8 -150L21.2 -147L20 -145.9L18 -145.6L13 -147L11 -146.8L9 -145.4L6 -141.4L0 -142.5L-9 -142.1L-13 -144L-17 -143.6L-18.7 -142L-20 -138.5L-33.2 -134L-36 -131L-38.8 -129L-40.9 -125L-49 -122.6L-50 -122.9L-50.8 -124L-52 -128.5L-58 -129.7L-66 -133L-68.2 -136L-70 -137.2L-73 -137.1L-75 -136.3L-75.9 -135L-77 -131L-82 -130.3L-86 -127L-88 -127.1L-91 -131.9L-94 -134.5L-94.3 -136L-94 -136.8L-93 -137.1L-90 -135.4L-88 -135.9L-84 -141L-83.1 -144L-84 -144.8L-89 -144.5L-92 -145L-93.5 -146ZM-38 -142.5L-42 -139.8L-43.7 -137L-45 -132L-44.4 -131L-43 -130.3L-40 -130.1L-34.7 -134L-34.2 -135L-35 -139.1L-37 -142.4ZM31.4 -150L40.6 -150L36.5 -143L37.5 -138L36.7 -136L35 -134.4L33 -135L31.9 -137L31.8 -139L32.9 -143L30.9 -147ZM56.3 -150L57 -150L63.8 -150L59 -147.3L57 -147.9ZM89.6 -150L97.6 -150L100 -148.1L102 -147.7L105 -148.1L108 -150L122.4 -150L123 -148.7L125.7 -150L134.6 -150L134.6 -148L136.5 -144L136.8 -142L136.3 -135L137.4 -133L140.2 -130L140.3 -129L139 -127.9L135 -129.4L134 -130.2L131.9 -134L130 -135.3L128 -135.9L126 -135.8L123.9 -134L123.5 -132L124.2 -127L124 -125.8L123 -124.8L117 -128.9L115 -128.8L112 -127.1L103 -130.4L100 -132L95.7 -137L94.8 -139L94.3 -142ZM54.8 -140L56 -140.6L58 -140.3L58.9 -139L58.3 -137L56 -135.7L51.4 -135L52 -137ZM7.8 -138L9 -138.6L13 -137.9L15 -136.5L18 -132.6L23.7 -131L24.9 -129L25.5 -124L23.4 -123L19 -122.3L14 -125L8.1 -127L7.2 -128L7.1 -129ZM79.1 -136L81 -137L83.1 -136L84.6 -133L86 -127L85.1 -126L84 -125.8L79 -127.6L76 -127.5L74.2 -126L72 -122.2L71 -121.8L69.7 -122L68.7 -123L68.6 -125L71.4 -132L73 -133.5L77 -134.5ZM-3.9 -134L-3 -134.4L-1.8 -134L0.7 -129L0 -128.3L-2.7 -129L-4.7 -131L-5 -132.1ZM-108.5 -126L-107 -126.3L-101 -124.6L-98 -125.6L-97.6 -125L-97.5 -123L-100.9 -112L-100.2 -110L-98 -107L-97.6 -105L-98 -103.9L-100 -104.2L-103 -106.7L-104.8 -111L-108.7 -116L-109.8 -124ZM35.2 -125L37 -125.3L40 -124.3L41.4 -123L41.2 -122L38 -119.4L35 -119.7L33.4 -121L33.8 -123ZM62.5 -125L63 -125.6L64 -125.5L64.4 -124L63 -123.5ZM110.8 -125L112 -126L113 -125.7L116.2 -121L116.8 -119L116 -117L112.4 -112L112.1 -108L111.1 -106L110 -105.3L105 -104.7L101 -102L98 -100.9L90.8 -102L90.5 -104L91.1 -108L93 -109.4L97 -108.8L99 -109.2L100 -110.7L100.3 -114L101.1 -116ZM-147.1 -124L-145 -124.8L-142 -124.5L-135 -121.9L-128 -122.9L-118.2 -118L-114 -115L-113.3 -113L-113.5 -109L-112.8 -105L-113.4 -103L-114 -102.7L-115 -103.2L-117.5 -107L-119.6 -109L-124 -110.4L-127 -109.8L-131.1 -107L-133.1 -105L-134.4 -102L-134.1 -100L-133.3 -99L-130.3 -97L-127 -96.3L-124 -96.9L-122.5 -96L-115.6 -94L-113.5 -89L-113.8 -87L-114.6 -86L-119 -83.7L-122 -83.5L-126 -85.9L-132 -87.4L-139 -91.3L-140.2 -94L-139.5 -102L-139 -103.7L-136.2 -107L-137.1 -110L-139 -111.8L-141 -111.9L-146 -108.5L-150 -107.4L-150 -119.9ZM-67.5 -123L-64 -123.6L-62 -122.5L-60 -120L-56 -116.6L-55.4 -115L-56 -113.5L-57 -112.5L-59 -111.9L-67 -113.6L-69.6 -115L-71.7 -118L-71.9 -121L-71 -122ZM9.2 -118L14 -118.3L16.3 -116L19.4 -114L19.2 -113L17 -112.5L12 -114.2L10 -115.9ZM149.7 -118L150 -118.1L150 -109.5L146.4 -112L142.8 -117L143 -117.4L147 -117.1ZM-87.4 -115L-84 -115.6L-82 -114.1L-80.5 -107L-76.2 -101L-76.1 -100L-79.5 -95L-80.9 -89L-83 -87.5L-88 -85.7L-89 -86.2L-89.9 -89L-88.8 -96L-89 -97L-93.6 -100L-95.4 -102L-94.4 -104L-90 -108L-88.9 -113ZM23.6 -115L27 -114.4L34 -111.3L41 -106.8L45 -105.5L48 -103.6L52 -103.7L56 -102.4L57 -101.8L58 -99.7L59.1 -99L62 -99.7L67 -97L71 -96L73 -94.3L79 -87.1L80 -86.3L84 -85.7L84.9 -85L85.7 -83L86 -78.4L90.3 -75L91.8 -71L97 -62.3L99 -61.2L104 -61.3L106.5 -60L106.9 -58L105 -54L105.7 -50L112.6 -40L113.2 -37L112.4 -34L113 -32.5L115.1 -30L115 -28.8L113 -29.8L111 -28.6L110 -29L108.1 -31L105.1 -36L103.4 -41L100.5 -47L100.7 -48L102.3 -49L102.1 -51L99.4 -53L96.6 -58L91 -62.6L87.5 -67L84.5 -72L83.9 -76L80.1 -78L78 -78.5L71 -84.9L68 -86.4L60.5 -93L53 -96.4L50 -98.3L48 -100.5L45 -100.8L41 -103L35 -105.1L33.6 -106L32 -109.3L30 -109.2L28 -108.3L26 -108.7L22.3 -113L22.3 -114ZM77.4 -112L82 -112.5L83.1 -112L84.1 -110L83.7 -109L81.2 -108L77 -107.5L74.8 -108L73.8 -109L73.7 -110L74.7 -111ZM128.2 -110L131 -110.1L132.4 -109L129 -106.3L126.9 -103L124 -102.7L122.7 -104L122.9 -106ZM112.7 -99L114 -99.7L116 -99.7L118 -99.2L119.3 -98L119.6 -95L118.2 -90L119 -87L121.3 -82L123.7 -79L128 -75.3L132.5 -73L132.3 -71L131 -69.8L121 -67L112 -67L107 -66.3L105 -67.2L103.7 -69L103.2 -71L103.8 -74L103.6 -79L104.9 -81L109 -84.2L112.2 -89L112.7 -91L111.6 -96ZM-102.5 -97L-99 -97.6L-98 -96.5L-97.2 -94L-97.5 -92L-101.5 -88L-102.5 -86L-102.4 -84L-101 -81.5L-98 -79.8L-91 -78.2L-84 -74.3L-77 -73.8L-75.7 -73L-74.6 -70L-74.4 -68L-75.6 -62L-73.8 -56L-74 -53L-75 -52L-80 -49.8L-88 -44.1L-89.1 -42L-90 -37L-91 -35.9L-93 -35.9L-95 -36.8L-97.9 -39L-98.2 -45L-101 -48.3L-101.5 -50L-99 -56.7L-96.1 -62L-95.8 -64L-100.7 -69L-102.8 -76L-107.7 -82L-109.6 -86L-108.5 -94L-107 -95.4ZM133.1 -92L135 -93L140 -92L145 -91.8L146.6 -91L148 -87L150 -86.3L150 -75.9L147 -75.7L144.9 -77L144.2 -79L144.6 -84L143.5 -85L140 -86.1L136 -85.9L134 -86.7L132.6 -89ZM-74 -88L-72 -88L-71.1 -87L-67.8 -79L-68.6 -77L-71 -75.7L-74 -75.9L-75.2 -78L-76.1 -85L-75.3 -87ZM-150 -87L-150 -87.7L-145 -86L-143.6 -84L-143.3 -82L-143.5 -80L-144.7 -78L-150 -75ZM-134 -81L-132 -81.3L-131 -80.9L-128.4 -78L-126.4 -74L-125.3 -69L-123.5 -65L-124 -63L-130 -58.1L-136.6 -56L-138.9 -54L-139 -52L-138.2 -49L-134.4 -45L-133 -42L-133.1 -40L-134.6 -37L-134 -35L-132 -33.1L-127.4 -32L-127.4 -31L-129 -29L-131 -28.6L-133 -29.4L-134.8 -28L-134.6 -26L-132 -24.3L-131.1 -23L-130.5 -20L-131.4 -16L-133 -14.4L-134 -14.1L-136 -14.7L-140 -19.2L-142 -19.8L-147 -19.8L-149 -20.9L-150 -22.4L-150 -43.5L-142 -41.2L-141.3 -43L-142.2 -47L-146 -51L-148 -54.5L-150 -55.2L-150 -70L-146 -66.3L-142 -64.6L-140 -64.8L-139 -65.9L-138.8 -67L-140.1 -71L-140 -74L-136.4 -79ZM-55.5 -78L-50 -77.6L-48 -76.7L-47.3 -75L-46.8 -71L-45 -66.6L-45 -64.9L-45.8 -64L-48 -64.6L-50.6 -67L-52.6 -71L-53.5 -74L-56.1 -77ZM147.6 -58L148 -58.1L149 -58L148.6 -57L148 -56.9L147.1 -57ZM133.4 -57L136 -57.7L138.2 -57L139.3 -56L139.2 -54L137 -52.2L132 -51.6L128 -49.8L125.8 -50L124.2 -51L124.4 -52L125.7 -53L130 -54.8ZM-24.3 -45L-22 -45L-21.2 -44L-21.3 -41L-25 -36.3L-27 -35L-28 -35L-29 -35.6L-30.5 -38L-31.2 -40L-31 -42L-30 -43.1ZM149.9 -42L150 -42.1L150 -34.1L148.9 -39L149.2 -41ZM-120.1 -38L-118.2 -38L-117.8 -36L-119 -33.7L-121.2 -33L-122.5 -34L-122.2 -35ZM123 -34L125 -34.2L127 -33.6L128.4 -32L128.2 -31L126 -30L124 -30.8L122.8 -33ZM140.8 -34L142 -34.2L143.9 -33L144.3 -32L143.8 -31L142 -30L141 -30.1L140 -32ZM132.3 -19L137 -20L139.4 -19L141.3 -14L141.2 -12L140.5 -11L138.2 -10L136 -9.8L132 -10.7L130 -12L129.1 -14L129.2 -16L130.7 -18ZM116.3 -18L117 -18.7L119 -17.3L119.1 -16L118 -14.7L117 -14.8L116.3 -16ZM147 -13L148 -13.7L148.9 -13L148 -11.4L147 -11.2L146.6 -12ZM-136.1 -10L-135 -10.4L-133 -9.7L-130 -7L-128.9 -5L-128.9 -1L-129.8 1L-131 2.1L-134 3.2L-138 2.8L-139 1.8L-139.6 0L-137.4 -8ZM144.7 0L147 -0.5L150 1.6L150 14.7L145 13.2L144 13.4L142.2 15L141.5 17L142.4 19L144 20.3L150 21.7L150 38.7L149 39L148 38.7L144.9 36L140 35.1L138.6 34L137.2 27L132.9 17L133 15L138.7 10L142.1 3ZM-150 3L-150 2.6L-148 3L-144 2.5L-141 4L-140.2 6L-140.3 8L-142.3 12L-144.1 13L-150 14.5ZM-135.6 15L-133 14.4L-130.2 15L-129 16.9L-128.9 19L-129.8 21L-131 22L-137.9 24L-136.4 20L-136.1 16ZM-150 23L-149 24L-148.6 26L-150 28.2ZM-122.9 25L-121 25.2L-120 27L-121 28.8L-123 29.5L-124.2 29L-124.9 27ZM-122.7 39L-122 38.5L-121 38.8L-120 40L-119.9 43L-121 43.9L-123 43.2L-123.6 42L-123.4 40ZM-138.9 42L-137 41.9L-135.5 43L-134.5 45L-134.7 47L-137 49.5L-139 49.9L-142 49.3L-143.6 48L-143.7 46L-142.1 44ZM126.7 44L128 43.7L129 45.3L129.4 50L128.5 55L130.3 59L129.2 61L124.1 65L123.7 66L124.8 72L125.2 80L124 81.1L119 81.2L117 81.8L115.9 83L114.4 87L113 89L111 89.6L109 89.4L107.3 88L107.3 84L110 80L110.6 75L113.4 68L118 62L118 60L116.2 55L116.5 52ZM142.8 48L145 48.4L146.4 50L148.8 54L149.4 57L148 59.4L142 61L140.2 63L139.6 65L140.1 66L142 67.1L144 67.2L148 66.2L150 67.6L150 79.6L136 83.3L131.8 83L129.9 82L129.5 80L135.5 71L137.4 66L136.4 64L132.8 60L132.2 59L132.5 58L136.8 52ZM-123.3 61L-121 61.4L-114 65.1L-112.9 66L-113 68L-115 68.8L-123 69.8L-127 69.4L-134 72.4L-136 72L-138.3 70L-138.7 69L-138.3 67L-137 65L-135 63.2L-133 62.7L-128 62.8ZM-150 70L-150 69.6L-148.7 72L-148.5 74L-148.8 76L-150 78.2ZM-133.4 81L-131 81.2L-129.8 83L-130 87L-131 90.5L-133 91.8L-137 91.8L-139 95.7L-140 96.2L-142 95.7L-143.7 94L-143.7 92L-142 90.6L-138.6 90L-137.7 84L-136 82.1ZM87.4 84L89 83.5L91 84.3L93.7 87L94.1 88L93.7 89L91 90L88 88.4L86.7 86ZM-89.6 87L-88 86.7L-86 88.2L-83.6 93L-75 102.6L-71 105L-66 104.5L-62 105.3L-59.9 107L-57.8 112L-58.2 116L-60 120.3L-61 121.2L-61.7 120L-62.5 115L-64 112.7L-70 108.4L-71 108.1L-73 109.5L-75.4 113L-75.7 120L-78.6 125L-77.7 131L-78 132.2L-79 132.6L-82.8 131L-91 123.3L-92 122.9L-96 123.5L-97 123L-99.1 121L-103.8 119L-109.5 115L-109.7 114L-109.2 113L-101 107.3L-90 106.2L-87 105L-85 103L-84.4 101L-85.1 97L-86.3 94L-90 89ZM-88 115.8L-88.3 117L-87 117.7L-85.3 117L-85 116L-86 115.1ZM-118.4 88L-117 87.1L-116 87.3L-114.7 89L-114.2 91L-115.8 93L-119 93.8L-120 93.1L-120.2 92L-119.8 90ZM124 96L128 95.4L131 96.2L133.1 99L133.1 102L132 103L129 103.6L123 103.3L121 102.7L119.4 101L119.4 99L121.3 97ZM147.3 96L149 96.2L150 96.9L150 105.7L148.7 107L150 109.2L150 115.4L148 114.1L144 114.7L143 113.8L141.2 109L138.7 107L137.3 105L137.3 104L138.2 103L141.5 101L145 97.1ZM89 97L91 96.1L93 96.4L94.5 99L94.1 101L91 102.6L87.7 102L87.2 100ZM-127.3 102L-124 101.4L-122 101.7L-119.8 104L-119.2 106L-122 107L-125.5 106L-128.1 104L-128.3 103ZM83.8 106L87 106.6L91 109L96.6 114L97 116L96.2 117L89 119.6L87 119.4L85 118L82.1 114L80.8 111L81.5 108ZM-148.5 112L-147 112.1L-144 113.8L-139 114.8L-132.9 119L-131.8 120L-130.8 122L-131 124L-131.7 125L-134 126.1L-137 125.5L-140 121.2L-148.5 116L-149.7 113ZM-117.2 117L-112 116.4L-111.2 118L-110.7 123L-111.1 125L-114.2 129L-115.5 132L-114.5 134L-111.6 137L-111.3 140L-114 145.1L-117 147L-119 146.3L-121.3 143L-122.1 139L-121.5 133L-125 129L-126 127L-125.9 126L-125 125L-119.7 124L-118.9 122L-119.7 119L-119.3 118ZM42.8 117L44 116.5L50 116.7L51.4 117L52 118L50.4 119L46 119.8L43.3 119L42.5 118ZM63.2 117L68 117.2L70 118.7L70.4 127L71.6 129L72.8 130L78 132.3L80 132.3L84 131L86 131L90.7 135L91.2 136L91 137.4L87 137.5L84 138.3L81.7 140L79 144.7L76 145.7L74 145.3L73.3 144L72.6 139L71.2 137L65 132.5L63 131.9L60 132.2L58 131.5L56.4 130L55.4 128L55 124.5L56 120.4L57.9 119ZM110.1 118L115 117.1L117 117.4L118 118.6L116.9 126L117.2 128L118.2 130L122.2 133L122.8 135L121.5 138L119 140.3L116 140.5L113.1 139L113.6 133L113.1 130L112.4 128L109 124L108.1 122L108.4 120ZM135.8 120L138 119.6L140 120.1L144 122.7L147 125.7L150 126.7L150 134.6L146 136.6L139 137.6L136 137.5L134 136.4L133.1 134L135 130L134.9 129L133.3 125L133 123L134.1 121ZM8.7 121L11 120.8L12 121.6L14.2 128L13 129.2L8 130.4L5.5 129L5.1 127L7 122.7ZM-44.5 124L-42 123.9L-39.8 125L-38.6 128L-39 130.1L-41 131L-45 129.8L-46.1 127L-45.6 125ZM28.8 125L31 124.2L40 126.2L45 125.7L46.1 126L47 128L46.4 130L45.4 131L41 133.5L31.7 141L28 142L27.3 141L29 136.9L30 135.6L33.4 134L34.3 132L33 130.6L29 130.8L27 130L26.3 129L26.4 128ZM-150 128L-149 128.4L-148.5 130L-150 133ZM-60.6 129L-60 128.1L-59 128.2L-51.4 134L-50.2 137L-51 139.1L-53 139.8L-55 139.6L-58 138.1L-60.5 136L-61.3 134ZM-10.3 137L-9 137.2L-7 138.8L-5.9 142L-6.9 144L-8 144.9L-10 145.7L-12 145.7L-14 144.2L-14.3 142L-13 138.7L-12 137.6ZM60.7 140L63 139.1L65 140.5L66.7 144L66.8 147L64.4 150L56.9 150L58.1 144ZM143.9 140L146 141.1L146.9 143L147.8 148L146.6 150L144 149.7L142 147.9L140.8 146L142 141.5ZM-144.7 142L-142 141.9L-139.6 144L-139.2 146L-139.5 150L-148.7 150L-148.6 147L-146.8 144ZM90.9 142L92 141.6L93 142.4L96.7 150L89.3 150L88.3 148L88.1 146ZM-51.8 143L-49 142.2L-44.4 144L-43.1 146L-43.3 150L-53.5 150L-54.5 148L-54.3 146ZM-90.2 145L-89 144.5L-88 145.1L-85 150L-91.4 150ZM-33 145L-30 144.5L-23 148.1L-17 147.4L-14.5 150L-33.3 150L-34.2 147ZM-72.6 146L-71 145.4L-69 146.1L-67.1 148L-66.6 150L-70.1 150L-71 149.4L-72.4 148ZM14.2 147L16 146.6L19 146.9L20 148.1L20.6 150L11.3 150ZM130.1 147L133 146.9L135 147.8L135.6 149L135.3 150L126.9 150ZM33.9 149L37 148.5L39.6 150L32.7 150ZM117.6 149L120 148.5L121.2 149L121.9 150L111.4 150Z"/><path id="vd9" d="M-145.9 -150L-141.5 -150L-140.5 -148L-139 -147.1L-132.5 -145L-132 -143L-136 -138L-139 -137.8L-141 -138.5L-142.8 -140L-144.1 -143L-144.4 -148ZM-90.2 -150L-86.2 -150L-86.2 -149L-87 -147.8L-89 -147.6L-90 -148.6ZM-50.7 -150L-50 -150L-45.4 -150L-46 -148.1L-47 -147.5ZM34 -150L36.9 -150L36.6 -148L35 -147.1L34 -147.6L33.6 -149ZM114.1 -149L117 -148.9L118.1 -147L117 -143L112 -139L113.8 -135L113.8 -133L112 -131.3L110 -130.7L106 -131.1L103 -132.3L101.2 -134L100.3 -136L100.2 -138L101.2 -143L103 -143.8L107 -144L111 -147.8ZM-28 -146L-26 -146.8L-23.3 -146L-22.4 -144L-22.3 -142L-24 -139.7L-29 -138.5L-30.6 -139L-31.6 -141L-30.9 -143ZM128.1 -145L131 -145.2L133.7 -143L134.2 -140L133 -138.4L130 -138.5L126 -140.5L126.1 -143ZM-64 -140L-63 -140.9L-62 -140.9L-60.8 -140L-59.9 -138L-60.7 -136L-62 -135.8L-63.6 -137L-64.1 -138ZM-49.7 -138L-49 -138.5L-48.4 -138L-49 -136.6L-50 -136.9ZM-83.1 -137L-81 -137.8L-80 -137.3L-79.6 -136L-80 -134.6L-81 -133.9L-83.1 -134L-83.8 -135ZM11.4 -132L12 -132.5L13 -132.2L14.6 -130L14.4 -129L12 -129.3L11 -131ZM-105.6 -122L-103 -121.9L-101.2 -120L-101.5 -117L-103 -114.9L-105 -115.1L-106.4 -117L-106.7 -120ZM-145.9 -121L-144 -121.9L-143 -121.9L-141.3 -121L-141 -120L-145.9 -113L-148 -112L-150 -112.1L-150 -116.5ZM110.9 -121L112 -121.2L113 -120.6L113.7 -119L113.4 -118L111 -116L108.5 -116L107.9 -117L108.2 -118ZM-131.9 -120L-129 -120.9L-125 -119.8L-117.5 -115L-116.5 -113L-116.8 -112L-118 -111.4L-125 -111.9L-132 -110.1L-133.9 -112L-134.7 -116L-134.1 -118ZM-67.3 -118L-66 -118.7L-65 -118.4L-64 -117L-66 -116.5L-67.1 -117ZM10.9 -117L13 -117.6L18 -114L17 -113.5L12.3 -115L11.1 -116ZM23.3 -114L24 -114.5L27 -113.7L31.6 -111L30.6 -110L27 -109.3L23.7 -112ZM-85 -113L-84 -112.6L-83.3 -111L-83.1 -107L-81.8 -102L-83 -100.8L-86 -100.3L-89 -101.3L-89.8 -103L-87.4 -107L-86.5 -112ZM32.5 -110L34 -110.4L36 -109.6L41 -106.5L46 -104.5L48 -102.7L50 -103.2L53 -102.7L56 -100.9L58.9 -98L62 -98.6L70.1 -95L74 -91.5L75 -89L77 -87.9L79 -85.9L84 -83.8L84.9 -82L85.5 -78L89.8 -75L91.2 -71L93.4 -68L96 -62.4L100.3 -58L99 -58L96.4 -59L91 -63L85.2 -71L84.5 -76L84 -76.6L78 -79L73.5 -83L72 -85L68 -87.1L60 -93.8L52 -97.3L49.7 -99L48 -101.6L45 -101.2L35 -105.6L33.7 -107ZM-136.6 -96L-135 -96.1L-128.6 -93L-125.7 -91L-125.3 -90L-130 -89.3L-134.4 -91L-137.1 -93L-137.3 -95ZM-85 -94L-84 -94.1L-83.5 -93L-84 -91.4L-85 -90.8L-86 -91L-86.4 -92ZM-104.5 -93L-103 -93.5L-101.7 -93L-102 -91.5L-104 -89.9L-105 -90L-105.3 -91ZM-120.2 -90L-118.3 -89L-119 -88L-121.8 -89L-121 -89.9ZM-150 -84L-147 -83.8L-145.7 -82L-146.4 -80L-150 -78.5ZM109 -80L110 -79.8L110.7 -78L110.1 -75L109 -74.2L107.4 -75L106.5 -77L107 -78.9ZM-135 -78L-133 -78.9L-131.2 -78L-130 -76L-129.2 -73L-130 -70.7L-134 -68.5L-136 -69L-137.8 -72L-137.2 -75ZM-89.3 -73L-79.6 -72L-78 -71.3L-77 -70L-76.7 -68L-78.3 -61L-78.3 -55L-79.2 -53L-81.5 -51L-85 -48.4L-89.8 -46L-92.6 -41L-94 -40.4L-95 -41.4L-95.4 -46L-97.8 -51L-97.8 -53L-95.2 -58L-89.7 -63L-89.3 -64L-89.7 -66L-92.3 -69L-92.5 -70L-91.3 -72ZM100.8 -54L101 -55L102 -54.3L104 -51.3L104.2 -50L107.7 -46L109 -42.8L112 -39L112.4 -37L111.5 -34L112 -31.3L111 -29.9L110 -30.1L108.4 -32L101.6 -46L101.5 -47L103.8 -50ZM-148.9 -40L-148 -40.3L-146 -39.8L-143 -36.3L-139 -34.2L-137.9 -33L-137.6 -31L-138.8 -27L-138.9 -24L-140 -23.2L-146 -22.7L-148 -24.3L-148.3 -27L-147 -32L-149.4 -37L-149.5 -39ZM-135.2 -20L-134 -20.3L-133.7 -19L-134.8 -19ZM134.8 -18L137 -17.7L138.6 -16L139 -14L137.9 -12L136 -11.5L134 -11.8L132.1 -13L131.6 -14L132 -16.3ZM-135.1 -5L-134 -5.6L-132.6 -4L-132.4 -2L-133 -0.9L-134 -0.5L-135 -0.8L-135.6 -2ZM-149.7 8L-146 7.5L-145.2 8L-145.5 9L-146.7 10L-150 10.6ZM137.7 21L138 20.4L139 20.1L141 21.1L145.7 25L145.4 26L143 27.3L141 26.9L138.3 24ZM140 52L142 51.2L143 51.3L144.3 53L144.3 55L142.8 57L138 59.2L137 58L137.3 56L138.2 54ZM116.7 67L119 66.4L120 67.1L121 69.3L121.7 75L121.1 77L120 77.6L115 77L113.4 75L114.4 70ZM138.2 71L140 70.1L147 71L148.4 73L148 75.6L146.6 77L137 80.9L134 81.2L132.7 80L133 78ZM126 99L128 98.5L129 99L129.2 100L127 100.3ZM85 110L87 109.8L90 111.2L92.3 114L92.5 115L92.1 116L89 117.4L86 116.4L83.9 113L84 111ZM-100 111L-98.7 112L-98.3 114L-99.1 116L-101 116.6L-102.3 116L-103.4 114L-102.4 112ZM112.8 119L115 119.3L115.9 121L115 123.8L114 124.6L112 124L110.4 122L110.8 120ZM64 120L66 119.8L67.6 121L67.9 124L67 126.6L65 127.3L60 126.9L59.3 126L59.7 125L62 121.7ZM137 124L138 123.2L139 123.2L142 124.9L143.2 127L143.1 129L141 129.1L139 128.2L137.2 126ZM145.6 131L147 130.8L147.5 131L147 132ZM77.4 136L79.5 136L79.8 137L78 140.4L77 141.3L76.1 139L76.4 137ZM-118.4 138L-116 137.6L-114.4 139L-114.3 141L-116 143.1L-118 142.5L-118.9 141L-119 139ZM61 143L63 142.6L64.3 145L63 147.7L61 148.6L60 147.7L59.8 146ZM-144.1 145L-143 144.9L-142 146L-142.1 148L-143 149.7L-143.7 150L-145 149.6L-145.8 148L-145.2 146ZM-49.2 146L-48 146L-46.6 147L-46.3 148L-47.1 150L-49.4 150L-50.3 149L-50.5 147Z"/><path id="vd10" d="M-140 -144L-138.7 -143L-138.7 -142L-140 -141.3L-141 -141.8L-141.3 -143ZM104.3 -136L106 -136.6L108 -136L109 -135L109 -134L107 -133.4L105 -133.9L104.1 -135ZM-128.2 -119L-125 -117.9L-123.2 -116L-123.2 -115L-127 -113.4L-130 -113.4L-131.1 -115L-131.1 -117L-130 -118.4ZM23.9 -113L25 -113.7L27 -113.2L30.1 -111L29 -110L27.5 -110L25 -111.5ZM33.8 -109L35 -109.5L36 -109.2L42 -105.6L45 -104.7L47 -103L46.8 -102L45 -101.5L42 -103.3L36 -105.4L34.2 -107ZM48.7 -102L50 -102.8L52 -102.6L56 -100.3L58 -97.8L62 -97.9L69 -94.8L73.1 -91L74 -87.9L77 -87L79.5 -85L82 -84.3L83.9 -83L84.6 -81L84.7 -78L84 -77.3L83 -77.4L78 -79.4L74.1 -83L72 -85.7L68 -87.6L60 -94.2L54 -96.5L51 -98.3L49.3 -100ZM85.2 -76L86 -76.8L87 -76.7L89.4 -75L90.8 -71L93.6 -67L95 -61.5L91 -63.5L85.5 -71L84.9 -73ZM-134.6 -75L-133 -75.6L-132.5 -75L-132.3 -73L-133 -72.1L-134 -71.8L-135 -72.4L-135.2 -74ZM-84.5 -69L-81 -69.4L-79.6 -68L-81.1 -61L-81.4 -54L-82.8 -52L-86 -49.7L-89 -48.9L-92 -48.8L-93.6 -50L-94.8 -52L-94.5 -55L-92 -58.6L-86.8 -62L-85.9 -64L-85.5 -68ZM103.4 -48L104 -48.4L105 -48.1L106.2 -47L108.6 -42L111.3 -39L111.8 -37L110.7 -34L111 -31.6L110 -31.3L109 -32.6L102.6 -45L102.4 -47Z"/><path id="vd11" d="M24.8 -113L27.7 -112L28.6 -111L27 -111.1ZM34.5 -108L35 -108.9L36 -108.7L42 -105.2L45 -104.3L46.4 -103L46 -102L44.6 -102L42 -103.7L36 -105.8L34.7 -107ZM49.4 -102L51 -102.5L53 -101.7L56 -99.8L58 -97.2L62 -97.5L69 -94.1L72.3 -91L73 -88.1L74 -87L77 -86.2L83.3 -83L84.3 -81L84 -78L83 -77.8L78 -79.9L74.6 -83L72.7 -86L69 -87.3L59 -95.3L54 -96.8L51 -98.6L49.7 -100ZM85.8 -76L87 -76.3L89.1 -75L90.5 -71L93.3 -67L94 -63L92 -63.1L91 -64L85.8 -71L85.1 -73ZM-87.6 -59L-85.2 -59L-84 -58.1L-83.3 -56L-83.6 -54L-86 -51.5L-88 -50.8L-90 -50.9L-92 -52.5L-92.1 -55L-90 -58ZM103.1 -47L104 -47.6L106 -46.6L107.9 -42L110.6 -39L111.3 -37L110 -35L109 -34.9L106.6 -38L103.1 -45Z"/><path id="vd12" d="M35.1 -108L37 -108L41.4 -105L40 -104.5L36.4 -106L35.2 -107ZM42.6 -104L44.9 -104L45.9 -103L45 -102.3ZM50.2 -102L52 -101.9L55 -100.3L56.4 -99L57.4 -97L55 -96.7L51 -98.9L49.7 -101ZM59.9 -97L62 -97.1L69 -93.6L72.2 -90L72.5 -88L72 -87.1L69 -87.7L63 -92.1L58.9 -96ZM74.9 -86L77 -85.7L82.7 -83L83.9 -81L84 -79L83 -78.2L82 -78.4L78 -80.2L74.3 -84L74 -85ZM85.5 -75L86 -75.8L87 -76L88 -75.6L89.4 -74L90.2 -71L93.4 -66L93.6 -64L93 -63.4L91.4 -64L88.1 -69L86 -71.2L85.3 -73ZM-88.9 -56L-87 -56.5L-86.2 -56L-85.9 -55L-86.3 -54L-88 -53.2L-89 -53.5L-89.5 -55ZM104 -47L105 -46.9L106 -46L107.6 -41L110.1 -39L110.6 -37L110 -36.2L109 -36.1L108 -37L104 -43.8L103.4 -46Z"/><path id="vd13" d="M35.8 -107L36 -107.5L37 -107.3L39.4 -106L39 -105.6ZM50 -101L51 -101.8L52 -101.6L54.9 -100L56.6 -98L56.3 -97L55 -97L52 -98.5L50.3 -100ZM59.7 -96L61 -96.9L62 -96.8L67.9 -94L71.3 -91L71.9 -88L71 -87.5L69 -88L63 -92.3ZM74.8 -85L77 -85.3L82.2 -83L83.6 -81L83.5 -79L82 -78.7L78 -80.6L74.7 -84ZM85.8 -75L87 -75.7L89 -74.2L90.3 -70L92.8 -67L93 -64L91.8 -64L89 -67.5L88.5 -69L86 -71.6L85.5 -73ZM103.9 -46L105.3 -46L106 -45L106 -43.1L105 -43.3ZM107.9 -39L109.1 -39L109.6 -38L109 -37.2Z"/><path id="vd14" d="M50.5 -101L52 -101.3L54.5 -100L55.7 -99L56 -97.6L55 -97.4L52 -98.8L50.7 -100ZM60.4 -96L62 -96.4L67.4 -94L71 -90.8L71.6 -89L71.2 -88L69 -88.3L63 -92.6ZM76 -85L82 -82.8L83.3 -81L83 -79.1L82 -79L78 -80.9L75.1 -84ZM86.1 -75L87 -75.5L88 -75.1L89 -73.8L89.8 -70L92.5 -67L92.9 -65L92 -64.2L89 -68L88.1 -70L86 -72L85.7 -74Z"/><path id="vd15" d="M51 -100L52 -101L55 -99.3L55.7 -98L54 -97.9ZM61.5 -96L67 -94L71 -90.3L71 -88.5L70 -88.2L69 -88.6L63 -92.9L61.3 -95ZM75.6 -84L77 -84.6L81.1 -83L83 -81.1L83 -79.8L82 -79.4L79 -80.5ZM86.6 -75L87.5 -75L89 -73.3L89 -70.2L87.1 -71L86 -72.5L85.8 -74ZM89.5 -69L90 -69.4L92 -67.6L92.5 -66L92 -64.8L89.4 -68Z"/><path id="vd16" d="M51.7 -100L53 -100.2L54.9 -99L54 -98.4ZM61.9 -95L63 -95.3L66.6 -94L70.1 -91L70.9 -89L70 -88.5L69 -88.9L63.2 -93ZM76.2 -84L77 -84.2L81 -82.8L82.2 -82L82.6 -80L82 -79.7L79 -80.7L76.6 -83ZM86.1 -74L87 -74.9L88 -74.1L89 -72.6L88.8 -71L87.5 -71L86 -73ZM89.8 -68L90 -68.6L91.4 -68L92.1 -67L92 -65.5Z"/><path id="vd17" d="M62.8 -94L63 -94.8L66.2 -94L70 -90.6L70.3 -89L69 -89.3ZM77 -83L78 -83.7L81 -82.5L82.4 -81L82 -80L79.1 -81ZM86.6 -74L87 -74.4L88.3 -73L88.7 -72L88.1 -71L86.5 -73Z"/><path id="vd18" d="M63.3 -94L64 -94.3L66 -93.7L70 -89.8L69 -89.6ZM77.5 -83L78 -83.3L81 -82.2L82 -80.9L79.8 -81Z"/>
<linearGradient id="grdpu"><stop offset="0.000" stop-color="#fff7f3"/><stop offset="0.125" stop-color="#fde0dd"/><stop offset="0.250" stop-color="#fcc5c0"/><stop offset="0.375" stop-color="#fa9fb5"/><stop offset="0.500" stop-color="#f768a1"/><stop offset="0.625" stop-color="#dd3497"/><stop offset="0.750" stop-color="#ae017e"/><stop offset="0.875" stop-color="#7a0177"/><stop offset="1.000" stop-color="#49006a"/></linearGradient>
<linearGradient id="gvir"><stop offset="0.000" stop-color="#440154"/><stop offset="0.111" stop-color="#482878"/><stop offset="0.222" stop-color="#3e4989"/><stop offset="0.333" stop-color="#31688e"/><stop offset="0.444" stop-color="#26828e"/><stop offset="0.556" stop-color="#1f9e89"/><stop offset="0.667" stop-color="#35b779"/><stop offset="0.778" stop-color="#6ece58"/><stop offset="0.889" stop-color="#b5de2b"/><stop offset="1.000" stop-color="#fde725"/></linearGradient>
<linearGradient id="gdiv"><stop offset="0.0000" stop-color="#08214f"/><stop offset="0.0500" stop-color="#08214f"/><stop offset="0.0500" stop-color="#0a3473"/><stop offset="0.1000" stop-color="#0a3473"/><stop offset="0.1000" stop-color="#0b519e"/><stop offset="0.1500" stop-color="#0b519e"/><stop offset="0.1500" stop-color="#1f6fb7"/><stop offset="0.2000" stop-color="#1f6fb7"/><stop offset="0.2000" stop-color="#3b8acb"/><stop offset="0.2500" stop-color="#3b8acb"/><stop offset="0.2500" stop-color="#5aa3d6"/><stop offset="0.3000" stop-color="#5aa3d6"/><stop offset="0.3000" stop-color="#7dc0dc"/><stop offset="0.3500" stop-color="#7dc0dc"/><stop offset="0.3500" stop-color="#a8dce7"/><stop offset="0.4000" stop-color="#a8dce7"/><stop offset="0.4000" stop-color="#d3f0f8"/><stop offset="0.4500" stop-color="#d3f0f8"/><stop offset="0.4500" stop-color="#ecfafd"/><stop offset="0.5000" stop-color="#ecfafd"/><stop offset="0.5000" stop-color="#fde8ec"/><stop offset="0.5500" stop-color="#fde8ec"/><stop offset="0.5500" stop-color="#fcd4d6"/><stop offset="0.6000" stop-color="#fcd4d6"/><stop offset="0.6000" stop-color="#fcb299"/><stop offset="0.6500" stop-color="#fcb299"/><stop offset="0.6500" stop-color="#fb8c68"/><stop offset="0.7000" stop-color="#fb8c68"/><stop offset="0.7000" stop-color="#f66848"/><stop offset="0.7500" stop-color="#f66848"/><stop offset="0.7500" stop-color="#ec3b2c"/><stop offset="0.8000" stop-color="#ec3b2c"/><stop offset="0.8000" stop-color="#cf1c20"/><stop offset="0.8500" stop-color="#cf1c20"/><stop offset="0.8500" stop-color="#ae121b"/><stop offset="0.9000" stop-color="#ae121b"/><stop offset="0.9000" stop-color="#890b16"/><stop offset="0.9500" stop-color="#890b16"/><stop offset="0.9500" stop-color="#64000d"/><stop offset="1.0000" stop-color="#64000d"/></linearGradient>
<g id="ice"><path fill="#fff" d="M-8.5 -73.1C-6.7 -73.6 -4.6 -74.2 -2.4 -74.6C-0.2 -75 2.8 -75.4 4.8 -75.6C6.9 -75.9 8.2 -76.3 9.9 -76.1C11.6 -75.9 13 -75.4 15 -74.6C17 -73.8 20.2 -72.4 22.2 -71.5C24.2 -70.7 25.9 -70.5 26.8 -69.5C27.7 -68.5 27.2 -66.7 27.8 -65.4C28.4 -64.1 29 -62.9 30.3 -61.8C31.6 -60.7 33.7 -60.2 35.4 -58.8C37.1 -57.5 38.8 -55.4 40.5 -53.7C42.2 -52 44 -50.3 45.7 -48.6C47.4 -46.9 49.1 -45.1 50.8 -43.4C52.5 -41.7 54.6 -40 55.9 -38.3C57.3 -36.6 58 -34.9 58.9 -33.2C59.8 -31.5 60.4 -30 61.5 -28.1C62.6 -26.2 64.5 -23.5 65.6 -21.7C66.7 -19.9 67.5 -19.3 68.1 -17.5C68.6 -15.7 69 -13 68.9 -10.9C68.8 -8.8 67.8 -6.7 67.3 -5C66.8 -3.3 66.3 -2.6 66 -0.9C65.7 0.7 65.9 2.8 65.6 4.9C65.3 7 64.6 9.6 64 11.6C63.4 13.6 62.6 14.6 62 16.7C61.4 18.8 61.2 21.8 60.2 24C59.2 26.2 57.6 28 55.8 29.8C54 31.6 51.3 32.9 49.2 34.9C47.1 36.8 45.3 39.3 43.4 41.5C41.5 43.7 39.8 45.9 37.6 48.1C35.4 50.3 32.2 53.3 30.3 54.7C28.5 56.1 28.1 55.9 26.5 56.4C24.9 56.9 23.5 57.2 20.9 57.6C18.3 58 13.9 58.8 11 58.9C8.1 59 6.4 58.5 3.5 58.3C0.6 58.1 -3.1 57.8 -6.4 57.6C-9.7 57.4 -13 57.4 -16.3 57C-19.6 56.6 -23.3 56.1 -26.2 55.2C-29.1 54.3 -31.4 53.3 -33.7 51.4C-36 49.5 -38.3 46.5 -39.9 44C-41.6 41.5 -42.4 39.5 -43.6 36.6C-44.8 33.7 -46 29.9 -47.3 26.6C-48.5 23.3 -50.2 19.4 -51.1 16.7C-52 13.9 -52 13.1 -52.5 10.1C-53 7 -53.5 2.3 -53.8 -1.6C-54.1 -5.5 -54.4 -9.4 -54.4 -13.3C-54.4 -17.2 -54.1 -21 -53.8 -24.9C-53.5 -28.8 -53 -33.4 -52.7 -36.6C-52.4 -39.8 -52.8 -42 -52 -44.3C-51.2 -46.6 -49.9 -48.1 -48.1 -50.3C-46.3 -52.5 -42.6 -55.9 -41.1 -57.3C-39.6 -58.8 -40.7 -57.6 -39.2 -59C-37.7 -60.5 -34.8 -64.3 -32.2 -66C-29.6 -67.8 -26.7 -68.6 -23.5 -69.5C-20.3 -70.5 -15.5 -71.1 -13 -71.7C-10.5 -72.3 -10.3 -72.6 -8.5 -73.1Z"/></g>
<g id="land"><path d="M-49.7 -34.2L-49.6 -30.5L-49.9 -26.4L-48.5 -24.3L-46.3 -21.7L-42.7 -21.5L-39.8 -21.5L-36.3 -20.3L-32.8 -19.3L-29.3 -16.5L-27 -13.7L-24.6 -15.7L-21.1 -17.3L-18 -18.3L-15.3 -21.4L-14.1 -27.3L-13 -33.1L-10.6 -36.6L-8.3 -41.3L-4.8 -43L-0.1 -43.3L4.6 -44.2L11.6 -43.6L17.4 -41.3L21.9 -40.1L26.5 -39.5L28.9 -37.2L33.5 -36.6L38.2 -34.3L42.9 -33.1L45.2 -30.8L45.2 -24.9L46.4 -17.9L42.9 -15L46.4 -12.1L51.1 -7.4L52.8 -1.6L53 4.3L53 10.1L51.9 15.9L50 16.7L50.7 20.3L45.6 26.2L41.2 33.5L36.1 38.6L28.8 41.5L21.5 43L18.1 43.7L9.3 42L7.6 36.7L7.6 26.2L6.9 21.8L5.7 17.1L2.2 12.4L-3 10.5L-4.7 8.7L-5.6 12.2L-8.2 19.2L-10 24.5L-17 24.5L-23.5 22.9L-28.1 20.6L-31.6 17.1L-33.4 12.4L-35.1 7.8L-39.2 5.4L-39.8 0.7L-38.6 -5.1L-38.1 -8.3L-41 -9.4L-43.9 -10.6L-44.5 -15.9L-46 -17.5L-47.9 -18.3L-49.2 -20.3L-50.9 -22.8L-51.3 -26.4L-50.9 -30.5L-50.6 -33.8ZM-114.5 -98.3L-112 -94.7L-109.1 -82L-107.6 -74.7L-109.6 -71.8L-104.7 -64.5L-103.2 -57.2L-101.3 -53.3L-100.2 -51.1L-98 -46.7L-94.7 -42.3L-91.4 -40.2L-88.1 -36.9L-83.8 -33L-78.3 -31.9L-72.8 -33L-71.7 -29.8L-73.9 -27L-78.3 -24.3L-83.8 -22.6L-89.2 -22.6L-94.7 -24.3L-100.2 -27L-105.7 -30.3L-111.1 -31.9L-116.6 -34.1L-122.1 -36.9L-126.5 -40.2L-131.9 -44L-138.5 -45.1L-148.5 -46.3L-158.5 -58.3L-138.5 -98.3ZM36.5 -148.3L42.9 -140.4L42.5 -132.5L44.6 -125.5L50.8 -122.9L59.5 -121.1L66.5 -122L73.5 -127.3L86.5 -133.3L81.5 -158.3ZM65.6 136.7L65.6 129.7L64.8 120L63.2 108.8L64 100.8L68.8 97.5L76.8 95.9L83.3 95.1L88.1 94.3L91.3 95.1L97.7 95.1L105.7 92.7L110.6 87.9L112.2 79.9L113.8 71.8L115.4 63.8L118.6 59L123.4 56.6L128.2 59L133 61.4L141.5 66.7L141.5 141.7ZM58.4 91.1L62 90.5L65.6 91.9L68 95.1L64 96.7L62.4 100.8L60 95.9ZM20.8 96.7L23 97.9L24.7 99.8L24.7 103.5L22.3 105.7L19.3 108.6L16.4 112.2L15 115.9L13.1 117.6L11.6 121L12.1 125.7L15 129L16.5 132.7L12.8 132.2L10.6 129.3L8.4 126.5L4.7 126.3L2.5 123.2L2.7 120.3L5.5 118.1L8.4 115.9L9.9 113.7L12 110.1L14.2 105.7L16.4 101.3L18.6 98.4Z"/><circle cx="-76.1" cy="-45.4" r="2.5"/><circle cx="88.1" cy="-32.9" r="2.0"/><ellipse cx="-49.2" cy="-65.3" rx="1.8" ry="0.6"/></g>
<g id="fronts" fill="none" stroke="#000" stroke-width="1.6" stroke-linejoin="round"><path d="M-9.5 -123.8C-5.1 -124.2 -0.4 -123.1 2.8 -122.9C6 -122.8 7.5 -123.3 9.8 -122.9C12.1 -122.5 14.5 -121.6 16.8 -120.3C19.1 -119 21.8 -116.8 23.8 -115C25.9 -113.3 26.5 -111.6 29.1 -109.8C31.7 -108.1 36.1 -106.1 39.6 -104.5C43.1 -103 46.2 -101.8 50.1 -100.5C54 -99.3 59.4 -97.8 63 -97C66.6 -96.2 69.2 -96.8 71.8 -95.7C74.4 -94.6 76.5 -92.8 78.8 -90.5C81.1 -88.2 83.8 -84.3 85.8 -81.7C87.9 -79.1 89.8 -77 91.1 -74.7C92.4 -72.4 92.8 -70.6 93.7 -67.7C94.6 -64.8 95.4 -60.2 96.3 -57.2C97.2 -54.2 97.5 -51.4 99 -49.8C100.5 -48.2 103.5 -49.3 105.5 -47.5C107.5 -45.8 109 -42.4 111 -39.3C113 -36.2 115.4 -33.2 117.2 -29.1C119 -25 120.5 -19.4 121.6 -14.5C122.7 -9.6 123.6 -4.8 123.8 0.1C124 5 123.6 10.3 123 14.7C122.4 19.1 121.3 22.7 120.1 26.4C118.9 30 116.8 34 115.7 36.6C114.6 39.1 114.1 39.3 113.5 41.7C112.9 44.1 113 48.1 112.2 51C111.4 53.9 110.2 56.1 108.9 59C107.5 61.9 106 65.6 104.1 68.6C102.2 71.5 100.1 74.3 97.7 76.7C95.3 79.1 92.9 81 89.7 83.1C86.5 85.2 82 87.9 78.4 89.5C74.8 91.1 71.2 92 68 92.7C64.8 93.4 62 92.4 59.2 93.5C56.4 94.6 54 97.6 51.1 99.1C48.1 100.5 44.9 100.8 41.5 102.2C38.1 103.5 33.8 106.4 30.7 107.2C27.6 108 26 106.8 23.1 107.2C20.2 107.6 16.3 109.1 13.5 109.7C10.7 110.3 9.8 110.9 6 111C2.2 111.1 -4.8 110.1 -9.2 110.1C-13.6 110.1 -16.4 110.8 -20.5 111C-24.6 111.2 -29.4 111.6 -33.8 111C-38.2 110.4 -43.8 108.4 -47.1 107.2C-50.4 106 -50.6 105.2 -53.6 103.6C-56.6 102 -61.6 100 -65.3 97.8C-69 95.7 -72.5 93.4 -75.8 90.7C-79.1 88 -82 84.7 -85.1 81.4C-88.2 78.1 -91.8 74.2 -94.5 70.9C-97.2 67.6 -99.2 65.1 -101.5 61.6C-103.8 58.1 -106.6 53.6 -108.5 49.9C-110.4 46.2 -111.3 42.8 -112.7 39.2C-114.1 35.6 -115.7 32.3 -116.8 28.1C-117.9 23.9 -119.1 18.8 -119.6 14.2C-120.1 9.6 -119.7 4.9 -119.6 0.3C-119.5 -4.3 -119.1 -9 -118.9 -13.6C-118.7 -18.2 -117.9 -24.3 -118.2 -27.5C-118.5 -30.7 -119.7 -31.3 -121 -33C-122.3 -34.7 -126.3 -36.4 -125.9 -37.9C-125.5 -39.5 -121.4 -40.2 -118.5 -42.3C-115.6 -44.4 -111.1 -47.6 -108.5 -50.3C-105.9 -53 -103.9 -56.1 -103 -58.3C-102.1 -60.5 -103 -61.1 -103.2 -63.6C-103.4 -66.1 -104.5 -71.6 -104 -73.1C-103.5 -74.6 -101.9 -73.2 -100.3 -72.4C-98.7 -71.6 -96.5 -69 -94.5 -68C-92.5 -67 -90.1 -65.5 -88.6 -66.5C-87.1 -67.5 -86.4 -71.6 -85.7 -73.8C-85 -76 -85 -78 -84.3 -79.7C-83.6 -81.4 -82.8 -82.7 -81.3 -84.1C-79.8 -85.6 -77.4 -87.2 -75.5 -88.4C-73.6 -89.6 -71.2 -89.9 -69.7 -91.4C-68.2 -92.9 -68.2 -95.8 -66.7 -97.2C-65.2 -98.7 -62.8 -98.9 -60.9 -100.1C-59 -101.3 -57.2 -103.2 -55.1 -104.5C-52.9 -105.8 -51.2 -106.3 -48 -108C-44.8 -109.8 -39.8 -113 -35.7 -115C-31.6 -117.1 -27.9 -118.8 -23.5 -120.3C-19.1 -121.8 -13.9 -123.4 -9.5 -123.8Z"/><path d="M-14 -96.6C-13.3 -97.3 -12.8 -97.4 -12.2 -97.2C-11.6 -97 -11 -96 -10.5 -95.5C-10 -95 -10.1 -94.4 -9.3 -94C-8.5 -93.7 -7 -93.6 -5.8 -93.4C-4.6 -93.2 -3.5 -93.4 -2.3 -93.1C-1.1 -92.8 -0.2 -91.9 1.5 -91.7C3.2 -91.6 5.5 -92.3 8.1 -92.2C10.6 -92.2 13.9 -92 16.8 -91.4C19.7 -90.8 22.4 -89.6 25.6 -88.7C28.8 -87.8 32.9 -87.4 36.1 -86.1C39.3 -84.8 42.3 -82.6 44.9 -80.9C47.5 -79.2 49.6 -77.3 51.5 -75.8C53.4 -74.3 54.8 -73.1 56.5 -71.9C58.2 -70.7 60.7 -69.6 62 -68.4C63.3 -67.2 63.3 -66.3 64.1 -65C64.9 -63.7 66.3 -62.1 66.9 -60.8C67.5 -59.5 66.8 -58.3 67.6 -57.3C68.4 -56.3 70.5 -55.8 71.8 -54.6C73.1 -53.5 74.4 -51.9 75.2 -50.4C76 -48.9 76 -47 76.6 -45.6C77.2 -44.2 78 -43.4 78.7 -42.1C79.4 -40.8 79.8 -39.1 80.8 -37.9C81.8 -36.8 83.8 -36.1 84.9 -35.2C86 -34.3 86.9 -33.3 87.7 -32.4C88.5 -31.5 89.3 -31.1 89.8 -29.6C90.3 -28.1 90.7 -25.8 90.5 -23.3C90.3 -20.8 89.2 -17 88.5 -14.5C87.8 -12 86.8 -11.3 86.3 -8.3C85.8 -5.3 86 -0.4 85.7 3.5C85.4 7.4 84.9 11.4 84.5 15.3C84.1 19.2 83.8 23.5 83.3 27.1C82.8 30.7 82.7 35.4 81.6 37.1C80.5 38.8 78.3 37.3 76.9 37.1C75.5 36.9 74.3 35.6 73.3 35.9C72.3 36.2 72.4 37.4 71 38.9C69.6 40.4 67.1 43 65.1 44.7C63.1 46.4 60.5 48 59 49.2C57.5 50.4 56.9 50.3 55.8 51.7C54.7 53.1 53 55.9 52.2 57.6C51.3 59.3 51.2 60.6 50.7 62C50.2 63.4 49.9 65.2 49 66.2C48.1 67.2 47.7 67.5 45.5 67.9C43.3 68.2 38.6 68.2 35.6 68.3C32.6 68.4 29 68.2 27.5 68.5C26 68.8 27.8 70.2 26.8 70C25.8 69.8 24.5 68.3 21.6 67.4C18.7 66.5 13.4 64.8 9.3 64.7C5.2 64.5 0.8 65.8 -3 66.5C-6.8 67.2 -9.7 68.5 -13.5 69.1C-17.3 69.7 -21.6 70.4 -25.7 70C-29.8 69.6 -34.7 67.5 -38 66.5C-41.3 65.5 -43.5 65.7 -45.5 63.9C-47.5 62.1 -48.5 57.8 -50.1 55.7C-51.6 53.5 -53.4 53.3 -54.8 51C-56.2 48.7 -57.3 44.6 -58.3 41.7C-59.3 38.8 -60 37.3 -61 33.7C-62 30 -63.7 24.8 -64.5 19.8C-65.3 14.8 -65.6 9.2 -65.7 3.5C-65.8 -2.2 -65.6 -9.1 -65.3 -14.5C-65 -19.9 -64.3 -24.2 -63.8 -29.1C-63.3 -34 -63 -39.8 -62.4 -43.7C-61.8 -47.6 -60.3 -50.1 -60 -52.3C-59.7 -54.5 -60.4 -55.9 -60.7 -57.1C-61.1 -58.3 -62.2 -58.6 -62.1 -59.4C-62 -60.2 -60.5 -60.5 -60.1 -61.8C-59.7 -63.1 -59.7 -65.5 -59.5 -67C-59.3 -68.5 -59.5 -70.1 -58.9 -70.8C-58.3 -71.5 -57.1 -70.7 -56 -71.1C-54.9 -71.5 -53.3 -72.6 -52.5 -73.4C-51.7 -74.2 -52.2 -75 -51.3 -75.8C-50.4 -76.6 -48.7 -77.5 -47.2 -78.1C-45.7 -78.7 -44 -79.2 -42.5 -79.6C-41 -80 -39.8 -80.4 -38.5 -80.7C-37.2 -81.1 -36.3 -81.1 -35 -81.7C-33.7 -82.3 -32.3 -83.7 -30.9 -84.4C-29.5 -85.1 -28 -85.5 -26.8 -86.1C-25.6 -86.7 -25.1 -87.2 -23.9 -87.9C-22.7 -88.6 -21.1 -89.3 -19.8 -90.2C-18.5 -91.1 -17.3 -92 -16.3 -93.1C-15.3 -94.2 -14.7 -95.9 -14 -96.6Z"/></g>
<g id="grat" font-size="8.6" text-anchor="middle" fill="#111"><circle r="147" fill="none" stroke="#333" stroke-width="0.8"/>
<path d="M0 -147L0 -150.5M73.5 -127.3L75.2 -130.3M127.3 -73.5L130.3 -75.3M147 0L150.5 0M127.3 73.5L130.3 75.2M73.5 127.3L75.2 130.3M0 147L0 150.5M-73.5 127.3L-75.2 130.3M-127.3 73.5L-130.3 75.2M-147 0L-150.5 0M-127.3 -73.5L-130.3 -75.3M-73.5 -127.3L-75.2 -130.3" stroke="#333" stroke-width="0.8"/>
<text transform="translate(0 -154.4) rotate(0)" y="3">0<tspan dy="-3.3" font-size="6">o</tspan></text>
<text transform="translate(77.2 -133.7) rotate(30)" y="3">30<tspan dy="-3.3" font-size="6">o</tspan><tspan dy="3.3">E</tspan></text>
<text transform="translate(133.7 -77.2) rotate(60)" y="3">60<tspan dy="-3.3" font-size="6">o</tspan><tspan dy="3.3">E</tspan></text>
<text transform="translate(154.4 0) rotate(90)" y="3">90<tspan dy="-3.3" font-size="6">o</tspan><tspan dy="3.3">E</tspan></text>
<text transform="translate(135.6 78.3) rotate(-60)" y="3">120<tspan dy="-3.3" font-size="6">o</tspan><tspan dy="3.3">E</tspan></text>
<text transform="translate(77.9 134.9) rotate(-30)" y="3">150<tspan dy="-3.3" font-size="6">o</tspan><tspan dy="3.3">E</tspan></text>
<text transform="translate(0 157) rotate(0)" y="3">180<tspan dy="-3.3" font-size="6">o</tspan><tspan dy="3.3">W</tspan></text>
<text transform="translate(-77.9 134.9) rotate(30)" y="3">150<tspan dy="-3.3" font-size="6">o</tspan><tspan dy="3.3">W</tspan></text>
<text transform="translate(-135.6 78.3) rotate(60)" y="3">120<tspan dy="-3.3" font-size="6">o</tspan><tspan dy="3.3">W</tspan></text>
<text transform="translate(-154.4 0) rotate(-90)" y="3">90<tspan dy="-3.3" font-size="6">o</tspan><tspan dy="3.3">W</tspan></text>
<text transform="translate(-133.7 -77.2) rotate(-60)" y="3">60<tspan dy="-3.3" font-size="6">o</tspan><tspan dy="3.3">W</tspan></text>
<text transform="translate(-77.2 -133.7) rotate(-30)" y="3">30<tspan dy="-3.3" font-size="6">o</tspan><tspan dy="3.3">W</tspan></text></g>
<g id="latlab" font-size="7.5" fill="#222"><text x="11.5" y="72.5" text-anchor="middle">60<tspan dy="-2.5" font-size="5">o</tspan><tspan dy="2.5">S</tspan></text>
<text x="17" y="123.5" text-anchor="middle">S</text><path d="M-8 118.8h5M-3.6 22.1h5" stroke="#555" stroke-width="0.6"/><ellipse cx="-7.1" cy="22.4" rx="1" ry="2" fill="#111"/></g>
</defs>

<g transform="translate(158.5 158.3)">
<g clip-path="url(#cc)">
<rect x="-150" y="-150" width="300" height="300" fill="#fff4f0"/><use href="#va1" fill="#feeeea"/><use href="#va2" fill="#fee8e4"/><use href="#va3" fill="#fde2de"/><use href="#va4" fill="#fddbd7"/><use href="#va5" fill="#fdd3cf"/><use href="#va6" fill="#fcccc8"/><use href="#va7" fill="#fcc5c0"/><use href="#va8" fill="#fbbbbd"/><use href="#va9" fill="#fbb1ba"/><use href="#va10" fill="#faa7b7"/><use href="#va11" fill="#fa9bb4"/><use href="#va12" fill="#f98dae"/><use href="#va13" fill="#f87ea9"/><use href="#va14" fill="#f76fa4"/><use href="#va15" fill="#f461a0"/><use href="#va16" fill="#ed539d"/><use href="#va17" fill="#e6459a"/><use href="#va18" fill="#df3798"/><use href="#va19" fill="#d42a92"/><use href="#va20" fill="#c71c8b"/><use href="#va21" fill="#bb0f85"/><use href="#va22" fill="#ae017e"/><use href="#va23" fill="#a0017c"/><use href="#va24" fill="#92017a"/><use href="#va25" fill="#840178"/><use href="#va26" fill="#770176"/><use href="#va27" fill="#6a0173"/><use href="#va28" fill="#5d006f"/><use href="#va29" fill="#50006c"/>
<path d="M-105 -74.3C-104.8 -76.7 -102 -74.5 -101 -72.8C-100 -71.1 -100 -66.9 -99 -64.3C-98 -61.7 -96.7 -59.5 -95 -57.3C-93.3 -55.1 -91.1 -52.8 -89 -51.3C-86.9 -49.8 -84.6 -49.8 -82.5 -48.3C-80.4 -46.8 -77.8 -44.5 -76.5 -42.3C-75.2 -40.1 -73.8 -36.6 -74.5 -35.3C-75.2 -34 -77.8 -33.6 -80.5 -34.3C-83.2 -35.1 -87.5 -37.5 -90.5 -39.8C-93.5 -42.1 -96.5 -45.2 -98.5 -48.3C-100.5 -51.4 -101.4 -54 -102.5 -58.3C-103.6 -62.6 -105.2 -71.9 -105 -74.3Z" fill="#fde8e8" opacity="0.85" filter="url(#bl1)"/><path d="M-102 -71.3C-101.3 -70 -99.5 -65.6 -98 -63.3C-96.5 -61 -94.8 -59 -93 -57.3C-91.2 -55.6 -89.4 -54.2 -87.5 -53.3C-85.6 -52.4 -83.5 -52.4 -81.5 -51.8C-79.5 -51.2 -76.5 -50.1 -75.5 -49.8" fill="none" stroke="#cf2b8f" stroke-width="4" stroke-linecap="round" opacity="0.75" filter="url(#bl1)"/>
<use href="#ice"/><use href="#land"/>
</g>
<use href="#fronts"/><use href="#latlab"/><use href="#grat"/>
<text x="-11.6" y="65.9" font-size="12" fill="#000">PF</text>
<text transform="translate(-96.3 65.9) rotate(55)" font-size="13" fill="#000">STF</text>
</g>
<text x="11.699999999999989" y="17.5" font-size="16" font-weight="bold" fill="#000">a</text>
<g transform="translate(526.5 158.3)">
<g clip-path="url(#cc)">
<rect x="-150" y="-150" width="300" height="300" fill="#450659"/><use href="#vb1" fill="#461163"/><use href="#vb2" fill="#471c6d"/><use href="#vb3" fill="#482777"/><use href="#vb4" fill="#45317d"/><use href="#vb5" fill="#433a81"/><use href="#vb6" fill="#404386"/><use href="#vb7" fill="#3d4c8a"/><use href="#vb8" fill="#39558b"/><use href="#vb9" fill="#355e8c"/><use href="#vb10" fill="#32678e"/><use href="#vb11" fill="#2e6e8e"/><use href="#vb12" fill="#2b758e"/><use href="#vb13" fill="#287d8e"/><use href="#vb14" fill="#25848e"/><use href="#vb15" fill="#238c8c"/><use href="#vb16" fill="#22948b"/><use href="#vb17" fill="#209c89"/><use href="#vb18" fill="#23a386"/><use href="#vb19" fill="#2aaa81"/><use href="#vb20" fill="#30b17d"/><use href="#vb21" fill="#38b877"/><use href="#vb22" fill="#48bf6e"/><use href="#vb23" fill="#58c565"/><use href="#vb24" fill="#68cb5c"/><use href="#vb25" fill="#7ad150"/><use href="#vb26" fill="#8ed544"/><use href="#vb27" fill="#a2da37"/><use href="#vb28" fill="#b6de2b"/><use href="#vb29" fill="#cae129"/><use href="#vb30" fill="#dfe328"/><use href="#vb31" fill="#f3e626"/>
<g mask="url(#mn3)"><rect x="-150" y="-150" width="300" height="300" fill="#450659"/><use href="#vb1" fill="#450659"/><use href="#vb2" fill="#461163"/><use href="#vb3" fill="#471c6d"/><use href="#vb4" fill="#482777"/><use href="#vb5" fill="#45317d"/><use href="#vb6" fill="#433a81"/><use href="#vb7" fill="#404386"/><use href="#vb8" fill="#3d4c8a"/><use href="#vb9" fill="#39558b"/><use href="#vb10" fill="#355e8c"/><use href="#vb11" fill="#32678e"/><use href="#vb12" fill="#2e6e8e"/><use href="#vb13" fill="#2b758e"/><use href="#vb14" fill="#287d8e"/><use href="#vb15" fill="#25848e"/><use href="#vb16" fill="#238c8c"/><use href="#vb17" fill="#22948b"/><use href="#vb18" fill="#209c89"/><use href="#vb19" fill="#23a386"/><use href="#vb20" fill="#2aaa81"/><use href="#vb21" fill="#30b17d"/><use href="#vb22" fill="#38b877"/><use href="#vb23" fill="#48bf6e"/><use href="#vb24" fill="#58c565"/><use href="#vb25" fill="#68cb5c"/><use href="#vb26" fill="#7ad150"/><use href="#vb27" fill="#8ed544"/><use href="#vb28" fill="#a2da37"/><use href="#vb29" fill="#b6de2b"/><use href="#vb30" fill="#cae129"/><use href="#vb31" fill="#dfe328"/></g>
<g mask="url(#mn4)"><rect x="-150" y="-150" width="300" height="300" fill="#461163"/><use href="#vb1" fill="#471c6d"/><use href="#vb2" fill="#482777"/><use href="#vb3" fill="#45317d"/><use href="#vb4" fill="#433a81"/><use href="#vb5" fill="#404386"/><use href="#vb6" fill="#3d4c8a"/><use href="#vb7" fill="#39558b"/><use href="#vb8" fill="#355e8c"/><use href="#vb9" fill="#32678e"/><use href="#vb10" fill="#2e6e8e"/><use href="#vb11" fill="#2b758e"/><use href="#vb12" fill="#287d8e"/><use href="#vb13" fill="#25848e"/><use href="#vb14" fill="#238c8c"/><use href="#vb15" fill="#22948b"/><use href="#vb16" fill="#209c89"/><use href="#vb17" fill="#23a386"/><use href="#vb18" fill="#2aaa81"/><use href="#vb19" fill="#30b17d"/><use href="#vb20" fill="#38b877"/><use href="#vb21" fill="#48bf6e"/><use href="#vb22" fill="#58c565"/><use href="#vb23" fill="#68cb5c"/><use href="#vb24" fill="#7ad150"/><use href="#vb25" fill="#8ed544"/><use href="#vb26" fill="#a2da37"/><use href="#vb27" fill="#b6de2b"/><use href="#vb28" fill="#cae129"/><use href="#vb29" fill="#dfe328"/><use href="#vb30" fill="#f3e626"/><use href="#vb31" fill="#f3e626"/></g>
<path d="M-102 -71.3C-101.3 -70 -99.5 -65.6 -98 -63.3C-96.5 -61 -94.8 -59 -93 -57.3C-91.2 -55.6 -89.4 -54.2 -87.5 -53.3C-85.6 -52.4 -83.5 -52.4 -81.5 -51.8C-79.5 -51.2 -76.5 -50.1 -75.5 -49.8" fill="none" stroke="#2a9a8a" stroke-width="3.5" stroke-linecap="round" opacity="0.85" filter="url(#bl1)"/>
<use href="#ice"/><use href="#land"/>
</g>
<use href="#fronts"/><use href="#latlab"/><use href="#grat"/>
<text transform="translate(-101.1 52.4) rotate(50)" font-size="11.5" fill="#000">Light limited</text>
<text transform="translate(-115.4 65.7) rotate(50)" font-size="11.5" fill="#000">NO<tspan font-size="8" dy="3.5">3</tspan><tspan dy="-3.5"> limited</tspan></text>
<path d="M-42.5 93.7L-69 119.7" stroke="#000" stroke-width="2.4"/>
<path d="M-37.3 88.3L-46.1 92.3L-42.8 93.9L-41.4 97zM-74.2 124.8L-70.5 116L-68.9 119.3L-64.7 121.1z" fill="#000"/>
</g>
<text x="379.7" y="17.5" font-size="16" font-weight="bold" fill="#000">b</text>
<g transform="translate(158.5 525.8)">
<g clip-path="url(#cc)">
<rect x="-150" y="-150" width="300" height="300" fill="#08214f"/><use href="#vc1" fill="#0a3473"/><use href="#vc2" fill="#0b519e"/><use href="#vc3" fill="#1f6fb7"/><use href="#vc4" fill="#3b8acb"/><use href="#vc5" fill="#5aa3d6"/><use href="#vc6" fill="#7dc0dc"/><use href="#vc7" fill="#a8dce7"/><use href="#vc8" fill="#d3f0f8"/><use href="#vc9" fill="#ecfafd"/><use href="#vc10" fill="#fde8ec"/><use href="#vc11" fill="#fcd4d6"/><use href="#vc12" fill="#fcb299"/><use href="#vc13" fill="#fb8c68"/><use href="#vc14" fill="#f66848"/><use href="#vc15" fill="#ec3b2c"/><use href="#vc16" fill="#cf1c20"/><use href="#vc17" fill="#ae121b"/><use href="#vc18" fill="#890b16"/><use href="#vc19" fill="#64000d"/>
<g mask="url(#mn1)"><rect x="-150" y="-150" width="300" height="300" fill="#08214f"/><use href="#vc1" fill="#0a3473"/><use href="#vc2" fill="#0b519e"/><use href="#vc3" fill="#1f6fb7"/><use href="#vc4" fill="#3b8acb"/><use href="#vc5" fill="#5aa3d6"/><use href="#vc6" fill="#7dc0dc"/><use href="#vc7" fill="#a8dce7"/><use href="#vc8" fill="#d3f0f8"/><use href="#vc9" fill="#ecfafd"/><use href="#vc10" fill="#fde8ec"/><use href="#vc11" fill="#fde8ec"/><use href="#vc12" fill="#fcd4d6"/><use href="#vc13" fill="#fcb299"/><use href="#vc14" fill="#fb8c68"/><use href="#vc15" fill="#f66848"/><use href="#vc16" fill="#ec3b2c"/><use href="#vc17" fill="#cf1c20"/><use href="#vc18" fill="#ae121b"/><use href="#vc19" fill="#890b16"/></g>
<g clip-path="url(#cstf)"><g mask="url(#mn5)"><rect x="-150" y="-150" width="300" height="300" fill="#08214f"/><use href="#vc1" fill="#0a3473"/><use href="#vc2" fill="#0b519e"/><use href="#vc3" fill="#1f6fb7"/><use href="#vc4" fill="#3b8acb"/><use href="#vc5" fill="#5aa3d6"/><use href="#vc6" fill="#7dc0dc"/><use href="#vc7" fill="#a8dce7"/><use href="#vc8" fill="#d3f0f8"/><use href="#vc9" fill="#ecfafd"/><use href="#vc10" fill="#fde8ec"/><use href="#vc11" fill="#fde8ec"/><use href="#vc12" fill="#fde8ec"/><use href="#vc13" fill="#fde8ec"/><use href="#vc14" fill="#fde8ec"/><use href="#vc15" fill="#fcd4d6"/><use href="#vc16" fill="#fcb299"/><use href="#vc17" fill="#fb8c68"/><use href="#vc18" fill="#f66848"/><use href="#vc19" fill="#ec3b2c"/></g></g>
<g clip-path="url(#cstf)"><g mask="url(#mn2)"><rect x="-150" y="-150" width="300" height="300" fill="#0a3473"/><use href="#vc1" fill="#0b519e"/><use href="#vc2" fill="#1f6fb7"/><use href="#vc3" fill="#3b8acb"/><use href="#vc4" fill="#5aa3d6"/><use href="#vc5" fill="#7dc0dc"/><use href="#vc6" fill="#a8dce7"/><use href="#vc7" fill="#d3f0f8"/><use href="#vc8" fill="#ecfafd"/><use href="#vc9" fill="#fde8ec"/><use href="#vc10" fill="#fcd4d6"/><use href="#vc11" fill="#fcb299"/><use href="#vc12" fill="#fb8c68"/><use href="#vc13" fill="#f66848"/><use href="#vc14" fill="#ec3b2c"/><use href="#vc15" fill="#cf1c20"/><use href="#vc16" fill="#ae121b"/><use href="#vc17" fill="#890b16"/><use href="#vc18" fill="#64000d"/><use href="#vc19" fill="#64000d"/></g></g>
<path d="M-102 -71.3C-101.3 -70 -99.5 -65.6 -98 -63.3C-96.5 -61 -94.8 -59 -93 -57.3C-91.2 -55.6 -89.4 -54.2 -87.5 -53.3C-85.6 -52.4 -83.5 -52.4 -81.5 -51.8C-79.5 -51.2 -76.5 -50.1 -75.5 -49.8" fill="none" stroke="#a8dce7" stroke-width="3.5" stroke-linecap="round" opacity="0.9" filter="url(#bl1)"/>
<use href="#ice"/><use href="#land"/>
</g>
<use href="#fronts"/><use href="#latlab"/><use href="#grat"/>
</g>
<text x="11.699999999999989" y="384.99999999999994" font-size="16" font-weight="bold" fill="#000">c</text>
<g transform="translate(526.5 525.8)">
<g clip-path="url(#cc)">
<rect x="-150" y="-150" width="300" height="300" fill="#08214f"/><use href="#vd1" fill="#0a3473"/><use href="#vd2" fill="#0b519e"/><use href="#vd3" fill="#1f6fb7"/><use href="#vd4" fill="#3b8acb"/><use href="#vd5" fill="#5aa3d6"/><use href="#vd6" fill="#7dc0dc"/><use href="#vd7" fill="#a8dce7"/><use href="#vd8" fill="#d3f0f8"/><use href="#vd9" fill="#ecfafd"/><use href="#vd10" fill="#fde8ec"/><use href="#vd11" fill="#fcd4d6"/><use href="#vd12" fill="#fcb299"/><use href="#vd13" fill="#fb8c68"/><use href="#vd14" fill="#f66848"/><use href="#vd15" fill="#ec3b2c"/><use href="#vd16" fill="#cf1c20"/><use href="#vd17" fill="#ae121b"/><use href="#vd18" fill="#890b16"/>
<g mask="url(#mn1)"><rect x="-150" y="-150" width="300" height="300" fill="#0b519e"/><use href="#vd1" fill="#1f6fb7"/><use href="#vd2" fill="#3b8acb"/><use href="#vd3" fill="#5aa3d6"/><use href="#vd4" fill="#7dc0dc"/><use href="#vd5" fill="#a8dce7"/><use href="#vd6" fill="#d3f0f8"/><use href="#vd7" fill="#ecfafd"/><use href="#vd8" fill="#ecfafd"/><use href="#vd9" fill="#ecfafd"/><use href="#vd10" fill="#fde8ec"/><use href="#vd11" fill="#fcd4d6"/><use href="#vd12" fill="#fcb299"/><use href="#vd13" fill="#fb8c68"/><use href="#vd14" fill="#f66848"/><use href="#vd15" fill="#ec3b2c"/><use href="#vd16" fill="#cf1c20"/><use href="#vd17" fill="#ae121b"/><use href="#vd18" fill="#890b16"/></g>
<g mask="url(#mn2)"><rect x="-150" y="-150" width="300" height="300" fill="#08214f"/><use href="#vd1" fill="#08214f"/><use href="#vd2" fill="#0a3473"/><use href="#vd3" fill="#0b519e"/><use href="#vd4" fill="#1f6fb7"/><use href="#vd5" fill="#3b8acb"/><use href="#vd6" fill="#5aa3d6"/><use href="#vd7" fill="#7dc0dc"/><use href="#vd8" fill="#a8dce7"/><use href="#vd9" fill="#d3f0f8"/><use href="#vd10" fill="#ecfafd"/><use href="#vd11" fill="#fde8ec"/><use href="#vd12" fill="#fcd4d6"/><use href="#vd13" fill="#fcb299"/><use href="#vd14" fill="#fb8c68"/><use href="#vd15" fill="#f66848"/><use href="#vd16" fill="#ec3b2c"/><use href="#vd17" fill="#cf1c20"/><use href="#vd18" fill="#ae121b"/></g>
<path d="M-102 -71.3C-101.3 -70 -99.5 -65.6 -98 -63.3C-96.5 -61 -94.8 -59 -93 -57.3C-91.2 -55.6 -89.4 -54.2 -87.5 -53.3C-85.6 -52.4 -83.5 -52.4 -81.5 -51.8C-79.5 -51.2 -76.5 -50.1 -75.5 -49.8" fill="none" stroke="#f7b2a0" stroke-width="3.5" stroke-linecap="round" opacity="0.9" filter="url(#bl1)"/>
<g clip-path="url(#cpf)"><rect x="-150" y="-150" width="300" height="300" fill="#ef4a3a" mask="url(#mn6)" opacity="0.85"/></g>
<use href="#ice"/><use href="#land"/>
</g>
<use href="#fronts"/><use href="#latlab"/><use href="#grat"/>
</g>
<text x="379.7" y="384.99999999999994" font-size="16" font-weight="bold" fill="#000">d</text>
<rect x="11" y="320.3" width="295" height="7.3" fill="url(#grdpu)" stroke="#333" stroke-width="0.8"/>
<path d="M11 327.6v-2M60.2 327.6v-2M109.3 327.6v-2M158.5 327.6v-2M207.7 327.6v-2M256.8 327.6v-2M306 327.6v-2" stroke="#333" stroke-width="0.7"/>
<text x="11" y="339.1" text-anchor="middle" font-size="8.6">0</text>
<text x="60.2" y="339.1" text-anchor="middle" font-size="8.6">5</text>
<text x="109.3" y="339.1" text-anchor="middle" font-size="8.6">10</text>
<text x="158.5" y="339.1" text-anchor="middle" font-size="8.6">15</text>
<text x="207.7" y="339.1" text-anchor="middle" font-size="8.6">20</text>
<text x="256.8" y="339.1" text-anchor="middle" font-size="8.6">25</text>
<text x="306" y="339.1" text-anchor="middle" font-size="8.6">30</text>
<text x="158.5" y="353.7" text-anchor="middle" font-size="9.85">NO<tspan font-size="7" dy="2.5">3</tspan><tspan dy="-2.5"> climatology (mmol m</tspan><tspan font-size="7" dy="-3.5">-3</tspan><tspan dy="3.5">)</tspan></text>
<rect x="379" y="320.3" width="295" height="7.3" fill="url(#gvir)" stroke="#333" stroke-width="0.8"/>
<path d="M379 327.6v-2M415.9 327.6v-2M452.8 327.6v-2M489.6 327.6v-2M526.5 327.6v-2M563.4 327.6v-2M600.2 327.6v-2M637.1 327.6v-2M674 327.6v-2" stroke="#333" stroke-width="0.7"/>
<text x="379" y="339.1" text-anchor="middle" font-size="8.6">2</text>
<text x="415.9" y="339.1" text-anchor="middle" font-size="8.6">4</text>
<text x="452.8" y="339.1" text-anchor="middle" font-size="8.6">6</text>
<text x="489.6" y="339.1" text-anchor="middle" font-size="8.6">8</text>
<text x="526.5" y="339.1" text-anchor="middle" font-size="8.6">10</text>
<text x="563.4" y="339.1" text-anchor="middle" font-size="8.6">12</text>
<text x="600.2" y="339.1" text-anchor="middle" font-size="8.6">14</text>
<text x="637.1" y="339.1" text-anchor="middle" font-size="8.6">16</text>
<text x="674" y="339.1" text-anchor="middle" font-size="8.6">18</text>
<text x="525.8" y="353.7" text-anchor="middle" font-size="9.85">MLD averaged irradiance climatology (<tspan font-style="italic">μ</tspan> Mol quanta m<tspan font-size="7" dy="-3.5">-2</tspan><tspan dy="3.5"> s</tspan><tspan font-size="7" dy="-3.5">-1</tspan><tspan dy="3.5">)</tspan></text>
<rect x="11" y="687.4" width="295" height="7.4" fill="url(#gdiv)" stroke="#333" stroke-width="0.8"/>
<path d="M11 694.8v-2M40.5 694.8v-2M70 694.8v-2M99.5 694.8v-2M129 694.8v-2M158.5 694.8v-2M188 694.8v-2M217.5 694.8v-2M247 694.8v-2M276.5 694.8v-2M306 694.8v-2" stroke="#333" stroke-width="0.7"/>
<text x="10.5" y="706.3" text-anchor="middle" font-size="8.6">-100</text>
<text x="39.4" y="706.3" text-anchor="middle" font-size="8.6">-80</text>
<text x="68.7" y="706.3" text-anchor="middle" font-size="8.6">-60</text>
<text x="98.1" y="706.3" text-anchor="middle" font-size="8.6">-40</text>
<text x="127.5" y="706.3" text-anchor="middle" font-size="8.6">-20</text>
<text x="154.4" y="706.3" text-anchor="middle" font-size="8.6">0</text>
<text x="184.9" y="706.3" text-anchor="middle" font-size="8.6">20</text>
<text x="214.5" y="706.3" text-anchor="middle" font-size="8.6">40</text>
<text x="244" y="706.3" text-anchor="middle" font-size="8.6">60</text>
<text x="273.8" y="706.3" text-anchor="middle" font-size="8.6">80</text>
<text x="304.8" y="706.3" text-anchor="middle" font-size="8.6">100</text>
<text x="158.1" y="719.4" text-anchor="middle" font-size="9.85">MLD averaged irradiance anomaly (MHW) %</text>
<rect x="379" y="687.4" width="295" height="7.4" fill="url(#gdiv)" stroke="#333" stroke-width="0.8"/>
<path d="M379 694.8v-2M408.5 694.8v-2M438 694.8v-2M467.5 694.8v-2M497 694.8v-2M526.5 694.8v-2M556 694.8v-2M585.5 694.8v-2M615 694.8v-2M644.5 694.8v-2M674 694.8v-2" stroke="#333" stroke-width="0.7"/>
<text x="378.5" y="706.3" text-anchor="middle" font-size="8.6">-100</text>
<text x="407.4" y="706.3" text-anchor="middle" font-size="8.6">-80</text>
<text x="436.7" y="706.3" text-anchor="middle" font-size="8.6">-60</text>
<text x="466.1" y="706.3" text-anchor="middle" font-size="8.6">-40</text>
<text x="495.5" y="706.3" text-anchor="middle" font-size="8.6">-20</text>
<text x="522.4" y="706.3" text-anchor="middle" font-size="8.6">0</text>
<text x="552.9" y="706.3" text-anchor="middle" font-size="8.6">20</text>
<text x="582.5" y="706.3" text-anchor="middle" font-size="8.6">40</text>
<text x="612" y="706.3" text-anchor="middle" font-size="8.6">60</text>
<text x="641.8" y="706.3" text-anchor="middle" font-size="8.6">80</text>
<text x="672.8" y="706.3" text-anchor="middle" font-size="8.6">100</text>
<text x="526.2" y="719.4" text-anchor="middle" font-size="9.85">MLD averaged irradiance anomaly (MCS) %</text>
</svg></body></html>
